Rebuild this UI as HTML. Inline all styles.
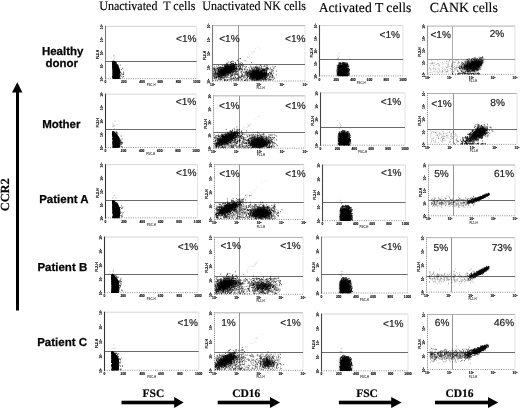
<!DOCTYPE html>
<html><head><meta charset="utf-8"><title>Figure</title>
<style>
html,body{margin:0;padding:0;background:#fff;}
svg{display:block}
text{font-family:"Liberation Sans",sans-serif;fill:#111;opacity:.99}
.p{font-size:10.1px;stroke:#1a1a1a;stroke-width:0.2px;text-rendering:geometricPrecision;fill:#1a1a1a}
.k{font-size:3.3px;font-weight:bold;fill:#000;stroke:#000;stroke-width:.12px}
.k2{font-size:2.9px;font-weight:bold;fill:#333}
.t{font-family:"Liberation Serif",serif;font-size:12.05px;fill:#000;stroke:#000;stroke-width:.15px;text-rendering:geometricPrecision}
.t2{font-family:"Liberation Serif",serif;font-size:13.5px;fill:#000;stroke:#000;stroke-width:.15px;text-rendering:geometricPrecision}
.rl{font-weight:bold;font-size:11.5px;text-anchor:middle;fill:#000;stroke:#000;stroke-width:.25px;text-rendering:geometricPrecision}
.ax{font-family:"Liberation Serif",serif;font-weight:bold;font-size:11.5px;fill:#000;stroke:#000;stroke-width:.2px;text-rendering:geometricPrecision}
</style></head><body>
<svg width="520" height="408" viewBox="0 0 520 408">
<defs>
<filter id="b1" x="-50%" y="-50%" width="200%" height="200%"><feGaussianBlur stdDeviation="0.7"/></filter>
<filter id="b12" x="-50%" y="-50%" width="200%" height="200%"><feGaussianBlur stdDeviation="1.3"/></filter>
</defs>
<rect width="520" height="408" fill="#fff"/>
<text class="t" transform="translate(99.2 10.4) scale(1 1.08)" xml:space="preserve">Unactivated  T cells</text>
<text class="t" transform="translate(202.3 10.4) scale(1 1.08)">Unactivated NK cells</text>
<text class="t2" x="318.7" y="11.6" style="font-size:13.65px">Activated T cells</text>
<text class="t2" x="429.8" y="11.8" style="font-size:13.85px">CANK cells</text>
<text class="rl" x="62.7" y="54.6">Healthy</text>
<text class="rl" x="61.8" y="66.8">donor</text>
<text class="rl" x="61.3" y="128.2">Mother</text>
<text class="rl" x="63.9" y="202.6">Patient A</text>
<text class="rl" x="62.3" y="270.6">Patient B</text>
<text class="rl" x="62.1" y="345.8">Patient C</text>
<rect x="16" y="91" width="3" height="219.5" fill="#000"/>
<path d="M17.3 82.2L22.4 92.4H12Z" fill="#000"/>
<text class="ax" style="font-size:12.4px" transform="translate(9.2 211.3) rotate(-90)">CCR2</text>
<text class="ax" x="142.5" y="396.9">FSC</text>
<rect x="121.5" y="400.7" width="54" height="3.6" fill="#000"/><path d="M174.2 397.1L183.6 402.5L174.2 407.9Z" fill="#000"/>
<text class="ax" x="232.2" y="396.9">CD16</text>
<rect x="217.7" y="400.7" width="53.5" height="3.6" fill="#000"/><path d="M270 397.1L280.1 402.5L270 407.9Z" fill="#000"/>
<text class="ax" x="356.2" y="396.9">FSC</text>
<rect x="338.9" y="400.7" width="53.5" height="3.6" fill="#000"/><path d="M391.2 397.1L401.6 402.5L391.2 407.9Z" fill="#000"/>
<text class="ax" x="445.5" y="396.9">CD16</text>
<rect x="435" y="400.7" width="54" height="3.6" fill="#000"/><path d="M488 397.1L498.2 402.5L488 407.9Z" fill="#000"/>
<path d="M105.50 26.40H196.70" stroke="#cacaca" stroke-width="0.8" fill="none"/><path d="M196.70 26.40V78.70" stroke="#dcdcdc" stroke-width="0.8" fill="none"/>
<line x1="105.50" y1="78.70" x2="196.70" y2="78.70" stroke="#777" stroke-width="0.9" stroke-dasharray="0.9 1.4"/>
<line x1="105.50" y1="25.90" x2="105.50" y2="79.50" stroke="#777" stroke-width="1.1"/>
<line x1="105.50" y1="61.50" x2="196.70" y2="61.50" stroke="#5a5a5a" stroke-width="0.9"/>
<text class="k" transform="translate(103.10 26.70) rotate(-90)" text-anchor="middle">10<tspan dy="-1" font-size="2.2">4</tspan></text>
<text class="k" transform="translate(103.10 39.77) rotate(-90)" text-anchor="middle">10<tspan dy="-1" font-size="2.2">3</tspan></text>
<text class="k" transform="translate(103.10 52.85) rotate(-90)" text-anchor="middle">10<tspan dy="-1" font-size="2.2">2</tspan></text>
<text class="k" transform="translate(103.10 65.92) rotate(-90)" text-anchor="middle">10<tspan dy="-1" font-size="2.2">1</tspan></text>
<text class="k" transform="translate(103.10 79.00) rotate(-90)" text-anchor="middle">10<tspan dy="-1" font-size="2.2">0</tspan></text>
<text class="k" transform="translate(98.90 54.64) rotate(-90)" text-anchor="middle">FL2-H</text>
<text class="k" x="105.50" y="83.30" text-anchor="middle">0</text>
<text class="k" x="123.74" y="83.30" text-anchor="middle">200</text>
<text class="k" x="141.98" y="83.30" text-anchor="middle">400</text>
<text class="k" x="160.22" y="83.30" text-anchor="middle">600</text>
<text class="k" x="178.46" y="83.30" text-anchor="middle">800</text>
<text class="k" x="196.70" y="83.30" text-anchor="middle">1000</text>
<text class="k2" x="151.10" y="86.30" text-anchor="middle">FSC-H</text>
<clipPath id="c11"><rect x="105.5" y="26.4" width="91.2" height="52.6"/></clipPath>
<g clip-path="url(#c11)"><path d="M112.8 63.0L115.1 63.0L118.5 66.0L120.0 69.8L119.7 80.7L112.8 80.7Z" fill="#000" filter="url(#b1)"/></g>
<path d="M114.4 63.9h0.8M115.0 70.1h0.8M114.0 71.8h0.8M113.3 62.3h0.8M114.6 64.3h0.8M112.5 77.3h0.8M112.6 63.0h0.8M112.3 64.0h0.8M116.2 77.6h0.8M117.8 72.2h0.8M112.5 68.0h0.8M113.7 70.3h0.8M118.0 72.9h0.8M113.9 66.4h0.8M112.6 64.1h0.8M113.1 75.0h0.8M115.4 73.0h0.8M117.8 70.4h0.8M113.6 75.4h0.8M112.7 71.0h0.8M117.6 78.2h0.8M115.7 65.2h0.8M114.2 71.0h0.8M113.9 69.9h0.8M118.0 67.7h0.8M113.5 71.7h0.8M114.9 65.7h0.8M115.0 75.2h0.8M115.0 76.3h0.8M112.4 64.0h0.8M113.1 69.6h0.8M112.8 66.4h0.8M115.7 63.2h0.8M118.6 76.8h0.8M112.9 69.0h0.8M112.6 64.3h0.8M112.8 73.0h0.8M114.6 65.2h0.8M116.7 76.9h0.8M112.9 65.4h0.8M112.2 62.4h0.8M112.3 65.2h0.8M112.3 67.6h0.8M115.6 69.6h0.8M113.5 76.9h0.8M114.8 73.4h0.8M115.6 67.5h0.8M112.3 62.1h0.8M114.0 64.5h0.8M120.1 78.4h0.8M113.0 69.5h0.8M114.7 73.3h0.8M114.9 62.7h0.8M113.2 62.4h0.8M118.6 75.9h0.8M118.0 71.6h0.8M114.4 67.0h0.8M113.8 67.1h0.8M115.6 63.3h0.8M113.4 64.7h0.8M114.1 62.2h0.8M114.5 75.8h0.8M116.0 69.6h0.8M112.9 63.9h0.8M113.9 74.1h0.8M113.5 65.1h0.8M113.1 62.8h0.8M115.3 76.8h0.8M112.2 62.2h0.8M112.8 75.2h0.8M119.8 65.0h0.8M114.9 63.4h0.8M114.6 62.1h0.8M112.2 66.7h0.8M115.0 73.9h0.8M117.9 70.0h0.8M118.0 76.0h0.8M112.9 65.4h0.8M116.1 67.1h0.8M115.7 66.1h0.8M116.8 78.1h0.8M113.8 77.5h0.8M114.7 67.5h0.8M114.0 69.1h0.8M115.6 67.0h0.8M120.6 74.3h0.8M112.4 62.5h0.8M115.4 62.9h0.8M113.1 68.5h0.8M113.0 65.9h0.8M119.8 75.9h0.8M114.9 74.2h0.8M114.5 70.9h0.8M117.1 72.8h0.8M114.8 73.4h0.8M115.6 74.8h0.8M122.4 77.3h0.8M112.5 64.3h0.8M113.1 72.3h0.8M113.8 64.2h0.8M113.3 69.2h0.8M113.5 74.9h0.8M113.3 76.7h0.8M122.3 74.5h0.8M114.7 62.4h0.8M114.1 67.8h0.8M114.1 64.5h0.8M117.4 78.5h0.8M115.4 64.2h0.8M112.7 65.9h0.8M114.7 67.8h0.8M112.8 62.8h0.8M117.4 76.3h0.8M114.8 72.4h0.8M113.3 64.5h0.8M112.6 70.1h0.8M112.5 63.1h0.8M113.5 72.0h0.8M115.2 65.7h0.8M112.6 62.4h0.8M112.9 63.7h0.8M114.9 71.1h0.8M113.9 72.4h0.8M114.6 67.2h0.8M120.1 72.5h0.8M113.4 67.7h0.8M113.6 64.0h0.8M113.3 67.1h0.8M114.9 68.4h0.8M113.1 77.0h0.8M112.5 63.7h0.8M113.7 63.2h0.8M116.4 71.2h0.8M113.0 77.9h0.8M112.8 77.0h0.8M112.6 73.5h0.8M112.6 62.9h0.8M112.7 73.2h0.8M115.3 64.2h0.8M112.6 69.6h0.8M114.3 62.6h0.8M113.2 75.2h0.8M118.3 73.8h0.8M113.8 75.2h0.8M123.1 74.5h0.8M116.0 66.3h0.8M116.3 75.0h0.8M114.3 66.0h0.8M112.4 64.1h0.8M113.8 68.3h0.8M116.5 70.1h0.8M112.8 66.6h0.8M114.3 71.9h0.8M113.1 71.9h0.8M114.7 65.8h0.8M123.0 72.2h0.8M114.0 67.8h0.8M115.9 74.1h0.8M113.3 66.6h0.8M115.1 75.1h0.8M112.9 68.7h0.8M117.4 71.0h0.8M115.8 73.0h0.8M116.1 66.1h0.8M114.7 78.2h0.8M114.6 63.4h0.8M114.8 67.2h0.8M114.8 71.0h0.8M114.1 62.3h0.8M112.3 64.4h0.8M112.4 75.1h0.8M114.6 74.9h0.8M115.2 72.4h0.8M119.4 76.9h0.8M115.2 74.4h0.8M114.0 66.8h0.8M117.6 72.6h0.8M115.4 67.5h0.8M115.2 74.3h0.8M122.3 68.2h0.8M113.8 64.4h0.8M116.2 76.4h0.8M115.7 73.3h0.8M112.6 74.2h0.8M112.8 71.1h0.8M112.8 74.9h0.8M114.5 69.3h0.8M116.1 71.2h0.8M114.9 62.8h0.8M112.3 71.1h0.8M114.1 75.4h0.8M123.0 73.6h0.8M117.0 70.1h0.8M112.9 63.6h0.8M112.7 76.4h0.8M114.2 68.0h0.8M113.6 63.3h0.8M118.8 72.1h0.8M117.2 69.4h0.8M115.5 69.0h0.8M114.7 76.0h0.8M113.5 64.1h0.8M112.6 72.1h0.8M113.1 68.7h0.8M113.5 70.6h0.8M117.0 70.1h0.8M114.4 64.0h0.8M114.8 70.4h0.8M112.6 76.2h0.8M113.7 64.7h0.8M114.3 62.0h0.8M114.1 62.9h0.8M116.6 69.5h0.8M113.9 78.1h0.8M112.5 62.5h0.8M115.6 78.3h0.8M118.7 70.8h0.8M113.2 63.8h0.8M116.0 68.8h0.8M116.5 65.3h0.8M113.3 73.7h0.8M114.1 70.8h0.8M112.4 66.6h0.8M112.8 66.1h0.8M112.3 76.3h0.8M114.3 74.6h0.8M118.0 69.1h0.8M115.8 68.6h0.8M115.1 74.1h0.8M115.9 78.0h0.8M112.3 63.1h0.8M112.6 64.5h0.8M115.3 67.9h0.8M113.5 70.3h0.8M112.7 63.0h0.8M112.9 62.7h0.8M112.8 65.5h0.8M114.6 68.2h0.8M114.9 72.0h0.8M112.7 62.3h0.8M113.5 62.6h0.8M115.6 69.3h0.8M112.3 76.4h0.8M114.3 67.9h0.8M112.7 76.6h0.8M117.0 77.3h0.8M116.6 68.6h0.8M112.6 67.9h0.8M116.0 64.4h0.8M117.7 71.4h0.8M112.4 63.2h0.8M119.9 72.9h0.8M113.8 75.3h0.8M112.8 77.1h0.8M116.1 69.3h0.8M112.4 63.8h0.8M114.6 76.9h0.8M114.5 76.3h0.8M116.1 78.0h0.8M115.1 71.7h0.8M115.6 73.0h0.8M112.2 68.0h0.8M113.3 64.9h0.8M113.8 66.7h0.8M115.1 73.8h0.8M113.5 67.2h0.8M121.2 73.3h0.8M113.9 70.2h0.8M115.5 69.3h0.8M116.7 78.0h0.8M113.9 64.6h0.8M113.0 69.9h0.8M113.1 64.5h0.8M115.3 77.5h0.8M113.3 70.0h0.8M115.9 67.3h0.8M113.8 64.6h0.8M115.1 71.7h0.8M112.6 68.5h0.8M113.2 63.9h0.8M112.7 62.3h0.8M116.3 68.3h0.8M113.5 71.5h0.8M114.0 70.5h0.8M113.9 76.8h0.8M117.4 77.0h0.8M113.0 77.4h0.8M113.4 75.2h0.8M112.8 69.8h0.8M116.4 70.5h0.8M113.0 68.4h0.8M114.8 68.5h0.8M113.8 62.5h0.8M112.7 75.1h0.8M114.4 65.9h0.8M113.2 62.3h0.8M114.0 69.6h0.8M117.6 73.8h0.8M115.5 69.1h0.8M116.1 67.9h0.8M119.2 72.8h0.8M115.0 64.5h0.8M113.6 62.0h0.8M113.6 71.7h0.8M115.6 70.7h0.8M114.3 76.3h0.8M115.1 68.7h0.8M116.0 74.9h0.8M112.7 62.1h0.8M112.6 62.3h0.8M113.3 71.8h0.8M113.8 65.6h0.8M113.2 62.9h0.8M112.5 63.9h0.8M112.5 68.1h0.8M114.6 67.4h0.8M115.1 71.2h0.8M112.8 76.6h0.8M113.7 67.9h0.8M113.4 64.9h0.8M118.9 71.5h0.8M114.5 61.8h0.8M113.4 68.2h0.8M115.1 67.1h0.8M116.9 68.3h0.8M115.3 62.6h0.8M112.7 71.1h0.8M113.8 72.2h0.8M115.5 74.3h0.8M113.9 77.8h0.8M113.8 67.7h0.8M112.4 72.8h0.8M112.6 69.2h0.8M113.0 65.4h0.8M112.9 76.7h0.8M114.1 74.3h0.8M113.4 75.5h0.8M114.1 77.1h0.8M112.3 63.9h0.8M112.3 62.1h0.8M114.2 65.1h0.8M115.6 68.7h0.8M117.0 73.3h0.8M115.4 69.1h0.8M114.0 70.4h0.8M116.2 74.5h0.8M112.5 63.0h0.8M116.9 73.1h0.8M115.9 62.6h0.8M113.1 66.0h0.8M115.9 73.9h0.8M114.7 73.2h0.8M116.5 68.6h0.8M112.6 66.7h0.8M115.2 75.6h0.8M115.0 66.4h0.8M113.4 62.3h0.8M112.5 65.9h0.8M114.3 62.2h0.8M114.5 75.3h0.8M115.6 63.8h0.8M115.4 78.1h0.8M112.9 65.4h0.8M113.0 66.9h0.8M114.3 71.6h0.8M112.2 66.9h0.8M115.1 68.1h0.8M112.9 63.5h0.8M116.2 68.3h0.8M112.5 62.2h0.8M113.3 65.5h0.8M112.5 77.0h0.8M112.9 66.5h0.8M113.8 66.3h0.8M113.8 73.1h0.8M113.0 76.5h0.8M113.0 66.7h0.8M114.3 68.1h0.8M112.6 73.7h0.8M120.0 75.0h0.8M114.2 72.1h0.8M115.6 64.8h0.8M113.7 64.8h0.8M117.1 74.5h0.8M115.5 73.6h0.8M117.9 76.8h0.8M117.8 74.8h0.8M114.0 68.8h0.8M112.6 64.0h0.8M114.3 76.7h0.8M112.9 73.4h0.8M114.8 71.4h0.8M113.2 73.2h0.8M116.4 68.2h0.8M114.0 67.5h0.8M114.0 71.4h0.8M113.6 69.9h0.8M116.7 73.6h0.8M113.9 77.4h0.8M115.2 75.9h0.8M117.9 68.3h0.8M116.3 68.0h0.8M113.2 77.3h0.8M115.2 68.4h0.8M118.1 75.2h0.8M113.1 63.3h0.8M113.4 69.3h0.8M113.4 70.4h0.8M114.6 75.3h0.8M123.3 76.5h0.8M114.3 64.3h0.8M113.6 72.1h0.8M117.7 72.3h0.8M112.5 64.3h0.8M113.8 75.7h0.8M116.0 71.0h0.8M114.0 77.9h0.8M117.0 64.9h0.8M119.3 70.6h0.8M112.4 67.2h0.8M115.4 72.5h0.8M112.9 72.0h0.8M112.9 70.4h0.8M112.7 67.2h0.8M113.5 70.2h0.8M113.9 68.0h0.8M118.8 76.7h0.8M116.2 69.5h0.8M115.4 69.7h0.8M114.2 66.1h0.8M112.7 66.0h0.8M113.7 77.7h0.8M116.3 67.0h0.8M116.2 76.3h0.8M115.7 71.7h0.8M112.6 78.2h0.8M114.2 64.5h0.8M112.3 77.5h0.8M112.8 74.7h0.8M116.2 71.3h0.8M113.9 73.6h0.8M118.1 73.9h0.8M112.4 69.3h0.8M116.2 72.4h0.8M116.9 65.6h0.8M114.8 62.2h0.8M115.1 73.1h0.8M120.8 69.7h0.8M113.1 76.9h0.8M113.3 66.2h0.8M116.3 75.5h0.8M113.1 78.3h0.8M115.6 76.8h0.8M116.5 77.9h0.8M117.4 64.5h0.8M114.0 64.6h0.8M112.8 65.6h0.8M114.8 67.8h0.8M115.4 63.7h0.8M112.6 64.3h0.8M113.6 62.1h0.8M115.5 77.4h0.8M117.6 67.8h0.8M116.1 72.3h0.8M116.7 69.4h0.8M117.9 74.2h0.8M118.2 75.3h0.8M113.0 68.2h0.8M116.4 70.7h0.8M113.4 63.4h0.8M115.2 66.6h0.8M117.7 65.5h0.8M114.5 67.0h0.8M112.6 67.2h0.8M112.8 71.4h0.8M116.9 67.4h0.8M113.4 67.3h0.8M114.9 75.7h0.8M113.2 62.0h0.8M113.1 61.9h0.8M113.1 62.8h0.8M120.8 76.3h0.8M116.8 72.4h0.8M113.7 74.0h0.8M113.2 77.8h0.8M113.0 65.4h0.8M118.3 77.2h0.8M116.2 65.9h0.8M117.0 70.5h0.8M114.9 73.2h0.8M116.9 75.1h0.8M114.3 65.9h0.8M112.8 69.8h0.8M113.4 62.6h0.8M113.4 66.6h0.8M113.9 78.2h0.8M112.8 76.9h0.8M114.4 71.5h0.8M113.0 74.9h0.8M112.9 76.9h0.8M113.5 67.3h0.8M113.0 78.2h0.8M115.8 69.3h0.8M113.0 64.5h0.8M115.0 70.7h0.8M119.9 71.7h0.8M115.6 73.4h0.8M114.1 73.0h0.8M113.6 62.5h0.8M114.6 72.5h0.8M114.6 77.2h0.8" stroke="#000" stroke-width="0.75" stroke-opacity="1.00" fill="none"/>
<path d="M114.0 57.9h0.7M111.4 57.9h0.7M113.6 62.7h0.7M111.8 60.5h0.7M113.2 60.1h0.7M114.5 55.9h0.7M113.3 60.4h0.7M113.0 55.6h0.7M114.2 60.1h0.7M113.3 56.1h0.7" stroke="#000" stroke-width="0.70" stroke-opacity="0.40" fill="none"/>
<text x="196.55" y="41.50" text-anchor="end" class="p">&lt;1%</text>
<path d="M105.50 94.10H196.00" stroke="#cacaca" stroke-width="0.8" fill="none"/><path d="M196.00 94.10V147.50" stroke="#dcdcdc" stroke-width="0.8" fill="none"/>
<line x1="105.50" y1="147.50" x2="196.00" y2="147.50" stroke="#777" stroke-width="0.9" stroke-dasharray="0.9 1.4"/>
<line x1="105.50" y1="93.60" x2="105.50" y2="148.30" stroke="#333" stroke-width="1.1"/>
<line x1="105.50" y1="129.50" x2="196.00" y2="129.50" stroke="#5a5a5a" stroke-width="0.9"/>
<text class="k" transform="translate(103.10 94.40) rotate(-90)" text-anchor="middle">10<tspan dy="-1" font-size="2.2">4</tspan></text>
<text class="k" transform="translate(103.10 107.75) rotate(-90)" text-anchor="middle">10<tspan dy="-1" font-size="2.2">3</tspan></text>
<text class="k" transform="translate(103.10 121.10) rotate(-90)" text-anchor="middle">10<tspan dy="-1" font-size="2.2">2</tspan></text>
<text class="k" transform="translate(103.10 134.45) rotate(-90)" text-anchor="middle">10<tspan dy="-1" font-size="2.2">1</tspan></text>
<text class="k" transform="translate(103.10 147.80) rotate(-90)" text-anchor="middle">10<tspan dy="-1" font-size="2.2">0</tspan></text>
<text class="k" transform="translate(98.90 122.94) rotate(-90)" text-anchor="middle">FL2-H</text>
<text class="k" x="105.50" y="152.10" text-anchor="middle">0</text>
<text class="k" x="123.60" y="152.10" text-anchor="middle">200</text>
<text class="k" x="141.70" y="152.10" text-anchor="middle">400</text>
<text class="k" x="159.80" y="152.10" text-anchor="middle">600</text>
<text class="k" x="177.90" y="152.10" text-anchor="middle">800</text>
<text class="k" x="196.00" y="152.10" text-anchor="middle">1000</text>
<text class="k2" x="150.75" y="155.10" text-anchor="middle">FSC-H</text>
<clipPath id="c21"><rect x="105.5" y="94.1" width="90.5" height="53.7"/></clipPath>
<g clip-path="url(#c21)"><path d="M112.8 133.0L115.1 133.0L118.5 136.0L120.0 139.8L119.7 149.5L112.8 149.5Z" fill="#000" filter="url(#b1)"/></g>
<path d="M118.4 140.8h0.8M114.7 137.1h0.8M112.6 135.5h0.8M113.0 132.9h0.8M114.3 135.6h0.8M114.0 136.3h0.8M115.1 137.1h0.8M115.1 147.1h0.8M117.0 141.0h0.8M116.2 134.8h0.8M113.4 137.5h0.8M115.8 138.5h0.8M114.6 133.1h0.8M115.1 139.1h0.8M113.9 139.7h0.8M117.2 145.9h0.8M113.9 138.5h0.8M113.7 142.5h0.8M112.2 142.3h0.8M113.2 134.5h0.8M115.6 140.6h0.8M113.8 134.3h0.8M113.5 132.2h0.8M114.0 147.2h0.8M115.1 133.2h0.8M113.2 145.5h0.8M115.1 137.5h0.8M117.3 133.1h0.8M114.5 146.8h0.8M114.1 142.0h0.8M115.1 138.1h0.8M114.3 144.8h0.8M115.9 142.8h0.8M116.9 138.2h0.8M116.3 142.9h0.8M114.3 143.2h0.8M112.3 134.5h0.8M120.1 146.0h0.8M115.8 142.5h0.8M119.9 144.2h0.8M112.8 147.1h0.8M116.8 144.1h0.8M114.8 139.1h0.8M115.8 140.5h0.8M115.0 143.7h0.8M115.1 141.6h0.8M112.7 132.9h0.8M112.7 132.7h0.8M113.9 136.0h0.8M112.9 144.5h0.8M113.1 135.2h0.8M113.9 136.7h0.8M115.8 144.6h0.8M112.6 133.8h0.8M117.4 136.1h0.8M112.9 135.8h0.8M112.2 132.5h0.8M116.4 143.3h0.8M114.9 136.8h0.8M116.2 138.1h0.8M113.2 137.0h0.8M112.8 132.8h0.8M115.6 144.9h0.8M115.8 133.9h0.8M113.8 136.2h0.8M115.9 143.0h0.8M114.3 137.2h0.8M115.4 139.7h0.8M113.7 136.9h0.8M114.9 140.5h0.8M115.4 136.7h0.8M121.7 138.9h0.8M112.5 131.9h0.8M112.3 132.0h0.8M115.6 139.7h0.8M114.5 144.5h0.8M113.5 147.3h0.8M117.9 139.9h0.8M114.0 141.8h0.8M114.0 142.2h0.8M113.9 143.1h0.8M116.3 147.2h0.8M115.6 137.1h0.8M114.4 138.7h0.8M113.0 143.9h0.8M116.5 135.1h0.8M114.6 133.3h0.8M115.0 145.7h0.8M112.3 132.0h0.8M118.4 145.7h0.8M112.9 146.0h0.8M113.4 134.4h0.8M113.5 136.3h0.8M120.8 136.0h0.8M113.7 147.0h0.8M118.7 145.5h0.8M113.6 143.6h0.8M113.4 138.6h0.8M112.7 147.1h0.8M116.5 140.6h0.8M112.7 147.0h0.8M121.0 143.0h0.8M112.6 132.5h0.8M115.8 144.2h0.8M112.4 144.8h0.8M114.2 145.5h0.8M112.7 141.4h0.8M112.7 132.4h0.8M118.9 145.2h0.8M115.4 138.3h0.8M115.6 134.8h0.8M115.7 135.0h0.8M113.9 134.9h0.8M115.8 144.4h0.8M112.3 132.9h0.8M112.8 146.0h0.8M112.8 132.1h0.8M118.9 143.0h0.8M113.0 135.4h0.8M117.1 139.8h0.8M112.2 134.5h0.8M115.0 145.7h0.8M117.4 134.2h0.8M115.3 139.0h0.8M112.9 141.2h0.8M113.4 138.8h0.8M114.2 135.2h0.8M116.1 136.3h0.8M115.1 146.3h0.8M115.9 133.7h0.8M113.1 132.1h0.8M115.6 145.9h0.8M113.4 145.5h0.8M114.5 142.4h0.8M112.8 139.1h0.8M113.9 146.6h0.8M119.0 138.2h0.8M112.5 132.0h0.8M116.2 138.5h0.8M113.8 140.0h0.8M116.8 140.3h0.8M113.2 145.6h0.8M113.4 132.8h0.8M117.5 145.0h0.8M116.8 139.9h0.8M115.5 143.1h0.8M115.3 138.2h0.8M114.3 136.4h0.8M114.0 137.0h0.8M114.8 136.1h0.8M112.9 138.8h0.8M120.1 141.1h0.8M113.2 144.7h0.8M113.5 134.5h0.8M114.1 138.8h0.8M117.3 140.0h0.8M118.1 144.5h0.8M113.9 142.8h0.8M116.8 141.5h0.8M112.5 142.3h0.8M116.2 138.7h0.8M120.9 144.3h0.8M115.0 144.8h0.8M113.1 140.6h0.8M112.7 133.6h0.8M112.4 138.4h0.8M113.3 135.9h0.8M112.4 134.8h0.8M115.6 136.4h0.8M113.6 144.5h0.8M114.1 137.2h0.8M117.9 138.5h0.8M115.6 137.7h0.8M112.8 134.7h0.8M114.9 140.7h0.8M115.1 138.3h0.8M119.2 146.3h0.8M116.5 141.4h0.8M113.8 147.0h0.8M116.1 145.1h0.8M117.0 139.4h0.8M116.5 132.1h0.8M113.7 135.1h0.8M112.4 133.6h0.8M112.3 143.2h0.8M112.2 133.9h0.8M115.3 141.8h0.8M117.2 136.8h0.8M114.6 139.2h0.8M114.0 143.5h0.8M117.1 136.4h0.8M113.1 134.5h0.8M115.0 136.3h0.8M115.4 146.4h0.8M119.0 140.4h0.8M112.5 136.3h0.8M114.4 134.1h0.8M114.0 132.9h0.8M115.4 137.0h0.8M115.3 141.3h0.8M112.6 138.9h0.8M113.0 144.4h0.8M115.3 147.2h0.8M115.0 140.6h0.8M113.1 137.1h0.8M113.9 144.1h0.8M113.4 133.2h0.8M114.1 143.6h0.8M114.7 145.5h0.8M113.5 133.3h0.8M113.1 140.8h0.8M113.7 144.2h0.8M116.1 138.2h0.8M114.4 144.9h0.8M113.8 134.4h0.8M115.0 140.0h0.8M113.6 140.5h0.8M114.0 144.0h0.8M113.0 138.2h0.8M114.7 135.8h0.8M115.8 142.8h0.8M113.6 133.6h0.8M116.7 137.5h0.8M115.3 139.1h0.8M113.8 144.0h0.8M113.7 138.4h0.8M113.8 140.5h0.8M119.5 142.3h0.8M115.7 142.3h0.8M113.5 146.7h0.8M115.4 139.0h0.8M113.6 140.7h0.8M112.5 132.1h0.8M113.0 134.8h0.8M112.8 135.7h0.8M112.3 135.1h0.8M113.3 139.8h0.8M115.5 134.9h0.8M113.9 140.6h0.8M116.8 144.6h0.8M113.1 132.9h0.8M113.7 135.6h0.8M114.7 139.5h0.8M114.0 132.5h0.8M113.6 134.0h0.8M116.9 140.7h0.8M115.6 138.0h0.8M115.1 145.8h0.8M113.2 140.6h0.8M114.7 143.5h0.8M113.8 137.2h0.8M114.4 137.6h0.8M113.2 145.0h0.8M116.8 141.3h0.8M113.1 146.0h0.8M114.1 135.7h0.8M112.9 133.6h0.8M119.6 142.3h0.8M113.3 133.7h0.8M115.7 133.0h0.8M114.1 137.9h0.8M121.5 142.4h0.8M114.3 137.4h0.8M117.3 143.5h0.8M114.1 138.9h0.8M114.7 136.2h0.8M115.3 140.1h0.8M114.8 141.2h0.8M114.3 134.1h0.8M114.4 141.0h0.8M114.0 134.4h0.8M115.2 146.8h0.8M115.4 140.0h0.8M112.5 135.0h0.8M113.1 132.5h0.8M113.8 135.1h0.8M113.3 136.7h0.8M114.5 140.7h0.8M120.8 142.1h0.8M114.0 142.8h0.8M118.5 138.6h0.8M117.9 140.4h0.8M114.2 136.4h0.8M114.6 135.2h0.8M114.2 138.0h0.8M114.3 142.5h0.8M112.8 133.9h0.8M113.4 141.7h0.8M112.9 132.1h0.8M114.7 134.6h0.8M117.0 142.2h0.8M113.0 144.3h0.8M116.8 142.4h0.8M114.9 135.7h0.8M117.2 147.1h0.8M113.0 141.1h0.8M114.5 145.9h0.8M115.1 146.3h0.8M114.7 135.5h0.8M114.1 146.8h0.8M112.4 133.1h0.8M112.3 141.7h0.8M114.4 135.8h0.8M112.7 133.3h0.8M114.6 140.6h0.8M115.9 135.1h0.8M114.4 144.0h0.8M118.4 139.0h0.8M114.4 136.0h0.8M113.6 132.0h0.8M113.2 142.5h0.8M114.8 141.7h0.8M120.4 144.3h0.8M115.1 137.7h0.8M112.9 146.0h0.8M112.7 132.2h0.8M115.5 146.0h0.8M121.7 143.7h0.8M113.2 133.4h0.8M117.3 147.1h0.8M113.8 133.2h0.8M114.9 143.4h0.8M112.9 135.6h0.8M112.5 142.5h0.8M113.0 144.8h0.8M113.0 133.6h0.8M113.0 136.8h0.8M114.3 145.7h0.8M117.5 139.2h0.8M114.5 134.2h0.8M112.6 133.1h0.8M112.3 133.7h0.8M112.3 133.4h0.8M113.6 137.3h0.8M112.8 143.8h0.8M114.2 138.8h0.8M112.9 133.3h0.8M113.1 137.3h0.8M112.2 139.3h0.8M115.8 138.7h0.8M118.6 141.7h0.8M114.3 142.3h0.8M112.5 143.4h0.8M112.9 140.1h0.8M112.9 132.3h0.8M113.7 143.7h0.8M114.3 143.9h0.8M115.5 143.1h0.8M113.0 138.6h0.8M112.7 145.5h0.8M112.6 133.3h0.8M116.1 143.3h0.8M119.6 141.0h0.8M112.6 132.8h0.8M113.0 132.3h0.8M116.1 134.5h0.8M113.9 139.8h0.8M117.3 140.7h0.8M112.5 134.6h0.8M112.4 136.3h0.8M118.9 146.0h0.8M114.7 136.8h0.8M117.9 138.7h0.8M112.2 133.5h0.8M116.8 140.6h0.8M120.5 142.7h0.8M113.8 143.3h0.8M114.0 135.4h0.8M113.2 137.5h0.8M113.5 141.9h0.8M115.4 146.9h0.8M117.0 143.7h0.8M113.7 135.2h0.8M112.5 132.8h0.8M113.7 136.9h0.8M114.8 140.0h0.8M115.2 136.0h0.8M118.0 144.0h0.8M113.7 135.8h0.8M113.2 133.7h0.8M120.2 141.1h0.8M118.7 143.6h0.8M115.3 135.0h0.8M115.3 137.0h0.8M115.1 135.8h0.8M113.4 132.2h0.8M121.3 142.4h0.8M113.6 132.6h0.8M115.0 141.3h0.8M114.9 141.5h0.8M113.7 140.0h0.8M112.4 132.5h0.8M116.0 132.4h0.8M120.4 139.8h0.8M115.4 139.4h0.8M113.4 132.0h0.8M112.3 132.0h0.8M112.6 143.8h0.8M113.6 136.8h0.8M115.4 142.9h0.8M114.5 134.9h0.8M112.4 135.9h0.8M113.4 145.7h0.8M112.8 134.9h0.8M114.6 138.1h0.8M113.0 139.5h0.8M113.4 142.8h0.8M112.6 136.8h0.8M116.7 141.9h0.8M113.9 135.2h0.8M113.3 142.4h0.8M113.9 132.1h0.8M113.1 134.7h0.8M113.5 132.7h0.8M114.3 133.4h0.8M120.1 143.4h0.8M112.6 139.0h0.8M117.0 143.9h0.8M114.5 146.9h0.8M112.4 134.7h0.8M114.1 143.7h0.8M112.5 146.9h0.8M115.5 136.6h0.8M113.3 133.0h0.8M115.1 139.0h0.8M113.9 140.2h0.8M114.0 142.5h0.8M114.8 140.6h0.8M113.0 136.5h0.8M113.9 134.3h0.8M117.0 137.1h0.8M117.2 139.1h0.8M114.9 134.7h0.8M112.5 136.4h0.8M113.9 145.5h0.8M114.1 138.4h0.8M115.1 133.7h0.8M115.3 142.1h0.8M112.6 137.3h0.8M114.3 139.8h0.8M114.8 133.6h0.8M112.8 143.2h0.8M114.0 140.6h0.8M113.9 147.1h0.8M115.7 131.9h0.8M114.0 140.7h0.8M115.1 138.4h0.8M112.4 138.5h0.8M114.2 143.0h0.8M112.7 135.6h0.8M113.7 138.0h0.8M112.3 133.9h0.8M115.4 140.6h0.8M112.6 138.6h0.8M113.0 132.5h0.8M112.3 135.4h0.8M113.5 137.9h0.8M116.3 140.0h0.8M112.6 133.2h0.8M116.5 141.4h0.8M112.6 144.5h0.8M114.8 137.0h0.8M112.7 132.8h0.8M113.2 134.1h0.8M113.0 143.6h0.8M115.0 140.0h0.8M113.3 133.9h0.8M112.9 134.4h0.8M117.5 144.7h0.8M115.3 142.3h0.8M113.9 142.6h0.8M112.4 134.0h0.8M113.7 147.2h0.8M114.6 135.7h0.8M112.7 137.3h0.8M113.6 135.4h0.8M121.0 146.4h0.8M114.1 141.6h0.8M120.4 140.4h0.8M114.2 138.2h0.8M113.7 142.9h0.8M116.8 139.1h0.8M114.1 139.0h0.8M113.0 134.2h0.8M113.8 144.6h0.8M114.2 132.8h0.8M118.5 145.9h0.8M115.2 146.0h0.8M112.3 139.9h0.8M114.5 134.3h0.8M112.3 135.2h0.8M112.5 134.0h0.8M119.7 142.7h0.8M113.3 137.4h0.8M122.2 147.0h0.8M113.1 137.1h0.8M116.3 136.9h0.8M121.7 142.3h0.8M118.4 145.4h0.8M113.2 140.0h0.8M113.6 133.7h0.8M113.0 134.4h0.8M122.3 142.9h0.8M117.0 143.7h0.8M117.4 147.1h0.8M113.7 140.7h0.8M114.9 143.9h0.8M115.3 142.3h0.8M115.2 140.3h0.8M115.9 144.3h0.8" stroke="#000" stroke-width="0.75" stroke-opacity="1.00" fill="none"/>
<path d="M112.9 125.1h0.7M114.1 128.7h0.7M114.6 125.9h0.7M114.6 121.2h0.7M112.6 126.7h0.7M112.5 124.6h0.7M113.7 125.7h0.7M112.5 123.0h0.7M116.7 124.7h0.7M112.7 126.6h0.7" stroke="#000" stroke-width="0.70" stroke-opacity="0.40" fill="none"/>
<text x="196.35" y="104.80" text-anchor="end" class="p">&lt;1%</text>
<path d="M105.50 164.65H197.50" stroke="#cacaca" stroke-width="0.8" fill="none"/><path d="M197.50 164.65V217.90" stroke="#dcdcdc" stroke-width="0.8" fill="none"/>
<line x1="105.50" y1="217.90" x2="197.50" y2="217.90" stroke="#777" stroke-width="0.9" stroke-dasharray="0.9 1.4"/>
<line x1="105.50" y1="164.15" x2="105.50" y2="218.70" stroke="#333" stroke-width="1.1"/>
<line x1="105.50" y1="200.50" x2="197.50" y2="200.50" stroke="#5a5a5a" stroke-width="0.9"/>
<text class="k" transform="translate(103.10 164.95) rotate(-90)" text-anchor="middle">10<tspan dy="-1" font-size="2.2">4</tspan></text>
<text class="k" transform="translate(103.10 178.26) rotate(-90)" text-anchor="middle">10<tspan dy="-1" font-size="2.2">3</tspan></text>
<text class="k" transform="translate(103.10 191.58) rotate(-90)" text-anchor="middle">10<tspan dy="-1" font-size="2.2">2</tspan></text>
<text class="k" transform="translate(103.10 204.89) rotate(-90)" text-anchor="middle">10<tspan dy="-1" font-size="2.2">1</tspan></text>
<text class="k" transform="translate(103.10 218.20) rotate(-90)" text-anchor="middle">10<tspan dy="-1" font-size="2.2">0</tspan></text>
<text class="k" transform="translate(98.90 193.41) rotate(-90)" text-anchor="middle">FL2-H</text>
<text class="k" x="105.50" y="222.50" text-anchor="middle">0</text>
<text class="k" x="123.90" y="222.50" text-anchor="middle">200</text>
<text class="k" x="142.30" y="222.50" text-anchor="middle">400</text>
<text class="k" x="160.70" y="222.50" text-anchor="middle">600</text>
<text class="k" x="179.10" y="222.50" text-anchor="middle">800</text>
<text class="k" x="197.50" y="222.50" text-anchor="middle">1000</text>
<text class="k2" x="151.50" y="225.50" text-anchor="middle">FSC-H</text>
<clipPath id="c31"><rect x="105.5" y="164.7" width="92.0" height="53.5"/></clipPath>
<g clip-path="url(#c31)"><path d="M112.8 202.0L115.1 202.0L118.5 205.0L120.0 208.8L119.7 219.9L112.8 219.9Z" fill="#000" filter="url(#b1)"/></g>
<path d="M112.9 201.0h0.8M118.0 214.9h0.8M119.0 215.4h0.8M112.6 202.4h0.8M112.3 201.1h0.8M114.3 211.7h0.8M114.1 210.7h0.8M112.5 203.7h0.8M116.1 208.1h0.8M113.5 202.4h0.8M117.6 207.8h0.8M119.5 209.7h0.8M119.4 215.9h0.8M113.0 207.1h0.8M113.9 203.5h0.8M112.7 216.9h0.8M116.3 211.6h0.8M112.6 203.1h0.8M113.5 201.8h0.8M115.0 207.2h0.8M113.9 204.9h0.8M117.8 207.0h0.8M117.5 205.4h0.8M112.5 216.2h0.8M115.5 214.5h0.8M114.3 212.1h0.8M113.0 202.3h0.8M115.3 214.2h0.8M112.7 207.5h0.8M114.7 215.5h0.8M114.1 201.7h0.8M113.5 203.3h0.8M113.5 203.0h0.8M116.5 214.6h0.8M113.2 216.9h0.8M117.3 213.4h0.8M115.0 206.0h0.8M112.2 201.7h0.8M117.4 217.1h0.8M112.9 203.7h0.8M112.9 214.5h0.8M114.0 208.8h0.8M115.8 206.5h0.8M114.0 207.7h0.8M112.9 202.1h0.8M112.5 202.8h0.8M114.2 215.5h0.8M116.3 208.5h0.8M114.6 212.2h0.8M115.1 206.4h0.8M115.8 209.0h0.8M116.4 214.2h0.8M113.8 211.7h0.8M116.4 207.5h0.8M116.9 208.6h0.8M114.5 217.5h0.8M113.6 201.3h0.8M120.3 207.6h0.8M112.3 203.0h0.8M112.7 202.6h0.8M113.4 201.7h0.8M113.9 213.7h0.8M113.0 208.5h0.8M112.6 210.1h0.8M114.3 205.9h0.8M115.2 207.5h0.8M112.8 208.4h0.8M114.9 214.8h0.8M113.4 202.3h0.8M113.8 203.8h0.8M112.6 203.7h0.8M114.5 208.7h0.8M114.1 208.9h0.8M113.5 212.3h0.8M112.4 217.5h0.8M113.9 216.3h0.8M115.1 204.9h0.8M118.8 207.7h0.8M114.4 209.8h0.8M118.2 214.2h0.8M116.1 209.4h0.8M114.1 203.5h0.8M113.3 201.6h0.8M113.1 206.5h0.8M114.6 211.1h0.8M113.9 203.8h0.8M116.9 208.5h0.8M112.3 207.3h0.8M113.7 217.0h0.8M122.7 212.6h0.8M114.6 217.3h0.8M113.3 209.6h0.8M113.2 209.1h0.8M116.1 217.3h0.8M113.1 207.7h0.8M114.0 210.2h0.8M114.4 201.2h0.8M115.6 203.7h0.8M114.7 205.6h0.8M112.8 204.9h0.8M112.7 208.1h0.8M113.2 215.8h0.8M117.4 204.3h0.8M113.5 201.6h0.8M117.2 210.3h0.8M114.8 206.9h0.8M112.8 201.6h0.8M118.8 213.6h0.8M114.9 216.6h0.8M117.1 213.4h0.8M115.7 214.3h0.8M119.1 213.6h0.8M115.5 217.3h0.8M112.4 203.2h0.8M113.9 215.6h0.8M117.1 212.7h0.8M112.7 216.8h0.8M114.5 215.1h0.8M116.0 210.1h0.8M114.4 211.9h0.8M113.8 205.0h0.8M115.2 206.5h0.8M117.2 203.3h0.8M113.4 207.6h0.8M114.2 214.8h0.8M112.4 206.6h0.8M113.5 215.7h0.8M113.6 204.1h0.8M112.4 211.7h0.8M117.2 204.8h0.8M113.9 211.6h0.8M113.2 214.1h0.8M118.5 215.6h0.8M114.0 213.7h0.8M114.9 203.2h0.8M114.0 212.4h0.8M114.2 205.8h0.8M113.4 209.4h0.8M113.0 203.2h0.8M121.2 208.3h0.8M116.1 211.9h0.8M113.6 202.7h0.8M114.7 210.8h0.8M114.3 215.8h0.8M113.4 209.7h0.8M112.5 206.3h0.8M113.0 204.3h0.8M113.9 208.6h0.8M113.5 207.5h0.8M113.4 212.5h0.8M116.7 213.3h0.8M119.3 212.6h0.8M116.0 213.6h0.8M116.8 214.2h0.8M112.8 213.1h0.8M114.0 205.0h0.8M114.7 210.6h0.8M113.3 207.4h0.8M112.8 202.1h0.8M117.6 211.4h0.8M115.1 203.2h0.8M116.7 212.4h0.8M115.2 209.9h0.8M112.5 202.0h0.8M119.1 207.9h0.8M116.2 210.0h0.8M114.4 205.0h0.8M116.2 216.5h0.8M114.7 216.9h0.8M112.8 202.6h0.8M113.0 212.9h0.8M113.4 208.0h0.8M116.8 214.9h0.8M113.6 216.6h0.8M117.4 209.3h0.8M118.8 211.5h0.8M112.9 207.0h0.8M115.5 212.1h0.8M112.2 217.5h0.8M113.9 206.4h0.8M112.7 201.3h0.8M113.4 217.2h0.8M112.6 201.3h0.8M115.3 212.4h0.8M113.2 210.6h0.8M114.1 207.6h0.8M112.6 216.5h0.8M112.3 202.8h0.8M114.4 204.8h0.8M113.4 214.8h0.8M113.0 200.9h0.8M113.9 205.2h0.8M114.3 203.7h0.8M116.9 207.9h0.8M112.9 213.2h0.8M114.0 216.9h0.8M117.0 204.9h0.8M112.4 201.0h0.8M120.3 213.3h0.8M113.0 216.2h0.8M112.2 201.0h0.8M115.3 211.2h0.8M116.5 210.8h0.8M113.4 210.2h0.8M113.7 211.4h0.8M112.8 205.5h0.8M118.8 215.9h0.8M112.7 204.5h0.8M117.8 216.8h0.8M121.0 216.9h0.8M116.4 214.9h0.8M112.4 207.3h0.8M115.6 216.8h0.8M114.0 204.4h0.8M114.1 209.1h0.8M116.1 209.3h0.8M113.2 203.2h0.8M114.0 217.5h0.8M113.2 203.9h0.8M118.6 208.9h0.8M112.8 202.3h0.8M115.7 205.5h0.8M114.6 214.8h0.8M114.6 212.3h0.8M117.3 211.8h0.8M112.5 203.7h0.8M116.9 212.0h0.8M114.2 215.8h0.8M112.7 201.0h0.8M113.2 205.9h0.8M113.1 205.1h0.8M113.9 202.3h0.8M121.9 216.3h0.8M115.3 212.4h0.8M114.4 211.2h0.8M114.9 211.1h0.8M115.9 212.2h0.8M115.3 205.6h0.8M113.5 204.2h0.8M114.6 202.1h0.8M113.0 203.4h0.8M114.0 204.2h0.8M115.8 214.3h0.8M113.9 206.2h0.8M114.2 207.3h0.8M115.3 213.3h0.8M113.4 202.6h0.8M114.7 210.7h0.8M112.6 207.9h0.8M115.1 203.9h0.8M114.0 206.5h0.8M114.5 214.0h0.8M114.0 205.3h0.8M112.7 210.3h0.8M112.1 208.5h0.8M113.6 201.1h0.8M113.9 215.4h0.8M113.7 214.9h0.8M112.6 208.2h0.8M122.2 208.1h0.8M117.2 212.2h0.8M114.4 217.5h0.8M114.2 209.2h0.8M113.8 205.8h0.8M116.9 208.8h0.8M112.7 210.5h0.8M114.2 211.4h0.8M116.5 216.7h0.8M113.4 210.6h0.8M115.2 214.7h0.8M117.3 208.8h0.8M115.3 208.5h0.8M114.0 216.1h0.8M113.8 205.6h0.8M117.3 205.9h0.8M118.5 210.0h0.8M116.1 202.7h0.8M114.9 203.6h0.8M112.6 209.5h0.8M115.0 211.6h0.8M114.6 217.4h0.8M113.6 202.7h0.8M112.8 201.5h0.8M112.5 212.4h0.8M113.3 215.9h0.8M114.4 202.4h0.8M114.9 205.8h0.8M116.5 212.3h0.8M116.3 211.6h0.8M116.8 215.5h0.8M114.6 212.0h0.8M118.4 216.8h0.8M121.2 205.8h0.8M114.5 213.4h0.8M113.6 210.8h0.8M117.9 207.4h0.8M112.9 213.0h0.8M116.6 215.1h0.8M115.3 210.6h0.8M116.9 212.9h0.8M114.4 207.8h0.8M115.3 215.3h0.8M112.7 207.3h0.8M113.3 211.3h0.8M116.8 210.9h0.8M118.0 209.5h0.8M116.7 216.3h0.8M112.6 212.7h0.8M114.9 210.8h0.8M112.6 212.9h0.8M113.0 212.8h0.8M114.8 206.4h0.8M114.9 206.1h0.8M114.4 211.1h0.8M112.9 203.2h0.8M115.1 214.5h0.8M115.5 213.8h0.8M113.7 211.6h0.8M115.4 206.4h0.8M114.0 217.3h0.8M115.8 213.3h0.8M112.8 215.4h0.8M116.4 213.0h0.8M112.6 210.2h0.8M112.2 205.6h0.8M114.9 203.9h0.8M114.9 214.6h0.8M115.6 211.3h0.8M116.7 204.8h0.8M115.7 204.3h0.8M113.7 209.0h0.8M113.5 211.5h0.8M113.2 208.9h0.8M113.2 205.0h0.8M112.5 212.2h0.8M112.3 203.0h0.8M114.1 203.7h0.8M122.5 207.1h0.8M112.8 210.3h0.8M112.6 201.1h0.8M113.1 203.1h0.8M112.9 212.8h0.8M113.7 207.7h0.8M112.6 208.4h0.8M116.0 208.8h0.8M112.5 203.8h0.8M116.8 217.1h0.8M112.8 216.4h0.8M114.7 211.5h0.8M112.4 202.4h0.8M117.2 212.4h0.8M118.7 214.5h0.8M112.7 206.5h0.8M113.6 203.3h0.8M119.9 213.1h0.8M119.9 211.5h0.8M113.8 207.4h0.8M113.9 205.8h0.8M114.5 216.5h0.8M112.8 202.3h0.8M112.2 206.0h0.8M113.0 208.9h0.8M113.3 210.8h0.8M112.5 205.1h0.8M114.1 210.8h0.8M116.1 202.7h0.8M112.6 209.8h0.8M113.0 202.2h0.8M116.0 207.4h0.8M113.7 212.8h0.8M116.5 204.2h0.8M116.9 203.4h0.8M115.3 217.1h0.8M115.2 208.0h0.8M113.7 201.8h0.8M115.2 208.0h0.8M113.3 205.4h0.8M113.2 214.6h0.8M118.0 215.7h0.8M114.8 213.7h0.8M112.7 212.2h0.8M113.2 210.4h0.8M112.9 201.8h0.8M114.3 211.8h0.8M117.0 207.3h0.8M114.0 205.6h0.8M113.5 210.3h0.8M113.3 204.9h0.8M112.4 217.5h0.8M112.4 210.9h0.8M112.5 213.5h0.8M113.2 202.6h0.8M113.0 201.4h0.8M112.8 203.7h0.8M112.5 203.9h0.8M115.2 210.1h0.8M116.4 211.9h0.8M113.4 215.9h0.8M112.4 202.4h0.8M119.0 209.2h0.8M113.3 211.9h0.8M119.2 207.8h0.8M113.6 202.0h0.8M112.9 202.4h0.8M113.5 201.0h0.8M116.0 206.2h0.8M113.2 203.5h0.8M115.0 216.8h0.8M114.8 211.5h0.8M112.6 202.5h0.8M116.8 212.0h0.8M113.8 209.3h0.8M116.5 214.8h0.8M113.8 204.0h0.8M115.8 206.7h0.8M113.9 209.1h0.8M113.4 209.4h0.8M114.8 203.2h0.8M113.5 214.8h0.8M115.4 203.5h0.8M114.5 208.6h0.8M117.7 210.4h0.8M114.9 208.2h0.8M113.8 206.6h0.8M113.4 213.0h0.8M114.0 209.7h0.8M114.7 212.4h0.8M118.9 213.7h0.8M113.2 216.4h0.8M114.8 209.1h0.8M114.3 207.9h0.8M113.0 216.3h0.8M112.9 217.1h0.8M119.7 215.6h0.8M113.7 204.2h0.8M113.5 216.2h0.8M114.1 211.7h0.8M113.8 209.6h0.8M113.9 203.0h0.8M113.2 203.5h0.8M115.0 215.4h0.8M113.4 205.7h0.8M116.6 208.8h0.8M113.7 208.0h0.8M115.2 207.3h0.8M116.6 208.0h0.8M115.9 205.5h0.8M113.8 216.0h0.8M117.8 209.5h0.8M114.0 205.8h0.8M113.7 204.4h0.8M117.5 214.3h0.8M121.8 214.1h0.8M118.9 214.7h0.8M115.7 210.9h0.8M113.4 206.4h0.8M113.5 204.4h0.8M113.4 207.1h0.8M113.6 202.3h0.8M114.1 205.5h0.8M112.8 206.7h0.8M112.7 202.8h0.8M112.8 203.4h0.8M113.7 202.8h0.8M114.9 207.4h0.8M114.3 216.5h0.8M114.2 217.0h0.8M112.9 202.5h0.8M115.5 210.9h0.8M112.2 200.9h0.8M114.4 212.1h0.8M115.1 211.4h0.8M113.7 209.5h0.8M115.3 205.5h0.8M114.6 208.7h0.8M113.2 201.5h0.8M113.4 211.9h0.8M114.8 213.9h0.8M114.2 202.2h0.8M113.9 217.7h0.8M113.3 203.8h0.8M115.7 216.3h0.8M113.2 217.3h0.8M113.1 208.0h0.8M115.0 215.0h0.8M113.1 210.3h0.8M114.3 205.4h0.8M118.9 212.4h0.8M113.9 206.9h0.8M112.4 203.4h0.8M113.0 213.8h0.8M112.4 204.0h0.8M116.9 216.6h0.8M113.8 204.2h0.8M114.3 206.3h0.8M112.9 214.3h0.8M116.8 214.9h0.8M113.2 207.6h0.8M112.7 211.1h0.8M116.5 216.8h0.8M114.1 205.7h0.8M113.5 205.3h0.8M112.8 202.6h0.8M115.3 212.4h0.8M112.6 212.5h0.8M113.3 202.9h0.8M116.3 213.0h0.8M115.2 205.7h0.8M112.2 209.4h0.8M119.5 210.3h0.8M116.0 210.7h0.8M113.5 210.1h0.8M113.6 207.5h0.8M120.6 212.6h0.8M112.5 204.4h0.8M121.4 215.5h0.8" stroke="#000" stroke-width="0.75" stroke-opacity="1.00" fill="none"/>
<path d="M114.8 197.8h0.7M113.7 200.2h0.7M116.7 198.0h0.7M113.7 195.3h0.7M112.7 192.7h0.7M115.6 202.5h0.7M111.9 198.6h0.7M114.2 195.2h0.7M112.8 197.3h0.7M115.3 200.5h0.7" stroke="#000" stroke-width="0.70" stroke-opacity="0.40" fill="none"/>
<text x="196.55" y="176.00" text-anchor="end" class="p">&lt;1%</text>
<path d="M104.50 237.00H198.00" stroke="#cacaca" stroke-width="0.8" fill="none"/><path d="M198.00 237.00V292.60" stroke="#dcdcdc" stroke-width="0.8" fill="none"/>
<line x1="104.50" y1="292.60" x2="198.00" y2="292.60" stroke="#777" stroke-width="0.9" stroke-dasharray="0.9 1.4"/>
<line x1="104.50" y1="236.50" x2="104.50" y2="293.40" stroke="#333" stroke-width="1.1"/>
<line x1="104.50" y1="274.50" x2="198.00" y2="274.50" stroke="#5a5a5a" stroke-width="0.9"/>
<text class="k" transform="translate(102.10 237.30) rotate(-90)" text-anchor="middle">10<tspan dy="-1" font-size="2.2">4</tspan></text>
<text class="k" transform="translate(102.10 251.20) rotate(-90)" text-anchor="middle">10<tspan dy="-1" font-size="2.2">3</tspan></text>
<text class="k" transform="translate(102.10 265.10) rotate(-90)" text-anchor="middle">10<tspan dy="-1" font-size="2.2">2</tspan></text>
<text class="k" transform="translate(102.10 279.00) rotate(-90)" text-anchor="middle">10<tspan dy="-1" font-size="2.2">1</tspan></text>
<text class="k" transform="translate(102.10 292.90) rotate(-90)" text-anchor="middle">10<tspan dy="-1" font-size="2.2">0</tspan></text>
<text class="k" transform="translate(97.90 267.02) rotate(-90)" text-anchor="middle">FL2-H</text>
<text class="k" x="104.50" y="297.20" text-anchor="middle">0</text>
<text class="k" x="123.20" y="297.20" text-anchor="middle">200</text>
<text class="k" x="141.90" y="297.20" text-anchor="middle">400</text>
<text class="k" x="160.60" y="297.20" text-anchor="middle">600</text>
<text class="k" x="179.30" y="297.20" text-anchor="middle">800</text>
<text class="k" x="198.00" y="297.20" text-anchor="middle">1000</text>
<text class="k2" x="151.25" y="300.20" text-anchor="middle">FSC-H</text>
<clipPath id="c41"><rect x="104.5" y="237.0" width="93.5" height="55.9"/></clipPath>
<g clip-path="url(#c41)"><path d="M111.8 276.0L114.1 276.0L117.5 279.0L119.0 282.8L118.7 294.6L111.8 294.6Z" fill="#000" filter="url(#b1)"/></g>
<path d="M113.3 291.6h0.8M113.3 289.8h0.8M114.4 286.1h0.8M113.9 284.0h0.8M115.3 276.8h0.8M119.8 286.1h0.8M115.0 291.2h0.8M114.7 291.8h0.8M112.1 291.2h0.8M118.6 287.8h0.8M112.8 280.9h0.8M111.9 278.0h0.8M111.5 278.7h0.8M117.2 281.7h0.8M111.4 276.8h0.8M119.9 280.2h0.8M112.8 291.9h0.8M116.1 287.9h0.8M114.4 287.2h0.8M112.2 277.6h0.8M115.2 283.7h0.8M112.6 283.4h0.8M114.7 291.1h0.8M114.9 286.6h0.8M113.6 280.1h0.8M116.2 279.4h0.8M112.8 276.7h0.8M115.6 283.6h0.8M112.7 285.8h0.8M118.3 281.8h0.8M115.9 291.3h0.8M111.2 288.0h0.8M113.3 284.5h0.8M120.2 281.8h0.8M111.4 286.4h0.8M113.3 287.0h0.8M113.6 287.7h0.8M112.0 280.3h0.8M111.3 281.9h0.8M112.6 278.9h0.8M112.4 277.2h0.8M113.1 280.2h0.8M115.3 279.4h0.8M111.2 279.8h0.8M115.9 283.2h0.8M112.3 287.7h0.8M114.0 279.3h0.8M115.9 287.4h0.8M118.0 290.5h0.8M111.5 283.6h0.8M111.9 289.0h0.8M112.2 276.2h0.8M112.7 279.4h0.8M112.4 276.3h0.8M120.5 283.5h0.8M118.9 281.5h0.8M112.0 283.3h0.8M111.5 278.9h0.8M111.5 275.4h0.8M111.5 288.2h0.8M118.5 291.3h0.8M112.5 278.2h0.8M114.8 287.8h0.8M112.6 281.0h0.8M117.7 287.9h0.8M119.7 285.4h0.8M114.0 288.1h0.8M111.3 292.2h0.8M114.6 279.8h0.8M111.4 290.3h0.8M113.2 278.4h0.8M114.4 288.8h0.8M115.4 277.6h0.8M120.6 278.3h0.8M114.4 282.4h0.8M112.7 278.4h0.8M117.8 289.0h0.8M111.2 275.5h0.8M115.4 280.9h0.8M114.5 284.9h0.8M112.1 288.9h0.8M112.0 292.0h0.8M115.5 284.2h0.8M113.4 278.2h0.8M111.7 278.8h0.8M115.6 285.6h0.8M113.5 277.4h0.8M117.6 289.7h0.8M116.2 289.6h0.8M118.4 287.5h0.8M116.7 291.9h0.8M115.6 282.7h0.8M116.1 291.7h0.8M111.3 278.3h0.8M111.9 279.3h0.8M113.5 284.2h0.8M112.6 290.4h0.8M112.3 275.0h0.8M111.8 289.9h0.8M113.2 290.0h0.8M112.0 289.9h0.8M114.5 290.4h0.8M112.3 284.7h0.8M114.2 276.9h0.8M113.1 280.1h0.8M112.1 281.0h0.8M115.6 286.2h0.8M118.5 280.8h0.8M116.0 283.4h0.8M114.0 281.2h0.8M119.7 285.7h0.8M111.3 277.5h0.8M111.9 281.6h0.8M117.0 290.3h0.8M120.5 279.8h0.8M111.3 283.4h0.8M114.8 288.5h0.8M112.5 287.0h0.8M112.2 283.0h0.8M111.5 276.1h0.8M121.4 290.1h0.8M112.2 291.0h0.8M115.7 288.7h0.8M115.6 288.3h0.8M117.9 290.4h0.8M114.3 290.2h0.8M113.7 283.2h0.8M116.5 281.7h0.8M118.8 282.8h0.8M118.3 277.2h0.8M113.3 278.2h0.8M116.6 286.9h0.8M111.5 287.8h0.8M112.6 287.0h0.8M117.7 285.0h0.8M111.6 277.5h0.8M114.3 281.4h0.8M113.8 291.5h0.8M111.6 291.6h0.8M112.1 280.0h0.8M113.2 281.4h0.8M111.6 278.0h0.8M112.4 281.1h0.8M114.2 282.7h0.8M115.4 279.8h0.8M116.6 290.8h0.8M113.1 276.2h0.8M112.1 282.5h0.8M112.2 276.0h0.8M111.6 281.1h0.8M113.7 288.2h0.8M116.0 276.6h0.8M118.8 285.0h0.8M113.7 284.8h0.8M111.8 283.6h0.8M114.8 285.7h0.8M112.2 279.4h0.8M113.8 279.5h0.8M114.0 288.5h0.8M112.0 277.9h0.8M118.7 289.3h0.8M112.2 290.6h0.8M111.5 284.8h0.8M112.9 279.7h0.8M113.4 282.5h0.8M111.8 283.8h0.8M113.6 287.1h0.8M112.6 291.3h0.8M111.5 282.3h0.8M111.9 278.4h0.8M111.7 280.2h0.8M111.4 291.5h0.8M113.8 278.5h0.8M116.5 279.2h0.8M112.3 275.4h0.8M116.6 285.6h0.8M112.6 283.1h0.8M113.5 289.3h0.8M114.2 286.1h0.8M112.5 286.3h0.8M113.9 282.9h0.8M114.0 280.0h0.8M112.4 275.1h0.8M114.0 281.8h0.8M111.8 275.0h0.8M113.9 278.6h0.8M113.7 281.4h0.8M113.4 284.0h0.8M113.4 281.5h0.8M113.3 278.6h0.8M112.0 288.1h0.8M114.2 280.4h0.8M114.5 281.0h0.8M111.8 278.7h0.8M112.9 276.0h0.8M119.2 288.1h0.8M116.2 282.8h0.8M115.3 284.5h0.8M112.5 290.1h0.8M116.0 290.3h0.8M113.9 285.0h0.8M116.8 291.5h0.8M114.3 284.3h0.8M115.5 290.3h0.8M114.2 279.5h0.8M112.8 283.6h0.8M112.1 277.6h0.8M112.6 281.5h0.8M112.4 278.8h0.8M114.1 282.8h0.8M112.3 276.4h0.8M112.4 282.4h0.8M113.8 284.8h0.8M112.8 292.2h0.8M113.2 292.3h0.8M113.7 286.4h0.8M114.7 282.8h0.8M112.1 288.0h0.8M111.8 291.0h0.8M111.7 287.0h0.8M111.8 278.2h0.8M114.0 285.5h0.8M112.8 283.6h0.8M114.6 290.9h0.8M114.0 286.5h0.8M116.5 291.9h0.8M115.5 275.6h0.8M113.2 287.1h0.8M113.2 278.6h0.8M115.7 283.0h0.8M111.2 289.7h0.8M112.2 292.3h0.8M113.3 278.7h0.8M118.5 289.9h0.8M116.9 277.1h0.8M112.3 280.2h0.8M113.8 278.6h0.8M116.0 292.0h0.8M113.4 276.7h0.8M117.1 288.9h0.8M112.3 284.0h0.8M115.8 287.5h0.8M111.5 276.3h0.8M113.2 282.9h0.8M113.1 284.6h0.8M114.3 279.9h0.8M112.9 286.2h0.8M112.5 276.3h0.8M112.3 276.2h0.8M113.7 286.3h0.8M113.7 279.4h0.8M111.3 289.9h0.8M111.2 284.8h0.8M111.7 290.3h0.8M112.9 289.8h0.8M117.3 287.2h0.8M112.5 292.1h0.8M111.8 279.1h0.8M112.3 284.7h0.8M111.2 277.1h0.8M114.1 287.3h0.8M111.6 289.2h0.8M114.5 290.6h0.8M111.7 284.1h0.8M115.8 291.1h0.8M117.5 281.5h0.8M113.9 281.0h0.8M115.3 287.7h0.8M112.0 291.0h0.8M112.2 276.2h0.8M112.8 283.8h0.8M112.6 282.7h0.8M113.0 275.4h0.8M111.6 276.7h0.8M117.1 289.2h0.8M116.2 291.5h0.8M113.1 284.8h0.8M116.6 279.0h0.8M111.4 292.0h0.8M112.1 282.2h0.8M113.4 277.1h0.8M115.4 288.7h0.8M112.8 287.1h0.8M115.8 287.0h0.8M113.6 281.6h0.8M116.1 279.8h0.8M113.5 278.8h0.8M116.5 285.4h0.8M112.6 280.3h0.8M112.4 287.6h0.8M112.4 290.9h0.8M111.9 289.7h0.8M112.8 275.4h0.8M111.4 286.2h0.8M111.9 275.7h0.8M112.6 280.0h0.8M115.5 280.1h0.8M120.7 284.6h0.8M111.9 275.6h0.8M113.8 278.8h0.8M113.6 291.2h0.8M111.8 275.3h0.8M113.7 280.9h0.8M115.5 283.4h0.8M113.9 276.7h0.8M112.6 279.9h0.8M112.6 285.8h0.8M116.5 280.6h0.8M116.6 284.6h0.8M112.4 291.4h0.8M113.9 276.5h0.8M117.7 286.6h0.8M113.3 275.2h0.8M112.2 281.7h0.8M118.6 287.4h0.8M113.1 291.6h0.8M111.7 282.9h0.8M115.7 285.9h0.8M112.8 283.4h0.8M112.1 276.9h0.8M111.9 276.4h0.8M116.3 284.6h0.8M114.3 290.2h0.8M114.1 279.3h0.8M114.7 288.0h0.8M113.1 285.9h0.8M114.8 280.7h0.8M112.2 286.4h0.8M112.4 275.9h0.8M113.0 279.3h0.8M116.4 281.5h0.8M111.6 286.1h0.8M111.5 275.4h0.8M111.6 275.5h0.8M118.6 291.1h0.8M111.6 284.1h0.8M113.2 290.6h0.8M113.9 292.3h0.8M112.2 277.7h0.8M114.9 281.4h0.8M112.2 292.2h0.8M113.2 274.9h0.8M112.6 292.1h0.8M114.6 292.4h0.8M112.1 288.1h0.8M121.1 281.7h0.8M113.1 286.7h0.8M111.2 275.2h0.8M115.0 281.0h0.8M114.2 275.4h0.8M115.1 282.3h0.8M112.4 286.8h0.8M111.6 275.1h0.8M112.5 290.6h0.8M113.0 276.4h0.8M113.1 279.0h0.8M120.4 281.7h0.8M112.6 276.8h0.8M113.2 288.0h0.8M117.9 286.8h0.8M113.0 285.2h0.8M113.4 282.4h0.8M112.6 285.3h0.8M111.5 281.4h0.8M116.5 286.5h0.8M111.5 290.6h0.8M113.3 288.4h0.8M112.3 281.3h0.8M113.2 290.4h0.8M111.4 280.3h0.8M113.1 286.8h0.8M112.9 287.8h0.8M111.4 282.0h0.8M112.7 290.0h0.8M118.1 291.9h0.8M113.6 276.9h0.8M111.6 275.6h0.8M116.3 280.0h0.8M112.1 275.3h0.8M114.3 292.2h0.8M115.3 279.5h0.8M112.0 277.6h0.8M112.0 285.1h0.8M115.2 291.6h0.8M112.4 290.2h0.8M115.1 290.2h0.8M111.3 278.3h0.8M115.4 279.5h0.8M111.9 276.4h0.8M112.1 287.1h0.8M117.5 281.1h0.8M114.1 286.5h0.8M112.4 275.4h0.8M112.2 287.9h0.8M111.8 277.1h0.8M114.4 292.2h0.8M111.7 279.5h0.8M115.4 283.4h0.8M117.9 289.3h0.8M119.1 285.9h0.8M112.8 276.2h0.8M116.4 291.1h0.8M112.5 287.7h0.8M114.0 288.1h0.8M114.9 283.8h0.8M111.8 277.7h0.8M112.9 286.3h0.8M112.6 280.3h0.8M113.4 289.5h0.8M112.3 280.6h0.8M115.2 286.6h0.8M112.3 284.3h0.8M111.9 277.5h0.8M113.4 286.8h0.8M112.1 291.9h0.8M113.2 275.9h0.8M112.4 285.1h0.8M114.3 286.2h0.8M112.9 289.6h0.8M113.9 280.4h0.8M112.8 289.4h0.8M116.1 287.8h0.8M112.9 278.2h0.8M112.5 287.9h0.8M112.7 282.7h0.8M113.1 278.4h0.8M111.3 279.1h0.8M113.9 280.7h0.8M112.6 287.8h0.8M112.1 277.5h0.8M113.4 286.1h0.8M112.1 289.2h0.8M116.4 283.9h0.8M121.8 290.8h0.8M117.3 287.5h0.8M112.5 283.9h0.8M111.5 291.8h0.8M116.3 284.5h0.8M116.4 277.4h0.8M111.4 278.6h0.8M112.2 289.3h0.8M115.4 289.9h0.8M112.4 281.7h0.8M111.7 281.1h0.8M111.7 278.4h0.8M115.6 289.7h0.8M113.8 292.2h0.8M115.7 291.3h0.8M111.8 282.6h0.8M114.8 290.5h0.8M115.6 278.4h0.8M114.6 276.0h0.8M112.4 284.7h0.8M112.0 280.9h0.8M114.5 283.3h0.8M113.2 276.1h0.8M116.5 277.9h0.8M115.4 283.4h0.8M118.1 283.7h0.8M115.6 287.4h0.8M112.3 287.8h0.8M113.9 281.6h0.8M118.6 282.7h0.8M115.0 279.8h0.8M111.5 277.5h0.8M112.7 281.9h0.8M112.3 285.0h0.8M111.5 292.4h0.8M114.1 287.8h0.8M111.5 289.1h0.8M112.6 289.3h0.8M114.7 291.2h0.8M112.0 291.0h0.8M112.1 277.9h0.8M118.5 280.4h0.8M111.7 279.5h0.8M115.3 288.9h0.8M113.9 283.4h0.8M113.8 291.4h0.8M111.5 284.9h0.8M111.9 275.3h0.8M113.2 279.1h0.8M111.4 281.9h0.8M111.8 277.2h0.8M113.2 284.7h0.8M111.8 275.6h0.8M111.4 279.1h0.8M111.9 275.0h0.8M111.8 276.9h0.8M112.9 287.2h0.8M112.2 283.7h0.8M112.6 291.7h0.8M112.8 277.1h0.8M113.6 278.1h0.8M112.2 275.9h0.8M113.5 278.3h0.8M111.4 280.0h0.8M112.4 282.4h0.8M116.0 279.2h0.8M114.5 277.8h0.8M118.3 281.5h0.8M113.6 275.7h0.8M114.0 289.3h0.8M114.9 284.8h0.8M115.5 283.8h0.8M112.4 283.0h0.8M113.9 284.6h0.8M111.5 292.3h0.8M111.8 281.5h0.8M112.3 284.8h0.8M113.7 278.5h0.8M111.6 281.7h0.8M111.5 276.5h0.8M116.2 290.0h0.8M120.2 286.8h0.8" stroke="#000" stroke-width="0.75" stroke-opacity="1.00" fill="none"/>
<path d="M113.1 272.0h0.7M112.3 273.5h0.7M113.6 274.8h0.7M109.1 273.9h0.7M113.4 270.1h0.7M112.2 273.8h0.7M113.2 270.1h0.7M113.7 273.9h0.7M109.8 271.6h0.7M112.6 271.5h0.7" stroke="#000" stroke-width="0.70" stroke-opacity="0.40" fill="none"/>
<text x="198.35" y="249.80" text-anchor="end" class="p">&lt;1%</text>
<path d="M104.50 312.20H198.75" stroke="#cacaca" stroke-width="0.8" fill="none"/><path d="M198.75 312.20V370.30" stroke="#dcdcdc" stroke-width="0.8" fill="none"/>
<line x1="104.50" y1="370.30" x2="198.75" y2="370.30" stroke="#777" stroke-width="0.9" stroke-dasharray="0.9 1.4"/>
<line x1="104.50" y1="311.70" x2="104.50" y2="371.10" stroke="#333" stroke-width="1.1"/>
<line x1="104.50" y1="351.50" x2="198.75" y2="351.50" stroke="#5a5a5a" stroke-width="0.9"/>
<text class="k" transform="translate(102.10 312.50) rotate(-90)" text-anchor="middle">10<tspan dy="-1" font-size="2.2">4</tspan></text>
<text class="k" transform="translate(102.10 327.03) rotate(-90)" text-anchor="middle">10<tspan dy="-1" font-size="2.2">3</tspan></text>
<text class="k" transform="translate(102.10 341.55) rotate(-90)" text-anchor="middle">10<tspan dy="-1" font-size="2.2">2</tspan></text>
<text class="k" transform="translate(102.10 356.07) rotate(-90)" text-anchor="middle">10<tspan dy="-1" font-size="2.2">1</tspan></text>
<text class="k" transform="translate(102.10 370.60) rotate(-90)" text-anchor="middle">10<tspan dy="-1" font-size="2.2">0</tspan></text>
<text class="k" transform="translate(97.90 343.57) rotate(-90)" text-anchor="middle">FL2-H</text>
<text class="k" x="104.50" y="374.90" text-anchor="middle">0</text>
<text class="k" x="123.35" y="374.90" text-anchor="middle">200</text>
<text class="k" x="142.20" y="374.90" text-anchor="middle">400</text>
<text class="k" x="161.05" y="374.90" text-anchor="middle">600</text>
<text class="k" x="179.90" y="374.90" text-anchor="middle">800</text>
<text class="k" x="198.75" y="374.90" text-anchor="middle">1000</text>
<text class="k2" x="151.62" y="377.90" text-anchor="middle">FSC-H</text>
<clipPath id="c51"><rect x="104.5" y="312.2" width="94.2" height="58.4"/></clipPath>
<g clip-path="url(#c51)"><path d="M111.8 353.0L114.1 353.0L117.5 356.0L119.0 359.8L118.7 372.3L111.8 372.3Z" fill="#000" filter="url(#b1)"/></g>
<path d="M113.0 354.5h0.8M116.0 358.2h0.8M121.9 366.0h0.8M111.4 361.8h0.8M116.2 360.6h0.8M115.0 362.3h0.8M118.3 365.0h0.8M111.5 369.7h0.8M117.0 354.4h0.8M116.5 368.9h0.8M113.2 360.3h0.8M112.1 363.1h0.8M111.9 359.6h0.8M117.0 360.2h0.8M112.4 359.0h0.8M117.8 365.8h0.8M111.4 360.7h0.8M117.9 365.9h0.8M114.6 353.7h0.8M111.8 352.3h0.8M113.3 356.2h0.8M116.4 356.1h0.8M113.9 356.5h0.8M114.2 359.9h0.8M113.6 364.0h0.8M116.0 368.3h0.8M112.8 369.9h0.8M112.4 363.6h0.8M111.8 368.2h0.8M116.3 361.3h0.8M112.7 365.5h0.8M112.3 368.1h0.8M114.6 359.2h0.8M114.1 366.7h0.8M111.6 365.9h0.8M112.8 369.7h0.8M113.5 366.8h0.8M112.4 356.0h0.8M111.8 352.0h0.8M112.9 356.0h0.8M111.7 364.7h0.8M111.8 354.5h0.8M112.4 364.7h0.8M113.0 356.6h0.8M114.8 354.8h0.8M114.0 367.6h0.8M117.5 354.1h0.8M116.0 367.4h0.8M113.3 362.9h0.8M111.5 356.7h0.8M111.8 356.1h0.8M111.3 356.6h0.8M113.3 362.8h0.8M114.9 363.1h0.8M111.5 352.3h0.8M113.6 356.6h0.8M114.3 365.2h0.8M112.8 354.3h0.8M111.3 365.5h0.8M113.8 366.0h0.8M114.8 368.0h0.8M114.5 358.4h0.8M113.2 369.1h0.8M112.9 352.6h0.8M111.6 352.9h0.8M117.2 362.6h0.8M111.7 353.0h0.8M113.8 361.3h0.8M113.1 357.5h0.8M114.6 364.3h0.8M112.4 359.7h0.8M111.9 357.8h0.8M113.5 363.9h0.8M111.2 369.5h0.8M113.0 356.1h0.8M113.8 353.1h0.8M112.5 354.7h0.8M112.8 368.5h0.8M112.6 365.2h0.8M111.6 351.9h0.8M112.1 355.7h0.8M115.2 365.9h0.8M112.1 354.4h0.8M112.5 360.7h0.8M111.6 355.3h0.8M112.5 357.0h0.8M113.5 360.0h0.8M112.2 360.6h0.8M114.2 367.6h0.8M112.3 360.6h0.8M116.2 369.2h0.8M112.4 361.3h0.8M111.7 360.3h0.8M112.0 357.1h0.8M111.7 358.9h0.8M113.7 369.6h0.8M113.6 361.7h0.8M113.1 355.2h0.8M112.8 354.2h0.8M116.4 363.5h0.8M112.9 361.8h0.8M117.0 361.1h0.8M115.3 363.1h0.8M112.6 353.2h0.8M111.2 353.0h0.8M114.3 356.9h0.8M113.9 356.9h0.8M113.5 364.9h0.8M116.2 367.7h0.8M112.9 362.3h0.8M113.2 366.2h0.8M112.1 366.3h0.8M117.2 359.1h0.8M112.6 362.2h0.8M118.1 366.5h0.8M112.3 369.2h0.8M112.2 366.6h0.8M116.5 359.4h0.8M111.9 353.5h0.8M111.5 356.3h0.8M111.4 355.6h0.8M113.3 365.3h0.8M112.2 356.7h0.8M113.7 359.8h0.8M114.6 359.1h0.8M112.9 369.8h0.8M114.3 359.4h0.8M112.5 364.1h0.8M114.8 369.3h0.8M117.0 365.4h0.8M114.6 364.9h0.8M113.6 367.0h0.8M116.4 359.2h0.8M114.2 356.2h0.8M114.0 356.0h0.8M112.4 353.7h0.8M111.4 353.2h0.8M113.3 367.6h0.8M112.2 368.7h0.8M115.4 366.9h0.8M111.5 355.9h0.8M112.8 352.5h0.8M114.4 365.3h0.8M112.0 361.8h0.8M111.2 362.5h0.8M111.9 359.1h0.8M114.0 362.7h0.8M115.2 365.4h0.8M111.6 360.7h0.8M116.5 359.7h0.8M112.9 359.8h0.8M111.9 352.5h0.8M112.5 358.6h0.8M112.4 358.9h0.8M111.3 356.4h0.8M113.6 364.5h0.8M113.6 366.5h0.8M111.5 359.0h0.8M112.6 365.2h0.8M113.0 361.2h0.8M113.3 357.4h0.8M112.6 352.3h0.8M111.5 357.5h0.8M117.4 368.0h0.8M113.0 367.1h0.8M112.7 369.1h0.8M113.7 366.2h0.8M115.0 363.5h0.8M112.2 352.8h0.8M112.4 353.1h0.8M112.2 367.2h0.8M113.0 354.3h0.8M111.5 354.1h0.8M118.2 368.5h0.8M117.8 359.4h0.8M113.2 353.4h0.8M112.0 355.9h0.8M115.4 356.2h0.8M111.9 360.8h0.8M112.3 353.2h0.8M114.2 361.2h0.8M114.3 357.6h0.8M112.1 353.3h0.8M115.3 359.8h0.8M119.3 362.6h0.8M112.6 357.4h0.8M116.1 357.9h0.8M112.2 357.9h0.8M112.7 369.3h0.8M112.2 367.7h0.8M114.5 357.7h0.8M113.5 365.3h0.8M117.9 367.3h0.8M112.2 364.1h0.8M113.7 364.6h0.8M111.7 353.3h0.8M112.5 366.6h0.8M112.8 352.8h0.8M120.1 369.8h0.8M112.4 355.5h0.8M116.3 355.9h0.8M112.5 360.3h0.8M112.0 358.9h0.8M112.1 354.0h0.8M112.7 354.8h0.8M118.5 369.5h0.8M111.8 355.6h0.8M111.6 352.4h0.8M113.6 357.6h0.8M112.8 360.5h0.8M112.6 353.1h0.8M114.5 364.3h0.8M113.0 360.4h0.8M113.7 367.0h0.8M114.9 356.3h0.8M111.4 352.7h0.8M116.0 361.9h0.8M116.5 370.1h0.8M111.2 352.5h0.8M111.5 365.4h0.8M111.9 359.9h0.8M111.5 364.8h0.8M111.5 358.3h0.8M112.6 367.1h0.8M111.8 362.0h0.8M116.9 357.7h0.8M111.8 357.9h0.8M113.2 363.7h0.8M112.9 357.0h0.8M115.9 357.6h0.8M115.3 369.0h0.8M111.7 355.9h0.8M114.6 364.4h0.8M112.0 354.7h0.8M112.3 355.4h0.8M115.3 364.5h0.8M111.3 358.8h0.8M113.2 360.1h0.8M114.5 356.0h0.8M111.6 368.6h0.8M114.6 364.9h0.8M116.0 356.3h0.8M117.6 358.4h0.8M114.1 356.7h0.8M115.3 366.3h0.8M113.6 363.1h0.8M116.1 357.7h0.8M118.2 361.6h0.8M122.1 366.0h0.8M117.6 356.3h0.8M119.7 359.0h0.8M114.6 359.2h0.8M111.5 362.0h0.8M111.9 352.6h0.8M114.1 357.9h0.8M112.0 355.6h0.8M112.0 354.3h0.8M111.4 358.1h0.8M111.8 356.0h0.8M112.0 363.9h0.8M118.4 353.7h0.8M111.7 367.0h0.8M113.6 367.7h0.8M116.7 369.2h0.8M113.0 353.8h0.8M111.6 353.1h0.8M112.4 369.3h0.8M111.8 353.5h0.8M114.0 354.1h0.8M112.4 355.4h0.8M116.7 363.0h0.8M111.9 366.4h0.8M112.0 353.0h0.8M114.7 358.3h0.8M111.7 358.7h0.8M113.0 369.1h0.8M112.4 363.1h0.8M112.3 360.2h0.8M112.4 358.7h0.8M112.0 358.3h0.8M118.3 356.5h0.8M111.7 364.8h0.8M112.3 354.7h0.8M111.6 361.8h0.8M112.7 366.0h0.8M111.7 361.1h0.8M113.4 359.9h0.8M116.8 363.4h0.8M111.3 353.0h0.8M112.2 353.3h0.8M115.9 353.5h0.8M111.8 357.1h0.8M115.6 359.2h0.8M114.5 357.6h0.8M112.7 358.1h0.8M113.0 364.5h0.8M114.5 366.4h0.8M115.7 365.1h0.8M117.6 364.7h0.8M111.7 352.6h0.8M113.8 357.9h0.8M112.4 359.1h0.8M114.3 363.2h0.8M117.1 359.7h0.8M113.2 362.7h0.8M120.1 366.2h0.8M111.2 362.3h0.8M116.3 356.1h0.8M116.7 368.4h0.8M112.4 367.4h0.8M112.0 360.5h0.8M113.2 365.4h0.8M111.4 353.0h0.8M112.8 362.8h0.8M112.0 362.7h0.8M113.3 368.9h0.8M114.9 365.0h0.8M112.1 352.1h0.8M115.5 360.8h0.8M114.1 369.2h0.8M112.8 354.3h0.8M112.4 363.9h0.8M112.6 358.4h0.8M119.6 359.3h0.8M112.9 368.5h0.8M112.8 367.0h0.8M116.5 358.2h0.8M116.3 364.1h0.8M115.3 356.8h0.8M120.4 361.9h0.8M112.7 355.2h0.8M113.6 366.1h0.8M112.9 354.3h0.8M115.8 353.1h0.8M112.5 352.1h0.8M113.2 366.9h0.8M112.6 364.4h0.8M112.2 363.9h0.8M116.8 368.5h0.8M116.7 364.7h0.8M112.2 352.5h0.8M111.2 353.1h0.8M111.8 352.8h0.8M113.2 353.8h0.8M112.8 353.8h0.8M112.1 356.5h0.8M112.9 357.6h0.8M112.7 362.0h0.8M115.8 360.3h0.8M114.2 365.3h0.8M116.3 359.4h0.8M112.6 370.0h0.8M112.0 365.0h0.8M111.6 351.8h0.8M117.9 359.4h0.8M115.0 357.3h0.8M111.4 366.0h0.8M111.6 352.9h0.8M114.9 367.8h0.8M118.5 363.1h0.8M112.2 367.8h0.8M121.4 357.9h0.8M113.7 368.6h0.8M113.1 352.9h0.8M111.5 365.0h0.8M113.2 353.8h0.8M114.0 357.4h0.8M112.4 363.0h0.8M112.8 357.4h0.8M112.5 363.6h0.8M113.7 360.2h0.8M111.9 356.5h0.8M115.4 353.1h0.8M117.7 368.6h0.8M114.3 360.4h0.8M111.3 358.3h0.8M115.8 365.9h0.8M116.5 364.7h0.8M112.8 366.9h0.8M114.0 365.8h0.8M113.9 368.0h0.8M114.3 366.2h0.8M114.5 363.5h0.8M113.8 366.1h0.8M112.0 368.5h0.8M112.8 354.9h0.8M111.9 359.0h0.8M117.0 360.3h0.8M113.2 364.3h0.8M113.3 355.8h0.8M118.4 362.0h0.8M113.1 358.8h0.8M112.2 354.8h0.8M114.0 355.9h0.8M115.3 369.3h0.8M111.9 355.9h0.8M116.7 355.8h0.8M111.9 358.5h0.8M111.9 353.3h0.8M112.4 357.2h0.8M113.5 368.4h0.8M118.8 359.0h0.8M117.9 362.0h0.8M111.4 361.1h0.8M112.9 367.1h0.8M114.8 364.9h0.8M113.8 364.3h0.8M112.3 358.3h0.8M111.7 361.0h0.8M111.7 352.7h0.8M111.6 354.2h0.8M112.8 361.6h0.8M115.8 366.9h0.8M113.0 359.1h0.8M111.7 353.1h0.8M112.1 365.0h0.8M111.4 358.2h0.8M112.0 357.9h0.8M117.8 368.4h0.8M111.4 361.4h0.8M120.7 369.1h0.8M111.2 369.9h0.8M112.8 352.3h0.8M113.2 365.4h0.8M116.9 361.5h0.8M111.6 352.7h0.8M112.3 364.2h0.8M111.9 359.1h0.8M116.7 363.4h0.8M114.4 353.8h0.8M111.3 354.2h0.8M114.0 364.4h0.8M112.7 362.0h0.8M111.5 354.4h0.8M119.8 363.1h0.8M113.6 364.0h0.8M114.9 361.7h0.8M114.0 364.6h0.8M115.1 354.0h0.8M116.9 369.2h0.8M113.1 354.5h0.8M111.3 353.4h0.8M111.9 362.4h0.8M112.4 366.9h0.8M111.9 367.3h0.8M113.4 359.9h0.8M112.3 358.8h0.8M113.3 364.5h0.8M113.2 353.8h0.8M112.5 363.9h0.8M111.6 352.4h0.8M112.0 352.2h0.8M114.2 362.5h0.8M112.6 362.2h0.8M112.2 358.8h0.8M113.0 356.4h0.8M112.8 367.0h0.8M112.6 363.4h0.8M113.0 356.7h0.8M112.2 354.4h0.8M116.2 364.5h0.8M120.3 369.2h0.8M111.7 366.1h0.8M115.0 355.8h0.8M115.5 353.9h0.8M112.2 363.0h0.8M111.2 353.4h0.8M112.8 366.2h0.8M113.7 353.4h0.8M116.4 357.4h0.8M111.6 353.6h0.8M112.3 352.4h0.8M114.3 356.1h0.8M117.3 356.9h0.8M112.5 364.9h0.8M113.1 360.9h0.8M115.9 368.0h0.8M113.6 358.9h0.8M112.6 361.0h0.8M112.5 363.8h0.8M113.1 360.7h0.8M114.3 358.7h0.8M119.4 365.4h0.8M111.5 366.5h0.8M117.7 367.7h0.8M112.6 355.6h0.8M113.2 360.0h0.8M120.0 359.9h0.8M114.4 366.8h0.8M114.8 356.1h0.8M112.6 356.5h0.8M113.3 364.8h0.8M115.2 367.3h0.8M112.3 366.7h0.8M112.2 352.8h0.8M111.6 360.1h0.8M112.5 358.4h0.8M113.1 366.0h0.8M112.3 359.8h0.8M112.9 355.7h0.8M112.5 352.0h0.8M111.8 369.0h0.8M117.8 367.8h0.8M112.8 362.0h0.8M114.5 363.7h0.8M112.1 362.0h0.8M118.1 358.4h0.8M112.1 357.3h0.8M113.8 361.1h0.8M115.2 357.3h0.8M112.9 362.0h0.8M112.3 360.6h0.8M113.3 359.9h0.8M111.8 352.8h0.8" stroke="#000" stroke-width="0.75" stroke-opacity="1.00" fill="none"/>
<path d="M113.8 349.2h0.7M113.7 347.9h0.7M115.5 348.7h0.7M113.6 344.9h0.7M111.6 351.4h0.7M114.0 352.3h0.7M111.7 348.6h0.7M111.4 352.3h0.7M113.6 351.4h0.7M112.0 352.2h0.7" stroke="#000" stroke-width="0.70" stroke-opacity="0.40" fill="none"/>
<text x="197.95" y="326.20" text-anchor="end" class="p">&lt;1%</text>
<path d="M212.50 25.60H305.00" stroke="#9a9a9a" stroke-width="0.8" fill="none"/><path d="M305.00 25.60V81.00" stroke="#dcdcdc" stroke-width="0.8" fill="none"/>
<line x1="212.50" y1="81.00" x2="305.00" y2="81.00" stroke="#777" stroke-width="0.9" stroke-dasharray="0.9 1.4"/>
<line x1="212.50" y1="25.10" x2="212.50" y2="81.80" stroke="#777" stroke-width="1.1"/>
<line x1="212.50" y1="64.50" x2="305.00" y2="64.50" stroke="#5a5a5a" stroke-width="0.9"/>
<line x1="238.50" y1="25.60" x2="238.50" y2="81.00" stroke="#8a8a8a" stroke-width="0.9"/>
<text class="k" transform="translate(210.10 25.90) rotate(-90)" text-anchor="middle">10<tspan dy="-1" font-size="2.2">4</tspan></text>
<text class="k" transform="translate(210.10 39.75) rotate(-90)" text-anchor="middle">10<tspan dy="-1" font-size="2.2">3</tspan></text>
<text class="k" transform="translate(210.10 53.60) rotate(-90)" text-anchor="middle">10<tspan dy="-1" font-size="2.2">2</tspan></text>
<text class="k" transform="translate(210.10 67.45) rotate(-90)" text-anchor="middle">10<tspan dy="-1" font-size="2.2">1</tspan></text>
<text class="k" transform="translate(210.10 81.30) rotate(-90)" text-anchor="middle">10<tspan dy="-1" font-size="2.2">0</tspan></text>
<text class="k" transform="translate(205.90 55.52) rotate(-90)" text-anchor="middle">FL2-H</text>
<text class="k" x="212.50" y="85.60" text-anchor="middle">10<tspan dy="-1" font-size="2.2">0</tspan></text>
<text class="k" x="235.62" y="85.60" text-anchor="middle">10<tspan dy="-1" font-size="2.2">1</tspan></text>
<text class="k" x="258.75" y="85.60" text-anchor="middle">10<tspan dy="-1" font-size="2.2">2</tspan></text>
<text class="k" x="281.88" y="85.60" text-anchor="middle">10<tspan dy="-1" font-size="2.2">3</tspan></text>
<text class="k" x="305.00" y="85.60" text-anchor="middle">10<tspan dy="-1" font-size="2.2">4</tspan></text>
<text class="k2" x="260.60" y="89.00" text-anchor="middle">FL1-H</text>
<ellipse cx="226.2" cy="70.4" rx="10.5" ry="3.1" transform="rotate(-26.0 226.2 70.4)" fill="#000" fill-opacity="0.97" filter="url(#b12)"/>
<clipPath id="c12"><rect x="212.5" y="25.6" width="92.5" height="55.7"/></clipPath>
<g clip-path="url(#c12)"><ellipse cx="258.0" cy="75.1" rx="9.0" ry="4.7" transform="rotate(0.0 258.0 75.1)" fill="#000" fill-opacity="0.93" filter="url(#b12)"/></g>
<path d="M235.2 63.6h0.8M218.7 74.7h0.8M232.5 69.1h0.8M226.6 72.9h0.8M233.1 71.0h0.8M223.5 68.4h0.8M240.1 63.8h0.8M238.3 66.6h0.8M226.7 70.8h0.8M230.7 71.3h0.8M228.1 69.5h0.8M227.9 68.7h0.8M230.1 62.1h0.8M218.1 69.0h0.8M218.1 76.5h0.8M232.6 63.9h0.8M229.2 69.8h0.8M224.3 73.1h0.8M222.0 72.1h0.8M218.0 77.2h0.8M224.0 69.6h0.8M215.9 77.0h0.8M227.3 69.4h0.8M226.7 65.9h0.8M219.8 67.7h0.8M232.9 66.5h0.8M233.2 71.5h0.8M229.0 72.3h0.8M222.0 73.7h0.8M223.0 74.2h0.8M221.2 75.3h0.8M213.2 76.0h0.8M227.8 73.3h0.8M231.3 68.6h0.8M215.7 74.0h0.8M232.9 78.1h0.8M225.3 72.7h0.8M226.8 69.7h0.8M231.7 69.8h0.8M230.8 64.6h0.8M220.3 69.7h0.8M233.1 72.4h0.8M224.0 73.2h0.8M237.6 60.1h0.8M226.1 70.0h0.8M222.7 69.0h0.8M236.3 69.1h0.8M226.8 64.5h0.8M223.6 75.0h0.8M226.2 67.3h0.8M226.7 66.4h0.8M224.7 71.1h0.8M226.3 68.5h0.8M219.1 72.1h0.8M216.3 68.1h0.8M224.9 67.5h0.8M240.5 64.2h0.8M215.6 69.4h0.8M226.4 66.2h0.8M215.1 73.0h0.8M216.3 77.7h0.8M224.5 73.7h0.8M233.6 70.9h0.8M226.6 67.2h0.8M228.6 71.3h0.8M234.2 67.0h0.8M227.6 65.8h0.8M222.6 73.4h0.8M219.5 73.4h0.8M223.1 69.8h0.8M226.9 66.7h0.8M221.8 67.6h0.8M224.8 72.3h0.8M222.6 73.2h0.8M220.2 72.3h0.8M217.5 73.3h0.8M219.9 71.5h0.8M238.4 66.4h0.8M233.2 67.3h0.8M232.9 61.7h0.8M226.7 70.2h0.8M225.6 71.8h0.8M230.5 66.3h0.8M222.8 70.4h0.8M232.7 65.3h0.8M227.4 71.4h0.8M230.6 66.8h0.8M220.7 72.8h0.8M238.0 64.7h0.8M229.0 73.3h0.8M228.6 64.7h0.8M223.6 78.2h0.8M219.9 69.7h0.8M230.2 67.6h0.8M214.1 73.7h0.8M234.2 66.6h0.8M222.6 73.5h0.8M234.9 72.7h0.8M222.9 75.2h0.8M224.8 68.9h0.8M226.7 70.6h0.8M232.1 67.7h0.8M219.5 71.5h0.8M230.2 70.0h0.8M228.1 70.0h0.8M230.5 66.8h0.8M219.6 71.4h0.8M226.7 72.0h0.8M220.9 72.4h0.8M224.7 74.4h0.8M233.9 68.9h0.8M232.3 63.7h0.8M217.3 68.4h0.8M224.9 71.0h0.8M224.6 69.0h0.8M218.4 71.0h0.8M222.5 69.9h0.8M220.5 77.2h0.8M229.3 68.1h0.8M221.7 77.9h0.8M236.1 67.6h0.8M230.1 69.6h0.8M231.5 71.9h0.8M219.5 68.3h0.8M213.2 72.9h0.8M226.9 69.6h0.8M217.1 73.0h0.8M234.9 70.9h0.8M225.5 68.0h0.8M227.6 74.4h0.8M224.9 66.8h0.8M229.8 66.0h0.8M226.0 71.3h0.8M230.0 69.9h0.8M228.4 69.6h0.8M224.2 75.9h0.8M235.1 71.2h0.8M238.5 69.9h0.8M232.9 66.7h0.8M227.6 72.1h0.8M229.9 67.6h0.8M220.4 77.2h0.8M217.7 67.7h0.8M219.2 71.8h0.8M221.7 71.8h0.8M230.7 66.7h0.8M222.2 76.8h0.8M220.0 69.3h0.8M214.9 73.4h0.8M219.8 69.9h0.8M214.8 75.7h0.8M230.5 65.5h0.8M225.7 73.2h0.8M232.8 69.6h0.8M232.2 61.2h0.8M226.3 64.0h0.8M228.8 71.4h0.8M227.0 71.0h0.8M221.1 68.1h0.8M225.5 67.0h0.8M222.0 74.6h0.8M217.7 70.6h0.8M221.2 70.9h0.8M226.1 71.7h0.8M230.3 68.4h0.8M220.4 76.1h0.8M217.9 75.5h0.8M231.0 63.6h0.8M229.6 69.3h0.8M229.6 65.3h0.8M225.6 74.8h0.8M218.4 78.6h0.8M235.6 68.9h0.8M236.3 71.7h0.8M222.7 74.3h0.8M230.1 72.6h0.8M233.9 69.2h0.8M242.9 64.7h0.8M234.6 68.7h0.8M229.7 69.4h0.8M226.4 75.4h0.8M221.6 69.3h0.8M223.6 67.0h0.8M220.6 70.7h0.8M231.8 72.1h0.8M226.4 69.3h0.8M223.4 69.3h0.8M218.3 71.6h0.8M227.1 71.1h0.8M223.6 71.3h0.8M229.8 72.0h0.8M219.4 72.6h0.8M231.4 70.4h0.8M224.2 68.7h0.8M239.0 65.6h0.8M224.4 79.9h0.8M238.6 63.6h0.8M244.8 60.8h0.8M226.9 72.7h0.8M238.3 61.5h0.8M233.0 65.6h0.8M217.6 72.9h0.8M222.8 72.6h0.8M231.3 63.8h0.8M229.9 72.6h0.8M232.2 67.7h0.8M229.3 69.3h0.8M235.7 65.2h0.8M224.8 70.9h0.8M216.8 68.1h0.8M223.5 75.3h0.8M225.2 68.2h0.8M221.4 75.0h0.8M226.0 69.9h0.8M224.7 70.4h0.8M224.9 72.4h0.8M228.0 74.3h0.8M223.7 71.2h0.8M232.1 65.7h0.8M227.5 71.0h0.8M228.5 62.0h0.8M215.9 72.8h0.8M225.4 67.8h0.8M222.8 70.9h0.8M240.6 65.7h0.8M217.4 73.7h0.8M231.8 67.9h0.8M231.2 67.8h0.8M233.5 65.8h0.8M222.7 70.1h0.8M231.4 70.1h0.8M227.4 74.0h0.8M230.4 67.7h0.8M225.6 71.3h0.8M235.2 66.9h0.8M229.4 67.8h0.8M224.0 71.2h0.8M240.2 58.7h0.8M221.1 69.3h0.8M225.9 67.1h0.8M230.0 69.6h0.8M230.5 69.2h0.8M223.4 72.8h0.8M226.0 69.6h0.8M222.1 75.2h0.8M224.8 73.6h0.8M231.4 69.4h0.8M222.6 71.0h0.8M232.9 71.5h0.8M223.5 68.1h0.8M225.1 66.0h0.8M222.8 68.1h0.8M235.3 69.3h0.8M227.3 70.0h0.8M220.6 71.3h0.8M224.6 64.3h0.8M233.9 65.9h0.8M227.0 67.0h0.8M217.1 68.6h0.8M222.7 75.1h0.8M219.6 73.5h0.8M236.8 69.1h0.8M227.5 69.6h0.8M232.7 68.7h0.8M230.9 66.0h0.8M224.9 72.7h0.8M233.0 65.8h0.8M226.2 72.0h0.8M228.6 69.7h0.8M225.6 70.6h0.8M223.6 72.0h0.8M220.3 71.1h0.8M227.3 69.4h0.8M218.8 76.6h0.8M225.7 74.1h0.8M221.9 65.8h0.8M222.2 74.4h0.8M239.3 69.2h0.8M226.9 69.3h0.8M228.8 66.5h0.8M223.3 72.3h0.8M219.2 76.2h0.8M233.7 64.8h0.8M234.1 71.5h0.8M227.7 72.2h0.8M225.7 67.6h0.8M227.7 72.6h0.8M225.3 70.4h0.8M230.8 70.0h0.8M230.1 69.5h0.8M224.9 71.1h0.8M221.4 73.5h0.8M235.9 64.4h0.8M222.1 70.1h0.8M220.8 72.2h0.8M240.7 62.4h0.8M227.0 71.0h0.8M225.1 71.4h0.8M215.2 71.0h0.8M220.1 75.7h0.8M234.8 65.9h0.8M224.8 73.4h0.8M234.3 68.3h0.8M219.3 74.5h0.8M232.1 69.1h0.8M225.4 66.5h0.8M225.2 75.3h0.8M216.8 80.5h0.8M235.7 67.5h0.8M226.6 68.6h0.8M227.0 71.9h0.8M231.8 66.6h0.8M221.7 77.2h0.8M235.2 64.6h0.8M230.4 64.9h0.8M229.2 66.5h0.8M229.6 66.5h0.8M223.0 74.0h0.8M225.4 70.6h0.8M229.8 69.4h0.8M222.8 71.0h0.8M237.0 68.9h0.8M232.0 67.5h0.8M236.0 66.2h0.8M218.6 78.6h0.8M237.0 65.9h0.8M222.8 70.5h0.8M221.3 72.0h0.8M226.0 73.7h0.8M236.3 66.5h0.8M228.7 66.9h0.8M230.6 71.6h0.8M231.7 63.4h0.8M231.2 61.7h0.8M233.0 64.2h0.8M230.6 62.7h0.8M228.4 68.7h0.8M230.0 68.6h0.8M217.4 73.8h0.8M224.9 69.3h0.8M227.0 72.6h0.8M225.0 65.2h0.8M222.4 74.3h0.8M223.4 72.4h0.8M233.3 66.7h0.8M224.7 72.3h0.8M224.8 66.5h0.8M240.0 66.4h0.8M229.1 70.3h0.8M233.7 69.9h0.8M227.0 64.0h0.8M230.4 69.0h0.8M233.6 66.3h0.8M222.3 65.5h0.8M230.9 67.1h0.8M223.2 71.9h0.8M222.7 69.7h0.8M230.8 69.2h0.8M222.9 73.5h0.8M224.3 70.2h0.8M235.5 68.0h0.8M218.5 71.2h0.8M230.5 69.6h0.8M225.2 74.6h0.8M216.2 75.1h0.8M224.4 72.2h0.8M234.7 68.5h0.8M221.7 68.1h0.8M226.5 65.2h0.8M224.9 68.4h0.8M215.6 73.7h0.8M224.4 74.0h0.8M235.1 69.9h0.8M231.8 69.2h0.8M224.8 74.6h0.8M220.7 71.8h0.8M224.7 69.5h0.8M215.6 71.0h0.8M228.8 72.4h0.8M215.8 76.9h0.8M220.9 72.8h0.8M229.7 64.7h0.8M224.6 68.1h0.8M222.1 73.7h0.8M226.7 70.0h0.8M225.3 73.9h0.8M227.6 70.1h0.8M232.0 65.4h0.8M223.8 68.0h0.8M214.7 75.8h0.8M230.4 72.9h0.8M222.8 77.6h0.8M232.4 65.1h0.8M232.7 68.6h0.8M224.8 68.8h0.8M229.0 69.6h0.8M213.1 68.5h0.8M213.8 74.5h0.8M221.5 67.3h0.8M229.7 72.8h0.8M234.1 65.2h0.8M222.0 73.6h0.8M219.8 73.4h0.8M218.7 70.0h0.8M221.7 74.2h0.8M228.2 72.4h0.8M216.8 75.5h0.8M231.3 69.3h0.8M218.6 77.2h0.8M241.1 64.6h0.8M224.8 70.6h0.8M224.6 66.3h0.8M214.1 73.7h0.8M226.8 67.7h0.8M214.3 78.2h0.8M232.8 70.9h0.8M221.7 72.5h0.8M228.6 72.0h0.8M226.4 63.3h0.8M232.2 68.2h0.8M233.2 63.5h0.8M234.2 69.1h0.8M232.1 71.1h0.8M223.2 75.0h0.8M219.4 75.9h0.8M232.0 70.8h0.8M230.0 73.7h0.8M221.9 70.9h0.8M227.3 74.4h0.8M231.6 66.8h0.8M230.2 64.5h0.8M222.7 73.8h0.8M218.3 76.5h0.8M213.9 77.4h0.8M222.2 70.5h0.8M224.5 73.0h0.8M217.1 74.2h0.8M235.6 73.0h0.8M238.6 65.4h0.8M221.4 74.0h0.8M230.1 67.1h0.8M225.9 72.4h0.8M231.5 72.7h0.8M226.2 68.4h0.8M225.0 70.0h0.8M229.9 63.2h0.8M230.4 68.2h0.8M225.1 75.6h0.8M227.7 66.2h0.8M221.6 71.5h0.8M224.8 68.9h0.8M229.5 68.0h0.8M228.1 67.2h0.8M215.5 74.6h0.8M228.4 66.0h0.8M218.4 74.7h0.8M228.4 72.0h0.8M231.3 70.0h0.8M214.1 70.8h0.8M220.5 76.9h0.8M232.0 69.6h0.8M229.3 72.1h0.8M231.4 66.1h0.8M222.7 74.0h0.8M220.3 78.3h0.8M226.5 67.5h0.8M222.2 73.1h0.8M226.7 71.4h0.8M227.2 68.8h0.8M242.0 63.6h0.8M231.3 66.4h0.8M229.0 72.7h0.8M224.7 66.4h0.8M228.5 70.1h0.8M228.5 67.7h0.8M221.8 72.3h0.8M228.2 66.8h0.8M218.1 65.7h0.8M224.0 75.8h0.8M226.2 72.5h0.8M233.0 68.3h0.8M231.2 67.8h0.8M233.4 66.0h0.8M226.4 70.6h0.8M228.0 73.5h0.8M234.6 64.5h0.8M220.3 70.8h0.8M221.3 78.2h0.8M218.5 74.8h0.8M231.0 67.6h0.8M221.3 74.5h0.8M219.9 75.3h0.8M228.5 69.6h0.8M218.2 71.5h0.8M219.9 70.8h0.8M220.7 73.3h0.8M230.5 73.6h0.8M219.3 68.6h0.8M222.4 71.9h0.8M225.1 72.3h0.8M213.3 75.1h0.8M224.4 71.9h0.8M213.9 76.1h0.8M218.9 76.2h0.8M224.5 76.0h0.8M226.1 69.5h0.8M224.4 72.1h0.8M233.0 68.3h0.8M226.6 70.6h0.8M229.3 68.9h0.8M220.1 67.2h0.8M221.6 72.9h0.8M235.2 62.9h0.8M214.5 74.8h0.8M233.6 68.0h0.8M221.4 74.3h0.8M229.4 67.5h0.8M216.7 73.6h0.8M228.5 68.4h0.8M226.4 67.2h0.8M223.4 76.7h0.8M229.5 68.1h0.8M234.0 71.1h0.8M228.4 71.5h0.8M220.7 69.9h0.8M226.3 72.9h0.8M218.0 76.2h0.8M219.3 74.1h0.8M225.4 66.5h0.8M224.9 69.2h0.8M227.5 63.0h0.8M226.7 69.9h0.8M229.0 68.1h0.8M223.7 68.3h0.8M228.1 65.7h0.8M242.9 65.9h0.8M217.6 70.1h0.8M227.3 71.8h0.8M222.8 72.2h0.8M230.3 71.8h0.8M226.8 65.3h0.8M220.6 73.3h0.8M228.1 72.9h0.8M226.9 69.5h0.8M223.4 67.6h0.8M225.6 65.0h0.8M233.9 64.5h0.8M230.9 70.9h0.8M225.9 74.8h0.8M227.4 69.8h0.8M239.7 66.2h0.8M223.0 74.7h0.8M233.8 68.3h0.8M220.6 70.6h0.8M216.4 77.2h0.8M220.3 70.3h0.8M228.2 69.6h0.8M225.2 73.0h0.8M222.5 75.2h0.8M220.7 72.7h0.8M220.9 76.1h0.8M220.7 77.4h0.8M223.0 74.6h0.8M228.9 69.9h0.8M227.7 69.7h0.8M226.5 70.3h0.8M232.5 69.4h0.8M223.2 74.9h0.8M225.8 70.6h0.8M227.3 70.5h0.8M223.4 72.2h0.8M228.6 66.4h0.8M231.7 68.8h0.8M224.5 70.9h0.8M218.0 75.2h0.8M229.1 71.8h0.8M232.1 69.7h0.8M232.5 69.4h0.8M221.8 71.0h0.8M218.0 69.7h0.8M223.6 70.5h0.8M219.0 73.8h0.8M229.6 72.6h0.8M228.9 69.9h0.8M231.5 71.8h0.8M219.7 72.3h0.8M224.2 68.2h0.8M218.8 76.4h0.8M214.9 72.6h0.8M226.9 65.5h0.8M213.3 75.0h0.8M223.8 72.5h0.8M242.0 65.7h0.8M233.5 66.8h0.8M231.0 70.6h0.8M229.5 68.6h0.8M222.5 67.5h0.8M220.6 69.9h0.8M236.8 60.4h0.8M224.2 70.7h0.8M219.5 67.6h0.8M228.4 65.2h0.8M224.4 68.8h0.8M235.1 68.5h0.8M222.2 73.8h0.8M219.9 72.2h0.8M223.3 72.2h0.8M235.8 64.9h0.8M234.8 73.9h0.8M225.6 65.8h0.8M224.1 65.5h0.8M225.8 64.9h0.8M217.9 70.2h0.8M228.7 68.0h0.8M223.7 74.1h0.8M227.0 69.1h0.8M225.6 69.7h0.8M227.6 69.1h0.8M223.0 72.3h0.8M230.9 65.3h0.8M228.8 70.7h0.8M220.8 72.6h0.8M228.9 69.5h0.8M224.2 72.7h0.8M228.9 70.4h0.8M232.2 69.5h0.8M221.7 69.8h0.8M226.1 71.5h0.8M224.5 66.5h0.8M223.7 65.4h0.8M238.5 63.0h0.8M228.5 70.1h0.8M219.0 75.0h0.8M226.9 70.7h0.8M223.3 73.9h0.8M239.6 58.5h0.8M221.2 71.0h0.8M218.5 73.2h0.8M229.7 66.1h0.8M222.8 72.6h0.8M224.0 72.8h0.8M224.7 71.7h0.8M221.6 72.6h0.8M225.8 76.8h0.8M225.2 70.6h0.8M231.4 71.0h0.8M240.0 68.5h0.8M225.3 68.0h0.8M230.1 65.4h0.8M222.8 75.6h0.8M236.6 68.2h0.8M241.3 65.1h0.8M227.8 68.6h0.8M224.5 72.8h0.8M224.8 66.8h0.8M234.7 62.7h0.8M219.7 77.7h0.8M232.9 63.3h0.8M219.4 73.0h0.8M261.5 74.9h0.8M259.4 78.9h0.8M250.4 75.2h0.8M253.6 74.8h0.8M261.1 71.6h0.8M254.6 69.8h0.8M268.0 75.0h0.8M256.5 70.5h0.8M269.1 79.2h0.8M257.3 79.4h0.8M265.3 76.3h0.8M260.2 78.7h0.8M257.8 74.2h0.8M248.6 72.7h0.8M257.8 73.7h0.8M259.6 78.9h0.8M253.8 71.7h0.8M251.2 75.9h0.8M251.1 77.4h0.8M256.6 68.8h0.8M263.1 69.3h0.8M255.0 72.1h0.8M250.1 73.3h0.8M251.8 74.7h0.8M249.8 71.9h0.8M246.6 71.9h0.8M254.6 70.9h0.8M252.9 70.9h0.8M254.8 75.7h0.8M269.2 72.7h0.8M263.2 70.7h0.8M266.5 70.4h0.8M257.3 71.7h0.8M258.9 68.9h0.8M252.0 75.1h0.8M245.8 75.8h0.8M247.0 69.9h0.8M254.8 72.6h0.8M260.2 73.2h0.8M271.6 77.2h0.8M256.7 71.9h0.8M247.3 73.3h0.8M254.8 70.9h0.8M260.5 71.1h0.8M249.7 72.2h0.8M260.4 78.3h0.8M258.0 75.7h0.8M260.0 75.4h0.8M257.7 69.2h0.8M257.1 71.1h0.8M266.1 77.1h0.8M263.1 74.5h0.8M259.0 78.3h0.8M260.8 74.5h0.8M257.0 76.4h0.8M257.0 74.9h0.8M260.0 76.3h0.8M258.8 75.8h0.8M273.9 78.3h0.8M259.1 72.7h0.8M260.2 73.7h0.8M271.3 72.1h0.8M251.6 74.5h0.8M258.3 76.1h0.8M265.8 74.8h0.8M259.0 67.8h0.8M257.4 72.1h0.8M252.3 72.6h0.8M257.8 73.4h0.8M253.1 72.3h0.8M264.4 73.2h0.8M261.3 77.6h0.8M255.8 76.5h0.8M265.1 79.4h0.8M251.2 68.9h0.8M252.2 70.9h0.8M262.5 70.1h0.8M259.5 78.0h0.8M250.4 76.9h0.8M252.9 72.5h0.8M256.2 72.6h0.8M253.6 75.4h0.8M259.0 79.0h0.8M257.0 79.8h0.8M260.8 72.3h0.8M257.3 77.6h0.8M260.0 73.8h0.8M254.9 80.0h0.8M259.9 76.4h0.8M262.2 76.6h0.8M259.9 65.6h0.8M255.2 76.5h0.8M257.2 68.6h0.8M266.0 72.4h0.8M256.0 77.5h0.8M258.1 69.0h0.8M261.8 72.6h0.8M262.1 77.2h0.8M252.0 72.6h0.8M251.9 76.9h0.8M259.5 72.5h0.8M271.2 74.3h0.8M246.1 66.4h0.8M246.9 77.8h0.8M261.2 76.9h0.8M259.3 73.3h0.8M251.4 73.4h0.8M263.4 70.7h0.8M258.8 71.9h0.8M254.5 75.3h0.8M257.0 75.5h0.8M254.1 77.1h0.8M259.5 78.5h0.8M253.1 78.0h0.8M250.3 75.9h0.8M253.0 75.7h0.8M259.9 73.8h0.8M264.7 78.8h0.8M253.5 72.0h0.8M251.0 71.8h0.8M259.4 75.7h0.8M264.6 69.5h0.8M255.1 73.4h0.8M267.2 69.2h0.8M252.6 71.5h0.8M262.0 68.8h0.8M246.8 77.9h0.8M260.9 72.4h0.8M256.1 70.5h0.8M256.4 69.3h0.8M252.9 76.6h0.8M257.7 73.2h0.8M253.4 74.5h0.8M258.4 80.2h0.8M264.3 69.7h0.8M266.3 67.1h0.8M264.6 74.9h0.8M263.1 79.3h0.8M260.3 75.1h0.8M256.3 79.4h0.8M250.5 78.5h0.8M264.0 75.7h0.8M254.8 71.9h0.8M258.8 75.0h0.8M248.9 78.5h0.8M260.4 76.3h0.8M266.4 74.5h0.8M257.0 75.9h0.8M263.3 74.5h0.8M256.6 77.4h0.8M258.6 73.8h0.8M254.5 80.3h0.8M240.6 76.0h0.8M259.9 75.3h0.8M260.7 68.4h0.8M261.3 67.1h0.8M268.4 74.0h0.8M263.4 73.0h0.8M253.4 72.0h0.8M276.1 71.2h0.8M249.0 77.3h0.8M255.2 67.5h0.8M254.5 74.8h0.8M264.4 70.0h0.8M259.8 64.8h0.8M261.1 68.2h0.8M246.5 74.0h0.8M254.3 74.4h0.8M264.2 73.5h0.8M254.4 71.2h0.8M249.7 74.6h0.8M258.9 75.4h0.8M253.9 74.6h0.8M257.6 80.1h0.8M259.9 77.8h0.8M251.4 71.2h0.8M257.4 72.1h0.8M266.3 71.1h0.8M256.0 74.9h0.8M256.3 78.0h0.8M254.1 79.9h0.8M259.8 75.0h0.8M261.0 72.3h0.8M252.1 70.7h0.8M258.5 68.7h0.8M268.4 80.4h0.8M247.2 73.2h0.8M264.1 72.6h0.8M263.5 80.8h0.8M248.0 72.2h0.8M247.2 74.1h0.8M254.1 75.9h0.8M266.6 68.0h0.8M253.6 69.7h0.8M258.4 75.7h0.8M257.1 67.6h0.8M270.4 72.5h0.8M259.5 74.1h0.8M250.2 76.6h0.8M259.6 74.1h0.8M261.8 70.4h0.8M250.8 74.5h0.8M258.9 78.4h0.8M253.8 72.4h0.8M249.2 70.5h0.8M251.8 70.7h0.8M262.8 66.5h0.8M256.6 78.8h0.8M247.0 75.6h0.8M262.3 74.2h0.8M255.6 75.1h0.8M238.7 78.9h0.8M250.6 73.2h0.8M242.4 69.9h0.8M253.6 78.3h0.8M275.3 66.5h0.8M270.7 73.3h0.8M259.3 78.6h0.8M252.1 79.8h0.8M250.0 74.3h0.8M252.8 74.2h0.8M259.2 74.1h0.8M265.7 73.6h0.8M258.0 74.1h0.8M265.7 79.4h0.8M256.8 76.2h0.8M244.1 80.5h0.8M259.7 76.5h0.8M264.2 73.2h0.8M261.4 73.6h0.8M251.7 72.4h0.8M256.0 78.1h0.8M257.9 71.2h0.8M260.0 76.4h0.8M261.4 73.3h0.8M264.1 73.0h0.8M255.1 71.5h0.8M250.9 71.9h0.8M254.8 75.1h0.8M256.4 79.3h0.8M254.8 75.9h0.8M251.7 71.4h0.8M263.4 76.1h0.8M264.0 65.8h0.8M264.1 74.2h0.8M261.2 66.1h0.8M254.8 73.4h0.8M255.1 78.0h0.8M245.8 78.9h0.8M259.3 73.0h0.8M245.0 80.3h0.8M269.6 80.1h0.8M261.8 73.4h0.8M253.6 74.8h0.8M257.6 71.4h0.8M254.4 73.5h0.8M267.7 79.4h0.8M264.9 70.5h0.8M258.4 78.7h0.8M254.5 75.8h0.8M261.6 75.9h0.8M259.5 72.5h0.8M257.5 77.2h0.8M254.5 74.1h0.8M247.8 73.9h0.8M249.0 69.0h0.8M253.1 74.7h0.8M247.2 73.2h0.8M251.7 77.6h0.8M269.3 75.0h0.8M258.0 74.3h0.8M262.3 72.7h0.8M254.0 72.4h0.8M266.4 72.0h0.8M258.6 77.0h0.8M263.0 69.4h0.8M264.9 69.3h0.8M260.7 75.4h0.8M270.3 79.5h0.8M251.8 75.6h0.8M255.7 73.8h0.8M257.2 75.6h0.8M260.8 72.5h0.8M271.9 75.1h0.8M255.9 78.0h0.8M259.6 73.1h0.8M254.4 77.3h0.8M252.5 73.2h0.8M245.4 74.9h0.8M260.9 75.5h0.8M266.9 65.8h0.8M258.0 78.7h0.8M265.6 76.4h0.8M249.2 75.9h0.8M256.6 75.0h0.8M256.8 73.5h0.8M262.6 79.0h0.8M258.1 74.3h0.8M261.3 77.3h0.8M267.3 68.3h0.8M257.0 75.0h0.8M260.3 75.3h0.8M253.4 70.7h0.8M260.1 71.1h0.8M246.4 75.7h0.8M251.2 62.7h0.8M256.0 78.6h0.8M246.0 71.5h0.8M271.7 71.3h0.8M269.8 74.2h0.8M265.8 80.8h0.8M263.1 74.9h0.8M263.6 78.0h0.8M256.0 69.7h0.8M256.2 72.0h0.8M244.5 77.2h0.8M263.7 70.0h0.8M256.5 64.8h0.8M244.9 71.6h0.8M252.3 72.7h0.8M260.9 73.3h0.8M247.1 76.6h0.8M254.3 76.3h0.8M243.5 72.5h0.8M254.5 76.0h0.8M257.1 73.6h0.8M242.0 74.5h0.8M252.5 70.7h0.8M260.4 76.4h0.8M255.1 72.9h0.8M267.1 78.4h0.8M263.2 69.2h0.8M265.0 78.1h0.8M249.5 70.0h0.8M251.4 75.6h0.8M259.7 70.2h0.8M260.9 70.9h0.8M254.1 76.6h0.8M256.1 68.4h0.8M251.2 77.4h0.8M260.1 76.7h0.8M266.9 68.7h0.8M261.2 76.4h0.8M263.3 73.8h0.8M258.0 74.8h0.8M260.9 74.1h0.8M263.9 78.0h0.8M251.7 80.2h0.8M263.9 75.4h0.8M261.5 79.3h0.8M264.2 72.6h0.8M253.2 71.0h0.8M254.8 70.5h0.8M257.8 73.0h0.8M241.2 77.2h0.8M252.2 77.8h0.8M253.6 68.9h0.8M254.0 75.2h0.8M251.1 75.8h0.8M255.7 73.3h0.8M253.4 69.5h0.8M265.9 68.5h0.8M257.4 73.7h0.8M256.9 76.2h0.8M262.8 75.2h0.8M256.9 74.1h0.8M257.3 71.6h0.8M265.0 74.3h0.8M263.7 74.5h0.8M249.0 74.1h0.8M253.5 70.6h0.8M261.0 72.8h0.8M246.9 73.6h0.8M255.4 66.9h0.8M257.1 74.2h0.8M247.8 75.0h0.8M265.2 74.8h0.8M255.9 70.8h0.8M247.6 73.4h0.8M251.1 75.3h0.8M260.2 77.3h0.8M266.3 75.4h0.8M259.4 69.7h0.8M258.7 76.8h0.8M256.3 79.8h0.8M267.9 73.5h0.8M265.8 65.2h0.8M247.3 77.4h0.8M257.7 78.1h0.8M261.3 74.5h0.8M256.3 73.0h0.8M260.4 78.5h0.8M261.8 77.4h0.8M251.8 74.5h0.8M265.8 74.0h0.8M258.6 75.3h0.8M264.5 78.2h0.8M259.4 75.1h0.8M257.0 70.4h0.8M266.2 72.4h0.8M260.0 75.1h0.8M267.7 75.9h0.8M261.5 72.5h0.8M271.6 77.2h0.8M252.6 72.3h0.8M258.2 78.0h0.8M252.7 80.5h0.8M250.6 77.4h0.8M258.8 74.9h0.8M248.2 76.5h0.8M257.0 67.0h0.8M265.9 79.6h0.8M261.1 71.4h0.8M254.2 70.9h0.8M256.0 72.8h0.8M262.2 70.8h0.8M267.6 74.1h0.8M256.0 73.1h0.8M258.4 73.8h0.8M260.7 78.1h0.8M256.4 75.5h0.8M259.9 71.9h0.8M259.3 73.3h0.8M266.0 71.1h0.8M253.8 77.5h0.8M258.1 70.1h0.8M259.8 72.5h0.8M252.9 79.7h0.8M255.5 72.9h0.8M257.4 74.5h0.8M248.3 75.7h0.8M254.5 68.2h0.8M250.3 74.7h0.8M254.3 77.4h0.8M253.2 74.6h0.8M254.4 76.1h0.8M262.0 70.8h0.8M265.4 74.2h0.8M262.8 72.9h0.8M252.4 74.0h0.8M259.6 69.3h0.8M249.5 71.8h0.8M261.1 75.7h0.8M262.2 71.8h0.8M255.3 75.9h0.8M257.8 79.3h0.8M262.7 74.9h0.8M262.2 74.3h0.8M254.0 76.2h0.8M252.9 70.9h0.8M246.8 72.3h0.8M255.3 70.3h0.8M253.7 71.1h0.8M257.4 80.0h0.8M261.0 71.4h0.8M248.6 74.0h0.8M252.6 72.9h0.8M255.3 72.6h0.8M247.3 73.1h0.8M256.2 73.3h0.8M254.3 75.3h0.8M259.7 73.0h0.8M261.7 75.5h0.8M261.8 73.5h0.8M255.8 73.1h0.8M259.0 73.4h0.8M258.7 80.0h0.8M264.1 70.0h0.8M245.7 73.6h0.8M255.8 76.5h0.8M252.6 76.0h0.8M258.1 70.7h0.8M264.0 70.4h0.8M258.8 73.9h0.8M258.3 78.1h0.8M253.0 76.7h0.8M259.4 73.9h0.8M258.9 72.9h0.8M251.1 73.4h0.8M261.4 73.6h0.8M254.5 69.4h0.8M244.0 69.4h0.8M256.2 73.9h0.8M260.6 80.6h0.8M260.2 74.9h0.8M258.2 68.2h0.8M257.0 70.4h0.8M261.5 73.9h0.8M261.0 70.7h0.8M245.8 74.9h0.8M252.8 71.6h0.8M257.9 71.4h0.8M256.9 69.6h0.8M262.6 75.6h0.8M263.7 75.3h0.8M258.3 75.5h0.8M254.9 76.4h0.8M268.2 73.7h0.8M252.0 78.3h0.8M256.7 70.7h0.8M270.2 76.7h0.8M261.4 72.8h0.8M261.2 72.5h0.8M257.4 71.9h0.8M265.0 76.1h0.8M275.9 74.9h0.8M259.5 78.0h0.8M256.0 71.2h0.8M264.9 75.0h0.8M269.6 71.0h0.8M259.8 76.1h0.8M252.2 79.1h0.8M259.7 71.1h0.8M252.5 78.0h0.8M263.6 70.9h0.8M256.2 79.4h0.8M260.8 74.9h0.8M258.0 76.3h0.8M262.8 70.7h0.8M244.7 79.9h0.8M259.6 74.0h0.8M258.7 72.8h0.8M259.4 77.7h0.8M248.3 71.8h0.8M266.2 73.5h0.8M253.4 73.1h0.8M260.5 71.8h0.8M254.2 78.1h0.8M256.2 80.1h0.8M254.7 71.2h0.8M247.2 79.8h0.8M253.4 78.2h0.8M265.9 73.2h0.8M250.3 76.6h0.8M246.3 72.3h0.8M264.5 72.6h0.8M248.8 71.1h0.8M256.6 77.9h0.8M261.0 71.8h0.8M249.2 74.0h0.8M256.9 76.8h0.8M261.0 73.6h0.8M257.6 78.5h0.8M252.7 74.8h0.8M260.4 78.8h0.8M264.7 75.7h0.8M272.3 75.3h0.8M265.8 72.6h0.8M246.8 75.8h0.8M265.9 77.4h0.8M264.2 69.3h0.8M259.5 76.6h0.8M262.0 79.0h0.8M264.8 77.8h0.8M256.0 76.1h0.8M249.8 74.0h0.8M256.0 71.1h0.8M261.9 71.7h0.8M254.1 73.5h0.8M253.5 71.2h0.8M249.6 75.1h0.8M261.1 73.1h0.8M250.8 73.8h0.8M256.3 78.9h0.8M253.0 75.5h0.8M266.0 77.2h0.8M264.1 69.1h0.8M272.4 76.7h0.8M253.2 72.1h0.8M251.4 80.2h0.8M259.4 69.8h0.8M248.9 72.2h0.8M254.5 77.6h0.8M258.1 69.9h0.8M263.2 74.1h0.8M252.9 72.3h0.8M254.7 80.2h0.8M263.1 75.9h0.8M264.8 78.0h0.8M265.5 72.9h0.8M258.4 71.2h0.8M253.1 76.8h0.8M255.1 73.5h0.8M257.8 77.6h0.8M247.8 74.1h0.8M251.7 79.4h0.8M246.6 74.5h0.8M259.6 75.0h0.8M259.1 78.2h0.8M251.8 75.6h0.8M263.8 79.6h0.8M258.3 73.0h0.8M256.9 71.9h0.8M262.0 78.0h0.8M259.9 76.6h0.8M251.0 73.0h0.8M253.4 71.2h0.8M248.6 72.6h0.8M261.6 74.7h0.8M257.0 74.0h0.8M263.5 71.2h0.8M253.2 71.9h0.8M250.1 76.6h0.8M264.8 78.5h0.8M263.0 79.8h0.8M248.4 72.2h0.8M264.5 71.1h0.8M253.1 76.6h0.8M267.4 73.7h0.8M260.9 77.2h0.8M253.8 77.7h0.8M256.2 73.4h0.8M256.6 74.2h0.8M238.9 69.3h0.8M262.0 69.4h0.8M255.7 76.9h0.8M239.6 68.9h0.8M262.2 69.8h0.8M257.9 72.9h0.8M250.5 76.9h0.8M270.3 68.3h0.8M263.0 74.5h0.8M251.7 78.9h0.8M252.6 66.9h0.8M261.4 70.6h0.8M269.1 76.8h0.8M261.0 78.1h0.8M255.0 71.7h0.8M269.3 77.3h0.8M253.9 77.5h0.8M266.2 69.8h0.8M262.1 74.1h0.8M257.0 72.5h0.8M253.9 73.4h0.8M254.1 75.1h0.8M257.6 70.7h0.8M266.6 68.1h0.8M257.4 69.8h0.8M252.1 70.0h0.8M266.3 73.7h0.8M264.4 77.5h0.8M258.3 72.6h0.8M265.8 72.0h0.8M259.0 72.7h0.8M269.5 76.9h0.8M257.1 73.9h0.8M253.1 74.5h0.8M255.0 72.1h0.8M258.6 74.2h0.8M258.8 73.1h0.8M254.2 78.2h0.8M254.4 74.5h0.8M249.4 78.4h0.8M254.3 75.9h0.8M268.2 75.2h0.8M256.5 68.6h0.8M251.5 73.7h0.8M253.4 71.2h0.8M252.8 77.7h0.8M257.0 75.5h0.8M252.3 75.7h0.8M265.1 73.8h0.8M252.3 78.9h0.8M256.0 67.6h0.8M267.0 76.7h0.8M257.4 73.0h0.8M265.7 70.9h0.8M256.4 71.9h0.8M262.7 74.1h0.8M271.6 75.3h0.8M251.8 78.0h0.8M261.0 72.0h0.8M250.6 71.8h0.8M257.4 77.7h0.8M253.3 78.1h0.8M258.4 70.9h0.8M250.0 71.9h0.8M244.0 75.3h0.8M261.3 73.3h0.8" stroke="#000" stroke-width="0.75" stroke-opacity="1.00" fill="none"/>
<path d="M269.0 72.5h0.8M215.2 80.4h0.8M219.7 79.4h0.8M266.2 69.8h0.8M262.5 77.7h0.8M234.0 75.0h0.8M214.2 70.9h0.8M233.2 69.6h0.8M250.0 66.0h0.8M225.3 66.1h0.8M229.5 75.6h0.8M245.0 72.4h0.8M216.8 71.4h0.8M252.4 69.1h0.8M265.9 78.2h0.8M261.5 69.4h0.8M262.2 74.0h0.8M235.7 69.0h0.8M271.0 70.9h0.8M273.6 77.1h0.8M233.5 78.6h0.8M239.6 69.1h0.8M244.0 68.7h0.8M252.0 75.6h0.8M235.8 78.1h0.8M266.6 67.8h0.8M272.4 76.1h0.8M231.7 66.7h0.8M272.8 68.1h0.8M272.3 80.1h0.8M242.2 67.0h0.8M245.7 72.0h0.8M266.3 70.6h0.8M246.6 74.6h0.8M265.0 73.8h0.8M267.4 75.2h0.8M215.3 74.4h0.8M271.0 69.3h0.8M228.1 72.2h0.8M219.2 68.1h0.8M251.5 67.7h0.8M219.6 67.2h0.8M235.4 80.2h0.8M255.9 76.9h0.8M239.4 68.6h0.8M232.2 73.0h0.8M226.2 66.0h0.8M261.0 75.7h0.8M239.2 70.2h0.8M246.0 78.6h0.8M219.9 75.5h0.8M224.7 79.3h0.8M219.9 78.9h0.8M266.0 73.9h0.8M259.5 67.7h0.8M263.8 72.5h0.8M273.6 67.8h0.8M258.3 67.2h0.8M262.9 76.5h0.8M264.8 80.2h0.8M260.8 80.3h0.8M270.6 78.3h0.8M266.6 75.6h0.8M238.1 78.7h0.8M273.5 77.9h0.8M268.9 77.9h0.8M243.5 76.4h0.8M258.2 74.3h0.8M265.7 71.8h0.8M267.6 68.7h0.8M237.3 75.1h0.8M221.7 72.7h0.8M254.2 80.2h0.8M249.8 79.0h0.8M247.2 80.2h0.8M254.6 68.3h0.8M249.3 77.5h0.8M249.9 67.0h0.8M253.2 67.5h0.8M266.1 68.3h0.8M214.6 76.0h0.8M216.9 76.2h0.8M229.8 72.4h0.8M233.2 70.1h0.8M222.5 68.0h0.8M232.5 67.3h0.8M236.6 71.6h0.8M251.8 68.4h0.8M240.9 69.2h0.8M255.7 69.0h0.8M230.0 77.1h0.8M229.4 66.7h0.8M220.9 67.6h0.8M233.4 68.8h0.8M273.0 73.1h0.8M232.4 69.0h0.8M257.4 78.1h0.8M241.6 71.5h0.8M260.3 76.6h0.8M229.9 70.4h0.8M238.8 67.9h0.8M213.5 69.7h0.8M251.2 68.1h0.8M221.0 76.6h0.8M241.4 80.3h0.8M219.9 67.2h0.8M257.5 70.7h0.8M260.6 70.0h0.8M267.4 67.7h0.8M262.2 69.5h0.8M213.7 78.5h0.8M259.8 78.8h0.8M230.6 72.8h0.8M229.1 73.5h0.8M225.0 80.1h0.8M233.9 75.2h0.8M229.0 71.7h0.8M218.3 76.2h0.8M253.6 72.2h0.8M253.6 74.0h0.8M259.8 80.1h0.8M236.6 70.1h0.8M236.2 74.5h0.8M264.3 79.3h0.8M269.9 75.8h0.8M220.4 80.1h0.8M259.2 72.0h0.8M264.8 68.2h0.8M245.4 69.3h0.8M258.8 75.6h0.8M260.1 72.9h0.8M271.1 79.7h0.8M266.4 70.4h0.8M265.3 73.6h0.8M255.9 72.2h0.8M234.3 67.3h0.8M219.6 76.0h0.8M240.4 77.0h0.8M227.1 76.2h0.8M230.8 75.0h0.8M230.9 77.1h0.8M213.1 73.5h0.8M234.0 74.0h0.8M260.4 68.1h0.8M239.9 66.2h0.8M256.9 75.7h0.8M255.9 70.5h0.8M257.9 67.2h0.8M215.7 71.0h0.8M243.4 75.4h0.8M262.1 79.0h0.8M255.7 76.9h0.8M257.3 77.7h0.8M273.1 70.3h0.8M218.1 69.1h0.8M242.6 66.2h0.8M237.8 79.9h0.8M225.1 80.2h0.8M226.1 71.2h0.8M223.0 71.0h0.8M231.7 75.8h0.8M215.2 78.4h0.8M256.0 66.3h0.8M270.4 74.0h0.8M241.6 78.4h0.8M225.8 72.5h0.8M236.9 78.7h0.8M233.8 73.8h0.8M230.3 72.0h0.8M267.4 74.9h0.8M268.2 78.4h0.8M271.2 73.5h0.8M228.3 71.9h0.8M263.1 68.8h0.8M254.4 76.0h0.8M272.6 71.9h0.8M226.1 70.6h0.8M226.9 69.3h0.8M234.1 69.2h0.8M215.2 71.1h0.8M264.6 76.7h0.8M252.2 77.6h0.8M228.8 68.4h0.8M244.7 77.4h0.8M233.7 75.8h0.8M250.1 70.5h0.8M252.0 70.4h0.8M229.3 79.8h0.8M246.7 73.8h0.8M239.9 78.7h0.8M245.2 73.0h0.8M225.7 66.7h0.8M227.8 72.0h0.8M260.2 72.3h0.8M260.5 72.7h0.8M232.4 78.5h0.8M228.8 72.9h0.8M220.4 68.7h0.8M257.0 78.7h0.8M261.3 68.3h0.8M242.5 67.9h0.8M235.5 70.5h0.8M220.0 67.3h0.8M233.1 72.3h0.8M246.6 70.4h0.8M267.8 79.0h0.8M272.0 75.4h0.8M246.3 72.6h0.8M243.6 78.5h0.8M241.4 73.2h0.8M216.0 78.8h0.8M235.1 74.7h0.8M241.8 73.4h0.8M225.2 76.7h0.8M236.8 73.3h0.8M232.8 67.7h0.8M214.5 70.6h0.8M273.4 68.6h0.8M245.6 70.3h0.8M248.4 79.9h0.8M244.1 70.0h0.8M268.5 68.7h0.8M250.5 73.7h0.8M237.0 70.9h0.8M230.1 80.1h0.8M225.5 77.4h0.8M251.1 79.1h0.8M268.2 69.8h0.8M263.8 69.3h0.8M217.7 71.5h0.8M271.9 76.0h0.8M253.6 68.6h0.8M230.4 76.5h0.8M236.4 73.4h0.8M252.6 73.6h0.8M256.3 77.1h0.8M224.8 69.9h0.8M226.5 77.0h0.8M255.7 67.4h0.8M227.1 79.5h0.8M235.9 78.8h0.8M237.3 77.8h0.8M262.9 69.8h0.8M244.5 73.7h0.8M245.3 79.8h0.8M232.3 75.7h0.8M249.3 80.2h0.8M254.9 67.7h0.8M240.2 67.8h0.8M244.4 66.2h0.8M239.3 75.1h0.8M226.4 78.0h0.8M272.1 69.6h0.8M258.4 78.1h0.8M264.2 72.0h0.8M249.4 74.0h0.8M230.7 68.8h0.8M214.2 66.4h0.8M271.5 73.7h0.8M272.4 70.5h0.8M227.0 80.3h0.8M249.8 77.7h0.8M224.2 80.2h0.8M239.6 69.6h0.8M243.2 77.3h0.8M246.4 80.2h0.8M232.8 69.1h0.8M219.5 71.0h0.8M264.0 74.7h0.8M272.2 78.0h0.8M255.2 66.8h0.8M243.3 72.1h0.8M227.6 68.4h0.8M259.4 72.0h0.8M244.8 67.2h0.8M250.4 79.2h0.8M218.5 68.9h0.8M242.3 79.9h0.8M256.1 76.8h0.8M256.5 79.9h0.8M221.2 69.0h0.8M226.9 69.2h0.8M245.2 73.1h0.8M257.9 69.6h0.8M249.1 76.3h0.8M273.8 66.9h0.8M244.8 68.1h0.8M273.1 79.5h0.8M226.7 69.6h0.8M255.7 78.6h0.8M223.6 77.9h0.8M225.5 77.0h0.8M269.4 79.6h0.8M266.4 74.1h0.8M216.3 66.3h0.8M225.8 70.4h0.8M224.3 71.7h0.8M218.6 70.4h0.8M270.1 73.1h0.8M250.5 78.5h0.8M232.5 73.1h0.8M249.7 78.9h0.8M272.3 66.3h0.8M259.4 66.4h0.8M260.3 72.5h0.8M216.0 73.4h0.8M251.8 69.4h0.8M235.5 70.6h0.8M219.7 79.3h0.8M257.2 79.0h0.8M229.6 68.2h0.8M230.8 80.0h0.8M237.5 74.3h0.8M221.2 74.2h0.8M269.9 67.3h0.8M214.7 67.7h0.8M255.8 67.3h0.8M256.2 70.3h0.8M255.4 72.2h0.8M253.9 72.5h0.8M244.0 80.4h0.8M233.3 78.2h0.8M266.8 67.2h0.8M244.4 72.2h0.8M226.5 77.1h0.8M241.2 75.7h0.8M241.2 69.1h0.8M220.5 73.0h0.8M249.8 70.1h0.8M270.2 73.6h0.8M256.5 79.3h0.8M254.6 70.3h0.8M220.2 67.2h0.8M257.4 70.1h0.8M265.0 72.4h0.8M253.1 79.2h0.8M244.4 76.3h0.8M253.9 67.2h0.8M226.6 80.1h0.8M221.3 75.8h0.8M219.5 73.9h0.8M217.5 73.9h0.8M265.3 68.6h0.8M265.8 74.8h0.8M240.0 67.4h0.8M234.2 79.9h0.8M232.0 67.4h0.8M224.2 72.8h0.8M252.5 69.2h0.8M235.0 77.2h0.8M217.5 77.7h0.8M232.0 74.1h0.8M258.3 69.6h0.8M229.9 79.1h0.8M259.6 78.3h0.8M230.6 66.3h0.8M245.8 67.2h0.8M242.4 74.9h0.8M232.9 78.0h0.8M265.4 75.5h0.8M266.7 69.7h0.8M247.8 72.5h0.8M221.4 76.9h0.8M239.2 67.2h0.8M213.5 69.6h0.8M246.5 71.5h0.8M234.2 79.0h0.8M269.6 69.5h0.8M233.4 74.1h0.8M215.0 68.9h0.8M260.7 69.1h0.8M268.2 68.4h0.8M244.7 74.4h0.8M255.1 79.2h0.8M269.9 79.8h0.8M249.6 70.9h0.8M227.5 79.5h0.8M250.7 70.7h0.8M266.7 75.9h0.8M217.6 69.7h0.8M246.9 69.3h0.8M255.8 67.5h0.8M218.0 71.2h0.8M248.4 70.2h0.8M220.3 80.0h0.8M217.7 79.6h0.8M264.6 71.2h0.8M264.0 72.0h0.8M216.1 77.8h0.8M241.9 69.1h0.8M214.4 69.9h0.8M240.8 68.5h0.8M226.4 80.1h0.8M233.9 68.4h0.8M240.5 67.8h0.8M265.1 66.9h0.8M236.6 79.2h0.8M265.4 79.7h0.8M235.6 80.2h0.8M231.7 73.5h0.8M250.9 79.2h0.8M213.8 68.2h0.8M221.2 73.1h0.8M218.9 67.0h0.8M251.4 68.8h0.8M250.8 66.8h0.8M225.2 69.7h0.8M236.3 68.4h0.8M238.6 80.0h0.8M227.4 77.4h0.8M239.1 68.6h0.8M260.3 72.2h0.8M227.3 70.0h0.8M248.4 67.6h0.8M271.3 69.9h0.8M263.7 71.9h0.8M233.1 77.7h0.8M243.1 76.6h0.8M220.5 72.2h0.8M264.0 66.5h0.8M241.6 79.6h0.8M233.8 68.8h0.8M236.6 71.5h0.8M234.7 71.3h0.8M228.2 70.9h0.8M234.2 69.4h0.8M235.7 80.0h0.8M233.6 80.0h0.8M237.5 75.4h0.8M236.0 79.1h0.8M213.3 71.3h0.8M230.8 78.9h0.8M214.8 77.2h0.8M222.5 77.8h0.8M238.4 76.6h0.8M232.6 67.6h0.8M219.1 77.1h0.8M231.9 72.6h0.8M227.6 75.5h0.8M230.1 70.6h0.8M222.4 79.1h0.8M218.0 79.7h0.8M216.6 76.9h0.8M215.5 79.4h0.8M241.8 75.7h0.8M223.9 72.8h0.8M224.2 79.3h0.8M231.9 78.9h0.8M218.6 69.9h0.8M230.7 74.8h0.8M221.5 68.2h0.8M223.5 67.6h0.8M235.7 69.1h0.8M231.1 78.6h0.8M218.1 69.9h0.8M214.3 68.4h0.8M241.3 79.4h0.8M221.5 68.7h0.8M237.4 73.8h0.8M214.3 73.0h0.8M232.6 74.3h0.8M231.6 68.9h0.8M225.0 73.7h0.8M239.1 69.0h0.8M227.9 72.4h0.8M239.0 76.8h0.8M221.1 69.4h0.8M217.8 67.5h0.8M242.0 75.9h0.8M234.5 78.7h0.8M214.2 69.5h0.8M224.2 68.4h0.8M241.6 69.8h0.8M216.8 68.9h0.8M223.5 74.3h0.8M233.1 80.4h0.8M237.2 74.7h0.8M236.3 69.0h0.8M234.2 70.4h0.8M239.5 77.7h0.8M218.3 74.3h0.8M219.9 74.0h0.8M215.3 77.7h0.8M222.3 72.5h0.8M219.0 69.6h0.8M235.3 69.3h0.8M223.7 74.1h0.8M213.1 80.4h0.8M241.1 75.9h0.8M235.1 77.7h0.8M218.5 76.6h0.8M213.4 76.6h0.8M236.4 68.2h0.8M215.2 72.9h0.8M214.0 76.8h0.8M239.8 67.9h0.8M234.1 67.6h0.8M227.6 75.1h0.8M215.3 69.8h0.8M227.1 74.8h0.8M221.5 67.6h0.8M228.1 68.0h0.8M213.3 67.7h0.8M230.8 75.2h0.8M232.1 75.5h0.8M230.5 74.6h0.8M231.1 79.1h0.8M230.5 71.0h0.8M237.2 71.3h0.8M237.9 78.2h0.8M221.7 74.9h0.8M241.1 71.8h0.8M232.3 72.1h0.8M213.2 71.4h0.8M225.9 74.1h0.8M230.7 71.6h0.8M236.0 72.4h0.8M221.5 75.8h0.8M224.4 74.8h0.8M217.2 74.1h0.8M219.7 67.8h0.8M236.6 74.7h0.8M222.8 72.7h0.8M235.4 70.9h0.8M240.3 77.8h0.8M242.1 76.6h0.8M240.9 79.4h0.8M214.0 68.6h0.8M234.5 72.5h0.8M240.1 77.3h0.8M236.0 69.8h0.8M233.4 70.1h0.8M225.0 71.6h0.8M224.9 68.0h0.8M221.2 76.4h0.8M234.6 77.8h0.8M213.8 69.5h0.8M214.4 69.0h0.8M227.6 75.9h0.8M220.9 79.4h0.8M224.1 80.1h0.8M231.7 74.9h0.8M221.0 74.6h0.8M227.2 80.5h0.8M227.8 68.3h0.8M215.4 72.5h0.8M241.4 76.5h0.8M236.8 78.8h0.8M216.2 76.6h0.8M223.7 73.9h0.8M234.8 73.7h0.8M231.8 79.3h0.8M214.9 77.2h0.8M216.0 70.2h0.8M228.6 79.6h0.8M213.6 78.1h0.8M231.4 75.6h0.8M237.1 78.0h0.8M238.9 77.0h0.8M235.5 72.0h0.8M214.5 76.7h0.8M219.4 72.5h0.8M224.3 67.9h0.8M240.5 72.5h0.8M235.7 74.6h0.8M228.1 77.5h0.8M218.2 74.4h0.8M230.0 69.0h0.8M222.5 72.4h0.8M223.7 77.7h0.8M241.1 72.0h0.8M222.6 76.4h0.8M226.5 71.6h0.8M223.9 69.9h0.8M219.0 79.3h0.8M214.0 68.8h0.8M220.8 77.5h0.8M219.3 75.9h0.8M219.4 68.2h0.8M218.4 67.7h0.8M232.8 70.7h0.8M224.7 76.4h0.8M224.0 77.6h0.8M213.9 72.3h0.8M213.9 78.9h0.8M241.5 69.0h0.8M238.9 77.6h0.8M238.5 76.7h0.8M226.9 71.9h0.8M237.3 80.3h0.8M232.0 72.1h0.8M217.4 70.8h0.8M229.7 75.8h0.8M229.6 74.6h0.8M221.0 69.7h0.8M230.8 72.1h0.8M230.4 78.1h0.8M217.8 71.9h0.8M216.5 77.5h0.8M231.7 75.1h0.8M235.2 77.5h0.8M232.3 70.5h0.8M229.8 78.9h0.8M231.8 69.0h0.8M228.2 75.1h0.8M224.4 80.0h0.8M216.6 69.3h0.8M228.3 69.0h0.8M242.0 70.1h0.8M233.9 67.9h0.8M217.0 76.4h0.8M231.7 74.3h0.8M218.7 70.9h0.8M231.1 76.7h0.8M241.0 74.1h0.8M240.3 71.2h0.8M226.7 70.2h0.8M215.0 71.5h0.8M222.6 78.6h0.8M223.8 80.5h0.8M226.4 72.3h0.8M222.7 75.4h0.8M238.2 77.3h0.8M231.3 70.9h0.8M241.5 76.3h0.8M227.0 73.3h0.8M221.0 79.4h0.8M233.8 69.5h0.8M228.5 68.7h0.8M236.2 68.1h0.8M217.7 73.1h0.8M227.2 73.1h0.8M241.4 70.0h0.8M216.1 78.0h0.8M218.8 77.3h0.8M220.1 76.4h0.8M230.5 76.1h0.8M234.5 76.5h0.8M229.0 77.6h0.8M222.2 73.6h0.8" stroke="#000" stroke-width="0.75" stroke-opacity="0.70" fill="none"/>
<path d="M243.0 60.4h0.7M248.2 57.5h0.7M242.4 62.5h0.7M251.7 53.1h0.7M251.7 51.7h0.7M258.4 47.6h0.7M247.0 57.6h0.7M254.0 52.6h0.7M248.4 53.7h0.7M259.9 48.7h0.7M249.1 56.6h0.7M247.1 57.1h0.7M253.0 51.0h0.7M247.5 56.3h0.7M244.4 60.3h0.7M237.6 66.0h0.7M251.7 54.1h0.7M255.2 48.5h0.7M249.0 55.2h0.7M254.8 50.9h0.7" stroke="#000" stroke-width="0.70" stroke-opacity="0.25" fill="none"/>
<text x="239.65" y="41.60" text-anchor="end" class="p">&lt;1%</text>
<text x="305.55" y="41.60" text-anchor="end" class="p">&lt;1%</text>
<path d="M213.50 95.85H305.00" stroke="#9a9a9a" stroke-width="0.8" fill="none"/><path d="M305.00 95.85V148.20" stroke="#dcdcdc" stroke-width="0.8" fill="none"/>
<line x1="213.50" y1="148.20" x2="305.00" y2="148.20" stroke="#777" stroke-width="0.9" stroke-dasharray="0.9 1.4"/>
<line x1="213.50" y1="95.35" x2="213.50" y2="149.00" stroke="#8a8a8a" stroke-width="1" stroke-dasharray="1.1 0.8"/>
<line x1="213.50" y1="132.50" x2="305.00" y2="132.50" stroke="#5a5a5a" stroke-width="0.9"/>
<line x1="239.50" y1="95.85" x2="239.50" y2="148.20" stroke="#8a8a8a" stroke-width="0.9"/>
<text class="k" transform="translate(211.10 96.15) rotate(-90)" text-anchor="middle">10<tspan dy="-1" font-size="2.2">4</tspan></text>
<text class="k" transform="translate(211.10 109.24) rotate(-90)" text-anchor="middle">10<tspan dy="-1" font-size="2.2">3</tspan></text>
<text class="k" transform="translate(211.10 122.32) rotate(-90)" text-anchor="middle">10<tspan dy="-1" font-size="2.2">2</tspan></text>
<text class="k" transform="translate(211.10 135.41) rotate(-90)" text-anchor="middle">10<tspan dy="-1" font-size="2.2">1</tspan></text>
<text class="k" transform="translate(211.10 148.50) rotate(-90)" text-anchor="middle">10<tspan dy="-1" font-size="2.2">0</tspan></text>
<text class="k" transform="translate(206.90 124.12) rotate(-90)" text-anchor="middle">FL2-H</text>
<text class="k" x="213.50" y="152.80" text-anchor="middle">10<tspan dy="-1" font-size="2.2">0</tspan></text>
<text class="k" x="236.38" y="152.80" text-anchor="middle">10<tspan dy="-1" font-size="2.2">1</tspan></text>
<text class="k" x="259.25" y="152.80" text-anchor="middle">10<tspan dy="-1" font-size="2.2">2</tspan></text>
<text class="k" x="282.12" y="152.80" text-anchor="middle">10<tspan dy="-1" font-size="2.2">3</tspan></text>
<text class="k" x="305.00" y="152.80" text-anchor="middle">10<tspan dy="-1" font-size="2.2">4</tspan></text>
<text class="k2" x="261.08" y="156.20" text-anchor="middle">FL1-H</text>
<ellipse cx="227.2" cy="138.4" rx="10.5" ry="3.1" transform="rotate(-26.0 227.2 138.4)" fill="#000" fill-opacity="0.97" filter="url(#b12)"/>
<clipPath id="c22"><rect x="213.5" y="95.8" width="91.5" height="52.6"/></clipPath>
<g clip-path="url(#c22)"><ellipse cx="259.0" cy="143.1" rx="9.0" ry="4.7" transform="rotate(0.0 259.0 143.1)" fill="#000" fill-opacity="0.93" filter="url(#b12)"/></g>
<path d="M224.8 137.6h0.8M222.4 139.7h0.8M230.0 142.1h0.8M234.3 132.8h0.8M217.5 140.7h0.8M235.0 134.1h0.8M221.4 143.3h0.8M219.1 138.3h0.8M219.9 140.9h0.8M233.6 138.7h0.8M232.0 140.6h0.8M233.2 132.9h0.8M219.7 136.7h0.8M218.9 141.7h0.8M240.8 130.8h0.8M231.8 139.0h0.8M220.0 141.8h0.8M226.3 136.0h0.8M237.0 134.3h0.8M238.5 130.1h0.8M218.7 139.5h0.8M231.4 135.9h0.8M227.9 143.6h0.8M227.0 143.5h0.8M225.8 143.1h0.8M216.9 138.4h0.8M221.6 142.7h0.8M223.6 137.6h0.8M230.5 137.9h0.8M218.6 144.9h0.8M237.3 135.2h0.8M223.6 137.9h0.8M231.1 133.3h0.8M221.2 143.1h0.8M220.4 145.2h0.8M233.5 132.8h0.8M229.7 134.4h0.8M229.5 135.4h0.8M217.2 145.9h0.8M231.1 139.3h0.8M233.0 137.7h0.8M226.2 136.8h0.8M223.6 137.3h0.8M225.3 138.1h0.8M226.6 138.8h0.8M222.3 143.1h0.8M230.2 138.0h0.8M222.4 139.5h0.8M215.9 145.4h0.8M229.8 139.3h0.8M238.6 132.3h0.8M232.8 132.6h0.8M226.3 140.1h0.8M223.0 143.1h0.8M224.2 141.7h0.8M234.7 131.6h0.8M232.5 136.9h0.8M221.3 141.4h0.8M228.2 137.1h0.8M236.8 133.1h0.8M226.9 136.8h0.8M227.0 136.4h0.8M223.6 140.9h0.8M215.8 143.8h0.8M233.0 135.8h0.8M230.0 133.5h0.8M232.1 136.5h0.8M237.3 138.0h0.8M225.3 136.1h0.8M224.4 139.9h0.8M230.0 136.9h0.8M219.2 143.0h0.8M214.8 146.4h0.8M223.9 138.1h0.8M223.8 142.5h0.8M221.9 142.8h0.8M227.3 137.4h0.8M232.6 137.5h0.8M224.1 143.4h0.8M215.4 143.5h0.8M221.9 143.4h0.8M225.6 139.2h0.8M226.0 136.7h0.8M233.1 142.6h0.8M241.9 134.4h0.8M221.3 143.6h0.8M233.6 134.6h0.8M226.2 139.7h0.8M227.8 137.0h0.8M227.1 144.1h0.8M233.8 133.7h0.8M232.9 135.9h0.8M238.2 135.8h0.8M241.1 131.4h0.8M219.5 145.0h0.8M227.0 139.4h0.8M233.4 135.3h0.8M234.2 135.1h0.8M228.9 131.9h0.8M224.0 142.8h0.8M241.9 133.1h0.8M222.0 142.1h0.8M234.2 135.6h0.8M223.7 137.2h0.8M225.9 139.3h0.8M232.5 133.2h0.8M221.4 139.6h0.8M231.5 132.8h0.8M227.8 137.0h0.8M221.9 144.0h0.8M227.6 139.4h0.8M228.1 135.2h0.8M231.0 133.9h0.8M236.1 137.1h0.8M218.0 142.1h0.8M223.2 142.8h0.8M224.4 144.5h0.8M219.1 145.2h0.8M239.2 129.4h0.8M221.7 134.4h0.8M227.2 143.0h0.8M223.0 136.4h0.8M219.8 137.8h0.8M232.7 134.0h0.8M227.8 137.0h0.8M223.5 141.8h0.8M224.4 137.7h0.8M228.9 134.9h0.8M230.2 139.3h0.8M231.8 133.2h0.8M238.8 140.6h0.8M222.3 136.6h0.8M220.8 141.6h0.8M225.4 142.6h0.8M228.1 138.0h0.8M221.3 136.5h0.8M229.2 137.2h0.8M220.3 144.8h0.8M226.1 136.8h0.8M227.5 133.5h0.8M221.5 141.0h0.8M229.7 130.9h0.8M238.6 134.2h0.8M222.0 141.3h0.8M224.5 136.3h0.8M233.4 138.5h0.8M222.0 144.9h0.8M229.5 140.6h0.8M236.0 132.9h0.8M229.6 138.7h0.8M222.6 138.6h0.8M224.6 143.2h0.8M228.1 136.6h0.8M228.6 134.1h0.8M229.3 136.7h0.8M227.8 139.7h0.8M221.3 140.7h0.8M223.8 137.2h0.8M228.2 138.1h0.8M230.4 136.5h0.8M222.9 140.6h0.8M231.4 135.8h0.8M237.2 133.2h0.8M229.3 134.8h0.8M234.2 140.2h0.8M222.3 135.9h0.8M220.6 142.2h0.8M231.5 139.6h0.8M227.4 133.1h0.8M231.9 131.0h0.8M225.5 141.2h0.8M223.0 147.8h0.8M221.4 144.3h0.8M227.9 136.8h0.8M234.6 132.9h0.8M222.4 136.8h0.8M225.8 137.0h0.8M225.8 141.5h0.8M236.5 132.7h0.8M218.2 143.7h0.8M232.2 138.2h0.8M228.6 135.6h0.8M233.9 133.8h0.8M232.5 136.2h0.8M218.7 140.0h0.8M215.9 144.0h0.8M224.4 139.7h0.8M227.7 133.1h0.8M227.8 138.8h0.8M223.5 139.5h0.8M229.7 136.9h0.8M215.6 140.5h0.8M234.8 134.7h0.8M236.0 133.6h0.8M233.8 133.3h0.8M230.3 134.5h0.8M237.8 132.6h0.8M214.7 138.7h0.8M219.7 142.6h0.8M226.0 137.3h0.8M227.6 141.0h0.8M222.1 135.3h0.8M229.3 135.8h0.8M224.6 140.3h0.8M237.6 133.9h0.8M226.4 137.3h0.8M223.0 138.8h0.8M222.2 142.1h0.8M216.6 143.2h0.8M232.5 134.9h0.8M218.9 140.0h0.8M222.9 138.6h0.8M238.9 133.4h0.8M226.0 137.0h0.8M237.8 130.0h0.8M231.5 137.8h0.8M238.9 132.8h0.8M231.6 137.6h0.8M230.6 136.7h0.8M217.9 144.8h0.8M217.3 143.9h0.8M224.8 140.7h0.8M233.8 137.8h0.8M231.3 136.6h0.8M231.1 138.4h0.8M221.1 145.6h0.8M224.6 139.0h0.8M225.8 129.5h0.8M227.8 139.8h0.8M219.6 140.9h0.8M216.0 143.2h0.8M233.4 137.1h0.8M216.2 135.6h0.8M222.9 135.1h0.8M225.9 138.4h0.8M227.6 134.1h0.8M221.7 142.6h0.8M218.6 143.9h0.8M224.2 138.4h0.8M221.1 143.6h0.8M224.9 133.7h0.8M215.8 143.5h0.8M224.4 142.1h0.8M219.1 146.1h0.8M241.2 133.0h0.8M223.0 141.4h0.8M223.8 139.5h0.8M222.7 141.4h0.8M222.1 147.0h0.8M225.3 140.3h0.8M236.7 135.1h0.8M235.6 135.6h0.8M236.9 129.3h0.8M222.5 139.1h0.8M228.1 138.3h0.8M234.7 132.3h0.8M230.4 136.1h0.8M227.1 134.8h0.8M227.6 137.7h0.8M233.9 137.8h0.8M223.5 140.2h0.8M230.1 139.1h0.8M221.4 140.5h0.8M231.2 133.9h0.8M231.0 136.7h0.8M224.9 134.2h0.8M217.2 140.9h0.8M225.8 137.9h0.8M237.1 131.7h0.8M223.6 141.0h0.8M228.2 135.5h0.8M216.1 146.2h0.8M220.5 143.8h0.8M226.6 138.8h0.8M232.0 133.9h0.8M230.9 133.1h0.8M223.3 141.8h0.8M239.1 131.6h0.8M217.5 145.3h0.8M235.4 138.2h0.8M234.2 132.1h0.8M238.2 132.6h0.8M220.2 140.2h0.8M214.4 137.5h0.8M216.9 143.8h0.8M219.5 140.7h0.8M229.1 136.3h0.8M224.2 140.6h0.8M225.0 142.1h0.8M231.3 137.8h0.8M227.0 143.2h0.8M226.9 136.4h0.8M237.4 135.5h0.8M220.9 139.1h0.8M226.8 137.6h0.8M222.5 143.6h0.8M232.0 137.3h0.8M218.8 142.9h0.8M220.4 142.1h0.8M231.7 137.9h0.8M239.5 133.9h0.8M230.2 135.5h0.8M226.2 141.0h0.8M224.1 139.6h0.8M230.3 137.5h0.8M229.4 137.6h0.8M220.9 144.0h0.8M227.7 138.6h0.8M220.3 140.5h0.8M221.5 137.0h0.8M224.9 135.6h0.8M227.5 139.1h0.8M223.8 138.0h0.8M226.9 140.8h0.8M223.8 140.0h0.8M224.8 140.2h0.8M237.0 133.3h0.8M239.1 139.7h0.8M221.7 143.7h0.8M232.9 137.4h0.8M236.5 126.9h0.8M224.2 137.2h0.8M230.6 140.0h0.8M228.3 141.3h0.8M228.1 135.5h0.8M221.0 135.3h0.8M225.2 135.4h0.8M225.8 140.4h0.8M224.7 138.8h0.8M229.2 140.3h0.8M217.2 142.3h0.8M234.6 135.3h0.8M228.1 139.2h0.8M228.0 137.4h0.8M221.6 139.6h0.8M225.8 138.2h0.8M223.6 140.0h0.8M234.6 134.7h0.8M236.3 132.1h0.8M223.5 136.8h0.8M229.0 135.0h0.8M237.2 134.4h0.8M231.1 136.6h0.8M234.9 134.0h0.8M213.8 143.5h0.8M225.1 143.2h0.8M238.3 135.5h0.8M222.5 143.9h0.8M215.1 140.5h0.8M225.7 138.7h0.8M224.8 140.0h0.8M233.7 128.3h0.8M226.2 138.7h0.8M225.3 139.0h0.8M228.0 140.9h0.8M226.8 137.7h0.8M235.4 134.3h0.8M224.8 138.8h0.8M220.9 138.1h0.8M230.2 138.5h0.8M230.4 142.0h0.8M229.8 134.1h0.8M222.3 144.9h0.8M231.4 141.0h0.8M228.7 133.5h0.8M218.1 138.9h0.8M229.0 135.0h0.8M225.1 136.4h0.8M235.1 132.2h0.8M236.4 130.7h0.8M228.2 136.7h0.8M219.3 143.3h0.8M227.0 140.5h0.8M220.2 141.0h0.8M219.8 138.9h0.8M235.4 135.7h0.8M230.8 138.2h0.8M223.4 137.7h0.8M219.7 142.9h0.8M226.4 135.3h0.8M234.5 132.5h0.8M230.4 136.9h0.8M227.6 137.2h0.8M229.3 140.3h0.8M235.2 133.7h0.8M232.4 136.2h0.8M228.9 140.5h0.8M231.9 137.7h0.8M229.1 140.5h0.8M226.1 138.1h0.8M235.4 137.3h0.8M220.1 138.4h0.8M227.6 135.4h0.8M225.9 134.8h0.8M218.8 146.8h0.8M224.2 137.1h0.8M228.0 139.2h0.8M231.9 130.9h0.8M231.2 138.8h0.8M224.9 135.2h0.8M230.8 134.2h0.8M222.3 136.7h0.8M222.5 143.1h0.8M228.4 133.4h0.8M240.0 136.4h0.8M233.9 141.2h0.8M232.9 134.7h0.8M230.5 132.4h0.8M236.9 132.2h0.8M219.5 142.5h0.8M227.5 132.0h0.8M220.2 139.5h0.8M223.6 140.3h0.8M231.9 137.0h0.8M230.1 131.1h0.8M225.9 138.5h0.8M234.1 135.0h0.8M227.9 141.0h0.8M226.2 139.4h0.8M228.1 140.7h0.8M227.8 139.4h0.8M233.3 132.6h0.8M236.9 141.5h0.8M224.9 141.2h0.8M225.8 139.5h0.8M223.1 139.0h0.8M232.1 140.3h0.8M229.1 137.4h0.8M230.6 138.2h0.8M219.7 142.4h0.8M228.4 137.1h0.8M220.9 136.5h0.8M219.2 140.3h0.8M229.0 142.4h0.8M224.8 140.0h0.8M229.2 135.1h0.8M228.8 134.7h0.8M225.6 136.4h0.8M229.7 135.6h0.8M228.5 137.0h0.8M228.0 142.0h0.8M221.9 141.8h0.8M235.2 139.2h0.8M230.8 131.4h0.8M233.4 134.6h0.8M218.1 136.8h0.8M217.8 136.2h0.8M228.4 138.1h0.8M230.3 131.2h0.8M227.0 138.3h0.8M233.0 132.6h0.8M221.5 144.2h0.8M231.9 139.3h0.8M222.4 142.7h0.8M219.8 141.6h0.8M231.3 137.6h0.8M222.2 138.9h0.8M228.2 141.2h0.8M233.6 137.8h0.8M222.7 140.1h0.8M230.9 131.5h0.8M217.8 135.5h0.8M236.5 136.4h0.8M220.6 141.8h0.8M217.3 138.6h0.8M228.4 134.6h0.8M238.8 140.1h0.8M213.8 141.3h0.8M233.6 135.9h0.8M236.0 137.6h0.8M231.8 142.7h0.8M218.1 143.5h0.8M220.7 142.7h0.8M228.5 133.9h0.8M233.9 134.7h0.8M237.0 130.0h0.8M216.8 139.7h0.8M220.6 145.0h0.8M232.6 138.6h0.8M225.3 147.0h0.8M230.8 135.3h0.8M221.4 134.8h0.8M225.8 144.9h0.8M226.6 140.2h0.8M233.1 140.3h0.8M230.0 134.7h0.8M225.9 137.5h0.8M237.7 137.5h0.8M236.0 131.5h0.8M232.0 135.6h0.8M217.6 142.8h0.8M223.6 142.6h0.8M226.7 141.5h0.8M229.3 134.8h0.8M236.6 136.4h0.8M222.6 139.8h0.8M234.9 134.1h0.8M219.1 142.6h0.8M230.0 139.6h0.8M223.8 139.6h0.8M225.7 140.4h0.8M234.1 132.6h0.8M222.7 136.2h0.8M226.2 135.4h0.8M238.6 133.5h0.8M228.7 137.8h0.8M218.0 143.2h0.8M218.2 138.7h0.8M222.7 138.1h0.8M228.5 137.7h0.8M229.5 139.2h0.8M216.2 145.2h0.8M219.0 141.3h0.8M217.5 140.9h0.8M224.9 134.9h0.8M228.7 136.0h0.8M226.8 141.9h0.8M229.9 136.3h0.8M224.9 137.7h0.8M227.7 138.8h0.8M239.7 140.3h0.8M231.4 134.8h0.8M222.2 137.8h0.8M222.6 135.4h0.8M232.0 129.8h0.8M227.1 139.5h0.8M222.7 141.4h0.8M229.1 135.4h0.8M219.0 143.4h0.8M229.0 139.1h0.8M222.7 138.1h0.8M229.4 137.9h0.8M242.4 133.3h0.8M226.8 134.0h0.8M219.8 141.4h0.8M215.8 144.0h0.8M225.6 133.6h0.8M227.9 145.1h0.8M219.2 145.3h0.8M225.5 144.8h0.8M225.1 134.9h0.8M219.3 141.9h0.8M227.1 141.8h0.8M229.4 135.7h0.8M224.6 145.8h0.8M234.3 131.5h0.8M220.9 141.2h0.8M219.0 141.1h0.8M232.0 130.9h0.8M223.7 139.2h0.8M222.0 140.7h0.8M219.4 138.8h0.8M229.1 135.8h0.8M223.6 142.8h0.8M224.6 142.1h0.8M215.4 145.4h0.8M218.4 144.7h0.8M225.6 142.9h0.8M217.2 142.6h0.8M222.7 138.3h0.8M234.0 135.3h0.8M227.6 138.5h0.8M233.0 133.4h0.8M220.5 142.2h0.8M231.0 137.3h0.8M225.0 142.5h0.8M230.6 133.8h0.8M220.8 145.1h0.8M227.2 137.7h0.8M231.4 132.0h0.8M229.2 140.5h0.8M229.1 138.9h0.8M224.9 139.7h0.8M222.0 143.3h0.8M220.5 138.4h0.8M231.5 133.0h0.8M227.4 137.9h0.8M221.1 144.0h0.8M232.9 135.6h0.8M229.5 137.5h0.8M214.9 141.5h0.8M236.5 136.5h0.8M229.0 136.3h0.8M246.0 130.9h0.8M237.1 141.8h0.8M216.6 144.1h0.8M233.1 132.3h0.8M226.5 134.3h0.8M223.0 137.4h0.8M227.7 135.0h0.8M231.3 137.0h0.8M225.9 142.8h0.8M220.6 141.5h0.8M230.5 135.7h0.8M229.9 138.8h0.8M217.9 140.2h0.8M235.1 133.7h0.8M226.0 141.5h0.8M240.7 135.3h0.8M236.1 132.8h0.8M225.3 138.0h0.8M231.5 134.7h0.8M220.2 142.5h0.8M229.8 141.6h0.8M214.3 144.7h0.8M217.9 139.3h0.8M227.5 141.3h0.8M232.1 139.1h0.8M233.8 138.5h0.8M235.3 136.8h0.8M233.1 134.3h0.8M222.4 137.5h0.8M226.7 140.1h0.8M222.1 139.9h0.8M227.1 138.7h0.8M216.3 147.4h0.8M219.1 136.8h0.8M234.1 129.8h0.8M226.1 134.4h0.8M221.3 139.0h0.8M231.1 136.0h0.8M228.9 138.3h0.8M225.4 136.7h0.8M225.5 142.4h0.8M219.5 141.1h0.8M227.3 140.4h0.8M229.3 142.0h0.8M228.2 141.1h0.8M236.2 132.9h0.8M226.7 138.2h0.8M229.4 138.6h0.8M236.2 136.3h0.8M231.0 132.9h0.8M225.5 137.3h0.8M221.1 144.4h0.8M221.8 141.5h0.8M233.0 135.1h0.8M235.8 129.8h0.8M228.0 133.7h0.8M222.2 137.4h0.8M225.7 141.8h0.8M222.4 138.0h0.8M237.6 133.6h0.8M230.7 138.7h0.8M231.9 137.6h0.8M227.1 138.2h0.8M235.2 140.7h0.8M225.5 138.8h0.8M218.4 143.8h0.8M226.2 137.7h0.8M223.2 143.2h0.8M217.9 146.4h0.8M215.0 147.8h0.8M260.7 139.3h0.8M265.2 143.9h0.8M251.8 137.9h0.8M256.1 147.5h0.8M263.2 142.4h0.8M243.7 139.6h0.8M247.8 147.5h0.8M263.4 145.6h0.8M259.9 147.8h0.8M256.8 137.7h0.8M257.2 140.4h0.8M268.8 142.2h0.8M261.8 136.8h0.8M256.2 142.9h0.8M248.6 142.8h0.8M259.5 141.8h0.8M250.9 142.2h0.8M257.3 137.2h0.8M253.5 144.6h0.8M267.3 147.4h0.8M253.8 137.9h0.8M258.4 138.4h0.8M268.3 142.6h0.8M243.5 138.4h0.8M255.1 139.4h0.8M247.8 141.1h0.8M269.5 137.7h0.8M261.6 136.6h0.8M258.1 145.8h0.8M259.8 138.8h0.8M264.0 145.5h0.8M262.7 139.6h0.8M259.6 144.8h0.8M265.3 140.8h0.8M261.5 137.1h0.8M272.2 144.1h0.8M251.4 141.9h0.8M256.6 139.9h0.8M255.4 138.4h0.8M267.9 142.0h0.8M265.3 141.0h0.8M270.6 139.4h0.8M257.1 144.2h0.8M267.2 145.2h0.8M258.4 146.2h0.8M261.5 138.3h0.8M264.2 144.4h0.8M256.1 146.8h0.8M256.8 135.2h0.8M271.0 141.2h0.8M252.4 139.6h0.8M262.7 144.9h0.8M268.2 137.3h0.8M269.3 142.2h0.8M257.8 141.7h0.8M252.0 139.7h0.8M266.5 142.3h0.8M255.2 136.8h0.8M258.9 138.3h0.8M253.9 139.0h0.8M249.3 145.1h0.8M254.6 147.3h0.8M257.0 141.6h0.8M246.7 140.9h0.8M268.4 136.7h0.8M257.0 137.4h0.8M269.8 142.9h0.8M266.6 146.2h0.8M254.9 140.9h0.8M258.5 139.9h0.8M255.6 140.3h0.8M258.6 144.5h0.8M259.3 146.8h0.8M261.3 142.3h0.8M261.6 141.1h0.8M259.8 143.3h0.8M254.5 140.4h0.8M248.1 142.2h0.8M260.2 146.4h0.8M257.3 144.1h0.8M263.2 137.0h0.8M252.2 137.3h0.8M261.3 140.9h0.8M256.9 144.6h0.8M261.5 146.9h0.8M276.3 136.0h0.8M258.0 146.8h0.8M260.7 144.9h0.8M259.0 142.2h0.8M258.5 135.8h0.8M259.2 143.1h0.8M258.9 139.7h0.8M258.7 143.8h0.8M265.6 141.0h0.8M265.4 138.2h0.8M261.8 137.2h0.8M274.9 143.4h0.8M249.2 138.7h0.8M260.2 145.2h0.8M262.0 139.3h0.8M263.1 144.2h0.8M254.5 140.6h0.8M256.2 144.8h0.8M249.1 136.1h0.8M255.2 144.1h0.8M246.0 143.3h0.8M264.0 144.0h0.8M257.5 143.1h0.8M251.9 147.4h0.8M268.1 147.0h0.8M258.7 140.3h0.8M252.1 142.6h0.8M261.8 139.6h0.8M255.4 140.7h0.8M259.2 139.0h0.8M268.8 145.6h0.8M255.7 145.1h0.8M263.3 146.5h0.8M260.6 138.8h0.8M264.7 141.1h0.8M257.0 139.6h0.8M267.4 147.6h0.8M258.8 142.2h0.8M258.1 139.8h0.8M261.4 142.3h0.8M256.8 146.5h0.8M256.5 138.0h0.8M255.6 145.3h0.8M253.1 143.0h0.8M253.8 141.9h0.8M249.7 143.8h0.8M262.3 140.1h0.8M260.7 138.9h0.8M245.5 137.4h0.8M255.7 143.7h0.8M258.9 137.3h0.8M251.9 140.4h0.8M261.4 139.6h0.8M254.7 145.7h0.8M258.7 133.2h0.8M252.3 141.1h0.8M259.9 142.5h0.8M259.6 143.2h0.8M273.9 142.3h0.8M269.0 145.6h0.8M259.7 142.0h0.8M259.0 140.9h0.8M259.1 143.3h0.8M260.3 143.6h0.8M244.2 143.4h0.8M258.3 143.9h0.8M262.7 146.4h0.8M258.8 147.4h0.8M250.6 138.7h0.8M248.4 139.7h0.8M269.4 141.1h0.8M263.4 135.1h0.8M267.5 142.0h0.8M256.5 143.9h0.8M253.6 146.6h0.8M248.1 143.9h0.8M261.0 144.6h0.8M249.0 143.3h0.8M253.2 146.4h0.8M266.3 137.0h0.8M268.4 142.7h0.8M256.9 143.6h0.8M264.3 143.2h0.8M259.5 146.6h0.8M261.8 138.2h0.8M249.9 147.0h0.8M260.5 145.4h0.8M260.2 138.5h0.8M261.2 141.9h0.8M261.1 142.3h0.8M259.4 134.9h0.8M262.2 142.6h0.8M253.5 140.4h0.8M261.0 140.4h0.8M252.7 135.7h0.8M259.4 143.5h0.8M255.7 147.3h0.8M253.9 147.1h0.8M254.8 146.8h0.8M254.9 144.0h0.8M263.9 145.7h0.8M253.9 137.7h0.8M261.1 140.7h0.8M262.1 141.9h0.8M273.2 142.6h0.8M265.1 140.6h0.8M252.5 142.1h0.8M250.8 145.5h0.8M259.2 137.9h0.8M261.9 144.5h0.8M254.4 142.3h0.8M265.1 143.9h0.8M246.1 143.2h0.8M245.1 143.6h0.8M253.8 141.4h0.8M262.8 145.9h0.8M264.8 146.2h0.8M259.3 144.9h0.8M268.4 139.7h0.8M262.0 141.7h0.8M257.8 143.3h0.8M261.0 145.1h0.8M253.5 144.3h0.8M260.9 146.6h0.8M251.7 138.0h0.8M266.1 144.6h0.8M257.2 132.3h0.8M247.0 140.7h0.8M267.3 143.0h0.8M261.5 137.3h0.8M255.4 134.3h0.8M259.9 137.5h0.8M263.3 143.9h0.8M258.6 143.7h0.8M260.4 143.6h0.8M265.9 141.8h0.8M256.1 146.0h0.8M258.8 144.3h0.8M270.8 140.4h0.8M256.9 142.3h0.8M259.4 140.6h0.8M265.3 138.3h0.8M253.6 137.7h0.8M257.3 135.5h0.8M254.8 137.8h0.8M270.5 146.9h0.8M267.1 144.6h0.8M261.1 144.2h0.8M266.5 145.2h0.8M249.7 140.1h0.8M253.8 141.0h0.8M260.7 142.7h0.8M267.6 147.4h0.8M249.0 140.8h0.8M261.0 137.7h0.8M256.9 139.3h0.8M256.9 147.5h0.8M259.6 142.1h0.8M251.5 138.0h0.8M268.4 143.4h0.8M255.1 145.0h0.8M261.1 139.6h0.8M251.4 140.1h0.8M254.1 138.9h0.8M247.1 136.6h0.8M268.5 141.0h0.8M276.4 144.8h0.8M259.3 144.5h0.8M261.3 142.1h0.8M272.3 137.4h0.8M254.6 142.8h0.8M260.7 145.9h0.8M254.2 146.1h0.8M264.5 140.4h0.8M261.8 139.2h0.8M266.2 145.7h0.8M265.8 142.8h0.8M251.9 147.4h0.8M254.9 145.6h0.8M260.4 146.3h0.8M262.9 142.6h0.8M258.3 138.3h0.8M263.1 144.0h0.8M264.3 141.6h0.8M256.2 144.7h0.8M259.2 141.9h0.8M256.2 144.6h0.8M251.2 140.4h0.8M265.9 142.8h0.8M271.3 146.0h0.8M257.9 147.5h0.8M270.6 138.2h0.8M269.8 143.6h0.8M255.2 143.4h0.8M256.9 143.2h0.8M255.5 142.5h0.8M265.5 143.1h0.8M268.0 141.0h0.8M255.8 144.3h0.8M249.0 147.5h0.8M259.6 136.9h0.8M267.6 147.5h0.8M261.8 138.0h0.8M259.2 141.2h0.8M248.2 139.4h0.8M263.2 144.8h0.8M257.0 141.7h0.8M259.4 144.5h0.8M260.0 135.7h0.8M256.1 142.4h0.8M252.8 145.4h0.8M259.9 142.5h0.8M262.8 139.0h0.8M270.5 142.8h0.8M252.2 145.8h0.8M271.5 146.8h0.8M266.2 139.4h0.8M254.1 142.4h0.8M257.4 140.5h0.8M259.6 141.9h0.8M268.7 139.2h0.8M259.1 140.1h0.8M268.7 147.1h0.8M260.7 138.3h0.8M254.3 144.9h0.8M260.5 142.0h0.8M248.0 140.5h0.8M254.9 145.0h0.8M263.1 143.1h0.8M253.7 147.2h0.8M250.7 144.8h0.8M259.2 141.3h0.8M247.8 140.4h0.8M256.7 136.8h0.8M264.1 142.8h0.8M255.5 140.4h0.8M261.8 140.6h0.8M263.3 140.3h0.8M254.3 139.2h0.8M258.6 142.1h0.8M252.3 140.5h0.8M254.2 136.4h0.8M255.8 146.4h0.8M262.6 144.2h0.8M250.2 144.9h0.8M269.0 142.6h0.8M243.8 145.9h0.8M245.4 142.4h0.8M270.5 146.5h0.8M267.2 142.6h0.8M260.4 143.5h0.8M260.6 136.3h0.8M259.3 141.1h0.8M244.6 143.7h0.8M263.7 143.0h0.8M255.9 142.3h0.8M244.9 146.6h0.8M262.4 146.7h0.8M263.9 138.2h0.8M267.9 142.8h0.8M266.0 144.2h0.8M263.6 143.6h0.8M258.9 141.0h0.8M260.1 142.2h0.8M271.4 146.8h0.8M257.0 134.1h0.8M242.6 146.0h0.8M256.1 146.6h0.8M248.9 141.9h0.8M252.3 146.5h0.8M268.6 140.0h0.8M262.0 138.7h0.8M253.9 136.9h0.8M258.0 141.9h0.8M265.7 143.9h0.8M260.3 143.0h0.8M270.4 137.7h0.8M252.4 142.7h0.8M260.8 144.5h0.8M259.8 144.0h0.8M253.2 147.5h0.8M261.3 138.8h0.8M263.7 143.8h0.8M266.9 141.9h0.8M245.8 142.8h0.8M260.0 140.5h0.8M263.1 142.6h0.8M267.0 137.7h0.8M261.7 140.4h0.8M259.4 145.8h0.8M254.5 140.4h0.8M268.7 141.4h0.8M258.5 143.8h0.8M269.1 144.4h0.8M259.8 146.7h0.8M261.1 139.7h0.8M253.7 141.7h0.8M250.3 138.0h0.8M261.0 144.0h0.8M257.9 142.7h0.8M267.9 143.1h0.8M249.9 138.8h0.8M250.3 144.8h0.8M266.0 138.4h0.8M253.0 138.1h0.8M251.6 140.6h0.8M245.0 139.4h0.8M252.7 144.4h0.8M262.6 142.9h0.8M264.8 139.8h0.8M246.2 145.9h0.8M260.9 144.7h0.8M252.2 141.5h0.8M253.8 139.7h0.8M262.5 138.7h0.8M257.3 143.3h0.8M260.4 142.2h0.8M262.6 143.4h0.8M262.5 143.6h0.8M260.7 143.4h0.8M264.2 140.0h0.8M255.1 143.5h0.8M252.5 142.2h0.8M252.9 134.8h0.8M258.6 140.6h0.8M253.2 146.2h0.8M259.9 143.6h0.8M257.5 140.8h0.8M268.5 140.5h0.8M252.2 143.7h0.8M266.6 141.0h0.8M263.3 137.0h0.8M273.8 137.7h0.8M262.4 141.3h0.8M255.0 142.5h0.8M256.2 143.0h0.8M260.7 143.5h0.8M264.9 144.8h0.8M268.4 142.7h0.8M256.4 141.0h0.8M254.2 141.7h0.8M259.6 142.1h0.8M263.3 144.9h0.8M259.2 140.6h0.8M262.9 139.7h0.8M272.5 134.7h0.8M262.7 145.3h0.8M254.8 143.9h0.8M256.5 138.1h0.8M257.5 144.3h0.8M261.0 141.4h0.8M263.1 143.2h0.8M248.9 145.9h0.8M254.0 144.6h0.8M256.3 142.2h0.8M252.2 141.0h0.8M245.6 145.8h0.8M250.7 138.6h0.8M265.7 143.5h0.8M250.1 145.6h0.8M269.3 147.2h0.8M259.1 137.2h0.8M259.7 144.2h0.8M271.1 141.6h0.8M271.7 141.7h0.8M251.0 145.5h0.8M265.5 143.2h0.8M262.8 133.4h0.8M254.1 144.9h0.8M256.6 138.7h0.8M252.7 144.3h0.8M269.8 140.4h0.8M276.2 139.9h0.8M249.2 142.4h0.8M253.5 144.3h0.8M257.7 139.1h0.8M252.5 146.7h0.8M265.9 140.4h0.8M260.4 143.8h0.8M247.7 141.1h0.8M248.1 143.3h0.8M258.8 144.8h0.8M245.9 145.4h0.8M264.2 145.8h0.8M255.6 142.9h0.8M265.5 142.7h0.8M260.9 143.2h0.8M262.7 140.9h0.8M261.5 136.3h0.8M254.4 143.6h0.8M254.7 142.6h0.8M259.6 140.9h0.8M264.0 138.3h0.8M257.3 140.3h0.8M267.7 140.6h0.8M256.0 144.2h0.8M251.2 140.8h0.8M253.9 144.4h0.8M254.6 140.5h0.8M268.2 140.7h0.8M264.4 143.0h0.8M261.5 142.8h0.8M258.3 137.6h0.8M260.7 144.0h0.8M250.8 141.7h0.8M262.6 141.8h0.8M265.8 143.5h0.8M266.8 139.2h0.8M258.6 144.3h0.8M258.0 140.5h0.8M252.6 143.0h0.8M258.4 145.4h0.8M257.7 137.8h0.8M246.6 135.3h0.8M260.5 141.5h0.8M250.8 142.8h0.8M257.5 144.3h0.8M273.9 146.7h0.8M270.2 140.9h0.8M249.0 141.2h0.8M260.0 139.0h0.8M261.1 143.9h0.8M269.2 146.2h0.8M272.1 142.2h0.8M259.0 145.5h0.8M255.3 140.6h0.8M261.4 140.8h0.8M262.1 146.9h0.8M246.8 146.7h0.8M260.8 142.8h0.8M256.1 138.9h0.8M269.8 143.2h0.8M262.9 138.3h0.8M260.5 144.2h0.8M264.3 141.0h0.8M257.8 139.2h0.8M259.9 142.1h0.8M246.9 144.1h0.8M264.6 144.3h0.8M265.5 138.4h0.8M263.7 144.6h0.8M266.1 137.0h0.8M251.1 140.4h0.8M260.2 143.2h0.8M257.3 139.9h0.8M250.8 144.2h0.8M252.7 141.4h0.8M257.9 135.9h0.8M251.6 144.5h0.8M251.0 145.1h0.8M261.8 139.7h0.8M272.1 142.1h0.8M261.4 144.2h0.8M258.0 138.9h0.8M249.4 143.0h0.8M253.9 140.3h0.8M262.9 142.4h0.8M259.6 140.9h0.8M257.0 142.6h0.8M246.2 143.7h0.8M251.1 139.9h0.8M261.0 147.7h0.8M251.8 138.8h0.8M263.9 144.2h0.8M251.9 147.5h0.8M270.6 141.9h0.8M241.6 144.2h0.8M255.6 139.4h0.8M248.5 143.8h0.8M256.1 139.2h0.8M262.0 146.5h0.8M267.3 143.7h0.8M261.2 140.3h0.8M257.0 145.2h0.8M260.0 140.5h0.8M250.3 143.3h0.8M257.6 139.7h0.8M263.7 140.5h0.8M260.4 145.5h0.8M262.5 146.2h0.8M257.6 143.2h0.8M252.4 145.5h0.8M248.0 142.2h0.8M242.9 142.3h0.8M252.5 141.8h0.8M255.2 145.8h0.8M259.5 143.6h0.8M253.2 137.8h0.8M250.5 143.6h0.8M260.8 146.9h0.8M261.6 144.4h0.8M262.0 140.4h0.8M261.2 142.6h0.8M254.6 142.6h0.8M261.5 145.6h0.8M261.9 144.6h0.8M264.9 141.6h0.8M256.9 145.7h0.8M251.6 136.2h0.8M265.5 136.1h0.8M264.9 145.1h0.8M257.4 135.9h0.8M244.0 147.7h0.8M252.9 143.5h0.8M265.2 143.0h0.8M253.9 146.8h0.8M265.6 142.8h0.8M259.3 144.1h0.8M258.7 139.3h0.8M253.8 138.2h0.8M260.6 138.1h0.8M259.7 147.1h0.8M262.8 141.2h0.8M246.7 147.9h0.8M266.6 138.6h0.8M270.9 139.5h0.8M262.0 143.1h0.8M256.2 146.0h0.8M266.7 139.4h0.8M267.1 140.8h0.8M254.0 140.0h0.8M260.0 143.8h0.8M252.7 144.0h0.8M257.9 140.0h0.8M264.8 141.9h0.8M272.3 139.8h0.8M262.9 141.9h0.8M249.0 135.2h0.8M254.7 138.1h0.8M263.0 134.4h0.8M251.9 137.7h0.8M261.0 136.0h0.8M255.7 146.2h0.8M263.4 141.3h0.8M249.6 138.0h0.8M252.4 140.6h0.8M250.6 141.4h0.8M267.3 142.5h0.8M261.5 144.5h0.8M259.2 147.9h0.8M268.5 142.4h0.8M251.0 148.0h0.8M252.8 139.5h0.8M253.4 143.8h0.8M256.7 142.9h0.8M257.5 141.8h0.8M256.9 143.4h0.8M260.5 144.6h0.8M251.4 143.2h0.8M265.7 137.6h0.8M254.0 140.3h0.8M255.2 139.4h0.8M260.5 139.0h0.8M257.9 144.9h0.8M262.1 139.7h0.8M268.2 141.5h0.8M258.7 147.9h0.8M248.2 145.5h0.8M260.8 142.4h0.8M259.6 138.9h0.8M259.6 142.2h0.8M257.5 144.2h0.8M248.0 139.0h0.8M256.9 139.9h0.8M259.8 144.5h0.8M257.6 141.4h0.8M269.0 147.5h0.8M270.0 137.8h0.8M245.9 140.6h0.8M271.7 139.6h0.8M250.9 143.5h0.8M255.7 140.0h0.8M277.1 145.8h0.8M265.0 142.3h0.8M251.8 144.0h0.8M259.5 140.5h0.8M262.2 146.4h0.8" stroke="#000" stroke-width="0.75" stroke-opacity="1.00" fill="none"/>
<path d="M216.1 146.5h0.8M215.0 138.0h0.8M254.7 145.1h0.8M248.8 140.1h0.8M226.0 143.0h0.8M215.2 144.9h0.8M269.1 145.9h0.8M246.4 145.8h0.8M227.7 144.5h0.8M234.8 142.3h0.8M222.4 147.3h0.8M238.0 137.1h0.8M239.8 136.0h0.8M216.8 143.2h0.8M266.0 137.4h0.8M223.0 137.4h0.8M243.3 147.6h0.8M222.8 138.1h0.8M257.2 142.6h0.8M231.0 146.7h0.8M225.2 144.5h0.8M269.3 145.7h0.8M264.5 138.9h0.8M270.4 143.4h0.8M239.2 144.8h0.8M227.9 135.8h0.8M266.1 146.5h0.8M223.9 136.9h0.8M266.3 144.0h0.8M259.9 138.9h0.8M247.9 139.2h0.8M223.3 135.2h0.8M266.3 139.9h0.8M268.0 144.9h0.8M253.7 145.5h0.8M215.3 142.9h0.8M226.4 144.5h0.8M250.8 135.6h0.8M273.5 143.9h0.8M225.6 143.2h0.8M216.1 147.4h0.8M234.8 138.4h0.8M239.7 142.4h0.8M235.5 141.7h0.8M243.6 147.0h0.8M233.7 144.5h0.8M228.4 134.3h0.8M219.5 135.8h0.8M272.7 147.1h0.8M254.1 136.4h0.8M254.5 139.3h0.8M221.8 141.9h0.8M233.5 146.2h0.8M253.4 144.5h0.8M231.4 137.8h0.8M245.5 140.2h0.8M268.7 147.3h0.8M252.9 136.4h0.8M230.7 136.4h0.8M245.7 139.1h0.8M270.3 147.4h0.8M221.9 136.0h0.8M221.0 144.3h0.8M256.7 136.7h0.8M253.0 138.0h0.8M242.4 146.1h0.8M254.7 144.0h0.8M224.3 144.7h0.8M230.8 140.3h0.8M259.2 142.7h0.8M268.9 141.8h0.8M251.1 142.7h0.8M252.6 146.5h0.8M269.2 137.8h0.8M216.0 144.5h0.8M226.0 137.5h0.8M260.9 143.0h0.8M257.2 139.6h0.8M214.3 137.2h0.8M251.3 136.9h0.8M225.0 138.6h0.8M236.4 143.3h0.8M235.1 142.8h0.8M253.2 139.6h0.8M272.6 143.2h0.8M241.2 138.1h0.8M243.4 142.9h0.8M271.6 135.8h0.8M249.5 135.1h0.8M227.7 134.2h0.8M266.7 143.0h0.8M230.8 145.7h0.8M216.0 145.5h0.8M233.9 141.7h0.8M236.2 145.9h0.8M261.2 139.4h0.8M232.2 138.4h0.8M251.1 138.0h0.8M235.0 139.4h0.8M243.9 142.2h0.8M222.9 142.8h0.8M226.2 137.8h0.8M240.9 145.8h0.8M266.9 144.0h0.8M228.3 134.7h0.8M221.4 141.6h0.8M220.8 147.1h0.8M262.5 135.1h0.8M234.6 145.7h0.8M237.6 135.3h0.8M222.4 140.6h0.8M243.5 138.7h0.8M235.0 137.2h0.8M220.7 144.1h0.8M252.7 145.6h0.8M241.3 135.5h0.8M236.1 147.1h0.8M224.2 136.1h0.8M242.1 141.5h0.8M218.2 136.6h0.8M233.9 145.0h0.8M234.2 135.7h0.8M217.0 144.3h0.8M247.3 142.6h0.8M260.1 137.0h0.8M217.4 141.1h0.8M260.0 147.6h0.8M231.8 146.7h0.8M273.8 137.9h0.8M257.0 143.7h0.8M216.3 146.9h0.8M249.6 145.0h0.8M220.7 140.1h0.8M243.5 141.9h0.8M216.0 142.8h0.8M259.9 134.9h0.8M258.0 141.3h0.8M241.6 142.8h0.8M224.7 138.2h0.8M218.3 147.4h0.8M242.8 139.1h0.8M249.4 141.9h0.8M217.3 135.6h0.8M245.8 134.0h0.8M223.0 136.6h0.8M255.6 138.6h0.8M227.9 137.1h0.8M272.5 146.2h0.8M265.6 142.4h0.8M247.2 139.5h0.8M262.6 143.4h0.8M216.3 138.0h0.8M238.9 141.9h0.8M224.5 143.5h0.8M233.2 147.5h0.8M239.0 145.4h0.8M227.5 141.7h0.8M251.8 135.3h0.8M270.4 137.5h0.8M220.0 144.5h0.8M249.6 145.5h0.8M224.2 134.3h0.8M268.5 135.1h0.8M222.0 138.7h0.8M266.6 146.8h0.8M242.0 146.1h0.8M244.4 134.7h0.8M227.1 141.2h0.8M224.5 145.4h0.8M238.9 141.2h0.8M249.6 145.0h0.8M232.3 147.2h0.8M273.9 137.5h0.8M258.0 147.4h0.8M232.3 140.5h0.8M234.9 137.4h0.8M243.2 138.3h0.8M270.7 146.2h0.8M245.1 147.6h0.8M231.1 147.4h0.8M254.1 135.3h0.8M226.4 143.8h0.8M259.8 144.7h0.8M274.9 135.4h0.8M216.9 144.8h0.8M223.3 147.2h0.8M269.3 134.7h0.8M222.2 135.3h0.8M268.7 136.5h0.8M265.9 140.2h0.8M256.3 143.5h0.8M266.7 144.2h0.8M261.8 134.5h0.8M224.5 136.2h0.8M258.5 145.2h0.8M257.8 140.0h0.8M234.5 141.6h0.8M270.2 135.0h0.8M242.0 144.2h0.8M230.4 142.8h0.8M214.3 137.5h0.8M240.6 135.2h0.8M223.6 141.0h0.8M233.3 145.9h0.8M230.3 136.3h0.8M228.6 145.3h0.8M253.1 140.6h0.8M268.1 138.6h0.8M225.0 143.4h0.8M263.9 142.1h0.8M267.3 139.9h0.8M242.8 134.1h0.8M226.6 137.7h0.8M252.1 141.3h0.8M258.9 140.7h0.8M265.0 142.9h0.8M219.4 137.2h0.8M273.2 138.3h0.8M259.8 141.1h0.8M237.9 145.8h0.8M230.6 134.8h0.8M230.6 145.4h0.8M227.6 138.2h0.8M237.8 135.9h0.8M215.4 140.4h0.8M239.4 136.0h0.8M226.3 142.9h0.8M251.8 146.1h0.8M244.5 134.1h0.8M218.3 141.0h0.8M270.9 134.9h0.8M219.3 139.6h0.8M247.4 137.0h0.8M239.2 139.8h0.8M268.0 146.7h0.8M236.6 143.3h0.8M233.4 142.3h0.8M262.8 142.1h0.8M221.3 147.6h0.8M222.5 134.5h0.8M231.6 144.7h0.8M271.0 147.0h0.8M230.9 141.3h0.8M269.7 144.2h0.8M251.2 147.2h0.8M228.4 142.9h0.8M240.0 144.5h0.8M256.1 143.7h0.8M224.1 134.5h0.8M242.7 139.4h0.8M224.0 140.8h0.8M243.3 139.3h0.8M250.2 141.7h0.8M224.3 138.2h0.8M238.9 141.9h0.8M230.9 134.6h0.8M257.3 138.1h0.8M255.3 139.2h0.8M223.5 144.6h0.8M247.4 146.6h0.8M236.7 143.0h0.8M231.7 136.2h0.8M240.3 138.9h0.8M216.2 144.4h0.8M241.3 136.2h0.8M232.8 145.6h0.8M247.8 147.6h0.8M255.9 140.1h0.8M271.6 142.6h0.8M240.0 137.0h0.8M239.7 136.8h0.8M264.5 136.2h0.8M222.8 141.2h0.8M223.2 136.0h0.8M250.4 135.0h0.8M225.0 135.8h0.8M262.6 141.5h0.8M260.1 138.7h0.8M235.9 143.1h0.8M251.6 139.3h0.8M245.8 140.5h0.8M274.3 143.4h0.8M219.6 142.8h0.8M257.1 147.3h0.8M252.3 142.1h0.8M254.8 135.2h0.8M232.1 136.0h0.8M231.1 145.7h0.8M274.3 140.3h0.8M255.7 135.8h0.8M234.8 140.1h0.8M268.4 142.7h0.8M238.6 136.1h0.8M234.8 142.8h0.8M214.7 135.5h0.8M270.7 141.1h0.8M249.6 137.1h0.8M219.1 143.8h0.8M260.6 138.2h0.8M268.6 136.0h0.8M265.5 144.4h0.8M273.8 145.9h0.8M223.5 144.2h0.8M227.4 143.0h0.8M260.8 138.9h0.8M251.2 134.3h0.8M272.7 138.1h0.8M256.5 139.4h0.8M235.7 135.0h0.8M254.9 137.0h0.8M236.2 139.6h0.8M243.9 137.5h0.8M239.4 137.2h0.8M230.9 141.3h0.8M224.7 142.6h0.8M259.9 138.7h0.8M241.9 138.1h0.8M251.8 145.0h0.8M246.3 142.8h0.8M241.2 137.9h0.8M222.6 146.4h0.8M216.1 146.4h0.8M243.1 137.8h0.8M227.7 142.0h0.8M270.4 135.3h0.8M226.3 143.6h0.8M252.8 134.3h0.8M217.9 134.4h0.8M230.2 142.5h0.8M214.3 134.5h0.8M266.1 147.2h0.8M221.1 134.1h0.8M269.0 144.4h0.8M267.6 138.7h0.8M249.5 138.1h0.8M237.0 146.7h0.8M242.3 142.8h0.8M216.7 141.6h0.8M221.6 136.1h0.8M216.4 139.1h0.8M272.6 145.5h0.8M215.7 144.1h0.8M266.0 145.4h0.8M219.6 147.7h0.8M239.4 137.0h0.8M271.3 145.7h0.8M252.5 134.2h0.8M264.3 136.5h0.8M231.5 143.9h0.8M215.5 145.9h0.8M244.3 139.7h0.8M247.6 145.8h0.8M247.6 136.1h0.8M233.3 145.0h0.8M263.2 145.1h0.8M242.7 143.4h0.8M226.6 140.3h0.8M240.7 138.6h0.8M242.4 134.5h0.8M222.9 134.1h0.8M217.0 139.2h0.8M215.1 140.1h0.8M253.7 140.4h0.8M220.5 135.1h0.8M260.3 145.1h0.8M254.7 141.7h0.8M260.7 134.6h0.8M247.8 134.1h0.8M252.6 136.8h0.8M230.6 139.2h0.8M253.3 143.3h0.8M214.4 143.9h0.8M259.3 145.2h0.8M223.4 144.6h0.8M229.6 142.6h0.8M252.3 145.1h0.8M269.1 140.0h0.8M220.4 141.1h0.8M257.4 147.3h0.8M242.2 136.6h0.8M269.0 142.8h0.8M226.7 145.2h0.8M226.3 135.4h0.8M215.9 146.2h0.8M220.5 135.6h0.8M257.4 138.9h0.8M264.1 134.2h0.8M244.3 140.7h0.8M237.3 135.7h0.8M230.5 143.8h0.8M249.3 135.4h0.8M274.2 134.7h0.8M258.6 139.3h0.8M250.2 145.4h0.8M223.8 134.4h0.8M258.8 140.2h0.8M272.5 144.6h0.8M264.0 143.2h0.8M260.6 136.0h0.8M241.3 138.5h0.8M239.9 146.0h0.8M265.6 146.7h0.8M248.1 140.4h0.8M240.8 143.8h0.8M249.5 140.0h0.8M225.0 135.5h0.8M225.3 135.7h0.8M220.4 145.8h0.8M229.9 147.2h0.8M242.7 140.1h0.8M247.9 143.0h0.8M242.9 141.4h0.8M227.2 140.6h0.8M219.6 145.3h0.8M243.1 137.2h0.8M241.4 135.0h0.8M259.8 147.1h0.8M265.7 139.5h0.8M221.7 146.9h0.8M241.6 144.4h0.8M222.7 139.8h0.8M219.0 139.1h0.8M234.9 136.9h0.8M229.5 140.3h0.8M236.8 142.8h0.8M233.2 146.4h0.8M218.4 142.4h0.8M234.8 137.3h0.8M242.4 136.6h0.8M239.7 140.5h0.8M238.0 135.8h0.8M229.8 141.5h0.8M232.1 140.8h0.8M229.8 137.1h0.8M226.5 140.1h0.8M215.7 142.8h0.8M234.2 139.4h0.8M224.8 147.2h0.8M225.6 140.9h0.8M219.0 142.4h0.8M222.8 137.6h0.8M222.4 142.7h0.8M216.4 145.9h0.8M236.4 143.2h0.8M242.7 140.5h0.8M240.0 147.6h0.8M237.3 140.2h0.8M236.7 135.6h0.8M227.6 145.1h0.8M225.8 140.3h0.8M221.9 136.9h0.8M232.6 146.8h0.8M216.4 143.9h0.8M236.4 145.3h0.8M234.7 137.2h0.8M227.7 143.5h0.8M231.7 145.0h0.8M229.5 144.1h0.8M238.7 140.2h0.8M223.8 146.3h0.8M241.0 136.2h0.8M217.6 141.6h0.8M234.3 143.7h0.8M230.1 140.1h0.8M242.2 147.1h0.8M222.6 139.0h0.8M237.1 138.2h0.8M239.6 137.9h0.8M241.4 146.8h0.8M241.5 142.7h0.8M218.5 139.9h0.8M230.1 142.2h0.8M235.5 144.3h0.8M219.0 144.4h0.8M220.1 141.0h0.8M231.5 140.8h0.8M223.8 144.4h0.8M242.1 141.4h0.8M227.3 138.8h0.8M234.2 142.5h0.8M222.4 147.2h0.8M235.9 143.5h0.8M242.3 146.2h0.8M239.1 146.7h0.8M237.4 141.5h0.8M220.0 140.4h0.8M237.9 146.1h0.8M217.6 138.0h0.8M215.2 136.8h0.8M232.0 138.3h0.8M225.7 147.1h0.8M227.9 138.4h0.8M231.1 138.2h0.8M227.3 144.7h0.8M218.0 147.7h0.8M219.9 137.4h0.8M217.6 136.9h0.8M227.5 141.5h0.8M224.1 136.2h0.8M232.1 145.8h0.8M231.9 147.6h0.8M236.2 141.6h0.8M225.8 143.3h0.8M240.7 135.9h0.8M214.4 147.0h0.8M238.9 144.8h0.8M218.2 142.9h0.8M223.7 139.1h0.8M223.7 147.4h0.8M215.9 138.0h0.8M231.4 140.9h0.8M220.1 143.3h0.8M227.1 138.2h0.8M224.4 147.6h0.8M222.7 143.5h0.8M222.6 139.1h0.8M225.9 136.1h0.8M229.3 146.9h0.8M222.9 135.9h0.8M226.0 135.8h0.8M231.1 142.8h0.8M221.7 136.6h0.8M218.1 142.9h0.8M237.3 142.0h0.8M219.5 141.5h0.8M228.1 141.6h0.8M218.5 139.2h0.8M224.5 147.2h0.8M226.7 142.6h0.8M229.8 141.4h0.8M223.3 142.7h0.8M214.7 144.1h0.8M229.7 142.5h0.8M235.7 143.0h0.8M232.9 138.4h0.8M218.9 135.8h0.8M236.4 147.4h0.8M233.0 138.4h0.8M223.2 137.5h0.8M217.8 144.6h0.8M228.1 147.1h0.8M233.0 147.5h0.8M216.7 139.5h0.8M214.5 142.0h0.8M239.1 140.6h0.8M234.1 140.0h0.8M226.1 142.6h0.8M231.7 143.2h0.8M220.4 147.0h0.8M239.4 140.3h0.8M215.4 136.5h0.8M216.0 137.2h0.8M235.4 139.6h0.8M236.0 143.1h0.8M229.1 138.3h0.8M224.8 139.1h0.8M217.5 146.5h0.8M229.8 135.9h0.8M230.1 145.9h0.8M218.2 136.2h0.8M224.8 147.4h0.8M220.8 142.4h0.8M227.9 142.6h0.8M239.5 139.7h0.8M225.3 139.9h0.8M235.0 145.3h0.8M219.3 145.4h0.8M227.5 146.9h0.8M235.5 136.8h0.8M224.2 141.8h0.8M214.9 145.7h0.8M235.2 146.1h0.8M235.5 144.5h0.8M217.6 144.7h0.8M236.6 135.7h0.8M226.9 136.3h0.8M224.2 142.4h0.8M214.4 138.7h0.8M222.1 135.9h0.8M235.1 140.5h0.8M227.1 138.2h0.8M242.8 137.3h0.8M217.8 143.0h0.8M230.2 143.0h0.8M234.6 139.5h0.8M222.1 146.9h0.8M240.6 137.3h0.8M231.5 146.3h0.8M216.4 147.6h0.8M223.9 141.9h0.8M229.3 137.4h0.8M220.8 147.0h0.8M221.3 144.7h0.8M237.6 147.7h0.8M236.8 139.4h0.8M222.0 146.6h0.8M230.9 147.4h0.8M215.4 140.3h0.8M224.1 138.6h0.8M239.4 146.9h0.8M222.8 137.0h0.8M225.3 142.1h0.8M223.0 144.9h0.8M226.0 141.9h0.8M217.6 140.6h0.8M223.6 138.3h0.8M218.4 146.7h0.8M237.8 146.9h0.8M240.4 141.1h0.8M221.0 144.1h0.8M229.8 143.7h0.8M227.0 143.3h0.8M229.0 146.1h0.8M242.7 146.5h0.8M233.1 141.9h0.8M238.8 140.7h0.8M232.6 140.8h0.8M218.5 145.5h0.8M240.1 136.7h0.8M228.7 143.8h0.8M241.5 138.1h0.8M228.7 137.8h0.8M238.6 137.8h0.8M231.5 146.7h0.8M216.5 146.2h0.8M222.4 146.0h0.8M220.4 141.6h0.8M222.2 144.4h0.8M237.0 140.4h0.8M239.9 147.0h0.8M223.3 136.9h0.8M230.2 140.2h0.8M219.3 139.6h0.8M237.3 141.7h0.8M217.5 145.5h0.8M239.6 145.9h0.8M224.4 141.4h0.8M224.9 140.8h0.8M219.7 140.4h0.8M229.2 136.6h0.8" stroke="#000" stroke-width="0.75" stroke-opacity="0.70" fill="none"/>
<path d="M239.8 132.9h0.7M248.4 125.8h0.7M259.1 116.7h0.7M247.3 123.7h0.7M243.8 129.7h0.7M248.3 125.4h0.7M243.5 126.8h0.7M247.6 125.9h0.7M243.9 128.0h0.7M257.7 117.2h0.7M261.8 112.4h0.7M247.2 127.1h0.7M243.6 130.0h0.7M251.1 124.2h0.7M250.1 124.4h0.7M255.5 119.8h0.7M246.1 127.8h0.7M248.8 126.4h0.7M249.1 124.6h0.7M248.7 126.0h0.7" stroke="#000" stroke-width="0.70" stroke-opacity="0.25" fill="none"/>
<text x="239.55" y="109.30" text-anchor="end" class="p">&lt;1%</text>
<text x="305.75" y="109.30" text-anchor="end" class="p">&lt;1%</text>
<path d="M214.50 164.65H303.75" stroke="#9a9a9a" stroke-width="0.8" fill="none"/><path d="M303.75 164.65V219.50" stroke="#dcdcdc" stroke-width="0.8" fill="none"/>
<line x1="214.50" y1="219.50" x2="303.75" y2="219.50" stroke="#777" stroke-width="0.9" stroke-dasharray="0.9 1.4"/>
<line x1="214.50" y1="164.15" x2="214.50" y2="220.30" stroke="#8a8a8a" stroke-width="1" stroke-dasharray="1.1 0.8"/>
<line x1="214.50" y1="202.50" x2="303.75" y2="202.50" stroke="#5a5a5a" stroke-width="0.9"/>
<line x1="239.50" y1="164.65" x2="239.50" y2="219.50" stroke="#8a8a8a" stroke-width="0.9"/>
<text class="k" transform="translate(212.10 164.95) rotate(-90)" text-anchor="middle">10<tspan dy="-1" font-size="2.2">4</tspan></text>
<text class="k" transform="translate(212.10 178.66) rotate(-90)" text-anchor="middle">10<tspan dy="-1" font-size="2.2">3</tspan></text>
<text class="k" transform="translate(212.10 192.38) rotate(-90)" text-anchor="middle">10<tspan dy="-1" font-size="2.2">2</tspan></text>
<text class="k" transform="translate(212.10 206.09) rotate(-90)" text-anchor="middle">10<tspan dy="-1" font-size="2.2">1</tspan></text>
<text class="k" transform="translate(212.10 219.80) rotate(-90)" text-anchor="middle">10<tspan dy="-1" font-size="2.2">0</tspan></text>
<text class="k" transform="translate(207.90 194.27) rotate(-90)" text-anchor="middle">FL2-H</text>
<text class="k" x="214.50" y="224.10" text-anchor="middle">10<tspan dy="-1" font-size="2.2">0</tspan></text>
<text class="k" x="236.81" y="224.10" text-anchor="middle">10<tspan dy="-1" font-size="2.2">1</tspan></text>
<text class="k" x="259.12" y="224.10" text-anchor="middle">10<tspan dy="-1" font-size="2.2">2</tspan></text>
<text class="k" x="281.44" y="224.10" text-anchor="middle">10<tspan dy="-1" font-size="2.2">3</tspan></text>
<text class="k" x="303.75" y="224.10" text-anchor="middle">10<tspan dy="-1" font-size="2.2">4</tspan></text>
<text class="k2" x="260.91" y="227.50" text-anchor="middle">FL1-H</text>
<ellipse cx="228.2" cy="208.4" rx="10.5" ry="3.1" transform="rotate(-26.0 228.2 208.4)" fill="#000" fill-opacity="0.97" filter="url(#b12)"/>
<clipPath id="c32"><rect x="214.5" y="164.7" width="89.2" height="55.1"/></clipPath>
<g clip-path="url(#c32)"><ellipse cx="261.5" cy="213.1" rx="9.6" ry="5.2" transform="rotate(0.0 261.5 213.1)" fill="#000" fill-opacity="0.93" filter="url(#b12)"/></g>
<path d="M220.6 213.3h0.8M233.2 206.1h0.8M226.8 209.0h0.8M236.3 198.6h0.8M230.8 205.9h0.8M221.0 208.8h0.8M229.9 205.2h0.8M222.0 203.6h0.8M234.1 201.9h0.8M227.7 207.1h0.8M228.5 211.6h0.8M226.4 205.3h0.8M218.4 207.7h0.8M228.5 208.0h0.8M228.3 213.1h0.8M229.2 209.8h0.8M234.6 203.9h0.8M220.4 212.9h0.8M226.3 206.7h0.8M238.0 204.0h0.8M226.4 208.1h0.8M227.7 214.2h0.8M228.2 205.6h0.8M236.3 205.6h0.8M228.8 209.0h0.8M235.3 204.2h0.8M221.4 212.0h0.8M239.4 209.4h0.8M224.3 206.0h0.8M232.3 206.8h0.8M235.8 207.1h0.8M222.5 208.1h0.8M239.5 199.1h0.8M227.5 203.5h0.8M227.3 214.0h0.8M239.4 204.2h0.8M232.1 204.3h0.8M242.0 199.8h0.8M227.9 207.4h0.8M219.9 213.2h0.8M229.5 204.9h0.8M216.9 215.6h0.8M234.3 207.2h0.8M230.1 211.4h0.8M227.8 210.5h0.8M222.3 212.4h0.8M217.0 217.1h0.8M222.4 212.7h0.8M221.9 210.6h0.8M227.8 206.7h0.8M220.8 210.2h0.8M236.1 204.6h0.8M241.4 199.4h0.8M231.5 206.4h0.8M221.3 209.3h0.8M227.7 208.6h0.8M227.7 208.2h0.8M222.2 211.8h0.8M227.2 212.0h0.8M236.3 204.4h0.8M220.5 206.9h0.8M234.5 207.1h0.8M226.4 209.5h0.8M221.5 212.2h0.8M225.8 209.1h0.8M232.8 203.9h0.8M225.6 205.5h0.8M224.4 211.4h0.8M227.2 211.0h0.8M219.1 207.7h0.8M228.4 206.5h0.8M231.6 200.8h0.8M232.5 201.1h0.8M240.8 204.7h0.8M231.9 205.9h0.8M228.5 203.5h0.8M218.7 213.2h0.8M226.1 212.1h0.8M224.0 212.9h0.8M233.2 211.4h0.8M227.9 209.6h0.8M225.1 211.0h0.8M228.7 209.2h0.8M218.1 215.2h0.8M221.6 212.3h0.8M231.7 206.5h0.8M239.5 202.2h0.8M224.5 212.0h0.8M235.6 203.3h0.8M225.2 207.2h0.8M236.5 206.9h0.8M219.4 211.7h0.8M228.9 206.9h0.8M235.7 205.5h0.8M219.2 211.1h0.8M226.6 206.3h0.8M222.4 213.7h0.8M226.9 212.2h0.8M228.8 205.2h0.8M225.2 209.1h0.8M223.8 211.8h0.8M230.1 210.9h0.8M223.5 212.7h0.8M226.0 211.5h0.8M222.1 210.0h0.8M229.2 208.4h0.8M223.4 213.6h0.8M220.0 209.0h0.8M222.2 213.8h0.8M220.0 212.9h0.8M229.4 205.9h0.8M234.5 207.0h0.8M227.0 210.2h0.8M218.9 211.1h0.8M216.8 213.3h0.8M223.5 208.2h0.8M224.5 209.4h0.8M226.3 206.0h0.8M225.3 205.5h0.8M232.0 208.8h0.8M220.3 207.5h0.8M238.6 199.2h0.8M219.6 209.6h0.8M227.7 214.6h0.8M224.6 205.7h0.8M221.8 210.1h0.8M235.4 207.0h0.8M249.2 195.8h0.8M236.3 207.9h0.8M215.7 214.3h0.8M229.2 211.6h0.8M226.3 210.1h0.8M235.3 204.6h0.8M227.0 205.2h0.8M225.6 207.8h0.8M222.2 210.7h0.8M230.0 206.5h0.8M225.9 211.1h0.8M229.4 207.5h0.8M231.1 209.2h0.8M227.6 208.0h0.8M226.9 208.0h0.8M226.4 211.7h0.8M227.5 209.5h0.8M219.6 214.8h0.8M225.5 208.0h0.8M232.3 206.9h0.8M225.1 211.0h0.8M222.5 211.4h0.8M229.5 211.9h0.8M218.3 207.1h0.8M221.1 212.4h0.8M224.8 210.3h0.8M229.1 210.6h0.8M226.7 207.6h0.8M236.1 205.2h0.8M224.5 208.1h0.8M216.0 209.9h0.8M219.5 209.6h0.8M224.6 213.8h0.8M224.3 206.0h0.8M219.7 213.4h0.8M229.2 203.5h0.8M231.5 208.7h0.8M222.8 212.6h0.8M235.1 205.2h0.8M225.9 207.7h0.8M221.2 211.6h0.8M224.2 211.0h0.8M222.4 210.0h0.8M231.7 200.5h0.8M224.2 212.2h0.8M235.5 204.8h0.8M229.9 207.0h0.8M226.7 207.6h0.8M226.8 198.9h0.8M225.9 208.8h0.8M224.3 208.9h0.8M219.8 213.7h0.8M234.0 206.1h0.8M242.9 198.8h0.8M221.6 212.9h0.8M227.5 207.9h0.8M239.8 203.1h0.8M240.3 201.8h0.8M239.0 204.5h0.8M228.1 210.1h0.8M237.3 205.1h0.8M230.1 211.8h0.8M222.5 214.2h0.8M230.6 208.5h0.8M230.3 205.9h0.8M237.4 203.0h0.8M224.3 210.4h0.8M222.3 211.4h0.8M229.3 205.4h0.8M230.6 203.9h0.8M239.6 204.1h0.8M230.4 207.4h0.8M224.8 210.3h0.8M226.2 204.3h0.8M245.0 195.2h0.8M215.7 215.2h0.8M228.9 210.8h0.8M240.4 205.3h0.8M229.6 209.0h0.8M222.9 213.0h0.8M222.4 206.8h0.8M234.2 207.9h0.8M222.2 212.7h0.8M227.0 202.2h0.8M229.7 211.2h0.8M233.6 209.2h0.8M232.7 204.9h0.8M231.9 202.9h0.8M231.2 210.7h0.8M232.9 206.2h0.8M226.1 205.7h0.8M221.2 209.6h0.8M227.9 210.0h0.8M231.1 205.5h0.8M236.0 209.2h0.8M239.2 200.7h0.8M226.6 211.4h0.8M222.6 214.3h0.8M221.5 212.1h0.8M230.1 209.1h0.8M220.2 216.0h0.8M229.6 207.9h0.8M229.1 206.0h0.8M217.9 213.4h0.8M233.3 209.3h0.8M228.2 207.8h0.8M231.0 202.5h0.8M233.7 202.7h0.8M228.4 211.8h0.8M227.9 208.1h0.8M230.0 204.7h0.8M221.3 212.4h0.8M231.9 207.7h0.8M218.4 214.7h0.8M234.6 203.7h0.8M231.6 206.9h0.8M223.7 210.9h0.8M228.1 208.7h0.8M224.6 210.7h0.8M230.4 207.3h0.8M236.2 204.5h0.8M224.8 206.0h0.8M228.7 205.3h0.8M237.3 207.3h0.8M227.3 208.5h0.8M233.5 204.0h0.8M224.1 212.9h0.8M229.2 214.8h0.8M236.0 211.4h0.8M236.0 204.5h0.8M220.4 213.0h0.8M226.4 206.7h0.8M237.7 206.3h0.8M231.8 209.7h0.8M222.4 209.8h0.8M228.9 203.9h0.8M223.7 208.1h0.8M236.8 204.8h0.8M221.1 207.4h0.8M222.3 214.0h0.8M228.8 207.9h0.8M227.2 207.0h0.8M227.9 208.5h0.8M221.3 209.2h0.8M233.6 207.9h0.8M226.6 208.4h0.8M221.5 213.3h0.8M249.8 202.3h0.8M231.2 206.1h0.8M224.8 210.3h0.8M231.1 200.1h0.8M222.8 213.0h0.8M236.4 205.6h0.8M237.8 205.0h0.8M232.3 204.7h0.8M233.9 203.9h0.8M232.7 198.8h0.8M241.9 201.7h0.8M250.6 195.3h0.8M233.3 206.2h0.8M228.5 208.7h0.8M239.1 199.8h0.8M230.9 209.1h0.8M232.7 207.4h0.8M225.7 208.0h0.8M234.6 201.3h0.8M233.2 204.2h0.8M227.8 203.9h0.8M240.6 202.5h0.8M241.7 200.1h0.8M234.2 210.1h0.8M229.2 210.5h0.8M223.8 208.4h0.8M242.7 199.6h0.8M222.9 209.7h0.8M230.5 204.5h0.8M224.8 212.4h0.8M223.0 209.4h0.8M220.5 205.0h0.8M238.2 202.0h0.8M223.0 203.3h0.8M217.1 213.2h0.8M222.3 212.8h0.8M218.5 211.6h0.8M223.6 205.4h0.8M224.4 208.9h0.8M239.2 205.4h0.8M222.1 210.8h0.8M218.7 207.7h0.8M228.3 204.7h0.8M240.7 201.9h0.8M225.8 209.1h0.8M223.8 211.1h0.8M236.6 201.8h0.8M227.7 207.5h0.8M226.9 212.6h0.8M233.4 208.0h0.8M229.3 202.4h0.8M226.3 207.0h0.8M224.8 207.4h0.8M230.2 211.6h0.8M226.3 209.7h0.8M222.6 205.9h0.8M227.6 206.2h0.8M230.9 210.8h0.8M240.1 204.1h0.8M230.8 206.6h0.8M220.4 207.2h0.8M227.9 203.3h0.8M226.6 216.1h0.8M239.3 201.5h0.8M229.1 204.1h0.8M223.7 209.1h0.8M224.5 216.7h0.8M234.5 209.6h0.8M223.3 212.5h0.8M219.5 210.9h0.8M228.5 210.7h0.8M224.2 214.4h0.8M227.9 208.1h0.8M229.6 206.2h0.8M240.0 202.8h0.8M238.1 204.7h0.8M235.9 202.8h0.8M220.9 205.4h0.8M233.6 210.6h0.8M222.7 212.8h0.8M223.9 208.0h0.8M224.6 210.7h0.8M221.2 214.0h0.8M216.2 217.2h0.8M233.4 204.6h0.8M227.9 207.0h0.8M222.3 210.3h0.8M230.3 208.5h0.8M223.6 203.6h0.8M234.9 210.0h0.8M225.2 208.8h0.8M231.3 206.6h0.8M239.9 200.3h0.8M233.0 206.3h0.8M223.5 209.7h0.8M220.0 212.2h0.8M225.8 212.2h0.8M222.6 209.2h0.8M226.2 210.3h0.8M224.5 207.0h0.8M228.9 209.7h0.8M216.2 215.8h0.8M216.4 215.8h0.8M232.5 203.8h0.8M227.5 208.5h0.8M236.2 205.3h0.8M221.0 215.5h0.8M225.1 209.3h0.8M220.2 213.4h0.8M245.2 199.9h0.8M218.8 208.6h0.8M228.9 203.9h0.8M235.7 206.9h0.8M221.0 210.7h0.8M233.5 205.5h0.8M231.3 205.6h0.8M227.5 211.6h0.8M220.5 212.6h0.8M226.3 206.4h0.8M227.2 210.7h0.8M228.8 206.4h0.8M221.3 213.3h0.8M234.7 203.3h0.8M218.5 207.0h0.8M225.0 211.6h0.8M225.6 208.4h0.8M236.3 210.9h0.8M227.4 209.0h0.8M237.4 199.5h0.8M235.4 203.3h0.8M225.8 213.7h0.8M234.3 204.7h0.8M219.8 210.5h0.8M218.8 212.1h0.8M239.4 202.9h0.8M231.2 205.1h0.8M238.0 200.1h0.8M225.3 205.3h0.8M225.6 212.2h0.8M225.9 217.2h0.8M239.6 204.0h0.8M234.0 209.4h0.8M217.8 215.3h0.8M221.8 212.1h0.8M220.8 207.7h0.8M219.1 212.7h0.8M235.2 205.5h0.8M226.5 208.5h0.8M231.8 205.3h0.8M229.1 208.0h0.8M216.6 213.8h0.8M223.5 209.6h0.8M220.3 210.6h0.8M233.9 205.1h0.8M230.8 207.8h0.8M224.2 211.1h0.8M237.8 204.6h0.8M245.6 202.8h0.8M221.9 212.9h0.8M216.7 217.3h0.8M230.9 210.6h0.8M230.1 205.0h0.8M215.6 214.4h0.8M219.4 212.6h0.8M222.0 211.8h0.8M231.1 204.6h0.8M232.1 212.6h0.8M216.7 208.4h0.8M220.6 210.2h0.8M220.6 213.6h0.8M226.0 204.5h0.8M241.4 200.8h0.8M237.7 203.9h0.8M232.8 203.9h0.8M220.7 213.6h0.8M233.1 200.7h0.8M221.5 208.1h0.8M224.5 215.1h0.8M235.3 205.1h0.8M226.6 209.6h0.8M230.9 201.4h0.8M231.0 205.0h0.8M224.2 211.6h0.8M227.7 205.0h0.8M230.8 204.4h0.8M228.4 210.7h0.8M218.5 209.6h0.8M236.4 204.2h0.8M223.6 209.4h0.8M221.1 207.9h0.8M224.2 210.2h0.8M234.4 205.9h0.8M227.1 202.9h0.8M241.1 204.8h0.8M216.8 211.1h0.8M223.9 207.9h0.8M228.8 208.3h0.8M226.8 210.9h0.8M219.2 215.4h0.8M219.2 208.2h0.8M224.0 210.1h0.8M225.4 212.1h0.8M225.8 207.5h0.8M224.9 207.8h0.8M220.5 211.7h0.8M217.4 216.2h0.8M237.5 206.0h0.8M238.2 204.4h0.8M227.7 208.0h0.8M233.6 202.4h0.8M233.1 203.6h0.8M231.8 201.4h0.8M225.0 213.5h0.8M229.1 209.0h0.8M224.5 209.9h0.8M216.8 213.1h0.8M219.4 213.5h0.8M227.1 203.2h0.8M229.3 211.6h0.8M231.7 208.4h0.8M227.4 206.3h0.8M228.7 207.5h0.8M232.2 212.3h0.8M221.6 213.7h0.8M224.4 214.3h0.8M243.2 201.2h0.8M229.4 205.2h0.8M235.8 203.4h0.8M225.6 212.5h0.8M228.6 208.7h0.8M236.4 202.6h0.8M227.0 201.1h0.8M232.5 208.4h0.8M235.0 207.7h0.8M227.7 208.4h0.8M219.7 212.5h0.8M218.9 212.5h0.8M217.7 209.7h0.8M218.6 213.7h0.8M219.8 212.1h0.8M223.4 211.2h0.8M239.0 202.9h0.8M221.0 208.6h0.8M227.4 205.9h0.8M227.0 209.8h0.8M225.4 205.7h0.8M218.5 210.0h0.8M231.8 207.8h0.8M223.6 208.9h0.8M235.8 205.7h0.8M229.5 207.3h0.8M219.0 213.1h0.8M233.2 204.8h0.8M218.2 209.9h0.8M242.4 203.1h0.8M232.5 207.4h0.8M234.1 203.0h0.8M227.4 213.6h0.8M225.5 210.3h0.8M221.8 211.6h0.8M225.0 211.4h0.8M222.9 208.5h0.8M216.6 211.9h0.8M236.0 202.7h0.8M221.1 211.3h0.8M234.8 207.6h0.8M220.8 213.7h0.8M227.6 206.0h0.8M222.6 213.9h0.8M227.8 216.7h0.8M225.8 207.1h0.8M225.7 213.8h0.8M225.4 205.9h0.8M225.1 208.3h0.8M221.7 211.8h0.8M224.9 203.2h0.8M227.8 207.7h0.8M233.7 206.6h0.8M227.4 211.9h0.8M220.0 213.3h0.8M223.8 211.6h0.8M224.7 203.6h0.8M226.1 209.1h0.8M232.3 205.4h0.8M240.8 209.0h0.8M232.2 210.0h0.8M230.0 205.1h0.8M233.6 209.2h0.8M224.9 206.6h0.8M229.2 209.4h0.8M232.5 203.2h0.8M234.1 209.2h0.8M218.0 214.7h0.8M228.4 211.9h0.8M227.3 210.9h0.8M229.6 207.4h0.8M237.5 201.7h0.8M237.6 202.9h0.8M223.0 211.0h0.8M239.0 204.4h0.8M225.8 211.0h0.8M234.6 205.1h0.8M231.5 208.6h0.8M227.5 206.0h0.8M223.6 211.0h0.8M233.1 201.6h0.8M233.3 206.6h0.8M218.1 212.6h0.8M239.0 207.2h0.8M226.8 207.4h0.8M231.4 205.0h0.8M221.2 206.8h0.8M228.7 210.1h0.8M225.9 205.3h0.8M236.5 200.3h0.8M231.0 204.5h0.8M224.7 203.8h0.8M240.3 202.2h0.8M238.5 204.6h0.8M238.7 208.0h0.8M221.7 213.6h0.8M241.7 201.8h0.8M230.4 205.3h0.8M238.7 202.4h0.8M225.1 216.2h0.8M229.8 213.0h0.8M223.7 212.8h0.8M223.2 207.1h0.8M222.6 211.7h0.8M222.8 213.1h0.8M232.9 202.8h0.8M227.6 210.0h0.8M226.9 210.6h0.8M215.1 214.6h0.8M228.0 206.3h0.8M221.6 215.3h0.8M233.6 204.0h0.8M226.1 210.9h0.8M232.0 209.0h0.8M224.9 207.9h0.8M222.8 212.6h0.8M220.9 215.8h0.8M234.6 207.1h0.8M227.9 207.6h0.8M220.5 212.9h0.8M228.8 207.4h0.8M233.7 203.9h0.8M228.3 208.2h0.8M232.5 205.5h0.8M224.3 208.4h0.8M217.2 209.6h0.8M226.0 210.5h0.8M228.4 206.4h0.8M234.7 208.0h0.8M240.5 202.1h0.8M227.9 208.9h0.8M227.9 207.5h0.8M234.4 208.4h0.8M227.5 204.4h0.8M225.5 209.4h0.8M228.8 209.1h0.8M237.1 201.2h0.8M226.7 207.7h0.8M216.2 213.2h0.8M240.7 209.1h0.8M228.5 212.2h0.8M237.0 206.2h0.8M226.5 215.7h0.8M224.6 212.5h0.8M218.0 213.6h0.8M227.2 204.8h0.8M227.5 205.3h0.8M224.5 209.0h0.8M238.6 202.2h0.8M221.0 213.5h0.8M217.7 210.5h0.8M229.7 210.2h0.8M231.6 204.5h0.8M228.3 208.1h0.8M221.1 208.3h0.8M234.1 205.8h0.8M219.0 212.4h0.8M226.3 211.3h0.8M226.9 208.0h0.8M223.3 207.6h0.8M225.6 208.2h0.8M227.1 206.6h0.8M265.4 209.7h0.8M264.0 212.3h0.8M260.1 215.5h0.8M237.2 216.5h0.8M254.3 215.6h0.8M262.6 212.9h0.8M255.8 213.9h0.8M265.6 207.1h0.8M263.3 209.2h0.8M261.5 212.8h0.8M260.9 216.7h0.8M265.8 211.4h0.8M256.7 217.7h0.8M263.0 215.8h0.8M250.6 211.1h0.8M264.8 212.1h0.8M269.5 208.5h0.8M266.3 216.1h0.8M261.7 219.1h0.8M263.7 211.8h0.8M265.4 212.8h0.8M260.0 215.4h0.8M277.5 215.4h0.8M263.0 209.7h0.8M262.7 214.7h0.8M257.7 212.0h0.8M266.2 217.5h0.8M260.8 215.6h0.8M266.8 208.7h0.8M264.7 213.2h0.8M252.1 216.3h0.8M261.7 213.6h0.8M266.8 209.0h0.8M267.5 206.7h0.8M262.3 210.0h0.8M250.7 210.8h0.8M255.3 210.3h0.8M274.3 205.9h0.8M265.7 214.1h0.8M269.0 213.8h0.8M244.1 209.6h0.8M261.6 215.2h0.8M264.3 213.5h0.8M261.8 210.8h0.8M266.7 213.9h0.8M269.1 210.4h0.8M266.0 213.9h0.8M254.5 207.3h0.8M250.6 211.6h0.8M259.8 207.4h0.8M250.2 214.4h0.8M261.0 217.4h0.8M272.0 219.2h0.8M255.9 211.7h0.8M267.0 207.8h0.8M265.1 215.5h0.8M258.2 214.8h0.8M261.0 209.2h0.8M254.2 215.7h0.8M261.0 213.5h0.8M265.6 216.7h0.8M256.5 210.1h0.8M260.8 209.1h0.8M259.0 211.5h0.8M267.2 211.7h0.8M270.5 214.2h0.8M257.0 212.4h0.8M254.1 213.0h0.8M263.9 215.9h0.8M259.9 210.9h0.8M262.8 210.0h0.8M267.4 216.2h0.8M262.2 209.4h0.8M265.2 209.8h0.8M251.4 211.0h0.8M259.1 211.1h0.8M259.5 217.4h0.8M262.9 206.4h0.8M262.0 214.4h0.8M259.8 213.8h0.8M251.4 209.6h0.8M263.4 213.8h0.8M265.3 214.8h0.8M259.1 216.6h0.8M262.3 213.6h0.8M257.9 209.7h0.8M255.2 218.5h0.8M257.4 213.2h0.8M252.4 215.3h0.8M257.1 213.4h0.8M247.9 213.4h0.8M262.1 213.7h0.8M269.3 207.8h0.8M265.1 216.0h0.8M260.1 216.3h0.8M257.9 215.3h0.8M250.7 213.0h0.8M259.4 205.1h0.8M269.1 209.9h0.8M264.4 212.5h0.8M249.6 210.0h0.8M250.1 214.1h0.8M262.3 215.0h0.8M251.2 211.7h0.8M250.0 207.4h0.8M267.5 206.6h0.8M249.2 209.7h0.8M259.9 215.5h0.8M263.8 217.4h0.8M267.7 212.5h0.8M251.4 214.9h0.8M260.3 216.2h0.8M269.1 215.8h0.8M248.3 209.9h0.8M254.3 206.4h0.8M259.4 211.4h0.8M258.6 211.5h0.8M257.8 207.4h0.8M266.3 214.8h0.8M259.9 215.9h0.8M258.0 212.1h0.8M251.5 206.7h0.8M264.4 215.6h0.8M265.9 206.2h0.8M256.1 211.9h0.8M271.0 215.9h0.8M258.8 211.7h0.8M261.8 216.2h0.8M260.3 214.1h0.8M262.2 216.3h0.8M260.9 218.4h0.8M278.0 215.9h0.8M261.2 212.3h0.8M263.1 213.1h0.8M274.5 210.0h0.8M278.2 212.8h0.8M255.1 209.0h0.8M266.2 212.0h0.8M261.6 207.5h0.8M262.4 219.0h0.8M259.9 214.4h0.8M260.1 213.8h0.8M263.0 214.3h0.8M259.5 208.4h0.8M265.4 212.9h0.8M271.6 210.7h0.8M258.1 213.1h0.8M256.6 215.5h0.8M260.5 211.3h0.8M281.6 209.6h0.8M264.1 213.0h0.8M244.7 213.0h0.8M255.9 213.3h0.8M252.3 212.9h0.8M262.2 216.7h0.8M263.1 213.4h0.8M258.7 214.0h0.8M255.8 210.9h0.8M255.0 210.2h0.8M272.8 213.8h0.8M258.7 212.0h0.8M258.0 206.5h0.8M262.1 214.2h0.8M258.1 212.1h0.8M266.5 214.3h0.8M256.2 213.9h0.8M252.5 212.5h0.8M264.4 209.0h0.8M260.8 212.2h0.8M258.9 211.1h0.8M252.7 212.9h0.8M254.8 214.4h0.8M262.3 213.3h0.8M259.7 209.0h0.8M266.3 207.5h0.8M257.0 214.0h0.8M248.7 206.6h0.8M261.3 214.3h0.8M262.6 213.8h0.8M263.4 209.1h0.8M261.6 210.3h0.8M250.2 210.5h0.8M264.3 210.6h0.8M244.3 212.9h0.8M267.3 207.7h0.8M261.2 213.9h0.8M266.9 210.6h0.8M250.3 210.7h0.8M261.5 214.7h0.8M249.5 213.5h0.8M267.3 206.6h0.8M261.0 210.4h0.8M252.3 209.6h0.8M273.3 216.0h0.8M258.9 211.7h0.8M253.6 212.8h0.8M249.4 214.2h0.8M271.4 217.0h0.8M260.4 212.2h0.8M259.2 213.4h0.8M263.2 215.8h0.8M259.6 212.1h0.8M267.7 217.8h0.8M253.3 215.4h0.8M262.5 214.0h0.8M266.4 218.2h0.8M253.0 213.6h0.8M269.7 212.7h0.8M252.3 214.5h0.8M267.7 214.3h0.8M264.1 211.5h0.8M262.0 212.4h0.8M263.5 215.8h0.8M263.3 207.3h0.8M267.9 213.4h0.8M253.2 211.6h0.8M259.3 214.5h0.8M250.6 212.9h0.8M264.6 217.6h0.8M257.9 209.5h0.8M260.8 210.6h0.8M266.7 214.7h0.8M265.2 218.6h0.8M263.0 205.8h0.8M267.8 211.6h0.8M250.6 212.3h0.8M257.7 212.9h0.8M271.6 218.2h0.8M257.9 212.4h0.8M249.2 215.3h0.8M260.4 208.1h0.8M259.6 213.7h0.8M263.3 211.2h0.8M254.6 218.4h0.8M264.0 214.4h0.8M254.9 210.2h0.8M265.0 212.4h0.8M263.8 210.6h0.8M247.2 210.2h0.8M254.1 212.1h0.8M264.9 213.0h0.8M262.7 208.5h0.8M258.9 207.4h0.8M257.5 214.7h0.8M261.9 213.7h0.8M270.6 212.8h0.8M266.2 215.0h0.8M267.7 211.0h0.8M273.3 211.9h0.8M255.4 217.9h0.8M253.1 209.3h0.8M259.4 218.1h0.8M265.1 214.6h0.8M252.4 215.0h0.8M259.0 212.0h0.8M260.6 216.0h0.8M265.0 213.8h0.8M253.6 209.4h0.8M280.2 211.6h0.8M264.9 211.1h0.8M266.8 214.2h0.8M260.6 212.5h0.8M264.6 212.2h0.8M274.3 208.9h0.8M256.9 214.3h0.8M259.4 211.5h0.8M251.6 210.7h0.8M256.2 206.7h0.8M256.3 213.9h0.8M261.4 211.4h0.8M262.7 208.0h0.8M259.8 214.1h0.8M255.0 210.3h0.8M254.1 215.0h0.8M261.0 210.4h0.8M258.7 217.1h0.8M253.3 213.7h0.8M264.1 207.3h0.8M266.1 213.2h0.8M262.4 202.2h0.8M258.7 209.5h0.8M259.8 214.8h0.8M256.7 210.1h0.8M266.2 213.1h0.8M254.7 215.2h0.8M269.0 214.3h0.8M262.3 216.7h0.8M244.7 209.4h0.8M275.2 211.7h0.8M256.1 213.4h0.8M263.1 214.5h0.8M257.2 208.3h0.8M254.6 207.7h0.8M266.9 206.9h0.8M264.9 211.3h0.8M263.5 213.9h0.8M262.0 211.2h0.8M261.0 212.2h0.8M256.8 215.2h0.8M256.7 206.5h0.8M256.8 210.2h0.8M262.7 206.9h0.8M261.2 215.9h0.8M264.2 212.9h0.8M256.0 216.6h0.8M266.4 204.7h0.8M263.5 207.2h0.8M247.4 209.7h0.8M260.5 212.8h0.8M274.4 213.0h0.8M260.4 214.3h0.8M258.7 214.0h0.8M256.9 208.2h0.8M263.1 209.3h0.8M261.5 209.4h0.8M262.7 216.4h0.8M262.7 215.8h0.8M253.8 214.3h0.8M258.2 211.6h0.8M264.5 213.3h0.8M254.7 213.1h0.8M265.6 214.9h0.8M258.1 209.8h0.8M265.1 210.9h0.8M254.1 205.5h0.8M253.3 216.3h0.8M251.8 208.7h0.8M265.3 213.0h0.8M258.3 207.7h0.8M264.0 213.9h0.8M252.8 213.8h0.8M265.9 212.2h0.8M257.8 210.1h0.8M260.6 214.7h0.8M259.3 213.5h0.8M255.7 212.0h0.8M261.0 212.7h0.8M254.3 215.0h0.8M275.7 212.9h0.8M271.4 215.3h0.8M277.6 211.0h0.8M255.6 214.3h0.8M260.2 212.6h0.8M253.3 214.1h0.8M264.4 212.6h0.8M263.8 211.1h0.8M267.2 212.2h0.8M264.9 212.7h0.8M250.0 213.1h0.8M260.1 207.9h0.8M276.3 214.4h0.8M259.1 211.5h0.8M265.4 215.3h0.8M258.9 214.0h0.8M266.6 210.0h0.8M263.3 209.5h0.8M261.7 214.2h0.8M265.6 211.8h0.8M258.3 212.2h0.8M263.7 211.9h0.8M261.6 215.8h0.8M265.0 213.0h0.8M260.6 210.5h0.8M247.6 210.2h0.8M259.1 210.6h0.8M256.5 214.0h0.8M254.6 206.7h0.8M264.9 210.6h0.8M248.2 210.6h0.8M261.5 214.3h0.8M263.8 209.4h0.8M264.3 211.8h0.8M266.7 211.6h0.8M260.9 212.6h0.8M255.7 208.5h0.8M268.8 216.2h0.8M262.9 209.9h0.8M260.6 215.7h0.8M261.2 213.1h0.8M267.6 215.6h0.8M263.1 212.0h0.8M260.3 215.4h0.8M268.4 216.5h0.8M265.4 216.8h0.8M262.6 208.3h0.8M261.4 213.5h0.8M267.0 217.7h0.8M253.0 217.3h0.8M256.9 211.6h0.8M269.0 210.1h0.8M259.2 211.5h0.8M270.2 213.1h0.8M267.9 215.1h0.8M262.7 212.4h0.8M266.0 209.7h0.8M263.2 214.6h0.8M261.1 212.2h0.8M267.3 212.0h0.8M267.4 214.7h0.8M261.3 214.3h0.8M262.1 217.2h0.8M252.8 216.2h0.8M257.3 209.9h0.8M254.7 216.3h0.8M267.9 211.5h0.8M269.0 219.0h0.8M254.3 208.4h0.8M264.0 212.3h0.8M269.5 207.5h0.8M264.8 216.9h0.8M253.4 213.2h0.8M257.8 212.1h0.8M264.1 209.3h0.8M266.8 209.1h0.8M264.2 208.3h0.8M264.0 208.6h0.8M261.7 212.3h0.8M266.1 211.3h0.8M257.9 217.6h0.8M264.2 208.6h0.8M258.8 210.3h0.8M264.2 210.8h0.8M246.0 215.0h0.8M263.8 212.1h0.8M256.6 209.8h0.8M265.0 214.8h0.8M250.0 214.4h0.8M262.9 206.3h0.8M255.3 216.5h0.8M260.4 213.9h0.8M257.0 212.6h0.8M248.0 213.8h0.8M262.5 214.1h0.8M257.6 211.5h0.8M265.3 211.0h0.8M250.3 209.7h0.8M258.7 218.3h0.8M256.8 215.9h0.8M261.5 214.5h0.8M268.5 218.5h0.8M259.8 210.2h0.8M261.0 213.1h0.8M259.4 215.1h0.8M263.0 212.9h0.8M263.4 215.1h0.8M257.8 208.4h0.8M271.4 205.5h0.8M259.0 212.9h0.8M255.8 210.5h0.8M258.7 217.2h0.8M266.3 214.9h0.8M261.6 207.3h0.8M264.0 214.4h0.8M244.3 210.0h0.8M262.2 202.7h0.8M251.8 215.6h0.8M256.0 210.6h0.8M266.9 211.7h0.8M269.5 218.3h0.8M254.1 214.4h0.8M260.2 213.0h0.8M261.5 208.7h0.8M256.6 212.2h0.8M254.0 216.7h0.8M246.1 214.8h0.8M261.8 211.0h0.8M257.6 209.4h0.8M247.8 213.8h0.8M255.5 216.1h0.8M256.9 207.3h0.8M271.1 209.7h0.8M259.7 213.3h0.8M259.3 212.3h0.8M268.1 211.0h0.8M264.1 213.9h0.8M266.5 209.0h0.8M260.7 204.2h0.8M255.1 217.2h0.8M266.3 210.5h0.8M249.8 209.8h0.8M259.7 215.0h0.8M255.0 214.4h0.8M259.4 209.0h0.8M260.4 216.4h0.8M264.5 211.5h0.8M246.6 213.7h0.8M263.0 213.1h0.8M269.7 216.0h0.8M271.9 216.1h0.8M258.7 212.5h0.8M270.0 212.3h0.8M256.0 218.9h0.8M261.3 209.7h0.8M263.9 207.9h0.8M254.5 212.4h0.8M259.6 209.2h0.8M253.3 211.2h0.8M266.9 215.3h0.8M277.7 216.0h0.8M259.5 210.5h0.8M261.3 210.5h0.8M273.6 208.5h0.8M263.8 213.7h0.8M265.7 218.8h0.8M252.3 213.0h0.8M265.5 208.2h0.8M262.8 214.3h0.8M253.1 211.9h0.8M267.9 216.9h0.8M263.7 213.2h0.8M249.6 212.5h0.8M253.9 210.0h0.8M262.2 207.9h0.8M254.5 210.9h0.8M260.2 217.6h0.8M258.0 213.8h0.8M252.8 214.1h0.8M260.3 207.3h0.8M266.6 211.3h0.8M257.1 213.4h0.8M255.5 212.9h0.8M262.7 205.0h0.8M251.8 215.4h0.8M264.8 207.6h0.8M259.6 212.2h0.8M253.7 213.8h0.8M270.8 217.9h0.8M272.9 218.7h0.8M256.3 218.2h0.8M263.7 211.1h0.8M266.9 211.5h0.8M264.8 214.5h0.8M261.4 214.2h0.8M258.7 210.9h0.8M260.2 212.1h0.8M258.6 208.2h0.8M272.4 210.7h0.8M253.0 206.7h0.8M259.8 213.9h0.8M263.4 211.2h0.8M255.4 219.0h0.8M266.1 213.9h0.8M258.5 213.3h0.8M269.3 213.7h0.8M251.6 215.2h0.8M278.2 212.8h0.8M267.9 207.8h0.8M271.6 210.1h0.8M264.8 211.8h0.8M255.4 215.2h0.8M257.1 216.5h0.8M253.8 216.8h0.8M248.5 214.1h0.8M264.2 214.3h0.8M256.7 209.7h0.8M261.3 218.7h0.8M269.7 209.9h0.8M252.3 210.3h0.8M265.0 213.4h0.8M253.0 213.0h0.8M257.9 211.0h0.8M255.8 213.9h0.8M261.1 215.6h0.8M253.8 215.2h0.8M262.8 207.2h0.8M254.9 212.9h0.8M260.8 208.5h0.8M260.9 211.5h0.8M260.6 216.8h0.8M269.8 213.8h0.8M262.2 205.7h0.8M257.9 210.7h0.8M256.5 218.1h0.8M267.8 213.2h0.8M255.2 210.1h0.8M256.9 215.4h0.8M261.8 213.9h0.8M263.5 213.7h0.8M255.0 211.6h0.8M249.3 211.8h0.8M248.0 213.9h0.8M251.5 208.7h0.8M263.4 213.2h0.8M258.6 209.6h0.8M248.0 210.5h0.8M259.6 207.2h0.8M259.9 218.1h0.8M272.4 207.5h0.8M265.4 207.7h0.8M264.4 212.8h0.8M273.2 208.0h0.8M265.8 212.2h0.8M254.7 210.3h0.8M253.4 210.6h0.8M271.4 215.2h0.8M274.5 218.3h0.8M271.3 212.6h0.8M272.4 210.7h0.8M276.9 213.2h0.8M270.0 212.1h0.8M259.2 210.9h0.8M260.4 209.7h0.8M260.1 211.5h0.8M259.0 210.2h0.8M257.1 212.1h0.8M259.2 210.9h0.8M271.6 216.4h0.8M277.1 213.0h0.8M266.4 212.4h0.8M261.0 212.6h0.8M262.6 211.6h0.8M264.4 209.1h0.8M263.2 214.0h0.8M273.2 211.0h0.8M266.1 215.3h0.8M269.4 216.6h0.8M264.7 210.1h0.8M267.6 214.9h0.8M258.5 213.8h0.8M260.1 202.1h0.8M270.6 209.3h0.8M251.4 213.2h0.8M254.2 211.1h0.8M270.3 211.5h0.8M266.6 213.4h0.8M257.1 210.1h0.8M255.4 216.0h0.8M271.4 213.3h0.8M259.9 212.8h0.8M271.3 208.2h0.8M265.4 216.0h0.8M264.4 216.7h0.8M261.9 211.8h0.8M257.6 214.1h0.8M256.2 210.8h0.8M257.3 211.0h0.8M273.1 214.8h0.8M268.6 211.0h0.8M270.5 212.5h0.8M258.3 214.3h0.8M259.6 209.2h0.8M250.0 215.4h0.8M259.4 207.0h0.8M260.0 210.1h0.8M248.4 216.7h0.8M259.2 216.1h0.8M250.2 212.8h0.8M261.6 212.5h0.8M268.1 213.6h0.8M259.8 211.1h0.8M259.0 213.1h0.8M262.5 216.1h0.8M261.1 214.2h0.8M269.2 209.4h0.8M255.7 209.7h0.8M264.6 206.8h0.8M260.0 216.9h0.8M251.2 216.2h0.8M261.9 215.6h0.8M265.8 209.9h0.8M270.5 218.8h0.8M251.7 206.0h0.8M256.6 216.3h0.8M261.5 215.8h0.8M243.7 209.3h0.8M258.1 213.1h0.8M263.7 208.4h0.8M273.5 211.1h0.8M263.5 209.8h0.8M252.6 214.8h0.8M264.6 217.5h0.8M248.2 207.5h0.8M263.4 214.5h0.8M273.2 211.6h0.8M264.0 213.7h0.8M261.0 207.1h0.8M255.1 205.2h0.8" stroke="#000" stroke-width="0.75" stroke-opacity="1.00" fill="none"/>
<path d="M243.5 217.5h0.8M268.5 207.8h0.8M260.0 211.7h0.8M218.8 209.7h0.8M274.0 216.5h0.8M272.3 210.2h0.8M215.2 213.0h0.8M233.9 209.9h0.8M226.5 207.4h0.8M273.7 212.8h0.8M253.7 211.0h0.8M261.0 212.5h0.8M262.2 211.3h0.8M217.6 213.3h0.8M227.5 213.9h0.8M249.8 211.3h0.8M245.9 215.8h0.8M240.3 217.5h0.8M254.1 204.2h0.8M248.5 205.5h0.8M231.0 217.9h0.8M235.3 214.3h0.8M232.6 216.8h0.8M270.2 213.4h0.8M251.3 215.7h0.8M239.8 217.8h0.8M232.1 217.5h0.8M246.6 209.7h0.8M217.2 218.1h0.8M250.3 204.5h0.8M268.2 218.8h0.8M274.3 209.4h0.8M221.3 214.6h0.8M240.5 205.2h0.8M225.3 217.4h0.8M237.1 214.6h0.8M234.9 207.7h0.8M242.6 214.7h0.8M275.7 209.4h0.8M240.1 216.5h0.8M248.4 214.7h0.8M252.8 217.1h0.8M219.1 204.5h0.8M247.3 218.2h0.8M227.2 211.7h0.8M222.6 212.5h0.8M267.8 208.8h0.8M249.0 217.1h0.8M252.7 213.5h0.8M269.2 210.4h0.8M256.7 213.9h0.8M258.3 204.1h0.8M261.1 219.0h0.8M255.4 217.1h0.8M239.9 205.0h0.8M257.2 214.7h0.8M257.0 215.3h0.8M275.1 207.0h0.8M238.1 206.7h0.8M257.4 214.1h0.8M220.6 209.7h0.8M264.8 213.5h0.8M220.1 204.4h0.8M229.1 215.1h0.8M246.8 212.6h0.8M215.6 208.9h0.8M265.2 211.0h0.8M223.0 217.4h0.8M251.6 217.4h0.8M217.2 215.2h0.8M259.2 217.6h0.8M223.2 218.0h0.8M263.5 213.9h0.8M224.5 215.4h0.8M242.1 212.6h0.8M237.0 214.0h0.8M272.9 206.8h0.8M243.9 213.4h0.8M222.3 204.4h0.8M246.2 207.7h0.8M249.4 206.0h0.8M240.8 212.6h0.8M224.9 214.7h0.8M217.1 209.8h0.8M244.8 207.0h0.8M251.1 216.7h0.8M217.5 211.4h0.8M253.5 215.0h0.8M216.1 208.9h0.8M249.9 204.8h0.8M231.2 206.5h0.8M215.5 216.6h0.8M252.7 207.4h0.8M220.5 218.0h0.8M228.8 217.5h0.8M225.3 214.6h0.8M232.3 205.2h0.8M244.2 212.7h0.8M222.9 216.7h0.8M266.5 208.0h0.8M216.5 213.1h0.8M223.9 205.5h0.8M244.7 209.0h0.8M252.0 215.8h0.8M218.5 204.1h0.8M268.8 216.7h0.8M235.7 206.5h0.8M268.8 217.5h0.8M246.0 207.2h0.8M216.8 218.9h0.8M247.0 209.6h0.8M246.5 212.8h0.8M273.7 211.4h0.8M247.7 217.9h0.8M253.8 214.7h0.8M243.5 217.9h0.8M228.2 206.9h0.8M246.0 206.2h0.8M258.0 218.3h0.8M259.4 214.6h0.8M270.8 210.2h0.8M242.3 210.3h0.8M230.0 211.9h0.8M229.2 218.0h0.8M263.2 207.3h0.8M273.8 206.0h0.8M233.0 206.8h0.8M244.9 211.7h0.8M272.9 205.1h0.8M249.4 206.5h0.8M245.2 218.1h0.8M263.8 206.5h0.8M232.1 212.8h0.8M274.0 206.0h0.8M228.4 208.2h0.8M244.5 218.0h0.8M267.7 207.3h0.8M246.2 205.9h0.8M249.1 215.4h0.8M245.6 215.9h0.8M226.0 216.3h0.8M259.1 210.2h0.8M251.8 214.7h0.8M267.5 214.0h0.8M244.8 209.3h0.8M262.8 206.0h0.8M264.2 205.6h0.8M246.1 207.9h0.8M247.4 217.5h0.8M255.6 216.8h0.8M227.3 207.2h0.8M230.8 206.6h0.8M231.3 213.4h0.8M252.1 213.7h0.8M256.1 204.6h0.8M249.2 217.8h0.8M242.4 206.3h0.8M258.7 217.6h0.8M241.6 215.0h0.8M229.6 211.0h0.8M257.8 214.8h0.8M256.3 214.2h0.8M215.8 213.7h0.8M268.2 209.0h0.8M221.7 208.0h0.8M224.8 208.7h0.8M216.6 206.6h0.8M225.9 211.6h0.8M249.9 213.6h0.8M224.5 204.4h0.8M246.7 210.7h0.8M241.6 217.7h0.8M230.7 204.6h0.8M231.1 215.5h0.8M236.6 215.7h0.8M259.8 218.0h0.8M263.4 218.1h0.8M260.7 215.1h0.8M261.7 211.0h0.8M227.0 209.2h0.8M245.1 216.6h0.8M253.7 218.6h0.8M232.4 205.5h0.8M220.9 211.6h0.8M274.1 217.8h0.8M249.6 205.5h0.8M237.3 217.5h0.8M249.3 216.1h0.8M253.6 209.0h0.8M238.5 216.7h0.8M245.4 212.7h0.8M246.0 205.9h0.8M223.7 212.5h0.8M263.3 204.2h0.8M218.7 213.7h0.8M257.8 208.1h0.8M237.5 205.7h0.8M244.7 211.9h0.8M258.1 217.9h0.8M269.0 218.8h0.8M222.0 213.0h0.8M252.5 209.1h0.8M272.4 215.9h0.8M215.5 209.5h0.8M247.2 209.3h0.8M241.1 216.0h0.8M263.6 213.1h0.8M242.8 204.3h0.8M270.0 213.1h0.8M216.2 213.3h0.8M237.7 212.9h0.8M272.7 210.3h0.8M232.3 218.2h0.8M219.3 206.2h0.8M264.1 215.7h0.8M247.1 216.5h0.8M269.5 212.1h0.8M266.0 212.2h0.8M267.1 210.0h0.8M248.3 206.2h0.8M249.5 216.4h0.8M269.6 210.8h0.8M273.7 207.9h0.8M275.4 218.3h0.8M263.4 214.9h0.8M244.6 206.8h0.8M268.8 206.2h0.8M219.5 204.2h0.8M242.1 212.9h0.8M238.7 204.6h0.8M269.8 210.3h0.8M262.9 205.5h0.8M249.1 216.1h0.8M261.7 210.6h0.8M257.1 206.3h0.8M225.7 206.3h0.8M251.0 218.8h0.8M260.7 213.7h0.8M260.8 214.3h0.8M237.7 218.3h0.8M236.4 205.4h0.8M241.8 208.3h0.8M219.7 206.9h0.8M252.4 210.4h0.8M242.5 216.5h0.8M274.3 215.5h0.8M230.3 208.6h0.8M271.5 214.3h0.8M266.1 212.3h0.8M216.3 217.0h0.8M259.1 206.0h0.8M239.9 211.0h0.8M256.3 205.1h0.8M267.0 218.7h0.8M273.7 211.4h0.8M275.3 216.8h0.8M250.4 215.9h0.8M262.3 212.1h0.8M260.4 209.3h0.8M269.4 214.8h0.8M222.5 210.3h0.8M260.2 218.4h0.8M217.2 210.3h0.8M232.2 216.4h0.8M231.6 209.5h0.8M227.0 204.1h0.8M215.8 214.3h0.8M232.9 214.2h0.8M256.1 216.2h0.8M238.9 218.0h0.8M229.9 207.6h0.8M226.7 211.5h0.8M225.7 216.3h0.8M226.8 213.4h0.8M264.0 216.6h0.8M246.4 211.2h0.8M226.5 206.6h0.8M259.7 208.2h0.8M240.4 207.1h0.8M274.8 204.6h0.8M256.8 216.2h0.8M232.4 215.6h0.8M267.3 210.6h0.8M241.5 212.1h0.8M250.9 218.7h0.8M271.1 216.2h0.8M237.2 206.5h0.8M227.1 204.9h0.8M251.1 211.1h0.8M227.6 214.8h0.8M270.8 208.8h0.8M267.9 208.7h0.8M244.5 208.3h0.8M250.0 217.1h0.8M229.0 212.5h0.8M237.9 211.0h0.8M250.6 210.6h0.8M251.4 210.0h0.8M225.3 210.7h0.8M249.2 217.3h0.8M248.7 212.3h0.8M239.3 216.7h0.8M251.4 213.8h0.8M272.3 208.3h0.8M274.2 204.2h0.8M270.8 214.9h0.8M258.1 212.9h0.8M252.3 205.9h0.8M270.6 217.7h0.8M225.5 216.4h0.8M260.8 216.3h0.8M266.9 218.3h0.8M264.9 210.1h0.8M260.3 216.0h0.8M248.2 218.7h0.8M228.5 205.5h0.8M251.3 216.9h0.8M222.9 212.7h0.8M243.8 217.5h0.8M260.9 212.2h0.8M223.6 207.5h0.8M235.5 209.6h0.8M216.7 217.4h0.8M229.9 213.9h0.8M239.1 211.5h0.8M226.1 217.5h0.8M233.1 210.1h0.8M265.0 211.4h0.8M237.1 218.3h0.8M243.2 211.9h0.8M228.8 207.7h0.8M216.5 205.4h0.8M249.5 204.4h0.8M252.5 216.7h0.8M243.1 213.1h0.8M248.5 214.0h0.8M255.2 217.7h0.8M217.4 206.5h0.8M233.0 213.9h0.8M274.1 210.1h0.8M268.3 206.0h0.8M220.5 206.5h0.8M228.7 209.6h0.8M266.4 213.5h0.8M243.5 212.2h0.8M242.6 214.1h0.8M253.1 209.2h0.8M267.3 207.5h0.8M263.9 207.6h0.8M234.6 206.9h0.8M224.4 215.8h0.8M237.7 212.4h0.8M259.1 211.1h0.8M222.1 207.1h0.8M250.5 204.3h0.8M260.5 211.9h0.8M240.0 210.1h0.8M233.8 206.2h0.8M244.6 205.4h0.8M257.5 208.1h0.8M225.1 216.5h0.8M234.6 211.1h0.8M228.8 218.2h0.8M241.1 204.7h0.8M255.0 204.6h0.8M252.8 212.2h0.8M230.4 204.2h0.8M258.1 215.3h0.8M227.1 215.0h0.8M265.2 211.4h0.8M270.6 212.4h0.8M268.8 217.8h0.8M259.2 216.6h0.8M273.5 207.6h0.8M251.5 219.0h0.8M273.7 206.5h0.8M240.5 214.1h0.8M240.0 207.9h0.8M231.6 210.9h0.8M250.4 215.4h0.8M222.2 215.4h0.8M218.4 217.2h0.8M239.8 204.0h0.8M225.5 217.8h0.8M242.9 204.2h0.8M217.9 218.2h0.8M229.8 212.6h0.8M270.6 217.6h0.8M247.9 205.6h0.8M266.3 215.1h0.8M245.7 208.6h0.8M237.0 206.2h0.8M223.7 215.8h0.8M247.5 207.5h0.8M273.8 207.0h0.8M267.8 207.7h0.8M231.6 204.4h0.8M260.3 204.3h0.8M244.7 214.2h0.8M251.7 213.1h0.8M229.1 214.0h0.8M232.6 210.2h0.8M227.6 211.5h0.8M251.8 207.4h0.8M221.8 207.3h0.8M239.2 204.3h0.8M274.0 206.4h0.8M255.1 204.5h0.8M229.5 208.1h0.8M234.7 210.7h0.8M247.8 210.7h0.8M231.2 208.3h0.8M218.9 204.2h0.8M246.4 217.3h0.8M240.8 212.6h0.8M274.5 206.9h0.8M220.9 218.4h0.8M268.8 217.2h0.8M246.2 215.8h0.8M262.7 214.8h0.8M233.1 218.6h0.8M221.5 211.1h0.8M231.8 208.7h0.8M223.4 216.1h0.8M217.0 215.9h0.8M235.1 209.8h0.8M220.2 218.4h0.8M235.3 217.0h0.8M237.9 216.3h0.8M234.2 211.5h0.8M226.7 218.0h0.8M242.7 208.4h0.8M238.6 213.6h0.8M219.8 210.0h0.8M224.5 215.2h0.8M225.4 215.1h0.8M222.5 214.0h0.8M230.8 211.3h0.8M233.4 215.1h0.8M217.3 213.2h0.8M215.4 215.8h0.8M224.4 213.6h0.8M225.4 216.9h0.8M238.5 216.5h0.8M227.7 218.1h0.8M240.2 214.7h0.8M236.5 213.6h0.8M236.0 218.5h0.8M223.7 214.4h0.8M235.1 205.7h0.8M241.2 217.3h0.8M242.7 205.9h0.8M236.9 217.7h0.8M220.3 218.4h0.8M243.0 209.1h0.8M224.6 211.0h0.8M230.0 207.5h0.8M218.3 218.8h0.8M219.4 209.8h0.8M227.4 216.0h0.8M216.0 210.8h0.8M236.6 219.0h0.8M230.7 215.2h0.8M221.1 211.4h0.8M225.2 215.2h0.8M228.8 214.4h0.8M236.0 218.0h0.8M219.1 206.2h0.8M233.8 207.3h0.8M218.0 207.2h0.8M242.0 217.9h0.8M236.5 212.1h0.8M226.2 212.2h0.8M230.4 207.1h0.8M220.0 212.2h0.8M219.2 212.5h0.8M229.2 212.3h0.8M231.1 217.1h0.8M223.2 216.3h0.8M237.0 211.3h0.8M216.2 208.3h0.8M224.8 211.4h0.8M235.7 211.0h0.8M237.1 210.3h0.8M229.5 216.4h0.8M239.6 206.6h0.8M236.5 212.1h0.8M224.3 210.0h0.8M223.8 216.8h0.8M219.8 209.8h0.8M240.1 213.9h0.8M235.7 218.7h0.8M237.1 215.8h0.8M236.5 213.4h0.8M228.0 214.7h0.8M228.3 216.6h0.8M222.7 208.7h0.8M235.2 208.7h0.8M242.0 209.7h0.8M238.1 209.3h0.8M227.8 209.6h0.8M235.4 211.4h0.8M238.8 214.4h0.8M242.1 210.9h0.8M243.1 206.3h0.8M239.7 208.6h0.8M241.9 212.7h0.8M224.0 218.2h0.8M242.7 206.9h0.8M234.6 209.7h0.8M240.1 207.7h0.8M225.6 212.5h0.8M239.7 211.4h0.8M217.0 209.2h0.8M227.8 211.3h0.8M220.1 209.4h0.8M215.8 208.0h0.8M226.0 210.7h0.8M218.4 214.4h0.8M227.0 209.8h0.8M226.3 212.4h0.8M236.9 215.3h0.8M236.6 209.1h0.8M242.8 217.4h0.8M224.3 212.0h0.8M232.3 215.2h0.8M226.0 215.6h0.8M224.5 211.4h0.8M228.7 211.5h0.8M234.2 217.2h0.8M215.9 214.5h0.8M217.6 217.3h0.8M230.2 205.6h0.8M243.1 210.9h0.8M233.9 210.7h0.8M233.5 209.4h0.8M227.4 212.3h0.8M235.3 212.2h0.8M222.4 215.5h0.8M226.2 210.2h0.8M217.3 217.4h0.8M224.2 215.6h0.8M241.0 205.6h0.8M217.7 210.0h0.8M239.6 206.1h0.8M221.0 215.7h0.8M216.7 207.4h0.8M239.6 207.1h0.8M220.2 213.0h0.8M219.4 206.7h0.8M237.7 212.3h0.8M232.8 207.8h0.8M236.4 212.5h0.8M229.8 216.2h0.8M224.8 212.1h0.8M230.9 213.9h0.8M233.1 213.9h0.8M226.6 217.7h0.8M224.1 210.6h0.8M221.0 212.7h0.8M217.2 207.9h0.8M224.4 206.7h0.8M224.1 217.2h0.8M230.8 206.2h0.8M233.7 215.3h0.8M224.3 217.9h0.8M221.1 206.9h0.8M232.4 209.7h0.8M235.0 206.9h0.8M224.6 217.5h0.8M242.6 215.6h0.8M217.5 216.9h0.8M239.8 210.5h0.8M237.7 214.1h0.8M229.4 217.0h0.8M224.4 210.5h0.8M237.2 207.0h0.8M219.9 211.8h0.8M233.0 210.7h0.8M216.2 217.8h0.8M215.9 217.3h0.8M230.1 213.9h0.8M234.1 208.8h0.8M224.1 211.2h0.8M221.9 210.9h0.8M228.1 208.0h0.8M238.6 210.7h0.8M236.2 210.4h0.8M229.1 217.9h0.8M233.9 212.1h0.8M241.0 207.2h0.8M231.7 213.0h0.8M241.0 209.2h0.8M234.6 213.7h0.8M224.2 214.3h0.8M229.0 209.6h0.8M229.1 218.4h0.8M222.7 212.0h0.8M234.4 214.4h0.8M232.9 207.3h0.8M236.3 209.0h0.8M241.3 206.7h0.8M217.3 213.5h0.8M219.3 214.0h0.8M227.9 209.9h0.8M230.5 208.5h0.8M235.7 209.2h0.8M216.7 215.5h0.8M229.2 209.9h0.8M230.2 213.5h0.8M227.2 207.3h0.8M241.2 210.1h0.8M225.0 215.5h0.8M239.5 209.9h0.8M226.4 218.0h0.8M226.5 208.9h0.8M233.2 210.2h0.8M236.3 212.2h0.8M219.4 212.6h0.8M227.3 206.1h0.8M222.3 213.8h0.8M225.1 213.6h0.8M225.2 206.4h0.8M234.7 212.3h0.8M226.7 216.9h0.8M219.3 210.3h0.8M222.4 209.1h0.8M222.7 208.9h0.8M228.6 206.0h0.8M241.4 210.8h0.8M234.5 215.6h0.8M242.5 208.3h0.8M219.6 215.8h0.8M240.5 212.1h0.8M222.4 215.0h0.8M216.6 207.1h0.8M235.1 210.8h0.8M235.4 209.3h0.8M227.4 212.4h0.8M237.4 208.5h0.8" stroke="#000" stroke-width="0.75" stroke-opacity="0.70" fill="none"/>
<path d="M244.0 197.9h0.7M250.1 192.5h0.7M265.6 180.6h0.7M247.4 194.9h0.7M254.5 190.3h0.7M252.4 193.9h0.7M256.4 187.2h0.7M236.5 205.5h0.7M234.7 206.0h0.7M247.6 194.6h0.7M246.2 197.6h0.7M244.8 198.7h0.7M246.4 196.4h0.7M253.1 192.0h0.7M261.2 182.4h0.7M236.3 205.1h0.7M243.4 199.3h0.7M249.2 191.8h0.7M241.7 203.1h0.7M246.7 195.9h0.7" stroke="#000" stroke-width="0.70" stroke-opacity="0.25" fill="none"/>
<text x="239.85" y="176.80" text-anchor="end" class="p">&lt;1%</text>
<text x="305.75" y="176.80" text-anchor="end" class="p">&lt;1%</text>
<path d="M214.50 237.40H303.00" stroke="#9a9a9a" stroke-width="0.8" fill="none"/><path d="M303.00 237.40V294.30" stroke="#dcdcdc" stroke-width="0.8" fill="none"/>
<line x1="214.50" y1="294.30" x2="303.00" y2="294.30" stroke="#777" stroke-width="0.9" stroke-dasharray="0.9 1.4"/>
<line x1="214.50" y1="236.90" x2="214.50" y2="295.10" stroke="#8a8a8a" stroke-width="1" stroke-dasharray="1.1 0.8"/>
<line x1="214.50" y1="276.50" x2="303.00" y2="276.50" stroke="#5a5a5a" stroke-width="0.9"/>
<line x1="239.50" y1="237.40" x2="239.50" y2="294.30" stroke="#8a8a8a" stroke-width="0.9"/>
<text class="k" transform="translate(212.10 237.70) rotate(-90)" text-anchor="middle">10<tspan dy="-1" font-size="2.2">4</tspan></text>
<text class="k" transform="translate(212.10 251.93) rotate(-90)" text-anchor="middle">10<tspan dy="-1" font-size="2.2">3</tspan></text>
<text class="k" transform="translate(212.10 266.15) rotate(-90)" text-anchor="middle">10<tspan dy="-1" font-size="2.2">2</tspan></text>
<text class="k" transform="translate(212.10 280.38) rotate(-90)" text-anchor="middle">10<tspan dy="-1" font-size="2.2">1</tspan></text>
<text class="k" transform="translate(212.10 294.60) rotate(-90)" text-anchor="middle">10<tspan dy="-1" font-size="2.2">0</tspan></text>
<text class="k" transform="translate(207.90 268.13) rotate(-90)" text-anchor="middle">FL2-H</text>
<text class="k" x="214.50" y="298.90" text-anchor="middle">10<tspan dy="-1" font-size="2.2">0</tspan></text>
<text class="k" x="236.62" y="298.90" text-anchor="middle">10<tspan dy="-1" font-size="2.2">1</tspan></text>
<text class="k" x="258.75" y="298.90" text-anchor="middle">10<tspan dy="-1" font-size="2.2">2</tspan></text>
<text class="k" x="280.88" y="298.90" text-anchor="middle">10<tspan dy="-1" font-size="2.2">3</tspan></text>
<text class="k" x="303.00" y="298.90" text-anchor="middle">10<tspan dy="-1" font-size="2.2">4</tspan></text>
<text class="k2" x="260.52" y="302.30" text-anchor="middle">FL1-H</text>
<ellipse cx="225.8" cy="284.5" rx="9.5" ry="4.4" transform="rotate(-22.0 225.8 284.5)" fill="#000" fill-opacity="0.92" filter="url(#b12)"/>
<ellipse cx="263.0" cy="286.3" rx="7.0" ry="3.0" transform="rotate(0.0 263.0 286.3)" fill="#000" fill-opacity="0.50" filter="url(#b12)"/>
<path d="M220.0 280.3h0.8M230.5 282.6h0.8M229.3 278.4h0.8M227.3 284.5h0.8M228.2 285.5h0.8M219.9 280.9h0.8M214.8 289.5h0.8M224.2 286.6h0.8M232.6 278.1h0.8M218.4 288.6h0.8M230.8 281.6h0.8M215.6 281.3h0.8M224.2 281.8h0.8M235.5 284.3h0.8M222.6 286.6h0.8M236.0 282.3h0.8M218.3 286.5h0.8M235.7 275.4h0.8M235.4 282.4h0.8M235.6 276.5h0.8M223.7 278.3h0.8M236.8 280.5h0.8M224.3 288.4h0.8M233.3 281.2h0.8M222.1 282.2h0.8M226.6 276.4h0.8M231.9 283.4h0.8M223.8 289.5h0.8M215.3 286.0h0.8M228.2 284.4h0.8M225.0 279.5h0.8M225.0 281.2h0.8M231.3 283.7h0.8M221.2 287.0h0.8M221.6 286.1h0.8M214.8 288.8h0.8M223.7 283.8h0.8M224.8 284.4h0.8M216.2 292.1h0.8M227.8 281.7h0.8M221.4 291.0h0.8M230.0 284.5h0.8M221.0 280.6h0.8M227.3 280.7h0.8M230.4 281.7h0.8M214.7 285.1h0.8M227.7 287.0h0.8M240.2 282.0h0.8M235.7 283.9h0.8M223.6 283.9h0.8M227.0 278.4h0.8M226.9 274.6h0.8M231.2 284.1h0.8M219.8 284.0h0.8M223.9 278.1h0.8M234.2 286.6h0.8M222.8 284.7h0.8M225.9 282.8h0.8M236.4 282.7h0.8M227.7 283.8h0.8M219.2 285.3h0.8M226.3 286.1h0.8M227.6 277.8h0.8M216.1 279.2h0.8M233.1 277.2h0.8M233.0 286.8h0.8M232.0 285.2h0.8M217.6 280.2h0.8M220.2 289.5h0.8M232.0 275.3h0.8M226.1 284.4h0.8M224.5 287.0h0.8M224.9 281.1h0.8M227.9 284.4h0.8M231.8 275.5h0.8M227.1 289.4h0.8M231.9 289.4h0.8M219.2 289.8h0.8M235.6 275.8h0.8M227.6 281.7h0.8M224.9 282.1h0.8M222.8 285.0h0.8M224.2 286.5h0.8M229.2 281.7h0.8M216.0 291.5h0.8M241.8 288.2h0.8M227.4 290.3h0.8M237.7 282.7h0.8M217.8 284.3h0.8M215.4 290.6h0.8M215.7 282.0h0.8M225.0 282.4h0.8M231.8 291.5h0.8M229.6 287.4h0.8M240.7 283.8h0.8M221.4 281.9h0.8M215.3 286.4h0.8M221.1 284.0h0.8M219.0 289.3h0.8M225.6 284.4h0.8M224.2 284.0h0.8M220.8 283.5h0.8M222.8 281.6h0.8M228.4 286.0h0.8M217.7 283.0h0.8M231.4 279.6h0.8M219.6 290.3h0.8M229.1 285.5h0.8M228.0 287.4h0.8M226.2 278.5h0.8M232.8 283.9h0.8M218.8 288.5h0.8M225.4 290.3h0.8M220.5 286.1h0.8M231.4 277.4h0.8M223.2 286.5h0.8M222.9 279.8h0.8M222.7 283.2h0.8M219.2 283.2h0.8M234.0 284.9h0.8M225.7 287.0h0.8M220.8 282.2h0.8M232.5 282.0h0.8M221.8 284.6h0.8M224.3 280.6h0.8M215.6 291.7h0.8M220.3 286.6h0.8M235.2 286.5h0.8M228.3 284.2h0.8M224.7 284.0h0.8M218.3 285.6h0.8M224.4 280.5h0.8M224.9 281.6h0.8M226.0 281.6h0.8M224.8 285.2h0.8M222.9 287.7h0.8M232.5 283.6h0.8M222.3 282.4h0.8M226.3 285.5h0.8M229.8 292.8h0.8M226.1 287.0h0.8M221.8 281.7h0.8M232.9 278.8h0.8M223.4 282.3h0.8M233.6 285.3h0.8M229.2 280.5h0.8M231.3 287.2h0.8M220.6 282.5h0.8M230.1 283.0h0.8M235.1 283.4h0.8M230.5 283.1h0.8M238.6 284.5h0.8M221.0 286.5h0.8M216.9 290.3h0.8M229.2 285.8h0.8M232.8 287.5h0.8M223.0 282.6h0.8M225.9 278.8h0.8M221.5 287.1h0.8M224.2 283.8h0.8M227.2 283.2h0.8M225.7 285.1h0.8M235.2 280.8h0.8M229.1 279.7h0.8M223.3 286.1h0.8M219.2 288.7h0.8M234.3 282.4h0.8M220.9 287.3h0.8M224.7 279.0h0.8M217.5 289.5h0.8M223.2 281.4h0.8M234.4 278.4h0.8M233.9 286.7h0.8M224.0 286.9h0.8M228.6 284.9h0.8M228.7 284.7h0.8M234.9 279.8h0.8M223.6 289.9h0.8M219.5 285.9h0.8M226.0 283.3h0.8M228.2 287.2h0.8M219.0 290.2h0.8M222.5 292.1h0.8M228.6 287.0h0.8M221.6 289.8h0.8M220.8 285.4h0.8M231.2 283.5h0.8M225.8 286.5h0.8M228.1 284.4h0.8M223.0 285.8h0.8M232.1 283.8h0.8M223.2 285.1h0.8M230.2 280.6h0.8M235.9 283.5h0.8M217.8 289.9h0.8M225.6 288.0h0.8M223.9 285.8h0.8M222.7 288.7h0.8M225.9 283.6h0.8M226.3 275.5h0.8M224.7 282.4h0.8M228.0 286.0h0.8M225.0 288.4h0.8M225.5 280.7h0.8M227.6 285.8h0.8M225.3 280.5h0.8M229.7 284.2h0.8M234.0 288.5h0.8M235.4 282.5h0.8M228.1 285.4h0.8M223.0 289.7h0.8M219.4 288.7h0.8M224.8 284.6h0.8M225.5 283.2h0.8M243.4 274.7h0.8M222.8 281.8h0.8M224.0 283.9h0.8M220.8 293.4h0.8M222.8 285.8h0.8M219.8 285.8h0.8M228.4 291.2h0.8M233.0 280.9h0.8M231.4 281.4h0.8M226.3 285.1h0.8M235.8 281.5h0.8M227.3 282.2h0.8M227.9 281.5h0.8M217.6 285.3h0.8M220.8 283.2h0.8M221.5 285.8h0.8M220.0 285.5h0.8M220.4 286.0h0.8M218.7 286.2h0.8M229.4 282.9h0.8M217.5 288.1h0.8M220.3 288.9h0.8M225.3 277.7h0.8M239.4 284.3h0.8M234.4 287.1h0.8M217.5 285.2h0.8M228.5 284.8h0.8M225.6 281.0h0.8M234.1 280.5h0.8M216.1 294.1h0.8M229.7 288.0h0.8M219.5 286.9h0.8M235.3 283.0h0.8M227.0 274.0h0.8M227.3 283.5h0.8M221.3 294.0h0.8M232.7 283.3h0.8M230.1 288.8h0.8M225.0 285.8h0.8M224.6 287.9h0.8M225.2 293.0h0.8M231.0 282.5h0.8M232.7 281.7h0.8M221.3 290.3h0.8M226.9 290.1h0.8M226.9 287.2h0.8M222.0 291.6h0.8M229.5 273.6h0.8M219.0 285.7h0.8M228.7 282.5h0.8M226.1 288.9h0.8M219.5 282.0h0.8M218.9 287.6h0.8M234.9 271.8h0.8M218.5 288.3h0.8M228.6 289.6h0.8M214.8 284.9h0.8M220.7 285.9h0.8M230.3 283.9h0.8M226.8 278.0h0.8M225.8 286.2h0.8M232.2 282.6h0.8M232.5 276.4h0.8M218.6 290.9h0.8M235.3 285.0h0.8M222.7 286.3h0.8M223.7 288.5h0.8M225.7 283.3h0.8M227.8 282.9h0.8M223.3 291.8h0.8M219.3 286.9h0.8M223.3 285.0h0.8M220.0 281.3h0.8M224.1 278.1h0.8M219.6 282.9h0.8M233.3 289.4h0.8M237.2 277.8h0.8M222.8 289.6h0.8M217.9 290.1h0.8M218.8 283.7h0.8M221.2 285.5h0.8M233.1 280.5h0.8M234.0 282.3h0.8M233.1 283.8h0.8M222.0 286.9h0.8M222.6 291.4h0.8M218.2 288.1h0.8M224.7 290.0h0.8M228.8 287.8h0.8M220.9 278.8h0.8M219.9 288.4h0.8M229.4 278.1h0.8M237.6 281.7h0.8M224.5 285.5h0.8M225.0 285.8h0.8M233.4 283.8h0.8M225.9 283.0h0.8M219.9 285.9h0.8M222.1 288.8h0.8M232.9 284.0h0.8M232.7 284.9h0.8M224.0 287.0h0.8M226.8 288.7h0.8M223.0 281.1h0.8M229.1 284.3h0.8M234.0 283.0h0.8M226.1 280.7h0.8M227.9 279.4h0.8M227.4 273.3h0.8M219.8 279.6h0.8M218.4 290.8h0.8M217.1 291.5h0.8M231.5 285.0h0.8M223.4 283.7h0.8M232.6 283.8h0.8M232.5 274.5h0.8M217.5 284.7h0.8M224.9 287.2h0.8M219.6 288.4h0.8M217.4 284.0h0.8M234.6 282.7h0.8M220.5 291.5h0.8M225.2 284.3h0.8M237.7 288.0h0.8M228.6 282.7h0.8M222.7 286.2h0.8M229.9 281.3h0.8M229.5 284.8h0.8M240.5 280.2h0.8M217.3 283.4h0.8M224.9 279.2h0.8M230.9 285.3h0.8M230.4 288.6h0.8M224.7 284.8h0.8M230.6 279.5h0.8M225.7 284.4h0.8M227.4 284.2h0.8M236.9 278.0h0.8M242.0 282.7h0.8M229.7 282.0h0.8M228.8 280.8h0.8M224.0 283.3h0.8M215.1 285.7h0.8M234.6 284.4h0.8M233.8 285.3h0.8M228.9 282.5h0.8M222.5 288.0h0.8M232.4 283.1h0.8M239.8 282.1h0.8M230.9 286.4h0.8M218.6 291.6h0.8M224.1 287.5h0.8M221.1 282.1h0.8M230.6 285.0h0.8M228.7 277.4h0.8M223.7 285.7h0.8M236.0 283.1h0.8M226.2 288.6h0.8M228.6 282.4h0.8M221.8 284.3h0.8M215.7 284.9h0.8M237.9 282.4h0.8M223.3 291.6h0.8M216.0 287.5h0.8M225.1 286.7h0.8M227.5 287.7h0.8M221.4 283.7h0.8M222.3 288.1h0.8M224.0 288.2h0.8M228.5 284.0h0.8M231.4 282.0h0.8M226.0 281.3h0.8M227.2 285.3h0.8M230.2 281.9h0.8M218.8 289.2h0.8M227.5 286.3h0.8M234.1 280.6h0.8M223.0 290.9h0.8M231.7 277.6h0.8M225.4 282.5h0.8M231.7 280.6h0.8M218.3 288.1h0.8M217.2 284.2h0.8M233.9 284.4h0.8M222.0 286.4h0.8M220.8 288.1h0.8M223.8 280.8h0.8M229.8 283.9h0.8M235.6 281.9h0.8M225.2 287.5h0.8M220.4 274.2h0.8M238.1 281.1h0.8M224.9 284.6h0.8M225.5 283.8h0.8M231.2 283.5h0.8M220.1 284.8h0.8M231.4 283.9h0.8M223.6 286.7h0.8M220.3 281.4h0.8M222.4 285.6h0.8M222.6 285.7h0.8M230.6 283.5h0.8M221.1 286.7h0.8M235.0 278.5h0.8M227.0 293.3h0.8M224.7 282.0h0.8M231.3 285.0h0.8M228.4 286.7h0.8M234.7 285.0h0.8M220.2 290.0h0.8M223.6 279.2h0.8M232.2 278.0h0.8M226.7 289.7h0.8M225.5 288.2h0.8M215.1 287.4h0.8M235.6 282.0h0.8M231.4 279.1h0.8M217.3 285.7h0.8M232.8 282.2h0.8M236.0 283.4h0.8M233.2 285.9h0.8M222.8 277.8h0.8M227.1 286.7h0.8M223.3 285.7h0.8M224.1 288.7h0.8M216.9 289.9h0.8M231.0 283.8h0.8M221.2 279.6h0.8M230.9 285.3h0.8M220.5 283.4h0.8M224.7 281.9h0.8M224.0 287.4h0.8M230.1 283.7h0.8M225.2 285.1h0.8M234.9 281.2h0.8M222.7 289.4h0.8M241.0 287.3h0.8M229.1 285.8h0.8M232.0 280.4h0.8M216.1 288.3h0.8M231.4 285.0h0.8M225.2 281.8h0.8M233.4 280.1h0.8M221.3 286.6h0.8M228.4 290.4h0.8M215.1 290.6h0.8M228.2 278.2h0.8M231.2 278.9h0.8M233.1 286.1h0.8M222.9 279.9h0.8M228.7 276.1h0.8M226.2 278.9h0.8M219.5 287.4h0.8M226.7 285.6h0.8M223.4 280.4h0.8M229.7 281.4h0.8M230.6 283.7h0.8M230.7 283.9h0.8M233.1 278.7h0.8M215.7 291.0h0.8M236.6 280.3h0.8M239.5 284.4h0.8M230.5 282.2h0.8M233.0 283.4h0.8M235.5 285.7h0.8M224.9 285.4h0.8M225.3 284.6h0.8M229.6 281.5h0.8M234.7 282.8h0.8M219.9 279.8h0.8M221.5 282.6h0.8M224.0 285.8h0.8M235.7 282.9h0.8M227.1 291.3h0.8M224.4 290.2h0.8M226.9 285.8h0.8M220.7 284.0h0.8M218.3 281.0h0.8M231.7 286.6h0.8M226.7 274.4h0.8M223.3 292.2h0.8M225.3 281.1h0.8M231.1 285.6h0.8M216.1 291.2h0.8M214.8 292.7h0.8M228.7 284.9h0.8M216.0 288.0h0.8M227.6 283.9h0.8M226.7 277.3h0.8M223.0 281.1h0.8M220.3 283.5h0.8M232.0 283.2h0.8M235.4 282.8h0.8M215.6 283.0h0.8M229.2 287.0h0.8M233.1 283.2h0.8M229.0 282.2h0.8M221.2 285.8h0.8M223.1 290.9h0.8M226.3 284.9h0.8M218.1 285.3h0.8M228.9 283.9h0.8M230.9 288.8h0.8M223.4 280.9h0.8M226.3 282.2h0.8M234.2 283.4h0.8M224.9 287.7h0.8M239.7 283.0h0.8M229.0 281.8h0.8M219.3 288.0h0.8M218.3 287.5h0.8M229.7 277.9h0.8M230.4 289.5h0.8M214.9 293.5h0.8M227.5 283.5h0.8M237.7 280.9h0.8M226.4 280.8h0.8M219.5 289.5h0.8M230.9 282.5h0.8M232.0 282.4h0.8M219.0 282.9h0.8M227.2 279.3h0.8M238.3 280.9h0.8M226.2 281.1h0.8M220.9 283.9h0.8M220.2 283.5h0.8M219.5 292.7h0.8M232.9 280.4h0.8M229.4 281.3h0.8M226.8 281.0h0.8M231.3 280.5h0.8M219.7 286.0h0.8M220.4 282.4h0.8M231.3 281.0h0.8M229.4 281.9h0.8M228.9 288.5h0.8M223.2 283.5h0.8M227.2 284.1h0.8M220.7 286.8h0.8M217.7 288.9h0.8M231.6 289.9h0.8M232.6 277.2h0.8M224.5 289.7h0.8M231.3 281.1h0.8M223.3 277.8h0.8M221.9 290.7h0.8M231.1 280.9h0.8M225.2 290.3h0.8M221.6 282.5h0.8M224.7 283.1h0.8M223.4 287.0h0.8M217.1 291.0h0.8M216.6 277.5h0.8M217.3 281.4h0.8M228.4 288.1h0.8M231.6 287.4h0.8M234.8 280.3h0.8M228.5 284.5h0.8M217.9 289.5h0.8M224.5 284.4h0.8M234.2 280.9h0.8M222.0 288.4h0.8M225.9 283.0h0.8M222.9 289.5h0.8M226.8 281.5h0.8M222.9 285.7h0.8M228.2 278.7h0.8M225.9 286.7h0.8M228.3 276.6h0.8M219.3 284.2h0.8M230.3 285.6h0.8M226.0 281.5h0.8M226.1 277.1h0.8M224.9 287.9h0.8M232.0 288.1h0.8M229.2 286.2h0.8M224.3 282.9h0.8M230.8 281.0h0.8M222.3 287.5h0.8M237.7 283.6h0.8M215.4 289.4h0.8M226.3 283.6h0.8M231.8 285.2h0.8M224.7 286.1h0.8M231.4 287.7h0.8M222.7 284.8h0.8M232.5 286.9h0.8M231.7 282.7h0.8M218.5 292.1h0.8M260.8 283.7h0.8M258.6 284.3h0.8M256.7 280.0h0.8M264.7 286.7h0.8M253.4 284.6h0.8M266.3 289.4h0.8M265.6 289.4h0.8M256.5 285.9h0.8M253.2 283.1h0.8M272.6 287.2h0.8M259.0 288.1h0.8M257.8 289.6h0.8M257.7 291.4h0.8M268.4 281.5h0.8M266.9 284.6h0.8M267.8 286.0h0.8M257.0 288.5h0.8M268.4 281.7h0.8M258.5 283.8h0.8M260.8 288.4h0.8M261.8 283.3h0.8M253.7 279.2h0.8M263.8 289.5h0.8M263.4 287.9h0.8M257.4 290.3h0.8M265.7 287.1h0.8M265.9 282.7h0.8M261.7 282.4h0.8M272.0 287.1h0.8M260.1 280.9h0.8M257.3 287.8h0.8M253.8 293.8h0.8M267.4 288.0h0.8M260.1 284.6h0.8M259.7 285.4h0.8M270.0 279.5h0.8M255.2 289.1h0.8M260.7 284.9h0.8M258.4 287.5h0.8M253.3 291.9h0.8M255.5 283.3h0.8M261.5 285.2h0.8M262.0 289.0h0.8M261.8 279.2h0.8M257.5 287.3h0.8M252.9 285.5h0.8M255.5 282.5h0.8M268.6 283.6h0.8M251.4 287.5h0.8M251.1 282.0h0.8M264.3 287.0h0.8M263.7 284.6h0.8M257.9 289.1h0.8M263.2 290.6h0.8M251.3 283.2h0.8M264.0 286.1h0.8M261.9 291.5h0.8M256.7 285.7h0.8M257.3 287.2h0.8M264.3 285.0h0.8M267.3 292.9h0.8M262.0 290.0h0.8M276.3 288.0h0.8M255.3 290.9h0.8M261.6 283.8h0.8M260.9 281.4h0.8M260.9 286.5h0.8M263.5 283.7h0.8M257.4 286.9h0.8M268.3 286.8h0.8M260.1 291.7h0.8M263.7 293.6h0.8M261.0 279.0h0.8M261.1 285.4h0.8M269.2 288.4h0.8M252.4 289.9h0.8M262.8 282.8h0.8M245.7 279.9h0.8M263.1 288.3h0.8M256.5 283.1h0.8M264.4 283.4h0.8M262.9 287.1h0.8M270.0 276.3h0.8M265.8 289.7h0.8M267.4 281.4h0.8M270.0 291.5h0.8M258.8 281.0h0.8M270.3 287.1h0.8M266.0 279.9h0.8M274.0 288.9h0.8M255.1 281.4h0.8M261.4 292.5h0.8M260.0 285.2h0.8M258.1 289.4h0.8M276.6 284.1h0.8M259.0 285.9h0.8M262.3 279.5h0.8M253.0 284.2h0.8M243.3 292.1h0.8M264.8 285.0h0.8M272.4 287.2h0.8M260.3 279.9h0.8M252.0 278.6h0.8M255.8 284.4h0.8M268.5 286.5h0.8M260.4 287.6h0.8M273.0 285.7h0.8M256.1 287.7h0.8M270.7 284.6h0.8M249.3 284.1h0.8M259.3 287.4h0.8M249.0 286.7h0.8M269.3 286.2h0.8M268.3 284.1h0.8M266.0 288.5h0.8M262.0 288.5h0.8M260.1 286.0h0.8M255.7 276.8h0.8M261.2 292.4h0.8M260.1 284.8h0.8M268.3 285.5h0.8M256.6 282.7h0.8M248.5 282.9h0.8M267.2 288.9h0.8M263.6 284.6h0.8M271.9 286.9h0.8M265.7 286.1h0.8M268.0 283.7h0.8M253.2 280.5h0.8M268.7 285.4h0.8M265.3 284.4h0.8M275.6 293.6h0.8M266.0 287.1h0.8M262.8 286.5h0.8M253.0 288.2h0.8M266.2 287.0h0.8M273.6 288.3h0.8M261.1 289.2h0.8M257.1 289.2h0.8M266.6 292.0h0.8M258.3 283.0h0.8M268.4 286.0h0.8M263.0 277.1h0.8M270.4 284.9h0.8M268.6 283.3h0.8M264.4 289.2h0.8M269.4 278.4h0.8M257.0 285.9h0.8M266.8 284.9h0.8M262.0 282.5h0.8M264.5 286.0h0.8M273.5 287.3h0.8M264.9 285.0h0.8M265.3 284.7h0.8M267.0 286.2h0.8M261.1 283.9h0.8M269.7 290.3h0.8M272.8 285.1h0.8M258.0 285.3h0.8M259.3 290.5h0.8M266.7 281.4h0.8M271.0 290.2h0.8M261.9 285.0h0.8M266.0 287.4h0.8M253.3 287.7h0.8M254.1 286.3h0.8M255.4 288.4h0.8M275.0 282.5h0.8M280.2 280.9h0.8M257.2 284.9h0.8M262.8 282.2h0.8M266.6 282.1h0.8M267.9 282.7h0.8M261.6 288.1h0.8M263.4 291.4h0.8M250.8 283.1h0.8M261.8 287.2h0.8M254.4 287.7h0.8M257.4 288.9h0.8M261.5 284.0h0.8M251.9 285.5h0.8M255.6 285.6h0.8M262.8 288.5h0.8M266.7 285.2h0.8M265.1 283.7h0.8M268.0 289.8h0.8M257.9 287.3h0.8M267.3 293.5h0.8M261.6 288.7h0.8M263.5 284.1h0.8M260.6 291.7h0.8M260.0 287.2h0.8M260.3 283.6h0.8M264.2 292.8h0.8M266.9 286.3h0.8M258.5 283.8h0.8M267.5 287.4h0.8M255.8 289.2h0.8M263.5 286.1h0.8M266.0 287.5h0.8M267.0 289.9h0.8M263.4 288.3h0.8M261.3 281.1h0.8M263.4 285.9h0.8M251.9 287.3h0.8M264.9 283.9h0.8M259.8 292.5h0.8M248.7 288.0h0.8M258.8 285.5h0.8M260.6 292.9h0.8M264.9 279.5h0.8M258.2 288.2h0.8M261.8 284.5h0.8M251.8 288.8h0.8M252.4 282.5h0.8M260.2 289.5h0.8M265.3 283.5h0.8M256.9 282.9h0.8M262.0 293.0h0.8M256.4 284.4h0.8M273.8 294.1h0.8M258.7 288.4h0.8M260.5 290.7h0.8M273.5 286.7h0.8M269.3 290.6h0.8M261.6 284.8h0.8M266.7 291.2h0.8M261.1 283.7h0.8M269.5 282.6h0.8M254.2 284.3h0.8M254.8 283.2h0.8M260.0 284.3h0.8M257.9 286.0h0.8M253.3 284.0h0.8M260.1 287.4h0.8M262.6 287.1h0.8M267.2 289.1h0.8M274.6 289.7h0.8M259.5 287.8h0.8M247.5 288.5h0.8M263.0 283.9h0.8M252.7 283.3h0.8M256.9 290.0h0.8M256.0 286.2h0.8M254.8 284.3h0.8M263.2 288.4h0.8M268.9 286.4h0.8M267.9 292.5h0.8M262.9 285.1h0.8M269.6 284.5h0.8M270.7 285.2h0.8M268.5 290.7h0.8M255.3 290.7h0.8M264.7 293.2h0.8M253.5 291.3h0.8M268.2 285.7h0.8M253.0 276.1h0.8M265.3 288.7h0.8M266.5 288.7h0.8M268.3 291.2h0.8M272.1 287.4h0.8M256.6 293.4h0.8M248.0 289.3h0.8M261.7 292.0h0.8M268.8 288.1h0.8M258.2 283.0h0.8M265.0 288.4h0.8M267.3 290.3h0.8M270.2 280.3h0.8M251.6 284.7h0.8M264.4 293.5h0.8M268.4 289.4h0.8M259.3 282.6h0.8M277.9 277.7h0.8M270.1 287.1h0.8M262.3 288.2h0.8M271.8 291.0h0.8M262.9 292.4h0.8M265.8 284.3h0.8M258.8 285.5h0.8M262.2 284.9h0.8M253.9 290.5h0.8M253.4 284.2h0.8M262.5 288.8h0.8M256.7 283.2h0.8M258.3 285.1h0.8M268.5 288.4h0.8M275.9 289.8h0.8M265.4 286.7h0.8M265.3 289.4h0.8M258.6 282.3h0.8M271.2 285.2h0.8M248.5 288.7h0.8M251.8 287.2h0.8M258.0 278.4h0.8M271.6 286.0h0.8M263.1 283.0h0.8M264.7 286.7h0.8M262.2 286.8h0.8M264.1 286.4h0.8M256.8 285.0h0.8M267.6 288.4h0.8M258.4 288.6h0.8M265.0 286.6h0.8M251.9 285.3h0.8M272.7 287.2h0.8M273.7 285.8h0.8M265.1 285.3h0.8M257.7 282.5h0.8M270.2 288.1h0.8M268.5 286.4h0.8M265.9 284.5h0.8M269.0 285.0h0.8M266.7 293.1h0.8M270.3 282.8h0.8M263.6 287.0h0.8M256.7 287.0h0.8M261.1 282.8h0.8M253.7 289.7h0.8M253.0 278.5h0.8M267.3 284.9h0.8M267.0 287.4h0.8M262.1 290.2h0.8M270.4 282.7h0.8M259.3 278.6h0.8M267.5 286.5h0.8M252.1 282.1h0.8M270.2 277.2h0.8M254.7 282.1h0.8M269.4 285.3h0.8M265.7 285.0h0.8M281.1 284.7h0.8M265.9 278.9h0.8M267.0 283.8h0.8M253.5 284.7h0.8M255.9 290.3h0.8M259.7 285.6h0.8M260.3 286.3h0.8M258.2 287.8h0.8M263.1 285.7h0.8M264.5 285.5h0.8M249.1 285.7h0.8M270.4 285.5h0.8M274.7 281.5h0.8M269.0 288.7h0.8M255.7 285.4h0.8M262.9 286.7h0.8M267.4 280.1h0.8M257.1 288.7h0.8M260.6 283.0h0.8M254.1 281.2h0.8M275.1 292.2h0.8M251.4 285.0h0.8M266.6 287.4h0.8M258.9 286.5h0.8M264.8 287.7h0.8M262.1 288.4h0.8M261.1 286.8h0.8M270.4 283.5h0.8M257.7 288.2h0.8M260.5 288.1h0.8M263.5 285.6h0.8M259.2 293.0h0.8M249.8 283.5h0.8M259.0 284.7h0.8M274.9 286.5h0.8M265.3 288.2h0.8M267.7 285.3h0.8M263.1 286.0h0.8M274.3 285.2h0.8M254.5 286.5h0.8M270.1 286.9h0.8M268.7 284.1h0.8M268.7 291.9h0.8M258.9 285.8h0.8M267.5 287.0h0.8M263.8 281.2h0.8M264.5 290.1h0.8M268.1 290.1h0.8M257.2 290.0h0.8M261.8 287.8h0.8M257.7 288.7h0.8M265.5 288.0h0.8M272.7 285.3h0.8M271.4 292.2h0.8M258.6 285.3h0.8M266.2 281.9h0.8M269.7 284.9h0.8M257.3 282.1h0.8M269.9 288.2h0.8M265.4 290.5h0.8M266.7 282.1h0.8M252.7 280.5h0.8M266.7 291.6h0.8M271.7 284.5h0.8M256.8 284.3h0.8M261.8 289.8h0.8" stroke="#000" stroke-width="0.75" stroke-opacity="1.00" fill="none"/>
<path d="M226.3 288.9h0.8M258.5 279.0h0.8M272.8 286.2h0.8M227.2 283.9h0.8M227.4 288.5h0.8M262.1 286.1h0.8M257.4 285.4h0.8M243.9 286.4h0.8M260.5 292.0h0.8M241.0 284.8h0.8M272.5 289.4h0.8M246.2 279.6h0.8M260.0 289.1h0.8M222.9 284.6h0.8M225.1 292.4h0.8M248.3 290.3h0.8M263.3 291.7h0.8M242.5 290.8h0.8M262.7 283.1h0.8M243.3 281.7h0.8M232.4 278.9h0.8M262.4 292.0h0.8M271.7 280.8h0.8M235.5 286.4h0.8M258.9 293.6h0.8M217.8 291.5h0.8M275.2 284.9h0.8M220.4 289.3h0.8M254.6 293.3h0.8M235.7 289.4h0.8M274.1 281.5h0.8M259.5 288.6h0.8M231.5 282.1h0.8M243.0 291.7h0.8M227.1 278.6h0.8M230.5 287.7h0.8M234.5 284.0h0.8M274.4 278.1h0.8M238.6 282.4h0.8M258.9 280.4h0.8M265.0 285.5h0.8M219.8 290.2h0.8M276.7 288.8h0.8M226.9 287.3h0.8M242.3 289.0h0.8M276.3 279.1h0.8M243.1 280.3h0.8M248.6 286.3h0.8M255.8 290.1h0.8M226.1 291.3h0.8M246.8 286.2h0.8M274.7 281.4h0.8M249.2 281.6h0.8M234.4 278.1h0.8M217.0 280.5h0.8M229.9 289.4h0.8M239.8 292.5h0.8M220.9 289.5h0.8M233.8 288.3h0.8M262.5 289.8h0.8M252.3 290.5h0.8M275.5 278.9h0.8M244.8 279.0h0.8M267.4 278.6h0.8M222.3 287.2h0.8M240.0 283.9h0.8M215.8 289.3h0.8M220.9 288.5h0.8M219.2 289.2h0.8M263.9 283.3h0.8M230.8 280.3h0.8M274.9 290.2h0.8M226.1 286.6h0.8M261.5 283.7h0.8M277.7 289.8h0.8M243.6 291.6h0.8M241.8 289.1h0.8M257.4 278.5h0.8M230.2 278.0h0.8M220.2 282.8h0.8M224.7 283.7h0.8M247.1 279.3h0.8M244.8 280.8h0.8M252.5 284.4h0.8M272.1 291.6h0.8M248.9 290.2h0.8M235.2 283.9h0.8M269.0 280.7h0.8M238.8 288.9h0.8M238.2 289.7h0.8M275.0 293.4h0.8M246.9 291.3h0.8M256.6 278.2h0.8M252.7 280.2h0.8M237.7 284.1h0.8M231.4 282.2h0.8M277.2 287.7h0.8M244.7 281.8h0.8M247.8 281.8h0.8M271.5 283.0h0.8M275.8 293.5h0.8M262.4 288.0h0.8M260.8 282.2h0.8M224.8 292.5h0.8M231.3 291.1h0.8M262.8 284.8h0.8M266.3 279.3h0.8M219.2 279.9h0.8M279.5 281.7h0.8M223.6 281.6h0.8M273.3 290.2h0.8M261.8 290.2h0.8M279.4 282.7h0.8M232.6 285.8h0.8M250.5 285.6h0.8M236.6 286.1h0.8M225.9 288.2h0.8M264.1 287.3h0.8M263.5 280.6h0.8M239.8 289.0h0.8M274.7 293.4h0.8M226.7 285.8h0.8M218.5 289.5h0.8M278.4 289.5h0.8M262.4 293.2h0.8M258.0 278.5h0.8M236.9 293.0h0.8M279.7 289.2h0.8M262.7 291.6h0.8M245.2 278.4h0.8M230.0 289.6h0.8M262.7 285.4h0.8M268.9 278.6h0.8M252.6 290.5h0.8M230.7 291.7h0.8M276.2 281.0h0.8M253.9 278.4h0.8M250.3 280.0h0.8M223.0 286.7h0.8M240.8 292.1h0.8M240.0 285.6h0.8M227.6 292.5h0.8M238.7 282.7h0.8M270.0 285.3h0.8M236.2 279.5h0.8M272.2 284.4h0.8M224.3 278.7h0.8M273.4 279.0h0.8M263.8 283.1h0.8M270.7 291.5h0.8M270.4 278.7h0.8M242.3 284.1h0.8M260.8 288.8h0.8M254.0 282.9h0.8M228.5 280.2h0.8M216.9 285.1h0.8M216.5 292.4h0.8M248.4 282.3h0.8M229.8 292.7h0.8M241.2 291.2h0.8M256.8 283.2h0.8M269.7 288.7h0.8M228.5 291.4h0.8M242.2 282.8h0.8M268.5 291.0h0.8M242.4 283.5h0.8M260.3 281.8h0.8M247.4 293.7h0.8M261.3 291.3h0.8M247.7 288.7h0.8M276.4 290.7h0.8M271.7 278.8h0.8M270.8 286.8h0.8M255.7 279.1h0.8M250.5 291.8h0.8M276.7 290.8h0.8M233.0 281.8h0.8M236.7 289.9h0.8M229.5 278.5h0.8M280.0 283.4h0.8M270.9 281.9h0.8M240.2 293.1h0.8M247.1 283.2h0.8M253.3 280.8h0.8M225.4 279.3h0.8M237.6 287.7h0.8M270.5 286.7h0.8M274.4 288.3h0.8M274.5 279.0h0.8M268.3 288.5h0.8M232.3 289.8h0.8M241.8 283.4h0.8M231.1 280.0h0.8M223.6 278.8h0.8M264.2 286.1h0.8M273.2 278.9h0.8M279.3 291.4h0.8M228.3 280.0h0.8M260.8 293.0h0.8M274.1 278.8h0.8M249.9 285.3h0.8M253.2 284.9h0.8M258.3 292.9h0.8M241.0 286.0h0.8M222.9 291.2h0.8M265.5 285.8h0.8M277.7 280.6h0.8M225.5 286.5h0.8M255.5 287.0h0.8M279.6 290.2h0.8M280.0 280.7h0.8M231.0 281.8h0.8M259.0 279.2h0.8M279.0 280.3h0.8M268.7 281.2h0.8M256.8 279.2h0.8M253.8 283.3h0.8M267.7 283.8h0.8M253.8 289.5h0.8M243.1 288.1h0.8M275.6 287.7h0.8M232.4 289.7h0.8M223.4 289.5h0.8M263.2 292.9h0.8M266.0 283.5h0.8M258.3 284.5h0.8M254.6 292.8h0.8M222.1 280.0h0.8M230.0 288.4h0.8M220.0 292.7h0.8M265.3 281.4h0.8M271.0 281.3h0.8M227.1 287.8h0.8M269.9 279.3h0.8M265.4 280.5h0.8M215.7 278.6h0.8M222.6 289.9h0.8M217.0 286.4h0.8M236.1 290.0h0.8M274.9 288.4h0.8M257.6 281.6h0.8M279.4 282.6h0.8M224.7 292.6h0.8M216.6 282.0h0.8M231.9 286.5h0.8M240.7 283.8h0.8M258.7 291.9h0.8M256.2 282.2h0.8M253.1 283.5h0.8M269.2 282.3h0.8M273.6 280.6h0.8M262.6 280.8h0.8M258.2 287.9h0.8M226.6 291.1h0.8M225.4 291.6h0.8M216.8 281.4h0.8M248.9 278.9h0.8M269.5 284.6h0.8M257.8 281.7h0.8M244.3 283.8h0.8M254.5 288.2h0.8M250.8 285.5h0.8M237.7 283.5h0.8M237.7 282.2h0.8M226.6 280.8h0.8M272.2 281.3h0.8M232.6 290.4h0.8M216.8 281.5h0.8M246.5 291.3h0.8M267.2 280.4h0.8M265.9 286.8h0.8M238.3 279.2h0.8M272.9 281.0h0.8M270.5 290.3h0.8M275.4 290.0h0.8M224.3 288.0h0.8M268.3 285.0h0.8M245.7 292.9h0.8M247.7 288.5h0.8M275.2 287.4h0.8M250.2 284.5h0.8M223.6 280.7h0.8M254.0 291.3h0.8M219.0 286.5h0.8M279.8 283.7h0.8M262.0 286.6h0.8M228.4 278.8h0.8M274.7 278.5h0.8M248.7 282.5h0.8M240.0 293.4h0.8M272.9 283.1h0.8M216.7 289.3h0.8M228.2 282.2h0.8M219.9 289.0h0.8M271.0 279.6h0.8M231.6 278.4h0.8M228.0 284.4h0.8M269.2 289.8h0.8M239.0 282.4h0.8M242.4 283.9h0.8M219.0 287.9h0.8M271.1 288.8h0.8M277.6 280.4h0.8M233.4 293.7h0.8M262.8 279.5h0.8M243.9 290.8h0.8M234.1 293.1h0.8M243.4 283.1h0.8M278.3 288.3h0.8M244.2 289.5h0.8M240.7 288.7h0.8M267.6 278.8h0.8M240.3 288.7h0.8M216.5 282.9h0.8M263.3 283.7h0.8M249.1 291.5h0.8M237.0 287.1h0.8M253.4 283.3h0.8M226.1 283.6h0.8M223.0 281.5h0.8M244.6 280.5h0.8M251.1 281.7h0.8M215.6 284.0h0.8M228.9 283.9h0.8M228.2 285.9h0.8M216.2 292.4h0.8M256.1 278.7h0.8M267.7 279.7h0.8M224.2 286.2h0.8M265.6 293.2h0.8M238.9 279.3h0.8M225.0 287.9h0.8M253.2 293.0h0.8M275.8 281.5h0.8M252.2 291.1h0.8M254.1 285.0h0.8M275.9 283.6h0.8M231.4 284.7h0.8M254.9 288.6h0.8M225.3 293.2h0.8M217.9 292.3h0.8M238.7 286.4h0.8M253.4 293.2h0.8M226.4 284.2h0.8M279.5 285.8h0.8M272.7 281.0h0.8M229.2 293.3h0.8M236.8 285.8h0.8M221.2 290.3h0.8M267.1 282.4h0.8M256.4 278.6h0.8M258.9 280.2h0.8M277.7 292.6h0.8M220.0 282.2h0.8M236.1 286.7h0.8M264.7 292.8h0.8M263.4 278.3h0.8M270.0 283.6h0.8M254.5 291.1h0.8M231.7 290.1h0.8M218.6 279.8h0.8M246.3 279.2h0.8M274.7 278.0h0.8M238.2 286.0h0.8M237.3 285.6h0.8M249.5 286.8h0.8M249.1 290.8h0.8M233.2 290.4h0.8M252.8 287.1h0.8M259.9 279.5h0.8M216.7 289.2h0.8M259.0 282.2h0.8M262.4 290.9h0.8M270.2 278.7h0.8M225.8 280.0h0.8M276.3 285.8h0.8M244.6 281.5h0.8M230.5 288.3h0.8M253.5 286.7h0.8M271.9 292.8h0.8M252.0 283.8h0.8M230.8 282.8h0.8M235.3 284.9h0.8M222.8 293.6h0.8M230.6 293.1h0.8M217.2 284.8h0.8M228.2 281.1h0.8M243.2 284.0h0.8M275.8 293.2h0.8M219.9 285.5h0.8M236.6 283.7h0.8M229.3 293.1h0.8M243.5 293.8h0.8M218.3 279.9h0.8M231.3 290.0h0.8M246.5 289.7h0.8M260.8 279.9h0.8M274.1 289.8h0.8M248.9 291.0h0.8M237.3 284.1h0.8M248.8 289.7h0.8M232.1 278.8h0.8M219.8 291.1h0.8M245.7 286.5h0.8M245.2 289.2h0.8M277.3 278.4h0.8M234.4 291.9h0.8M257.0 291.0h0.8M236.3 284.3h0.8M269.4 284.1h0.8M243.8 279.4h0.8M223.7 291.5h0.8M254.3 293.3h0.8M236.4 278.3h0.8M219.4 287.4h0.8M219.6 286.8h0.8M217.0 289.6h0.8M256.5 288.0h0.8M259.6 289.4h0.8M261.4 290.1h0.8M241.3 283.3h0.8M264.2 290.1h0.8M236.4 282.3h0.8M263.6 288.7h0.8M231.3 283.3h0.8M255.3 278.4h0.8M255.3 285.1h0.8M278.4 278.5h0.8M272.6 279.6h0.8M273.5 286.3h0.8M235.8 286.6h0.8M261.1 289.7h0.8M264.7 288.8h0.8M232.2 284.4h0.8M227.3 293.2h0.8M248.9 293.5h0.8M261.9 281.1h0.8M216.2 289.2h0.8M273.6 282.9h0.8M258.5 286.0h0.8M253.9 287.6h0.8M224.6 284.5h0.8M240.7 282.8h0.8M278.4 290.3h0.8M217.4 291.0h0.8M224.3 278.7h0.8M259.3 291.3h0.8M217.5 279.1h0.8M235.9 288.5h0.8M247.1 280.6h0.8M221.2 280.8h0.8M244.3 293.7h0.8M218.4 281.0h0.8M256.0 287.8h0.8M235.2 278.4h0.8M220.1 278.7h0.8M260.4 286.6h0.8M224.0 289.5h0.8M252.7 285.5h0.8M265.4 289.2h0.8M230.3 290.9h0.8M217.0 290.9h0.8M256.1 279.5h0.8M273.5 292.0h0.8M279.2 284.5h0.8M227.6 289.6h0.8M227.6 291.1h0.8M264.6 293.2h0.8M274.8 286.9h0.8M225.5 286.1h0.8M255.6 291.2h0.8M255.0 288.8h0.8M237.4 281.7h0.8M228.1 281.0h0.8M217.0 279.7h0.8M227.8 291.5h0.8M276.6 290.3h0.8M278.9 282.5h0.8M223.0 290.5h0.8M219.6 288.9h0.8M240.1 279.6h0.8M221.4 280.3h0.8M244.4 293.7h0.8M251.2 279.7h0.8M270.5 278.6h0.8M240.3 284.0h0.8M230.1 293.3h0.8M232.4 282.6h0.8M272.5 292.1h0.8M248.4 283.5h0.8M219.7 282.8h0.8M278.4 281.3h0.8M247.5 281.0h0.8M229.0 286.5h0.8M221.5 290.6h0.8M273.4 282.6h0.8M234.7 290.4h0.8M216.6 286.2h0.8M275.3 284.4h0.8M273.8 292.3h0.8M231.4 287.1h0.8M219.5 279.0h0.8M232.4 278.2h0.8M261.0 278.9h0.8M272.9 286.0h0.8M277.0 290.2h0.8M226.1 287.8h0.8M277.6 285.7h0.8M279.0 285.2h0.8M261.7 286.6h0.8M266.1 279.7h0.8M266.3 285.8h0.8M225.0 278.3h0.8M263.6 286.2h0.8M217.9 282.2h0.8M263.3 285.6h0.8M218.7 293.6h0.8M232.9 292.9h0.8M254.1 280.2h0.8M271.6 278.5h0.8M217.5 280.7h0.8M217.7 293.7h0.8M229.0 293.5h0.8M231.1 282.1h0.8M234.9 287.6h0.8M233.7 286.9h0.8M231.0 283.9h0.8M231.5 280.5h0.8M219.4 290.2h0.8M227.7 280.4h0.8M239.8 284.4h0.8M230.9 292.5h0.8M227.8 284.4h0.8M235.7 282.9h0.8M221.5 280.1h0.8M225.0 287.7h0.8M225.0 291.6h0.8M224.8 293.8h0.8M229.9 290.3h0.8M233.8 287.0h0.8M229.3 290.0h0.8M223.5 283.9h0.8M240.2 283.9h0.8M215.5 285.9h0.8M215.7 289.1h0.8M225.0 289.3h0.8M230.1 282.5h0.8M235.3 284.5h0.8M215.5 281.3h0.8M222.8 285.1h0.8M227.3 288.2h0.8M231.4 280.8h0.8M239.8 280.6h0.8M228.6 280.0h0.8M215.8 291.6h0.8M216.3 283.9h0.8M225.4 286.0h0.8M231.7 282.5h0.8M225.2 280.9h0.8M220.7 284.9h0.8M216.2 289.2h0.8M238.4 293.0h0.8M232.6 285.9h0.8M227.2 292.9h0.8M241.6 286.8h0.8M221.0 287.6h0.8M239.7 287.0h0.8M225.9 282.0h0.8M229.3 293.3h0.8M223.9 279.8h0.8M220.6 283.7h0.8M233.8 281.3h0.8M221.2 292.8h0.8M237.8 285.7h0.8M237.6 284.9h0.8M224.4 281.3h0.8M218.6 285.4h0.8M242.3 291.2h0.8M234.5 292.1h0.8M218.1 283.8h0.8M218.7 287.7h0.8M229.7 283.6h0.8M229.0 286.9h0.8M242.4 292.1h0.8M232.5 287.5h0.8M220.6 283.2h0.8M238.1 289.6h0.8M216.8 286.2h0.8M235.0 290.1h0.8M233.8 290.1h0.8M223.0 290.0h0.8M240.8 284.2h0.8M219.6 281.7h0.8M239.9 283.3h0.8M234.9 284.4h0.8M238.8 283.6h0.8M222.1 282.7h0.8M237.5 291.7h0.8M216.0 290.2h0.8M236.2 293.3h0.8M221.5 288.0h0.8M223.4 287.9h0.8M216.5 293.5h0.8M226.4 283.9h0.8M241.8 293.7h0.8M216.2 286.2h0.8M218.0 283.7h0.8M218.5 284.6h0.8M235.5 288.5h0.8M236.7 289.8h0.8M228.3 289.3h0.8M239.4 280.6h0.8M223.1 288.1h0.8M230.8 291.7h0.8M231.0 292.3h0.8M218.2 289.7h0.8M237.2 284.3h0.8M241.7 286.9h0.8M224.3 280.4h0.8M217.5 292.7h0.8M233.2 286.8h0.8M229.3 284.7h0.8M239.8 293.3h0.8M236.4 282.7h0.8M225.6 293.7h0.8M237.5 285.8h0.8M242.0 286.6h0.8M231.0 279.7h0.8M223.2 289.3h0.8M228.2 292.4h0.8M216.8 289.9h0.8M229.4 290.3h0.8M227.4 292.0h0.8M238.7 283.7h0.8M230.0 282.6h0.8M233.1 282.4h0.8M229.2 283.9h0.8M238.5 287.5h0.8M223.1 280.7h0.8M229.9 284.2h0.8M239.3 282.0h0.8M239.1 291.3h0.8M223.8 288.3h0.8M233.7 282.4h0.8M232.9 283.5h0.8M220.7 282.1h0.8M226.6 288.2h0.8M227.4 285.2h0.8M229.6 284.0h0.8M236.7 281.7h0.8M223.0 281.6h0.8M229.8 290.2h0.8M242.8 292.5h0.8M234.8 293.0h0.8M235.7 288.3h0.8M241.2 291.1h0.8M220.3 286.1h0.8M227.5 291.3h0.8M237.9 285.3h0.8M240.7 288.8h0.8M215.5 290.5h0.8M236.0 280.4h0.8M226.6 291.1h0.8M223.4 291.1h0.8M222.3 292.5h0.8M229.0 283.3h0.8M229.0 289.7h0.8M231.1 287.6h0.8M221.9 285.9h0.8M221.9 289.8h0.8M224.2 288.0h0.8M234.5 290.1h0.8M217.0 293.7h0.8M224.0 283.5h0.8M235.1 282.1h0.8M237.9 282.0h0.8M224.3 292.8h0.8M224.7 286.6h0.8M239.3 286.7h0.8M228.7 286.4h0.8M221.2 292.7h0.8M225.9 285.0h0.8M228.3 283.0h0.8M229.8 290.0h0.8M238.3 292.6h0.8M228.4 290.1h0.8M229.0 282.4h0.8M222.7 292.0h0.8M242.7 290.2h0.8M240.1 285.9h0.8M225.1 291.3h0.8M234.3 292.6h0.8M232.9 281.5h0.8M242.6 289.0h0.8M234.1 282.1h0.8M239.7 293.5h0.8M226.7 288.8h0.8M241.5 280.6h0.8M219.4 285.4h0.8M216.0 292.7h0.8M222.3 284.3h0.8M218.7 293.3h0.8M233.2 286.7h0.8M218.2 282.4h0.8M233.8 288.8h0.8M217.4 280.3h0.8M216.4 290.2h0.8M241.2 291.0h0.8M226.4 291.6h0.8M238.0 291.1h0.8M240.7 283.9h0.8M232.3 281.3h0.8M237.6 285.9h0.8M229.8 285.1h0.8M236.8 285.3h0.8M229.4 292.1h0.8M220.5 280.3h0.8M215.8 292.7h0.8M236.6 280.0h0.8M231.8 283.8h0.8M230.4 285.2h0.8M221.4 293.3h0.8M234.4 288.3h0.8M228.6 286.6h0.8M236.1 284.9h0.8M231.1 292.2h0.8M226.6 289.9h0.8M217.9 291.4h0.8M229.1 289.9h0.8M226.1 285.8h0.8M229.5 284.7h0.8M241.2 290.2h0.8M238.0 279.8h0.8M241.5 288.5h0.8M236.7 289.7h0.8M236.7 281.8h0.8M234.7 286.4h0.8M227.1 284.4h0.8M216.8 283.3h0.8M234.9 284.3h0.8" stroke="#000" stroke-width="0.75" stroke-opacity="0.70" fill="none"/>
<path d="M242.5 273.0h0.7M254.0 264.2h0.7M256.6 262.5h0.7M247.1 270.5h0.7M255.1 262.9h0.7M236.8 276.6h0.7M252.9 265.9h0.7M234.2 280.4h0.7M249.9 269.8h0.7M252.3 266.6h0.7M247.7 268.1h0.7M255.0 264.8h0.7M247.1 272.1h0.7M254.1 265.8h0.7M251.0 266.4h0.7M249.2 266.1h0.7M238.6 277.8h0.7M256.4 263.1h0.7M246.0 270.9h0.7M256.9 260.7h0.7" stroke="#000" stroke-width="0.70" stroke-opacity="0.25" fill="none"/>
<text x="240.95" y="249.40" text-anchor="end" class="p">&lt;1%</text>
<text x="300.85" y="249.40" text-anchor="end" class="p">&lt;1%</text>
<path d="M214.50 312.80H303.00" stroke="#9a9a9a" stroke-width="0.8" fill="none"/><path d="M303.00 312.80V370.40" stroke="#dcdcdc" stroke-width="0.8" fill="none"/>
<line x1="214.50" y1="370.40" x2="303.00" y2="370.40" stroke="#777" stroke-width="0.9" stroke-dasharray="0.9 1.4"/>
<line x1="214.50" y1="312.30" x2="214.50" y2="371.20" stroke="#8a8a8a" stroke-width="1" stroke-dasharray="1.1 0.8"/>
<line x1="214.50" y1="352.50" x2="303.00" y2="352.50" stroke="#5a5a5a" stroke-width="0.9"/>
<line x1="239.50" y1="312.80" x2="239.50" y2="370.40" stroke="#8a8a8a" stroke-width="0.9"/>
<text class="k" transform="translate(212.10 313.10) rotate(-90)" text-anchor="middle">10<tspan dy="-1" font-size="2.2">4</tspan></text>
<text class="k" transform="translate(212.10 327.50) rotate(-90)" text-anchor="middle">10<tspan dy="-1" font-size="2.2">3</tspan></text>
<text class="k" transform="translate(212.10 341.90) rotate(-90)" text-anchor="middle">10<tspan dy="-1" font-size="2.2">2</tspan></text>
<text class="k" transform="translate(212.10 356.30) rotate(-90)" text-anchor="middle">10<tspan dy="-1" font-size="2.2">1</tspan></text>
<text class="k" transform="translate(212.10 370.70) rotate(-90)" text-anchor="middle">10<tspan dy="-1" font-size="2.2">0</tspan></text>
<text class="k" transform="translate(207.90 343.90) rotate(-90)" text-anchor="middle">FL2-H</text>
<text class="k" x="214.50" y="375.00" text-anchor="middle">10<tspan dy="-1" font-size="2.2">0</tspan></text>
<text class="k" x="236.62" y="375.00" text-anchor="middle">10<tspan dy="-1" font-size="2.2">1</tspan></text>
<text class="k" x="258.75" y="375.00" text-anchor="middle">10<tspan dy="-1" font-size="2.2">2</tspan></text>
<text class="k" x="280.88" y="375.00" text-anchor="middle">10<tspan dy="-1" font-size="2.2">3</tspan></text>
<text class="k" x="303.00" y="375.00" text-anchor="middle">10<tspan dy="-1" font-size="2.2">4</tspan></text>
<text class="k2" x="260.52" y="378.40" text-anchor="middle">FL1-H</text>
<ellipse cx="226.3" cy="360.5" rx="10.5" ry="3.5" transform="rotate(-30.0 226.3 360.5)" fill="#000" fill-opacity="0.95" filter="url(#b12)"/>
<ellipse cx="268.0" cy="362.5" rx="4.2" ry="3.5" transform="rotate(0.0 268.0 362.5)" fill="#000" fill-opacity="0.45" filter="url(#b12)"/>
<path d="M226.5 359.9h0.8M217.7 362.9h0.8M234.4 353.0h0.8M224.6 365.6h0.8M218.5 367.6h0.8M228.7 359.6h0.8M225.2 363.9h0.8M229.5 356.9h0.8M227.1 359.7h0.8M221.6 360.6h0.8M229.4 356.1h0.8M222.5 361.3h0.8M223.4 365.5h0.8M227.6 357.1h0.8M234.0 354.2h0.8M215.2 366.4h0.8M238.3 357.7h0.8M221.5 359.9h0.8M238.7 362.4h0.8M225.2 360.3h0.8M216.3 364.8h0.8M230.3 358.5h0.8M218.0 363.3h0.8M225.5 359.5h0.8M224.6 358.0h0.8M230.9 364.1h0.8M230.2 354.3h0.8M231.4 359.8h0.8M220.4 365.9h0.8M225.9 359.7h0.8M230.0 361.2h0.8M227.4 362.1h0.8M235.0 350.0h0.8M230.9 361.1h0.8M230.2 360.7h0.8M224.1 362.2h0.8M218.2 362.9h0.8M223.3 361.0h0.8M229.0 350.6h0.8M230.8 361.1h0.8M232.9 350.6h0.8M230.1 362.1h0.8M231.1 358.5h0.8M229.0 363.4h0.8M225.8 356.8h0.8M228.6 356.4h0.8M220.2 363.3h0.8M227.6 352.0h0.8M219.5 360.1h0.8M225.9 362.1h0.8M221.0 359.3h0.8M228.3 361.8h0.8M233.0 354.1h0.8M223.7 362.1h0.8M229.0 361.1h0.8M227.2 358.9h0.8M216.8 365.6h0.8M224.6 360.3h0.8M223.5 361.6h0.8M226.0 361.5h0.8M233.0 358.6h0.8M223.2 360.6h0.8M222.7 360.7h0.8M215.9 364.5h0.8M223.4 358.9h0.8M241.4 352.3h0.8M235.0 358.7h0.8M228.3 363.2h0.8M217.2 361.7h0.8M221.0 361.3h0.8M222.5 361.8h0.8M226.8 360.8h0.8M224.7 365.2h0.8M242.8 350.0h0.8M234.7 351.9h0.8M226.1 364.4h0.8M230.7 361.3h0.8M231.9 357.3h0.8M227.6 358.5h0.8M220.4 359.7h0.8M242.0 350.0h0.8M227.7 354.6h0.8M232.6 355.9h0.8M226.2 360.0h0.8M238.3 354.7h0.8M224.1 364.9h0.8M234.2 352.8h0.8M227.5 359.3h0.8M224.2 362.2h0.8M219.3 368.6h0.8M227.4 357.1h0.8M229.9 360.9h0.8M223.2 365.1h0.8M233.5 355.5h0.8M223.4 367.2h0.8M226.7 356.8h0.8M228.0 361.0h0.8M216.3 365.0h0.8M227.8 359.8h0.8M223.0 363.7h0.8M228.8 365.8h0.8M230.7 363.4h0.8M215.0 363.1h0.8M216.1 360.5h0.8M228.6 360.2h0.8M220.9 363.2h0.8M230.1 361.1h0.8M223.7 360.3h0.8M227.1 361.4h0.8M224.1 356.2h0.8M231.0 355.4h0.8M231.5 353.3h0.8M217.9 360.1h0.8M230.9 356.9h0.8M227.9 366.6h0.8M224.7 359.5h0.8M218.3 367.8h0.8M229.8 357.2h0.8M238.7 357.1h0.8M228.6 355.2h0.8M236.5 358.6h0.8M225.2 361.4h0.8M224.8 357.0h0.8M233.2 359.3h0.8M224.0 362.7h0.8M230.2 353.8h0.8M225.3 356.2h0.8M219.9 361.6h0.8M231.6 353.3h0.8M215.5 366.5h0.8M223.8 369.2h0.8M224.1 363.0h0.8M224.4 358.6h0.8M235.0 356.8h0.8M216.5 364.1h0.8M225.3 358.2h0.8M222.3 363.8h0.8M225.1 353.4h0.8M225.9 358.2h0.8M234.0 365.3h0.8M230.6 354.5h0.8M233.5 356.7h0.8M228.8 361.0h0.8M226.7 357.3h0.8M227.8 357.4h0.8M237.3 359.9h0.8M220.5 363.8h0.8M228.2 357.1h0.8M242.0 347.3h0.8M224.7 365.8h0.8M217.1 369.3h0.8M228.7 358.8h0.8M241.1 355.1h0.8M215.8 366.1h0.8M230.1 357.0h0.8M229.5 355.3h0.8M221.2 366.0h0.8M220.8 361.9h0.8M218.8 364.0h0.8M221.9 365.3h0.8M230.7 361.9h0.8M222.9 356.5h0.8M232.9 357.1h0.8M228.5 361.2h0.8M236.2 356.4h0.8M221.4 356.1h0.8M228.9 360.4h0.8M231.7 354.7h0.8M229.6 361.5h0.8M233.9 361.0h0.8M227.0 359.3h0.8M235.7 357.3h0.8M214.9 364.7h0.8M224.1 364.2h0.8M226.3 362.8h0.8M232.3 356.4h0.8M226.0 361.0h0.8M233.8 352.0h0.8M221.3 361.7h0.8M219.1 355.7h0.8M234.2 357.3h0.8M223.8 361.7h0.8M221.7 360.0h0.8M240.7 350.1h0.8M219.2 369.2h0.8M220.7 362.9h0.8M231.0 358.8h0.8M221.2 364.0h0.8M236.0 349.8h0.8M219.3 364.8h0.8M231.3 362.0h0.8M224.4 363.8h0.8M219.5 359.5h0.8M219.1 360.8h0.8M235.5 356.8h0.8M230.0 365.1h0.8M214.7 362.7h0.8M231.5 357.5h0.8M220.6 369.7h0.8M227.5 361.0h0.8M234.4 352.4h0.8M228.6 355.7h0.8M218.5 357.7h0.8M223.2 365.3h0.8M239.1 355.2h0.8M242.0 358.3h0.8M229.1 354.1h0.8M231.3 362.1h0.8M221.5 363.5h0.8M228.1 361.1h0.8M228.4 354.7h0.8M226.4 362.1h0.8M222.1 364.5h0.8M231.5 356.2h0.8M226.1 365.8h0.8M229.0 365.2h0.8M230.3 360.9h0.8M220.4 358.9h0.8M219.6 361.2h0.8M225.4 358.3h0.8M232.5 363.6h0.8M217.6 364.3h0.8M221.6 366.4h0.8M228.9 360.7h0.8M231.8 357.6h0.8M225.8 359.5h0.8M226.2 362.3h0.8M231.1 363.1h0.8M222.3 364.1h0.8M218.4 360.4h0.8M234.3 355.5h0.8M233.4 359.0h0.8M226.1 364.0h0.8M223.1 357.3h0.8M231.8 359.2h0.8M227.0 363.9h0.8M223.7 362.9h0.8M230.0 355.9h0.8M222.7 362.4h0.8M219.7 362.5h0.8M222.3 363.3h0.8M216.2 364.3h0.8M222.6 358.9h0.8M227.9 356.5h0.8M225.8 359.9h0.8M227.7 360.3h0.8M223.7 357.0h0.8M221.2 357.4h0.8M225.3 361.2h0.8M224.6 357.5h0.8M224.0 363.6h0.8M238.5 352.3h0.8M229.8 362.0h0.8M224.4 360.8h0.8M229.2 359.4h0.8M234.9 357.9h0.8M221.9 366.5h0.8M224.1 360.0h0.8M221.5 364.8h0.8M227.3 359.0h0.8M224.2 365.0h0.8M230.7 355.9h0.8M216.8 362.3h0.8M234.5 360.4h0.8M229.7 349.5h0.8M228.0 364.5h0.8M223.4 360.8h0.8M227.6 358.6h0.8M243.0 353.8h0.8M219.3 360.0h0.8M221.7 366.1h0.8M229.3 352.6h0.8M222.6 356.5h0.8M222.9 361.6h0.8M217.8 365.3h0.8M224.0 360.3h0.8M226.7 358.3h0.8M215.1 367.3h0.8M232.3 358.5h0.8M236.0 356.5h0.8M224.8 362.7h0.8M215.2 369.2h0.8M241.6 350.2h0.8M230.3 362.6h0.8M227.9 357.5h0.8M225.9 357.0h0.8M220.7 364.6h0.8M220.6 361.9h0.8M233.3 356.6h0.8M226.5 354.9h0.8M223.5 359.1h0.8M228.5 361.7h0.8M219.2 367.3h0.8M223.0 361.8h0.8M233.0 356.4h0.8M232.7 361.8h0.8M217.3 359.0h0.8M225.1 360.0h0.8M219.6 360.2h0.8M229.8 360.0h0.8M227.6 360.4h0.8M232.7 353.3h0.8M224.5 366.6h0.8M218.3 365.0h0.8M229.4 358.7h0.8M218.9 369.2h0.8M217.0 363.2h0.8M226.5 357.2h0.8M235.6 364.4h0.8M221.7 356.6h0.8M219.4 365.2h0.8M225.0 357.8h0.8M218.2 363.0h0.8M220.5 359.6h0.8M216.0 365.7h0.8M226.9 358.7h0.8M232.3 359.0h0.8M222.5 362.8h0.8M222.0 360.6h0.8M227.4 363.3h0.8M216.9 369.3h0.8M226.4 364.0h0.8M221.2 362.3h0.8M218.9 362.2h0.8M226.6 357.1h0.8M221.0 363.0h0.8M232.5 352.6h0.8M224.3 364.7h0.8M230.4 365.1h0.8M224.8 360.3h0.8M226.9 355.3h0.8M229.0 360.0h0.8M216.4 364.4h0.8M228.9 358.5h0.8M225.0 361.4h0.8M233.0 360.4h0.8M222.3 364.6h0.8M230.9 353.4h0.8M229.6 355.4h0.8M225.1 367.8h0.8M219.3 360.9h0.8M229.8 356.4h0.8M227.4 356.5h0.8M222.2 359.5h0.8M235.2 355.7h0.8M231.5 361.8h0.8M227.4 355.3h0.8M227.4 365.1h0.8M221.0 364.0h0.8M221.5 367.5h0.8M222.9 359.3h0.8M226.5 360.7h0.8M226.5 359.5h0.8M224.2 360.5h0.8M218.5 366.1h0.8M218.6 363.6h0.8M237.8 356.6h0.8M231.5 356.3h0.8M221.1 361.8h0.8M231.6 359.2h0.8M236.8 353.3h0.8M235.0 357.0h0.8M217.3 368.5h0.8M229.9 360.5h0.8M227.7 357.7h0.8M220.8 358.3h0.8M234.3 359.3h0.8M223.7 359.2h0.8M223.5 357.3h0.8M221.4 359.7h0.8M225.3 359.2h0.8M222.6 358.2h0.8M216.4 366.7h0.8M228.2 362.4h0.8M219.6 365.1h0.8M228.4 356.1h0.8M233.9 352.8h0.8M231.0 355.1h0.8M230.9 357.5h0.8M223.3 357.6h0.8M237.2 355.3h0.8M226.1 358.3h0.8M219.1 363.2h0.8M229.4 363.7h0.8M231.3 359.1h0.8M230.1 366.7h0.8M229.6 356.6h0.8M233.3 358.3h0.8M223.0 362.5h0.8M222.8 364.0h0.8M229.8 356.4h0.8M224.6 358.6h0.8M230.9 363.4h0.8M220.8 363.4h0.8M227.7 355.1h0.8M217.1 367.3h0.8M224.2 363.4h0.8M229.7 360.5h0.8M224.6 358.7h0.8M225.1 361.6h0.8M225.7 362.7h0.8M227.0 361.9h0.8M228.6 357.1h0.8M229.0 361.6h0.8M230.5 357.9h0.8M223.4 361.1h0.8M218.7 362.4h0.8M217.9 361.9h0.8M228.2 355.8h0.8M230.3 357.2h0.8M223.6 356.5h0.8M226.6 361.1h0.8M230.7 363.3h0.8M232.0 356.7h0.8M234.7 353.0h0.8M221.4 359.9h0.8M232.8 361.4h0.8M229.0 354.5h0.8M231.3 358.2h0.8M217.7 368.2h0.8M234.7 360.3h0.8M229.0 363.3h0.8M220.6 366.5h0.8M226.0 358.2h0.8M233.1 359.0h0.8M244.0 351.5h0.8M233.5 353.3h0.8M241.2 357.3h0.8M230.7 354.1h0.8M221.2 363.6h0.8M230.5 354.2h0.8M218.4 363.2h0.8M241.6 354.3h0.8M226.0 357.7h0.8M227.5 358.9h0.8M216.2 366.7h0.8M227.8 353.8h0.8M228.0 350.9h0.8M221.4 364.0h0.8M221.0 362.3h0.8M215.1 366.4h0.8M221.6 363.2h0.8M220.0 363.6h0.8M224.7 361.1h0.8M223.8 359.8h0.8M232.4 359.5h0.8M234.0 357.5h0.8M225.4 362.7h0.8M217.5 367.2h0.8M231.2 357.3h0.8M233.8 352.3h0.8M225.7 360.6h0.8M230.4 360.4h0.8M220.1 364.8h0.8M235.5 357.7h0.8M233.1 357.9h0.8M221.3 366.9h0.8M224.3 360.5h0.8M218.7 365.4h0.8M226.9 362.8h0.8M227.4 360.3h0.8M229.9 353.2h0.8M227.6 361.9h0.8M227.2 361.3h0.8M225.5 355.6h0.8M221.4 361.2h0.8M224.4 362.1h0.8M220.7 359.9h0.8M230.2 358.2h0.8M225.4 357.8h0.8M215.3 367.5h0.8M223.9 361.3h0.8M227.1 358.2h0.8M224.5 357.9h0.8M219.7 365.6h0.8M216.9 361.4h0.8M221.5 362.9h0.8M220.5 358.4h0.8M226.7 359.0h0.8M224.7 366.5h0.8M217.0 365.1h0.8M228.9 367.2h0.8M231.4 360.5h0.8M223.2 363.0h0.8M233.7 355.4h0.8M233.2 353.8h0.8M217.7 361.8h0.8M228.9 359.6h0.8M222.6 360.6h0.8M217.4 361.1h0.8M222.8 357.9h0.8M223.2 362.9h0.8M234.8 365.8h0.8M225.6 358.1h0.8M226.3 366.3h0.8M223.7 356.1h0.8M230.1 357.9h0.8M226.8 361.7h0.8M221.7 359.8h0.8M228.0 359.6h0.8M214.9 366.6h0.8M232.0 356.4h0.8M222.3 360.5h0.8M229.1 357.7h0.8M223.2 364.3h0.8M222.6 360.2h0.8M228.6 359.1h0.8M228.8 360.8h0.8M232.8 352.9h0.8M226.9 359.3h0.8M214.9 363.4h0.8M237.5 358.0h0.8M226.5 364.8h0.8M233.7 356.1h0.8M233.3 354.6h0.8M220.6 358.3h0.8M224.9 365.2h0.8M216.5 364.7h0.8M225.7 356.3h0.8M215.1 365.6h0.8M235.1 353.3h0.8M231.0 359.3h0.8M229.7 358.8h0.8M225.5 362.0h0.8M227.5 363.0h0.8M221.9 359.8h0.8M223.1 361.4h0.8M223.0 362.2h0.8M232.4 359.6h0.8M217.4 363.0h0.8M224.9 355.6h0.8M231.5 361.3h0.8M227.1 355.4h0.8M221.4 366.6h0.8M220.8 358.7h0.8M221.5 368.8h0.8M223.1 363.1h0.8M226.9 359.1h0.8M224.0 365.2h0.8M226.1 361.1h0.8M226.1 361.1h0.8M230.5 358.0h0.8M230.3 360.3h0.8M230.1 359.4h0.8M234.0 362.2h0.8M225.3 363.6h0.8M232.2 357.6h0.8M226.2 358.8h0.8M231.9 354.0h0.8M225.1 355.7h0.8M234.1 355.9h0.8M224.7 355.5h0.8M218.0 366.2h0.8M221.1 359.3h0.8M229.7 363.4h0.8M224.5 356.3h0.8M227.0 356.3h0.8M221.9 359.1h0.8M223.5 362.3h0.8M215.3 366.6h0.8M231.6 357.2h0.8M230.3 353.9h0.8M231.5 357.2h0.8M222.8 365.0h0.8M220.8 360.4h0.8M224.9 359.7h0.8M219.6 366.5h0.8M235.9 351.0h0.8M229.3 354.5h0.8M224.5 360.4h0.8M222.0 360.6h0.8M232.3 357.9h0.8M228.1 360.6h0.8M227.6 359.2h0.8M232.8 359.4h0.8M218.2 362.0h0.8M238.1 350.2h0.8M222.5 362.6h0.8M228.4 355.4h0.8M217.5 367.0h0.8M229.2 357.8h0.8M237.6 355.9h0.8M226.1 355.2h0.8M216.4 364.7h0.8M221.5 362.5h0.8M226.1 364.7h0.8M229.1 353.1h0.8M229.9 358.5h0.8M220.8 358.9h0.8M226.2 358.2h0.8M225.3 360.3h0.8M216.3 364.6h0.8M217.0 358.8h0.8M227.5 358.9h0.8M240.4 359.1h0.8M227.4 364.2h0.8M227.0 361.7h0.8M218.6 366.3h0.8M229.9 358.8h0.8M215.0 365.0h0.8M226.2 356.6h0.8M229.0 358.9h0.8M264.7 359.0h0.8M263.5 365.2h0.8M260.3 358.5h0.8M265.4 366.6h0.8M267.7 351.8h0.8M263.0 361.8h0.8M271.4 364.8h0.8M265.8 360.9h0.8M266.9 363.2h0.8M260.0 361.6h0.8M262.4 364.5h0.8M271.8 366.0h0.8M262.8 359.5h0.8M269.3 364.7h0.8M271.5 362.0h0.8M265.5 365.6h0.8M267.3 366.7h0.8M265.7 354.6h0.8M266.4 365.6h0.8M273.5 363.8h0.8M265.3 363.0h0.8M274.1 361.5h0.8M276.3 365.9h0.8M267.5 357.1h0.8M264.6 366.1h0.8M265.2 366.4h0.8M267.1 362.2h0.8M270.1 365.3h0.8M262.8 363.6h0.8M260.2 362.0h0.8M272.9 358.2h0.8M272.1 360.4h0.8M268.8 367.7h0.8M268.1 367.2h0.8M264.8 364.9h0.8M266.8 364.1h0.8M267.5 365.6h0.8M266.6 366.3h0.8M265.5 358.8h0.8M266.2 357.8h0.8M263.6 365.3h0.8M266.2 365.4h0.8M263.6 359.5h0.8M270.7 362.0h0.8M271.2 365.7h0.8M267.5 370.2h0.8M276.3 368.1h0.8M267.6 360.8h0.8M268.1 365.1h0.8M263.4 362.2h0.8M268.4 366.6h0.8M263.6 366.8h0.8M268.9 363.0h0.8M264.5 364.3h0.8M274.4 359.8h0.8M265.9 364.2h0.8M260.5 357.4h0.8M269.2 360.5h0.8M280.6 368.5h0.8M271.3 364.2h0.8M270.7 358.7h0.8M270.6 357.3h0.8M270.7 369.7h0.8M264.4 364.2h0.8M266.3 362.4h0.8M262.3 367.0h0.8M266.4 360.2h0.8M266.8 358.6h0.8M272.4 362.3h0.8M268.5 357.7h0.8M266.8 361.0h0.8M273.2 365.4h0.8M267.7 360.3h0.8M276.6 364.4h0.8M265.5 362.2h0.8M260.0 364.3h0.8M264.0 358.6h0.8M267.0 363.5h0.8M271.9 356.9h0.8M269.4 363.4h0.8M263.5 360.5h0.8M266.3 361.8h0.8M265.5 362.8h0.8M266.7 359.5h0.8M273.8 356.5h0.8M268.0 363.3h0.8M268.4 366.5h0.8M269.0 363.0h0.8M267.2 359.2h0.8M263.2 364.5h0.8M277.6 364.3h0.8M264.1 366.1h0.8M266.1 361.2h0.8M264.2 363.2h0.8M269.0 358.2h0.8M271.9 362.2h0.8M267.2 365.8h0.8M273.6 362.5h0.8M267.6 366.0h0.8M266.1 359.9h0.8M266.5 363.8h0.8M283.4 364.6h0.8M264.1 365.9h0.8M264.4 360.1h0.8M280.0 357.8h0.8M266.6 364.5h0.8M268.6 361.5h0.8M262.1 366.1h0.8M259.1 358.4h0.8M260.8 358.9h0.8M265.9 362.7h0.8M265.0 365.2h0.8M268.2 362.0h0.8M269.5 362.7h0.8M264.4 361.8h0.8M262.6 366.7h0.8M262.1 359.5h0.8M266.4 363.8h0.8M266.7 362.2h0.8M267.4 361.7h0.8M268.9 359.0h0.8M273.3 358.7h0.8M267.2 364.1h0.8M265.0 364.9h0.8M273.3 355.1h0.8M266.6 364.9h0.8M265.5 361.8h0.8M268.1 363.3h0.8M268.3 368.4h0.8M271.2 361.0h0.8M263.9 363.6h0.8M267.0 359.3h0.8M265.3 363.3h0.8M273.3 362.8h0.8M268.5 364.0h0.8M261.0 364.0h0.8M264.2 368.1h0.8M273.1 364.3h0.8M273.3 361.0h0.8M267.7 361.9h0.8M269.6 359.9h0.8M269.0 361.9h0.8M265.1 357.0h0.8M271.6 358.9h0.8M267.1 356.8h0.8M260.1 363.6h0.8M259.9 355.9h0.8M262.8 363.9h0.8M266.2 358.7h0.8M268.2 362.3h0.8M266.9 365.7h0.8M271.3 358.7h0.8M265.2 367.2h0.8M272.3 362.7h0.8M272.7 362.0h0.8M263.6 367.9h0.8M264.3 364.9h0.8M273.1 362.7h0.8M278.5 361.9h0.8M265.6 360.7h0.8M266.9 364.1h0.8M262.0 363.0h0.8M267.6 361.6h0.8M269.6 364.6h0.8M272.4 363.3h0.8M274.2 365.0h0.8M265.8 362.1h0.8M268.5 366.4h0.8M263.3 367.5h0.8M265.8 365.1h0.8M271.6 363.7h0.8M265.6 362.7h0.8M264.5 363.5h0.8M269.3 356.8h0.8M260.2 364.2h0.8M269.6 358.1h0.8M265.4 363.8h0.8M271.8 367.7h0.8M263.4 364.8h0.8M260.9 357.9h0.8M264.1 356.8h0.8M266.6 361.5h0.8M272.0 362.8h0.8M257.6 360.2h0.8M270.6 363.2h0.8M274.8 362.8h0.8M262.5 360.8h0.8M262.5 369.2h0.8M266.0 362.1h0.8M272.2 362.5h0.8M268.4 360.8h0.8M269.1 365.1h0.8M268.8 362.5h0.8M269.3 364.3h0.8M267.4 361.7h0.8M266.8 359.5h0.8M262.9 361.6h0.8M269.8 361.0h0.8M272.8 357.3h0.8M264.5 360.0h0.8M266.5 360.9h0.8M267.7 365.2h0.8M260.2 366.4h0.8M264.4 362.3h0.8M259.7 357.0h0.8M255.4 361.9h0.8M264.0 365.6h0.8M269.9 362.2h0.8M263.0 361.5h0.8M266.9 363.5h0.8M256.8 364.6h0.8M266.4 359.7h0.8M267.7 356.2h0.8M259.5 360.5h0.8M272.1 357.3h0.8M265.4 356.0h0.8M261.7 361.6h0.8M267.6 361.6h0.8M261.9 361.4h0.8M258.3 362.4h0.8M269.5 363.7h0.8M267.5 359.8h0.8M263.4 362.5h0.8M267.1 360.8h0.8M261.9 365.9h0.8M271.5 366.4h0.8M276.2 367.1h0.8M264.7 362.4h0.8M275.6 360.7h0.8M267.1 363.0h0.8M273.2 366.3h0.8M270.0 361.9h0.8M270.7 364.1h0.8M265.9 368.4h0.8M269.1 361.2h0.8M266.1 357.9h0.8M267.0 360.9h0.8M266.4 364.6h0.8M267.6 359.3h0.8M264.8 362.5h0.8M271.8 368.7h0.8M264.5 362.4h0.8M261.1 362.8h0.8M267.8 362.3h0.8M265.7 359.4h0.8M259.5 363.4h0.8M274.3 367.3h0.8M260.3 365.3h0.8M270.4 366.3h0.8M274.6 362.3h0.8M268.0 362.4h0.8M268.3 364.5h0.8M263.3 358.6h0.8M266.7 361.8h0.8M259.9 358.9h0.8M280.7 364.8h0.8M272.6 363.3h0.8M267.9 361.8h0.8M271.8 361.7h0.8M266.5 359.1h0.8M263.3 358.8h0.8M266.6 362.1h0.8M266.2 359.3h0.8M271.1 360.1h0.8M265.9 362.1h0.8M259.9 365.2h0.8M272.1 362.5h0.8M267.8 365.3h0.8M265.6 361.7h0.8M269.0 363.9h0.8M269.9 364.2h0.8M268.0 363.5h0.8M263.1 363.5h0.8M259.6 363.8h0.8M273.3 369.9h0.8M266.9 367.8h0.8M264.3 361.6h0.8M263.8 363.6h0.8M269.0 360.0h0.8" stroke="#000" stroke-width="0.75" stroke-opacity="1.00" fill="none"/>
<path d="M259.6 360.6h0.8M277.0 364.6h0.8M254.9 368.4h0.8M273.6 364.7h0.8M240.6 369.2h0.8M271.5 361.2h0.8M238.7 369.3h0.8M264.6 358.3h0.8M223.9 355.0h0.8M256.9 363.7h0.8M232.2 364.4h0.8M236.3 360.0h0.8M218.7 366.8h0.8M240.0 354.3h0.8M228.1 365.5h0.8M265.7 362.6h0.8M234.5 357.1h0.8M223.6 358.8h0.8M274.8 354.0h0.8M253.6 357.1h0.8M229.7 363.8h0.8M272.2 366.0h0.8M236.8 355.4h0.8M230.4 364.5h0.8M243.1 356.9h0.8M256.6 363.6h0.8M241.1 368.6h0.8M249.0 366.1h0.8M230.9 361.9h0.8M231.2 355.5h0.8M251.9 360.6h0.8M235.1 368.8h0.8M254.2 369.3h0.8M272.4 356.1h0.8M274.7 369.0h0.8M278.1 357.6h0.8M228.7 363.9h0.8M253.0 365.5h0.8M243.2 369.7h0.8M276.9 368.6h0.8M256.0 359.4h0.8M260.4 362.6h0.8M228.7 362.2h0.8M261.2 369.0h0.8M273.1 365.4h0.8M238.9 367.5h0.8M266.5 366.3h0.8M224.2 368.7h0.8M249.3 355.6h0.8M246.9 354.8h0.8M263.1 360.8h0.8M248.1 367.5h0.8M270.1 361.0h0.8M240.0 368.8h0.8M233.6 362.5h0.8M278.1 356.4h0.8M222.5 367.6h0.8M240.3 362.0h0.8M243.7 368.9h0.8M219.3 363.7h0.8M231.8 367.5h0.8M270.8 365.0h0.8M245.7 361.8h0.8M253.0 359.7h0.8M216.2 363.9h0.8M244.1 364.4h0.8M225.7 363.0h0.8M259.4 355.7h0.8M255.8 362.2h0.8M234.4 369.3h0.8M249.6 365.7h0.8M255.5 365.0h0.8M229.5 354.7h0.8M222.3 363.0h0.8M279.9 354.3h0.8M268.0 355.4h0.8M253.8 360.6h0.8M270.3 366.5h0.8M238.2 356.0h0.8M219.7 360.8h0.8M218.0 367.1h0.8M257.9 361.8h0.8M228.6 358.3h0.8M274.7 360.3h0.8M245.4 368.0h0.8M241.3 357.3h0.8M274.2 363.6h0.8M274.4 360.9h0.8M277.1 360.0h0.8M238.8 360.2h0.8M240.6 367.8h0.8M231.8 357.4h0.8M272.6 358.2h0.8M267.9 362.3h0.8M274.6 363.5h0.8M226.1 356.6h0.8M276.3 367.2h0.8M276.3 357.1h0.8M260.5 361.6h0.8M260.3 359.8h0.8M248.6 359.5h0.8M221.4 363.4h0.8M280.1 364.1h0.8M250.9 354.1h0.8M222.7 366.9h0.8M261.6 357.2h0.8M250.9 363.8h0.8M217.5 361.3h0.8M226.2 366.9h0.8M261.5 367.4h0.8M239.5 358.3h0.8M248.2 369.0h0.8M235.5 365.6h0.8M272.0 360.3h0.8M246.1 369.7h0.8M234.8 356.7h0.8M262.3 360.2h0.8M265.2 367.3h0.8M259.9 362.9h0.8M269.2 356.2h0.8M258.7 361.2h0.8M279.4 359.9h0.8M278.3 357.2h0.8M224.4 358.3h0.8M252.9 356.0h0.8M270.2 369.2h0.8M255.6 366.8h0.8M241.6 361.0h0.8M260.6 361.4h0.8M250.5 361.1h0.8M261.0 357.2h0.8M231.6 355.3h0.8M223.6 366.5h0.8M228.0 361.4h0.8M260.1 354.9h0.8M231.5 363.6h0.8M219.0 364.1h0.8M264.2 361.1h0.8M240.8 368.9h0.8M253.5 363.6h0.8M245.2 357.7h0.8M260.9 354.2h0.8M276.9 364.0h0.8M246.5 355.4h0.8M276.5 362.5h0.8M276.4 358.2h0.8M216.9 355.9h0.8M227.8 366.4h0.8M226.5 367.7h0.8M263.5 361.4h0.8M275.9 362.4h0.8M241.8 361.2h0.8M262.9 366.9h0.8M266.9 364.9h0.8M256.5 367.4h0.8M225.7 355.3h0.8M219.0 354.2h0.8M242.0 357.9h0.8M260.7 361.8h0.8M271.1 364.2h0.8M268.8 354.8h0.8M270.2 355.8h0.8M268.9 361.1h0.8M256.5 366.7h0.8M239.9 364.8h0.8M244.3 359.3h0.8M268.6 359.8h0.8M221.2 364.1h0.8M237.2 368.2h0.8M234.1 363.9h0.8M279.8 369.3h0.8M252.4 355.8h0.8M265.7 355.5h0.8M266.9 354.2h0.8M224.6 365.9h0.8M248.8 360.5h0.8M278.1 367.6h0.8M270.3 363.2h0.8M251.3 362.8h0.8M240.5 365.0h0.8M243.6 355.1h0.8M278.4 358.9h0.8M277.1 364.7h0.8M252.2 364.9h0.8M235.0 368.5h0.8M261.1 358.7h0.8M235.2 359.3h0.8M223.2 362.9h0.8M268.6 363.3h0.8M237.4 363.7h0.8M252.7 362.6h0.8M233.3 363.3h0.8M245.0 358.2h0.8M253.5 361.1h0.8M238.1 368.3h0.8M267.3 363.0h0.8M251.2 356.6h0.8M223.9 359.6h0.8M271.6 366.5h0.8M252.6 368.7h0.8M218.7 365.0h0.8M266.2 357.6h0.8M224.9 369.1h0.8M219.9 360.0h0.8M231.7 358.0h0.8M228.8 354.3h0.8M244.6 369.8h0.8M260.2 356.0h0.8M266.1 359.2h0.8M267.6 359.1h0.8M238.3 365.9h0.8M257.1 354.8h0.8M251.7 368.3h0.8M245.7 367.1h0.8M248.3 365.6h0.8M242.6 357.1h0.8M221.9 369.2h0.8M266.6 357.3h0.8M221.9 360.3h0.8M252.6 359.5h0.8M227.7 355.9h0.8M240.7 362.7h0.8M222.7 358.9h0.8M270.2 364.3h0.8M250.8 369.4h0.8M218.0 363.9h0.8M279.9 363.5h0.8M222.7 363.8h0.8M278.6 356.1h0.8M266.2 356.0h0.8M227.0 368.2h0.8M221.2 361.1h0.8M247.8 358.9h0.8M237.6 356.7h0.8M257.5 356.0h0.8M257.0 368.3h0.8M247.5 359.4h0.8M218.1 364.8h0.8M217.9 369.7h0.8M265.4 365.7h0.8M246.5 366.1h0.8M250.2 361.8h0.8M222.6 360.1h0.8M244.1 361.8h0.8M223.4 362.2h0.8M218.8 367.8h0.8M220.8 366.7h0.8M223.0 359.1h0.8M247.4 369.1h0.8M227.3 363.5h0.8M250.4 369.8h0.8M244.0 369.6h0.8M271.5 359.8h0.8M222.5 359.7h0.8M244.3 366.3h0.8M234.4 362.9h0.8M257.6 362.4h0.8M217.3 363.2h0.8M220.8 361.2h0.8M235.9 364.0h0.8M266.6 354.3h0.8M255.3 367.6h0.8M218.0 367.2h0.8M243.1 364.6h0.8M245.1 361.2h0.8M261.1 369.4h0.8M249.9 355.6h0.8M235.8 362.6h0.8M239.9 369.9h0.8M242.6 368.7h0.8M254.4 365.7h0.8M251.1 358.9h0.8M220.1 363.1h0.8M239.4 356.0h0.8M273.2 363.8h0.8M225.8 364.1h0.8M220.5 368.9h0.8M255.1 366.6h0.8M243.9 360.0h0.8M251.8 367.3h0.8M251.3 355.1h0.8M267.1 360.5h0.8M222.7 360.3h0.8M248.0 360.6h0.8M219.6 357.0h0.8M229.9 364.1h0.8M235.7 366.8h0.8M231.7 363.6h0.8M271.0 354.4h0.8M247.7 369.8h0.8M232.3 358.9h0.8M236.0 364.6h0.8M230.8 354.8h0.8M263.8 365.0h0.8M257.4 366.1h0.8M242.4 356.8h0.8M253.1 356.9h0.8M252.0 354.8h0.8M242.0 354.1h0.8M228.9 357.6h0.8M268.9 366.5h0.8M269.5 368.0h0.8M261.9 354.1h0.8M215.5 357.6h0.8M225.7 363.1h0.8M256.8 364.6h0.8M237.3 361.0h0.8M224.7 366.9h0.8M220.8 366.0h0.8M256.9 369.2h0.8M228.9 368.4h0.8M260.8 364.2h0.8M270.4 363.8h0.8M227.9 358.9h0.8M224.1 366.5h0.8M245.2 355.0h0.8M268.0 357.1h0.8M234.9 369.9h0.8M255.0 364.6h0.8M216.9 368.9h0.8M273.2 365.6h0.8M234.3 356.2h0.8M259.2 367.1h0.8M276.5 365.5h0.8M229.5 369.6h0.8M226.8 358.1h0.8M223.4 354.7h0.8M255.7 359.4h0.8M256.6 355.2h0.8M236.3 361.8h0.8M222.4 354.6h0.8M264.8 368.6h0.8M255.1 361.3h0.8M276.4 359.2h0.8M267.8 364.2h0.8M225.8 367.1h0.8M270.8 363.1h0.8M232.9 355.1h0.8M250.3 356.1h0.8M229.5 355.6h0.8M271.6 356.5h0.8M268.3 368.3h0.8M263.1 367.5h0.8M233.4 368.7h0.8M246.4 359.2h0.8M279.3 363.5h0.8M262.1 365.7h0.8M273.2 366.5h0.8M268.7 364.2h0.8M243.9 357.6h0.8M247.8 365.0h0.8M261.9 360.0h0.8M243.1 364.6h0.8M278.1 360.1h0.8M249.9 356.0h0.8M247.2 367.4h0.8M237.4 362.8h0.8M252.1 356.8h0.8M226.4 357.5h0.8M216.1 360.7h0.8M219.8 357.6h0.8M255.7 363.0h0.8M251.5 360.3h0.8M255.1 366.1h0.8M217.4 355.1h0.8M215.7 359.5h0.8M277.5 363.3h0.8M265.3 360.7h0.8M248.9 359.9h0.8M272.0 364.3h0.8M232.9 369.7h0.8M236.2 354.8h0.8M263.5 356.7h0.8M263.9 359.9h0.8M255.2 361.0h0.8M260.7 365.9h0.8M225.9 355.8h0.8M244.3 356.8h0.8M259.7 368.8h0.8M222.2 359.7h0.8M259.4 366.8h0.8M232.2 366.4h0.8M268.3 368.9h0.8M277.0 360.3h0.8M242.1 362.3h0.8M262.8 355.0h0.8M231.2 369.7h0.8M219.2 354.6h0.8M242.2 364.0h0.8M233.6 355.4h0.8M260.5 358.4h0.8M220.1 358.9h0.8M276.7 365.8h0.8M261.7 356.5h0.8M248.6 368.1h0.8M224.5 362.4h0.8M257.4 355.1h0.8M274.2 364.8h0.8M221.5 354.7h0.8M241.0 357.3h0.8M259.3 356.3h0.8M259.2 368.9h0.8M273.3 364.7h0.8M263.2 369.7h0.8M270.4 354.1h0.8M241.3 366.8h0.8M253.7 369.1h0.8M277.8 354.8h0.8M260.4 358.1h0.8M220.0 355.6h0.8M224.4 364.8h0.8M266.4 357.7h0.8M223.9 359.0h0.8M243.3 360.6h0.8M252.4 368.2h0.8M244.1 363.3h0.8M279.9 366.8h0.8M257.3 358.8h0.8M279.9 354.3h0.8M223.2 358.3h0.8M236.2 359.0h0.8M239.8 364.8h0.8M217.9 365.8h0.8M235.4 367.5h0.8M222.9 357.5h0.8M218.8 357.6h0.8M218.1 359.8h0.8M241.9 364.5h0.8M237.1 357.6h0.8M236.0 359.6h0.8M229.4 361.2h0.8M218.7 368.0h0.8M225.8 362.7h0.8M242.2 361.5h0.8M218.3 358.5h0.8M232.1 367.6h0.8M226.8 358.8h0.8M232.3 362.2h0.8M217.8 357.8h0.8M222.3 355.5h0.8M230.3 362.5h0.8M236.9 359.1h0.8M232.8 365.3h0.8M226.7 357.1h0.8M219.9 362.9h0.8M223.9 362.4h0.8M225.0 368.8h0.8M225.2 359.7h0.8M236.9 361.2h0.8M222.9 367.4h0.8M216.8 356.5h0.8M226.6 357.3h0.8M216.2 367.9h0.8M231.0 366.9h0.8M232.3 357.2h0.8M229.9 356.9h0.8M216.9 367.9h0.8M224.4 369.2h0.8M225.4 366.1h0.8M216.5 360.4h0.8M220.0 355.7h0.8M219.1 360.3h0.8M241.8 361.6h0.8M221.1 364.1h0.8M236.4 357.5h0.8M215.9 367.7h0.8M215.9 363.4h0.8M230.7 358.9h0.8M218.0 366.9h0.8M225.9 357.1h0.8M232.4 358.5h0.8M217.7 356.6h0.8M238.9 362.2h0.8M218.7 362.7h0.8M241.6 367.9h0.8M217.8 362.8h0.8M219.9 361.9h0.8M237.2 359.8h0.8M218.4 359.3h0.8M238.8 359.4h0.8M223.8 363.9h0.8M225.9 367.4h0.8M225.3 359.5h0.8M233.0 362.5h0.8M237.7 366.0h0.8M239.4 361.1h0.8M217.2 357.9h0.8M231.3 362.0h0.8M231.5 368.3h0.8M219.1 361.9h0.8M229.7 362.1h0.8M236.4 357.5h0.8M231.3 362.2h0.8M217.7 363.1h0.8M231.1 358.7h0.8M225.2 360.7h0.8M216.3 366.1h0.8M241.7 367.5h0.8M241.2 359.7h0.8M215.4 363.7h0.8M228.6 356.4h0.8M225.8 356.8h0.8M216.2 358.1h0.8M228.2 359.8h0.8M216.5 355.7h0.8M234.9 368.4h0.8M218.3 362.5h0.8M230.3 361.7h0.8M230.0 363.0h0.8M234.0 362.4h0.8M223.7 359.4h0.8M225.4 364.1h0.8M236.5 357.6h0.8M237.6 366.5h0.8M233.6 355.9h0.8M227.8 357.9h0.8M238.0 359.1h0.8M240.0 357.4h0.8M236.1 362.4h0.8M241.6 359.6h0.8M225.0 361.6h0.8M234.5 363.0h0.8M220.6 366.4h0.8M233.0 358.5h0.8M240.2 368.6h0.8M234.8 361.1h0.8M219.3 357.1h0.8M223.3 356.4h0.8M222.3 356.3h0.8M229.1 356.2h0.8M225.2 363.3h0.8M234.5 367.3h0.8M230.5 365.5h0.8M229.2 358.5h0.8M225.5 356.3h0.8M239.9 365.4h0.8M237.9 368.1h0.8M240.8 369.1h0.8M236.8 361.4h0.8M237.6 365.4h0.8M223.6 364.5h0.8M227.5 367.0h0.8M228.5 369.3h0.8M216.3 360.9h0.8M234.9 368.6h0.8M234.0 361.6h0.8M224.5 365.0h0.8M215.5 361.7h0.8M234.3 357.7h0.8M239.0 359.4h0.8M239.8 369.7h0.8M242.8 357.9h0.8M235.6 364.3h0.8M231.7 356.5h0.8M225.9 362.8h0.8M222.6 356.2h0.8M240.3 360.9h0.8M233.0 359.7h0.8M239.6 368.4h0.8M236.5 366.4h0.8M215.2 369.8h0.8M236.5 369.1h0.8M222.2 360.8h0.8M217.7 368.9h0.8M235.2 365.9h0.8M237.6 369.2h0.8M224.9 362.0h0.8M219.2 359.9h0.8M215.5 358.4h0.8M230.6 359.0h0.8M221.1 355.9h0.8M230.3 368.6h0.8M219.2 368.6h0.8M236.4 359.7h0.8M226.4 361.0h0.8M216.2 359.8h0.8M220.6 362.2h0.8M227.8 362.6h0.8M217.8 369.4h0.8M230.7 359.1h0.8M232.2 366.2h0.8M215.5 366.6h0.8M222.4 363.7h0.8M218.4 359.0h0.8M223.1 356.0h0.8M243.1 356.4h0.8M220.5 360.7h0.8M238.4 362.2h0.8M236.8 358.3h0.8M229.9 369.1h0.8M240.6 358.5h0.8M236.5 367.2h0.8M242.0 361.3h0.8M221.6 360.6h0.8M226.6 358.2h0.8M223.4 362.2h0.8M228.6 366.1h0.8M233.4 369.9h0.8M229.2 361.0h0.8M241.1 359.7h0.8M234.0 369.0h0.8M227.9 357.1h0.8M215.2 369.6h0.8M243.1 358.3h0.8M243.1 360.3h0.8M221.3 367.4h0.8M224.4 366.3h0.8M233.5 368.7h0.8M234.8 364.2h0.8M233.2 364.9h0.8M240.9 368.7h0.8M216.1 368.9h0.8M216.3 359.2h0.8M216.4 365.8h0.8M220.8 367.0h0.8M218.9 363.8h0.8M224.2 362.2h0.8M219.4 366.0h0.8M230.9 365.0h0.8M223.2 367.6h0.8M215.2 365.5h0.8M236.0 361.5h0.8M233.2 368.9h0.8M222.2 359.3h0.8M227.0 358.7h0.8M240.5 364.0h0.8M221.1 359.7h0.8M225.5 356.8h0.8M230.3 363.0h0.8M241.1 356.1h0.8M233.8 360.4h0.8M217.2 365.1h0.8M228.8 364.2h0.8M228.7 367.3h0.8M236.0 359.3h0.8M239.9 361.4h0.8M219.5 364.6h0.8M219.9 365.4h0.8M216.3 364.2h0.8M234.1 358.2h0.8" stroke="#000" stroke-width="0.75" stroke-opacity="0.70" fill="none"/>
<path d="M246.9 350.3h0.7M255.9 338.0h0.7M251.9 343.1h0.7M247.0 346.7h0.7M242.8 350.6h0.7M257.3 338.7h0.7M241.1 349.2h0.7M257.0 337.0h0.7M262.2 334.3h0.7M255.5 337.9h0.7M245.6 347.1h0.7M249.9 343.3h0.7M240.5 350.6h0.7M245.8 347.8h0.7M245.5 346.4h0.7M245.6 347.1h0.7M252.8 343.1h0.7M253.9 340.4h0.7M255.3 342.1h0.7M239.2 350.9h0.7" stroke="#000" stroke-width="0.70" stroke-opacity="0.25" fill="none"/>
<text x="235.85" y="325.80" text-anchor="end" class="p">1%</text>
<text x="300.75" y="325.80" text-anchor="end" class="p">&lt;1%</text>
<path d="M319.50 25.60H403.00" stroke="#cacaca" stroke-width="0.8" fill="none"/><path d="M403.00 25.60V75.90" stroke="#dcdcdc" stroke-width="0.8" fill="none"/>
<line x1="319.50" y1="75.90" x2="403.00" y2="75.90" stroke="#777" stroke-width="0.9" stroke-dasharray="0.9 1.4"/>
<line x1="319.50" y1="25.10" x2="319.50" y2="76.70" stroke="#444" stroke-width="1.1"/>
<line x1="319.50" y1="59.50" x2="403.00" y2="59.50" stroke="#5a5a5a" stroke-width="0.9"/>
<text class="k" transform="translate(317.10 25.90) rotate(-90)" text-anchor="middle">10<tspan dy="-1" font-size="2.2">4</tspan></text>
<text class="k" transform="translate(317.10 38.48) rotate(-90)" text-anchor="middle">10<tspan dy="-1" font-size="2.2">3</tspan></text>
<text class="k" transform="translate(317.10 51.05) rotate(-90)" text-anchor="middle">10<tspan dy="-1" font-size="2.2">2</tspan></text>
<text class="k" transform="translate(317.10 63.62) rotate(-90)" text-anchor="middle">10<tspan dy="-1" font-size="2.2">1</tspan></text>
<text class="k" transform="translate(317.10 76.20) rotate(-90)" text-anchor="middle">10<tspan dy="-1" font-size="2.2">0</tspan></text>
<text class="k" transform="translate(312.90 52.76) rotate(-90)" text-anchor="middle">FL2-H</text>
<text class="k" x="319.50" y="80.50" text-anchor="middle">0</text>
<text class="k" x="336.20" y="80.50" text-anchor="middle">200</text>
<text class="k" x="352.90" y="80.50" text-anchor="middle">400</text>
<text class="k" x="369.60" y="80.50" text-anchor="middle">600</text>
<text class="k" x="386.30" y="80.50" text-anchor="middle">800</text>
<text class="k" x="403.00" y="80.50" text-anchor="middle">1000</text>
<text class="k2" x="361.25" y="83.50" text-anchor="middle">FSC-H</text>
<clipPath id="c13"><rect x="319.5" y="25.6" width="83.5" height="50.6"/></clipPath>
<g clip-path="url(#c13)"><rect x="337.7" y="64.7" width="10.2" height="15.5" rx="4" fill="#000" filter="url(#b12)"/></g>
<path d="M345.8 63.9h0.8M341.7 73.8h0.8M341.9 66.6h0.8M341.9 69.8h0.8M341.3 65.2h0.8M337.7 70.6h0.8M345.2 67.4h0.8M343.9 73.0h0.8M345.4 66.5h0.8M340.4 65.4h0.8M337.8 65.6h0.8M339.5 68.5h0.8M343.7 73.3h0.8M348.0 71.3h0.8M343.3 75.2h0.8M345.4 65.0h0.8M338.3 72.4h0.8M345.8 72.5h0.8M345.1 65.9h0.8M344.3 72.4h0.8M339.6 70.6h0.8M342.9 64.3h0.8M339.2 75.3h0.8M346.7 70.0h0.8M338.5 70.8h0.8M342.8 72.7h0.8M346.8 71.4h0.8M346.7 70.7h0.8M341.3 68.2h0.8M340.5 73.9h0.8M338.2 72.5h0.8M346.4 66.5h0.8M340.9 66.0h0.8M342.5 65.5h0.8M343.4 74.3h0.8M339.5 63.9h0.8M347.3 71.2h0.8M341.6 66.8h0.8M338.1 74.2h0.8M346.8 74.2h0.8M338.3 69.7h0.8M344.2 75.1h0.8M346.9 65.0h0.8M338.6 63.3h0.8M341.1 73.0h0.8M337.4 69.7h0.8M341.7 71.1h0.8M345.4 72.7h0.8M338.2 70.1h0.8M346.5 62.9h0.8M346.3 72.6h0.8M347.5 64.3h0.8M338.7 66.1h0.8M342.5 70.2h0.8M340.1 65.3h0.8M339.8 70.4h0.8M346.9 65.1h0.8M346.2 69.2h0.8M344.8 71.5h0.8M342.4 63.7h0.8M340.0 66.8h0.8M346.1 75.3h0.8M343.8 65.3h0.8M339.7 70.9h0.8M348.9 72.2h0.8M345.7 74.1h0.8M342.8 67.7h0.8M338.5 70.3h0.8M340.9 74.8h0.8M345.9 64.8h0.8M347.9 66.6h0.8M342.1 74.5h0.8M345.1 71.7h0.8M339.0 62.7h0.8M347.2 64.3h0.8M346.3 69.9h0.8M341.8 69.9h0.8M340.0 68.9h0.8M346.7 72.5h0.8M343.3 66.0h0.8M338.1 73.3h0.8M339.3 73.2h0.8M344.5 74.9h0.8M349.2 74.1h0.8M342.1 63.5h0.8M342.9 69.4h0.8M344.6 64.8h0.8M344.8 73.9h0.8M343.0 69.6h0.8M340.6 71.2h0.8M345.8 75.2h0.8M338.5 74.9h0.8M342.7 74.8h0.8M345.7 64.3h0.8M338.6 68.2h0.8M340.4 72.4h0.8M340.5 72.3h0.8M343.1 68.1h0.8M342.7 62.8h0.8M348.1 73.6h0.8M345.2 70.8h0.8M340.2 65.0h0.8M344.5 67.8h0.8M345.2 72.0h0.8M340.5 71.6h0.8M344.2 64.9h0.8M340.3 66.7h0.8M339.7 63.8h0.8M344.2 72.9h0.8M340.0 66.6h0.8M343.7 64.9h0.8M343.2 73.1h0.8M338.5 65.2h0.8M338.8 71.3h0.8M340.3 71.8h0.8M344.3 72.2h0.8M341.1 75.3h0.8M339.3 63.5h0.8M339.9 75.4h0.8M340.9 73.4h0.8M346.7 72.2h0.8M339.2 73.1h0.8M347.4 74.3h0.8M342.2 74.4h0.8M338.4 75.1h0.8M341.4 72.1h0.8M343.7 68.3h0.8M345.0 73.3h0.8M344.0 66.2h0.8M340.8 68.5h0.8M341.8 66.1h0.8M338.7 68.2h0.8M339.4 72.8h0.8M345.9 68.8h0.8M342.4 70.5h0.8M339.1 65.4h0.8M339.7 75.3h0.8M338.1 73.0h0.8M346.2 73.2h0.8M336.9 73.6h0.8M341.1 69.3h0.8M343.1 70.0h0.8M341.3 72.3h0.8M343.5 64.7h0.8M346.0 75.6h0.8M338.9 68.3h0.8M344.7 73.3h0.8M343.1 75.0h0.8M338.6 74.2h0.8M343.5 62.5h0.8M346.9 72.5h0.8M346.4 65.8h0.8M340.6 72.4h0.8M342.4 62.3h0.8M344.3 67.5h0.8M345.2 64.3h0.8M340.5 66.4h0.8M339.8 74.0h0.8M348.4 65.2h0.8M345.1 69.9h0.8M340.7 71.8h0.8M337.8 66.9h0.8M341.5 68.9h0.8M343.7 74.9h0.8M340.5 73.4h0.8M341.5 72.4h0.8M338.1 74.8h0.8M349.0 70.7h0.8M345.0 64.5h0.8M339.0 69.1h0.8M342.3 73.6h0.8M339.6 70.5h0.8M344.4 69.4h0.8M341.5 71.1h0.8M346.7 74.5h0.8M340.4 68.4h0.8M342.5 70.4h0.8M342.5 62.9h0.8M346.4 75.1h0.8M340.2 73.6h0.8M345.1 67.8h0.8M343.1 72.2h0.8M344.1 73.0h0.8M345.9 64.9h0.8M343.8 71.5h0.8M344.5 65.6h0.8M344.8 65.4h0.8M341.4 69.9h0.8M341.5 71.6h0.8M347.1 64.1h0.8M338.9 74.4h0.8M340.7 67.3h0.8M345.0 70.2h0.8M343.0 70.3h0.8M342.2 70.8h0.8M346.7 63.2h0.8M341.0 71.8h0.8M340.5 69.4h0.8M342.0 75.3h0.8M347.0 70.0h0.8M343.9 75.3h0.8M346.8 68.8h0.8M348.2 68.7h0.8M339.8 63.4h0.8M346.5 64.3h0.8M342.0 72.0h0.8M346.2 71.1h0.8M341.7 65.6h0.8M339.0 71.6h0.8M342.6 70.1h0.8M337.0 75.4h0.8M339.9 69.9h0.8M339.3 68.6h0.8M340.0 73.1h0.8M339.4 71.2h0.8M345.3 70.1h0.8M342.3 67.8h0.8M340.8 70.5h0.8M348.1 72.0h0.8M339.5 75.2h0.8M343.8 66.4h0.8M341.8 68.7h0.8M340.9 69.3h0.8M337.8 72.1h0.8M340.4 68.1h0.8M348.2 71.0h0.8M340.3 64.0h0.8M346.3 74.3h0.8M341.3 67.8h0.8M337.4 74.1h0.8M338.1 71.2h0.8M347.2 74.0h0.8M348.0 69.3h0.8M345.6 63.0h0.8M340.0 72.7h0.8M342.1 75.3h0.8M341.2 70.6h0.8M344.1 75.4h0.8M346.6 66.1h0.8M345.4 68.8h0.8M341.7 74.0h0.8M345.8 67.7h0.8M342.6 72.8h0.8M345.5 71.2h0.8M340.1 71.8h0.8M340.0 68.4h0.8M341.1 67.5h0.8M344.5 66.3h0.8M345.5 70.6h0.8M346.3 69.7h0.8M340.5 74.8h0.8M339.7 69.9h0.8M338.7 72.0h0.8M343.9 66.0h0.8M343.2 74.5h0.8M338.4 74.7h0.8M341.0 73.1h0.8M339.3 70.4h0.8M343.0 69.3h0.8M340.4 63.2h0.8M339.4 74.5h0.8M339.0 72.7h0.8M338.9 75.0h0.8M338.7 72.8h0.8M343.6 65.6h0.8M345.6 69.9h0.8M339.7 71.7h0.8M342.1 64.9h0.8M336.9 69.1h0.8M346.0 75.4h0.8M344.5 74.2h0.8M348.4 75.0h0.8M341.9 68.2h0.8M345.6 68.9h0.8M344.8 70.3h0.8M345.4 68.2h0.8M339.9 72.7h0.8M339.5 67.3h0.8M336.5 70.4h0.8M339.9 74.5h0.8M340.1 75.4h0.8M339.8 74.9h0.8M338.5 66.8h0.8M340.0 73.4h0.8M344.1 63.2h0.8M345.0 63.2h0.8M342.6 66.6h0.8M341.9 64.9h0.8M347.8 74.6h0.8M346.6 66.5h0.8M342.2 73.5h0.8M343.3 74.6h0.8M340.1 68.9h0.8M347.0 74.9h0.8M342.5 66.0h0.8M339.8 65.9h0.8M336.8 72.4h0.8M348.4 70.8h0.8M340.0 75.2h0.8M341.3 71.1h0.8M347.8 72.8h0.8M347.5 72.0h0.8M341.7 73.6h0.8M342.4 75.6h0.8M340.0 71.1h0.8M338.0 74.6h0.8M337.7 68.2h0.8M345.4 66.6h0.8M340.0 68.0h0.8M346.7 64.2h0.8M342.4 71.9h0.8M343.5 72.1h0.8M338.2 64.3h0.8M340.0 71.6h0.8M347.0 75.2h0.8M345.4 66.1h0.8M340.7 68.7h0.8M339.1 74.5h0.8M345.1 67.6h0.8M343.3 67.5h0.8M339.3 66.6h0.8M340.2 75.0h0.8M345.5 72.6h0.8M346.3 69.9h0.8M341.1 72.2h0.8M340.0 65.2h0.8M339.7 70.1h0.8M342.6 69.3h0.8M347.4 70.1h0.8M340.3 70.1h0.8M340.9 68.7h0.8M346.2 66.5h0.8M346.5 75.3h0.8M338.8 72.9h0.8M337.8 74.2h0.8M339.6 71.2h0.8M347.7 66.8h0.8M339.4 69.3h0.8M340.1 71.0h0.8M339.8 73.1h0.8M339.4 71.1h0.8M338.0 72.8h0.8M343.4 66.4h0.8M339.9 73.3h0.8M337.5 67.4h0.8M347.0 64.2h0.8M347.1 65.9h0.8M345.4 71.4h0.8M341.1 71.4h0.8M337.1 74.2h0.8M338.2 74.3h0.8M342.9 65.3h0.8M342.4 70.7h0.8M337.8 66.9h0.8M346.3 74.6h0.8M337.8 75.2h0.8M341.5 68.4h0.8M340.9 65.3h0.8M340.9 73.2h0.8M339.2 74.2h0.8M342.2 68.9h0.8M337.2 73.0h0.8M348.6 73.6h0.8M338.7 69.9h0.8M343.5 74.5h0.8M343.6 73.9h0.8M341.7 67.1h0.8M342.7 73.3h0.8M338.6 68.3h0.8M342.3 68.9h0.8M342.2 68.4h0.8M346.1 71.0h0.8M343.8 65.5h0.8M347.8 71.0h0.8M345.9 69.8h0.8M340.6 71.5h0.8M347.3 68.2h0.8M345.1 67.0h0.8M340.4 63.1h0.8M342.2 74.4h0.8M341.6 67.4h0.8M343.4 71.8h0.8M343.8 64.0h0.8M346.1 70.1h0.8M343.5 64.3h0.8M339.0 65.9h0.8M338.6 62.6h0.8M338.2 73.9h0.8M340.4 74.3h0.8M339.6 70.8h0.8M346.5 65.2h0.8M342.3 74.7h0.8M341.5 65.4h0.8M345.8 74.3h0.8M342.8 68.2h0.8M346.5 75.6h0.8M339.8 69.4h0.8M341.5 72.2h0.8M345.9 75.2h0.8M336.9 74.2h0.8M344.6 64.0h0.8M343.7 63.1h0.8M341.6 74.2h0.8M348.4 66.6h0.8M343.9 69.4h0.8M344.2 72.7h0.8M346.3 68.6h0.8M345.4 70.3h0.8M345.2 64.3h0.8M343.8 73.6h0.8M344.6 63.3h0.8M348.3 75.0h0.8M346.2 69.2h0.8M346.0 68.2h0.8M342.9 70.0h0.8M341.0 63.2h0.8M342.5 62.4h0.8M344.6 73.0h0.8M344.2 71.9h0.8M343.4 64.7h0.8M346.2 72.5h0.8M338.6 66.2h0.8M341.0 66.1h0.8M343.1 67.3h0.8M339.5 75.5h0.8M342.0 72.9h0.8M342.2 69.9h0.8M337.9 65.3h0.8M344.5 70.8h0.8M345.2 72.7h0.8M345.2 75.3h0.8M345.3 74.8h0.8M345.9 74.1h0.8M348.1 71.4h0.8M339.1 75.0h0.8M340.1 65.1h0.8M346.2 65.7h0.8M346.1 69.4h0.8M346.1 69.6h0.8M345.3 72.9h0.8M341.3 74.6h0.8M344.0 63.0h0.8M341.2 72.5h0.8M340.1 72.1h0.8M341.6 74.0h0.8M336.8 65.3h0.8M338.6 66.1h0.8M340.7 65.7h0.8M342.4 70.0h0.8M339.6 74.7h0.8M340.2 63.1h0.8M341.7 69.4h0.8M345.3 71.2h0.8M342.1 75.7h0.8M338.6 65.6h0.8M341.5 72.6h0.8M344.7 73.7h0.8M346.7 70.7h0.8M344.8 75.5h0.8M345.0 73.5h0.8M342.6 72.3h0.8M342.8 70.8h0.8M338.8 69.5h0.8M337.3 67.9h0.8M344.4 69.0h0.8M344.3 71.2h0.8M338.6 69.9h0.8M345.0 73.9h0.8M338.7 72.6h0.8M339.1 72.3h0.8M344.4 67.5h0.8M341.2 68.5h0.8M343.0 70.5h0.8M347.5 75.0h0.8M340.8 71.3h0.8M342.9 70.3h0.8M342.8 67.6h0.8M343.3 64.7h0.8M342.8 72.3h0.8M343.5 66.9h0.8M338.6 70.2h0.8M339.0 64.4h0.8M344.9 73.3h0.8M347.7 68.7h0.8M344.5 70.6h0.8M344.8 68.9h0.8M345.3 70.7h0.8M341.3 72.4h0.8M348.7 73.7h0.8M342.7 72.9h0.8M343.3 72.7h0.8M340.0 75.3h0.8M345.4 74.4h0.8M346.0 71.0h0.8M343.4 68.9h0.8M342.3 74.4h0.8M339.1 68.7h0.8M343.4 63.3h0.8M337.9 67.5h0.8M344.6 66.9h0.8M344.1 71.5h0.8M341.7 69.1h0.8M341.2 69.9h0.8M345.9 75.6h0.8M346.3 75.4h0.8M343.9 71.0h0.8M339.4 75.1h0.8M342.0 74.4h0.8M343.4 67.1h0.8M345.4 71.1h0.8M339.8 68.2h0.8M340.7 66.6h0.8M347.3 72.8h0.8M341.4 71.9h0.8M339.9 72.5h0.8M342.6 66.6h0.8M344.1 74.2h0.8M341.6 70.6h0.8M340.3 72.0h0.8M347.6 66.0h0.8M339.5 73.3h0.8M344.2 71.7h0.8M339.9 67.3h0.8M338.5 71.2h0.8M346.2 72.5h0.8M346.7 72.4h0.8M338.4 68.9h0.8M349.0 69.3h0.8M344.1 66.5h0.8M341.4 75.4h0.8M337.4 74.0h0.8M343.5 63.2h0.8M346.7 75.2h0.8M346.7 71.9h0.8M346.6 66.8h0.8M341.5 66.8h0.8M342.1 66.3h0.8M340.1 70.1h0.8M347.1 69.0h0.8M345.5 66.6h0.8M340.9 74.1h0.8M347.3 74.0h0.8M341.4 72.3h0.8M339.1 73.4h0.8M345.7 66.5h0.8M346.3 65.2h0.8M341.4 73.2h0.8M344.8 75.2h0.8M339.1 70.4h0.8M343.5 67.3h0.8M345.7 70.3h0.8M347.5 75.4h0.8M340.6 71.6h0.8M345.2 68.3h0.8M338.9 69.4h0.8M343.0 70.5h0.8M338.8 74.7h0.8M340.1 68.1h0.8M340.3 69.2h0.8M337.3 69.1h0.8M340.1 68.0h0.8M345.3 70.7h0.8M343.2 73.8h0.8M346.3 64.8h0.8M340.7 67.4h0.8M342.3 64.1h0.8M340.7 64.2h0.8M339.4 73.6h0.8M344.5 65.8h0.8M342.5 75.7h0.8M347.6 69.6h0.8M347.7 68.5h0.8M339.7 66.2h0.8M343.4 63.6h0.8M339.4 71.7h0.8M341.9 68.2h0.8M336.7 71.4h0.8M337.8 73.1h0.8M340.7 63.9h0.8M339.9 70.8h0.8M337.0 71.9h0.8M343.8 69.5h0.8M338.7 74.7h0.8M346.2 63.9h0.8M344.9 74.6h0.8M342.1 68.7h0.8M341.7 65.5h0.8M338.9 72.8h0.8M338.6 75.0h0.8M343.7 75.0h0.8M344.0 75.2h0.8M337.4 67.0h0.8M337.6 72.3h0.8M347.8 71.5h0.8M339.9 71.9h0.8M343.5 63.5h0.8M341.1 71.4h0.8M336.9 66.0h0.8M340.3 75.0h0.8M341.8 66.0h0.8M338.8 72.0h0.8M342.6 71.4h0.8M348.6 75.0h0.8M345.4 70.1h0.8M339.8 67.7h0.8M338.8 70.1h0.8M349.1 69.5h0.8M344.9 71.3h0.8M342.8 64.5h0.8M340.9 66.8h0.8M341.9 65.9h0.8M341.1 71.8h0.8M339.2 71.1h0.8M343.7 65.2h0.8M348.7 70.3h0.8M345.5 73.8h0.8M338.8 64.1h0.8M349.1 69.4h0.8M347.6 66.0h0.8M338.8 69.9h0.8M343.4 67.7h0.8M342.9 71.8h0.8M341.3 72.5h0.8M338.2 71.3h0.8M339.7 63.4h0.8M340.3 73.2h0.8M345.1 69.3h0.8M339.3 67.7h0.8" stroke="#000" stroke-width="0.75" stroke-opacity="1.00" fill="none"/>
<path d="M337.2 58.0h0.7M338.1 58.0h0.7M337.7 59.0h0.7M337.2 59.5h0.7M337.9 58.2h0.7M338.6 53.4h0.7M339.0 56.2h0.7M337.2 55.8h0.7" stroke="#000" stroke-width="0.70" stroke-opacity="0.40" fill="none"/>
<text x="400.05" y="38.30" text-anchor="end" class="p">&lt;1%</text>
<path d="M320.50 92.90H405.00" stroke="#cacaca" stroke-width="0.8" fill="none"/><path d="M405.00 92.90V145.20" stroke="#dcdcdc" stroke-width="0.8" fill="none"/>
<line x1="320.50" y1="145.20" x2="405.00" y2="145.20" stroke="#777" stroke-width="0.9" stroke-dasharray="0.9 1.4"/>
<line x1="320.50" y1="92.40" x2="320.50" y2="146.00" stroke="#444" stroke-width="1.1"/>
<line x1="320.50" y1="127.50" x2="405.00" y2="127.50" stroke="#5a5a5a" stroke-width="0.9"/>
<text class="k" transform="translate(318.10 93.20) rotate(-90)" text-anchor="middle">10<tspan dy="-1" font-size="2.2">4</tspan></text>
<text class="k" transform="translate(318.10 106.27) rotate(-90)" text-anchor="middle">10<tspan dy="-1" font-size="2.2">3</tspan></text>
<text class="k" transform="translate(318.10 119.35) rotate(-90)" text-anchor="middle">10<tspan dy="-1" font-size="2.2">2</tspan></text>
<text class="k" transform="translate(318.10 132.43) rotate(-90)" text-anchor="middle">10<tspan dy="-1" font-size="2.2">1</tspan></text>
<text class="k" transform="translate(318.10 145.50) rotate(-90)" text-anchor="middle">10<tspan dy="-1" font-size="2.2">0</tspan></text>
<text class="k" transform="translate(313.90 121.14) rotate(-90)" text-anchor="middle">FL2-H</text>
<text class="k" x="320.50" y="149.80" text-anchor="middle">0</text>
<text class="k" x="337.40" y="149.80" text-anchor="middle">200</text>
<text class="k" x="354.30" y="149.80" text-anchor="middle">400</text>
<text class="k" x="371.20" y="149.80" text-anchor="middle">600</text>
<text class="k" x="388.10" y="149.80" text-anchor="middle">800</text>
<text class="k" x="405.00" y="149.80" text-anchor="middle">1000</text>
<text class="k2" x="362.75" y="152.80" text-anchor="middle">FSC-H</text>
<clipPath id="c23"><rect x="320.5" y="92.9" width="84.5" height="52.6"/></clipPath>
<g clip-path="url(#c23)"><rect x="338.9" y="132.7" width="10.2" height="16.8" rx="4" fill="#000" filter="url(#b12)"/></g>
<path d="M341.6 133.4h0.8M343.1 144.1h0.8M344.8 143.3h0.8M347.6 135.2h0.8M341.9 138.3h0.8M341.3 142.3h0.8M343.5 144.8h0.8M339.6 136.1h0.8M342.1 138.4h0.8M345.8 136.4h0.8M338.9 138.9h0.8M349.4 140.5h0.8M343.7 136.9h0.8M343.5 132.8h0.8M342.6 135.4h0.8M348.2 144.9h0.8M346.8 142.6h0.8M341.7 133.7h0.8M339.7 142.5h0.8M344.2 143.2h0.8M347.5 143.7h0.8M344.4 139.5h0.8M338.9 142.9h0.8M348.0 142.6h0.8M339.5 138.3h0.8M340.2 142.0h0.8M345.8 144.3h0.8M347.2 144.6h0.8M349.2 139.1h0.8M341.7 143.1h0.8M345.2 134.1h0.8M337.7 137.7h0.8M347.4 142.4h0.8M339.9 134.4h0.8M344.2 142.0h0.8M346.7 142.3h0.8M343.7 136.2h0.8M342.1 130.4h0.8M339.9 141.4h0.8M346.7 133.1h0.8M340.3 137.1h0.8M340.3 139.7h0.8M347.6 135.7h0.8M346.8 136.0h0.8M342.4 138.9h0.8M348.7 133.9h0.8M345.0 135.1h0.8M346.1 133.0h0.8M346.7 136.4h0.8M344.5 136.8h0.8M344.2 131.1h0.8M337.6 136.1h0.8M341.9 141.3h0.8M348.5 145.0h0.8M339.1 144.9h0.8M346.9 143.2h0.8M344.3 131.9h0.8M348.4 134.3h0.8M340.5 139.9h0.8M340.8 140.2h0.8M344.6 133.3h0.8M347.2 135.8h0.8M338.6 141.9h0.8M340.7 141.1h0.8M348.3 143.7h0.8M346.1 133.0h0.8M349.5 143.6h0.8M340.1 142.1h0.8M340.1 137.8h0.8M342.8 135.8h0.8M344.5 137.4h0.8M348.2 141.6h0.8M342.8 139.5h0.8M344.6 142.7h0.8M350.2 141.9h0.8M343.3 143.0h0.8M339.5 136.5h0.8M343.3 140.2h0.8M338.2 141.0h0.8M341.7 140.8h0.8M349.3 139.6h0.8M345.1 137.2h0.8M346.0 140.5h0.8M345.4 141.4h0.8M339.5 140.4h0.8M341.3 139.8h0.8M341.8 139.8h0.8M347.8 143.3h0.8M344.7 133.4h0.8M342.8 134.7h0.8M350.3 140.0h0.8M347.3 144.0h0.8M340.6 141.4h0.8M344.8 136.1h0.8M344.0 144.3h0.8M340.7 135.2h0.8M348.6 143.2h0.8M340.6 133.7h0.8M350.1 135.3h0.8M338.2 134.9h0.8M347.3 133.9h0.8M346.3 139.2h0.8M346.0 135.9h0.8M347.0 142.4h0.8M346.6 139.8h0.8M338.8 138.5h0.8M339.5 133.7h0.8M346.9 140.7h0.8M347.9 139.3h0.8M343.4 143.2h0.8M337.7 143.8h0.8M346.4 135.2h0.8M348.4 140.8h0.8M348.4 131.7h0.8M339.4 132.1h0.8M342.8 140.5h0.8M345.7 131.2h0.8M343.2 143.7h0.8M338.0 138.7h0.8M349.8 140.0h0.8M339.1 133.8h0.8M347.8 141.1h0.8M341.5 140.5h0.8M348.3 132.9h0.8M344.2 133.1h0.8M343.8 132.5h0.8M341.6 142.0h0.8M339.4 144.1h0.8M344.3 140.3h0.8M348.9 137.3h0.8M346.3 143.3h0.8M339.9 142.2h0.8M346.7 138.9h0.8M344.8 142.8h0.8M338.7 140.9h0.8M342.0 142.0h0.8M348.3 138.9h0.8M338.4 137.3h0.8M338.8 138.7h0.8M348.4 134.6h0.8M341.1 144.2h0.8M344.4 131.4h0.8M340.2 138.5h0.8M341.5 133.8h0.8M343.9 144.9h0.8M339.0 144.8h0.8M344.2 137.4h0.8M338.7 134.9h0.8M345.1 142.1h0.8M343.6 144.7h0.8M345.9 135.1h0.8M340.2 139.0h0.8M339.9 136.4h0.8M346.8 135.0h0.8M343.2 142.3h0.8M347.2 143.7h0.8M341.4 144.1h0.8M339.1 132.9h0.8M346.0 139.2h0.8M349.3 134.5h0.8M343.9 141.5h0.8M339.1 138.2h0.8M340.6 141.6h0.8M345.4 140.3h0.8M345.9 136.7h0.8M345.7 135.3h0.8M349.2 134.1h0.8M343.4 135.9h0.8M347.2 134.7h0.8M347.5 144.3h0.8M346.7 140.0h0.8M340.8 139.1h0.8M342.7 136.7h0.8M339.9 139.7h0.8M344.8 142.1h0.8M338.5 133.7h0.8M345.5 139.7h0.8M344.3 142.6h0.8M346.8 138.7h0.8M342.9 143.0h0.8M343.2 144.2h0.8M347.9 144.9h0.8M346.0 144.9h0.8M340.4 136.1h0.8M346.0 143.5h0.8M345.4 143.1h0.8M341.1 142.2h0.8M343.1 142.4h0.8M346.2 133.7h0.8M344.4 143.3h0.8M339.5 141.9h0.8M339.7 143.3h0.8M343.5 131.5h0.8M347.5 140.4h0.8M342.4 137.1h0.8M342.4 142.2h0.8M343.5 134.2h0.8M338.6 132.2h0.8M339.1 138.7h0.8M347.4 138.7h0.8M338.7 134.9h0.8M342.6 132.3h0.8M347.1 134.1h0.8M347.5 140.1h0.8M338.7 134.9h0.8M344.2 138.8h0.8M344.1 140.5h0.8M342.9 135.1h0.8M340.8 138.9h0.8M345.2 138.1h0.8M348.5 139.7h0.8M348.3 143.4h0.8M346.6 143.4h0.8M340.1 136.3h0.8M342.5 139.9h0.8M348.5 136.0h0.8M346.7 143.2h0.8M345.5 132.3h0.8M340.6 135.3h0.8M340.3 138.2h0.8M345.8 135.9h0.8M342.9 137.6h0.8M347.3 133.7h0.8M340.4 142.1h0.8M346.4 134.9h0.8M342.9 144.0h0.8M339.9 138.3h0.8M340.1 143.9h0.8M348.2 138.7h0.8M344.5 139.0h0.8M347.5 143.2h0.8M348.1 142.1h0.8M347.0 141.0h0.8M340.6 139.1h0.8M347.2 144.0h0.8M345.7 142.7h0.8M339.0 144.3h0.8M347.1 133.3h0.8M343.2 139.3h0.8M348.0 144.2h0.8M346.4 134.2h0.8M340.6 143.9h0.8M347.5 141.3h0.8M344.1 138.1h0.8M341.5 131.8h0.8M341.4 136.5h0.8M345.1 137.5h0.8M344.9 143.0h0.8M341.0 131.9h0.8M340.0 136.5h0.8M343.9 131.8h0.8M341.0 140.5h0.8M348.5 136.9h0.8M344.4 135.5h0.8M345.5 140.3h0.8M346.7 134.4h0.8M338.5 144.3h0.8M342.5 142.2h0.8M341.2 134.1h0.8M340.8 139.5h0.8M341.4 138.5h0.8M340.3 134.9h0.8M345.7 144.3h0.8M344.4 139.7h0.8M342.7 137.1h0.8M344.7 144.2h0.8M338.7 140.4h0.8M340.1 133.9h0.8M343.9 136.2h0.8M347.1 133.9h0.8M344.4 142.0h0.8M349.4 144.6h0.8M341.4 134.1h0.8M346.8 136.7h0.8M346.9 131.6h0.8M343.1 132.6h0.8M338.8 141.7h0.8M346.3 144.1h0.8M338.8 141.5h0.8M338.8 139.1h0.8M340.8 143.0h0.8M341.0 139.4h0.8M345.2 136.0h0.8M343.1 137.7h0.8M342.1 131.9h0.8M341.1 143.1h0.8M339.2 136.2h0.8M345.2 143.1h0.8M342.7 138.5h0.8M347.1 141.3h0.8M347.2 131.7h0.8M346.4 141.4h0.8M343.8 135.1h0.8M348.6 145.0h0.8M346.0 137.8h0.8M340.6 141.2h0.8M342.5 134.3h0.8M339.7 141.6h0.8M349.7 140.0h0.8M346.7 139.4h0.8M338.8 141.2h0.8M340.5 139.7h0.8M345.2 137.1h0.8M338.9 141.7h0.8M342.0 143.6h0.8M346.8 139.9h0.8M348.5 140.5h0.8M344.2 134.5h0.8M341.9 135.6h0.8M346.2 140.1h0.8M342.1 139.5h0.8M340.9 136.1h0.8M340.2 133.2h0.8M345.1 133.9h0.8M349.3 145.0h0.8M339.8 143.9h0.8M341.5 134.0h0.8M348.7 133.3h0.8M345.9 141.7h0.8M345.5 144.0h0.8M347.8 139.6h0.8M347.8 139.1h0.8M342.9 142.1h0.8M342.0 136.5h0.8M342.5 142.6h0.8M340.5 141.3h0.8M349.1 138.1h0.8M341.5 139.3h0.8M339.9 143.4h0.8M347.4 142.5h0.8M345.8 144.5h0.8M338.8 143.4h0.8M349.4 141.6h0.8M344.6 139.8h0.8M346.2 138.9h0.8M339.6 138.3h0.8M338.1 140.0h0.8M338.4 136.7h0.8M339.9 143.5h0.8M341.8 134.4h0.8M343.1 131.0h0.8M342.9 136.8h0.8M340.0 142.2h0.8M338.2 140.4h0.8M340.4 143.1h0.8M341.8 138.0h0.8M343.9 137.8h0.8M342.8 141.2h0.8M341.6 143.0h0.8M338.2 138.5h0.8M342.7 134.5h0.8M349.2 142.2h0.8M347.9 139.3h0.8M348.1 140.7h0.8M342.0 141.6h0.8M347.5 137.9h0.8M342.5 135.1h0.8M347.7 144.2h0.8M339.7 140.9h0.8M342.3 138.0h0.8M337.8 139.5h0.8M345.5 138.5h0.8M339.9 135.7h0.8M344.2 140.7h0.8M340.5 142.8h0.8M340.1 136.8h0.8M347.1 143.6h0.8M342.9 143.2h0.8M339.7 133.7h0.8M343.7 140.4h0.8M343.1 131.0h0.8M338.0 140.9h0.8M347.5 139.0h0.8M342.7 132.9h0.8M342.7 132.8h0.8M345.2 141.5h0.8M345.5 141.5h0.8M340.8 140.9h0.8M341.4 142.3h0.8M341.2 137.9h0.8M344.9 133.8h0.8M342.2 144.0h0.8M338.6 144.0h0.8M340.6 132.0h0.8M339.5 141.2h0.8M341.2 145.0h0.8M346.5 136.2h0.8M345.9 143.2h0.8M344.2 139.0h0.8M343.6 141.5h0.8M343.1 143.6h0.8M349.1 141.4h0.8M347.4 140.5h0.8M345.5 135.1h0.8M339.9 143.0h0.8M340.2 143.6h0.8M340.5 142.8h0.8M340.1 134.4h0.8M339.4 138.1h0.8M341.6 132.2h0.8M346.3 141.2h0.8M342.8 141.6h0.8M346.2 138.7h0.8M342.2 140.3h0.8M347.2 137.4h0.8M347.0 134.2h0.8M346.8 134.1h0.8M339.6 135.7h0.8M341.7 132.1h0.8M349.4 139.4h0.8M344.6 142.7h0.8M347.5 141.9h0.8M340.1 140.2h0.8M349.0 135.8h0.8M347.6 131.6h0.8M341.9 134.8h0.8M342.9 137.6h0.8M338.4 138.8h0.8M341.7 143.5h0.8M345.6 140.4h0.8M348.8 137.6h0.8M346.8 133.3h0.8M342.8 141.0h0.8M341.6 141.6h0.8M349.2 138.8h0.8M349.9 140.2h0.8M348.7 133.5h0.8M347.4 144.5h0.8M344.4 130.5h0.8M339.5 132.0h0.8M338.3 141.2h0.8M346.9 136.8h0.8M339.3 142.7h0.8M339.7 136.7h0.8M341.0 143.3h0.8M340.3 140.2h0.8M348.1 142.8h0.8M341.5 131.3h0.8M343.3 138.8h0.8M342.0 135.3h0.8M343.8 143.5h0.8M345.2 142.9h0.8M343.5 143.1h0.8M340.8 143.0h0.8M344.5 144.0h0.8M342.3 144.4h0.8M347.1 132.9h0.8M349.8 141.6h0.8M342.6 143.5h0.8M342.5 138.4h0.8M343.1 139.2h0.8M343.5 131.8h0.8M340.1 135.1h0.8M341.8 143.8h0.8M342.1 142.3h0.8M341.2 138.6h0.8M347.1 139.6h0.8M341.4 144.4h0.8M340.4 134.9h0.8M340.2 136.4h0.8M350.4 143.2h0.8M344.3 137.2h0.8M348.0 141.3h0.8M346.3 133.4h0.8M345.6 132.6h0.8M343.8 140.5h0.8M343.8 142.6h0.8M340.4 144.9h0.8M345.3 132.0h0.8M344.2 144.7h0.8M340.1 136.2h0.8M342.0 143.1h0.8M339.8 134.2h0.8M347.9 133.6h0.8M346.4 135.9h0.8M344.6 138.5h0.8M338.4 133.8h0.8M343.4 130.4h0.8M348.3 138.7h0.8M346.9 141.7h0.8M343.0 141.6h0.8M343.8 140.5h0.8M341.8 132.9h0.8M345.4 134.2h0.8M339.9 142.1h0.8M350.1 137.5h0.8M339.4 134.8h0.8M338.9 141.7h0.8M338.5 135.6h0.8M338.8 139.2h0.8M346.9 135.9h0.8M338.4 134.2h0.8M347.5 140.7h0.8M343.5 138.3h0.8M339.2 133.0h0.8M348.1 141.6h0.8M346.2 143.6h0.8M347.8 142.5h0.8M346.6 135.1h0.8M348.1 142.2h0.8M345.9 135.0h0.8M343.4 137.2h0.8M343.4 136.8h0.8M346.2 142.2h0.8M344.9 136.2h0.8M345.5 143.8h0.8M348.7 136.0h0.8M345.6 140.7h0.8M338.4 144.0h0.8M343.2 143.7h0.8M346.4 137.1h0.8M347.1 134.3h0.8M344.6 136.3h0.8M343.4 142.8h0.8M345.5 140.2h0.8M341.0 139.4h0.8M344.8 138.6h0.8M341.3 142.3h0.8M347.7 139.3h0.8M349.0 140.5h0.8M341.6 144.4h0.8M339.4 144.6h0.8M347.3 138.0h0.8M340.4 142.1h0.8M341.2 138.6h0.8M341.7 140.3h0.8M341.4 143.0h0.8M347.9 140.4h0.8M338.4 143.1h0.8M348.5 141.4h0.8M343.2 133.6h0.8M344.0 136.6h0.8M339.2 139.3h0.8M341.2 143.8h0.8M344.1 143.9h0.8M344.5 133.1h0.8M341.8 138.9h0.8M339.9 141.7h0.8M342.9 132.9h0.8M342.6 141.4h0.8M342.1 131.0h0.8M340.3 136.4h0.8M349.7 140.2h0.8M339.8 135.3h0.8M341.8 135.7h0.8M345.6 143.0h0.8M344.9 138.7h0.8M341.9 134.8h0.8M341.2 141.7h0.8M343.8 140.7h0.8M345.2 141.2h0.8M341.0 134.7h0.8M347.0 144.2h0.8M346.3 138.9h0.8M349.2 138.7h0.8M346.3 136.5h0.8M347.8 144.0h0.8M342.2 140.9h0.8M347.3 138.3h0.8M343.7 133.9h0.8M343.9 135.5h0.8M342.6 135.4h0.8M346.5 142.5h0.8M344.0 140.0h0.8M350.1 141.7h0.8M346.5 141.6h0.8M347.1 137.1h0.8M343.1 143.6h0.8M339.3 140.7h0.8M343.6 133.5h0.8M341.9 144.0h0.8M343.8 145.0h0.8M342.4 144.5h0.8M348.1 142.8h0.8M341.7 140.6h0.8M348.2 141.9h0.8M346.0 144.5h0.8M340.4 141.7h0.8M341.9 138.0h0.8M349.1 139.0h0.8M342.1 143.2h0.8M346.9 138.0h0.8M347.3 142.9h0.8M348.0 141.4h0.8M343.0 137.0h0.8M342.0 140.9h0.8M344.0 143.6h0.8M346.8 142.5h0.8M339.1 142.3h0.8M339.5 140.9h0.8M350.1 139.9h0.8M338.7 136.7h0.8M348.4 142.2h0.8M344.6 141.0h0.8M343.2 134.8h0.8M344.5 134.2h0.8M346.9 144.7h0.8M347.4 142.0h0.8M339.5 138.5h0.8M342.9 141.4h0.8M347.4 135.2h0.8M342.1 133.8h0.8M349.7 136.1h0.8M341.1 143.3h0.8M339.4 138.6h0.8M342.4 142.2h0.8M341.0 143.9h0.8M338.7 133.6h0.8M343.9 144.4h0.8M341.6 133.9h0.8M339.4 143.0h0.8M339.6 144.4h0.8M347.4 132.4h0.8M339.7 138.4h0.8M343.3 133.9h0.8M342.8 141.2h0.8M345.7 139.8h0.8M341.7 131.2h0.8M349.0 136.2h0.8M341.3 132.1h0.8M341.8 142.9h0.8" stroke="#000" stroke-width="0.75" stroke-opacity="1.00" fill="none"/>
<path d="M339.2 128.6h0.7M340.4 126.7h0.7M339.3 123.1h0.7M340.1 124.2h0.7M340.3 125.1h0.7M337.0 120.6h0.7M341.0 125.4h0.7M337.2 125.5h0.7" stroke="#000" stroke-width="0.70" stroke-opacity="0.40" fill="none"/>
<text x="401.25" y="105.30" text-anchor="end" class="p">&lt;1%</text>
<path d="M322.50 165.00H405.50" stroke="#cacaca" stroke-width="0.8" fill="none"/><path d="M405.50 165.00V220.60" stroke="#dcdcdc" stroke-width="0.8" fill="none"/>
<line x1="322.50" y1="220.60" x2="405.50" y2="220.60" stroke="#777" stroke-width="0.9" stroke-dasharray="0.9 1.4"/>
<line x1="322.50" y1="164.50" x2="322.50" y2="221.40" stroke="#444" stroke-width="1.1"/>
<line x1="322.50" y1="202.50" x2="405.50" y2="202.50" stroke="#5a5a5a" stroke-width="0.9"/>
<text class="k" transform="translate(320.10 165.30) rotate(-90)" text-anchor="middle">10<tspan dy="-1" font-size="2.2">4</tspan></text>
<text class="k" transform="translate(320.10 179.20) rotate(-90)" text-anchor="middle">10<tspan dy="-1" font-size="2.2">3</tspan></text>
<text class="k" transform="translate(320.10 193.10) rotate(-90)" text-anchor="middle">10<tspan dy="-1" font-size="2.2">2</tspan></text>
<text class="k" transform="translate(320.10 207.00) rotate(-90)" text-anchor="middle">10<tspan dy="-1" font-size="2.2">1</tspan></text>
<text class="k" transform="translate(320.10 220.90) rotate(-90)" text-anchor="middle">10<tspan dy="-1" font-size="2.2">0</tspan></text>
<text class="k" transform="translate(315.90 195.02) rotate(-90)" text-anchor="middle">FL2-H</text>
<text class="k" x="322.50" y="225.20" text-anchor="middle">0</text>
<text class="k" x="339.10" y="225.20" text-anchor="middle">200</text>
<text class="k" x="355.70" y="225.20" text-anchor="middle">400</text>
<text class="k" x="372.30" y="225.20" text-anchor="middle">600</text>
<text class="k" x="388.90" y="225.20" text-anchor="middle">800</text>
<text class="k" x="405.50" y="225.20" text-anchor="middle">1000</text>
<text class="k2" x="364.00" y="228.20" text-anchor="middle">FSC-H</text>
<clipPath id="c33"><rect x="322.5" y="165.0" width="83.0" height="55.9"/></clipPath>
<g clip-path="url(#c33)"><rect x="340.6" y="207.7" width="10.2" height="17.2" rx="4" fill="#000" filter="url(#b12)"/></g>
<path d="M343.6 213.0h0.8M349.5 219.5h0.8M344.2 218.2h0.8M347.4 215.2h0.8M342.7 206.4h0.8M344.5 213.5h0.8M345.2 219.2h0.8M341.3 218.8h0.8M343.0 218.7h0.8M348.8 219.6h0.8M351.0 219.4h0.8M346.1 215.3h0.8M342.2 214.0h0.8M340.4 209.2h0.8M346.2 209.8h0.8M348.0 212.9h0.8M343.2 215.7h0.8M340.8 219.4h0.8M341.3 206.7h0.8M350.1 210.7h0.8M349.9 216.1h0.8M346.4 215.9h0.8M343.4 215.9h0.8M347.9 215.0h0.8M348.4 217.8h0.8M340.5 212.6h0.8M344.9 220.1h0.8M347.6 215.7h0.8M347.4 213.0h0.8M346.3 215.2h0.8M349.4 215.2h0.8M348.6 216.7h0.8M350.8 211.3h0.8M340.1 216.8h0.8M347.9 215.1h0.8M347.0 213.1h0.8M340.6 210.2h0.8M347.2 211.7h0.8M344.8 215.8h0.8M346.4 216.5h0.8M343.6 211.4h0.8M341.9 214.9h0.8M342.7 214.7h0.8M342.6 219.4h0.8M349.3 210.8h0.8M346.7 216.5h0.8M343.0 206.9h0.8M345.0 217.0h0.8M343.0 205.9h0.8M348.5 211.5h0.8M341.7 209.9h0.8M340.1 209.9h0.8M343.5 208.7h0.8M344.8 215.4h0.8M345.0 219.9h0.8M345.9 213.1h0.8M341.4 210.7h0.8M343.7 215.8h0.8M351.2 218.5h0.8M343.0 220.2h0.8M347.9 211.6h0.8M347.8 216.4h0.8M340.2 210.5h0.8M341.3 215.9h0.8M342.5 214.5h0.8M347.7 217.8h0.8M345.5 215.1h0.8M345.1 216.5h0.8M345.2 212.1h0.8M348.3 214.1h0.8M341.3 211.9h0.8M340.7 219.0h0.8M347.5 215.7h0.8M343.7 219.4h0.8M349.3 216.2h0.8M342.1 211.1h0.8M340.3 214.8h0.8M346.4 217.9h0.8M345.8 213.7h0.8M347.8 210.8h0.8M347.4 218.8h0.8M339.7 217.6h0.8M347.2 217.8h0.8M351.2 210.2h0.8M346.6 209.5h0.8M346.1 213.7h0.8M341.5 215.5h0.8M348.0 207.4h0.8M345.3 208.3h0.8M349.2 219.6h0.8M343.9 218.5h0.8M345.5 209.6h0.8M343.2 219.9h0.8M346.7 205.9h0.8M342.9 219.3h0.8M339.9 216.9h0.8M343.7 214.7h0.8M343.9 216.6h0.8M340.2 213.9h0.8M346.0 214.5h0.8M344.7 216.9h0.8M346.0 216.6h0.8M341.5 214.1h0.8M341.9 219.5h0.8M346.0 210.5h0.8M349.2 218.7h0.8M346.6 210.4h0.8M340.2 215.4h0.8M340.9 217.0h0.8M346.2 216.1h0.8M343.3 214.5h0.8M344.5 214.4h0.8M351.5 219.2h0.8M345.2 214.3h0.8M342.0 210.4h0.8M341.3 217.5h0.8M341.4 211.1h0.8M342.1 208.8h0.8M344.3 216.9h0.8M344.1 209.7h0.8M346.9 212.0h0.8M343.4 208.8h0.8M343.4 219.5h0.8M343.1 216.1h0.8M348.6 219.0h0.8M346.7 210.1h0.8M341.9 217.8h0.8M343.7 214.2h0.8M349.3 208.7h0.8M342.1 218.7h0.8M342.0 213.2h0.8M347.6 218.9h0.8M346.8 216.7h0.8M346.6 208.7h0.8M344.9 217.0h0.8M351.7 216.8h0.8M346.5 211.5h0.8M350.4 217.5h0.8M349.3 217.5h0.8M340.1 219.3h0.8M344.0 210.0h0.8M348.4 217.9h0.8M341.7 216.9h0.8M345.5 217.8h0.8M340.3 210.3h0.8M347.7 206.9h0.8M341.0 218.7h0.8M339.7 218.9h0.8M349.7 216.9h0.8M344.8 218.0h0.8M345.7 205.8h0.8M349.2 212.5h0.8M342.6 219.8h0.8M349.9 214.1h0.8M346.5 218.2h0.8M341.1 219.8h0.8M345.0 210.7h0.8M347.0 213.6h0.8M340.3 220.0h0.8M347.3 212.9h0.8M339.7 214.7h0.8M342.4 215.1h0.8M346.6 214.3h0.8M343.7 220.2h0.8M345.4 218.7h0.8M346.3 205.9h0.8M347.0 214.1h0.8M347.7 220.1h0.8M345.1 209.6h0.8M341.4 214.4h0.8M343.5 209.7h0.8M348.3 207.9h0.8M349.1 211.9h0.8M348.3 214.3h0.8M345.7 208.6h0.8M342.3 207.1h0.8M340.7 216.1h0.8M341.5 219.6h0.8M349.1 219.9h0.8M344.1 211.5h0.8M348.6 218.4h0.8M348.9 214.9h0.8M341.5 207.8h0.8M343.9 217.7h0.8M340.5 216.6h0.8M343.0 219.7h0.8M346.2 211.1h0.8M347.7 205.9h0.8M347.7 206.9h0.8M343.3 208.7h0.8M348.4 215.9h0.8M340.2 217.5h0.8M344.6 209.2h0.8M350.9 211.4h0.8M343.9 219.9h0.8M347.8 218.0h0.8M339.8 218.0h0.8M346.4 216.2h0.8M344.7 216.2h0.8M343.3 216.2h0.8M341.7 215.3h0.8M350.0 215.6h0.8M342.6 213.2h0.8M351.0 215.4h0.8M347.8 216.0h0.8M341.3 215.6h0.8M348.2 217.9h0.8M346.9 214.1h0.8M341.1 219.2h0.8M350.3 216.9h0.8M344.9 214.7h0.8M340.7 212.3h0.8M349.2 206.4h0.8M345.3 219.1h0.8M348.0 213.5h0.8M346.7 216.5h0.8M345.1 214.5h0.8M347.8 219.9h0.8M341.9 220.3h0.8M342.8 215.0h0.8M342.5 219.0h0.8M347.9 216.1h0.8M340.4 218.5h0.8M341.4 208.8h0.8M340.9 217.6h0.8M348.8 212.8h0.8M340.5 216.5h0.8M346.9 216.2h0.8M342.0 205.7h0.8M350.2 218.9h0.8M348.8 211.3h0.8M345.0 211.1h0.8M343.8 214.7h0.8M347.4 215.7h0.8M347.1 212.2h0.8M343.9 206.5h0.8M349.3 213.1h0.8M347.0 209.6h0.8M342.5 216.0h0.8M342.8 212.4h0.8M344.5 212.2h0.8M345.2 218.0h0.8M343.6 215.0h0.8M350.0 207.9h0.8M343.5 218.4h0.8M344.1 218.5h0.8M345.8 216.7h0.8M350.2 213.3h0.8M341.1 208.5h0.8M352.1 217.2h0.8M347.9 210.4h0.8M345.2 219.3h0.8M347.0 218.9h0.8M341.7 211.3h0.8M347.5 219.1h0.8M350.4 209.3h0.8M351.8 220.1h0.8M348.0 209.8h0.8M344.4 210.1h0.8M341.2 212.4h0.8M349.9 210.6h0.8M340.2 208.3h0.8M345.0 216.6h0.8M342.9 218.5h0.8M344.2 216.0h0.8M343.6 214.1h0.8M347.3 206.1h0.8M350.1 216.8h0.8M342.2 210.3h0.8M344.6 218.6h0.8M347.7 215.7h0.8M346.4 206.6h0.8M341.4 216.5h0.8M345.8 216.5h0.8M343.3 213.6h0.8M342.6 217.3h0.8M348.6 212.3h0.8M340.9 218.2h0.8M346.5 214.5h0.8M343.1 214.1h0.8M345.5 213.2h0.8M350.5 218.7h0.8M347.7 220.2h0.8M350.2 213.2h0.8M344.5 214.9h0.8M344.7 214.1h0.8M346.9 218.6h0.8M346.4 213.6h0.8M342.2 219.2h0.8M345.1 211.8h0.8M341.3 216.3h0.8M348.0 206.5h0.8M350.8 213.3h0.8M343.2 216.2h0.8M343.8 211.7h0.8M352.2 213.7h0.8M346.5 219.2h0.8M347.0 213.2h0.8M344.6 217.4h0.8M346.4 206.8h0.8M349.0 220.0h0.8M343.5 218.7h0.8M347.3 206.5h0.8M346.3 220.3h0.8M346.8 207.9h0.8M343.0 214.4h0.8M343.8 214.0h0.8M344.8 218.2h0.8M346.0 209.0h0.8M342.1 212.7h0.8M346.2 213.5h0.8M342.5 208.8h0.8M349.0 207.5h0.8M348.9 220.2h0.8M344.2 215.5h0.8M348.5 214.2h0.8M346.4 219.4h0.8M342.8 214.8h0.8M349.1 217.1h0.8M346.9 219.0h0.8M348.0 205.9h0.8M347.2 214.8h0.8M349.0 218.6h0.8M348.3 210.4h0.8M344.1 209.2h0.8M343.1 213.8h0.8M348.9 207.1h0.8M345.9 220.2h0.8M341.3 218.5h0.8M346.8 207.3h0.8M342.5 216.9h0.8M348.6 208.5h0.8M346.6 216.2h0.8M349.3 215.9h0.8M350.8 213.8h0.8M350.1 212.1h0.8M348.1 217.1h0.8M343.2 217.0h0.8M341.4 217.3h0.8M344.3 216.0h0.8M346.9 211.2h0.8M343.7 216.7h0.8M349.9 215.7h0.8M348.9 208.4h0.8M345.6 214.6h0.8M346.5 215.5h0.8M343.9 211.2h0.8M339.6 210.7h0.8M342.6 217.9h0.8M350.3 212.7h0.8M340.3 210.0h0.8M348.8 216.3h0.8M347.7 215.3h0.8M350.1 216.4h0.8M340.0 211.1h0.8M340.5 213.3h0.8M351.2 208.0h0.8M346.8 207.7h0.8M341.2 220.3h0.8M342.2 211.3h0.8M350.8 214.7h0.8M344.0 219.0h0.8M349.2 213.9h0.8M348.8 219.6h0.8M346.7 212.7h0.8M339.7 219.1h0.8M344.0 212.8h0.8M347.4 218.9h0.8M341.2 218.7h0.8M341.9 210.0h0.8M342.3 209.0h0.8M345.7 214.7h0.8M345.0 212.4h0.8M349.9 220.2h0.8M344.8 219.7h0.8M346.3 219.9h0.8M345.8 209.3h0.8M348.6 215.5h0.8M349.4 217.6h0.8M340.3 209.9h0.8M348.6 220.1h0.8M341.1 210.5h0.8M349.4 215.5h0.8M348.1 208.7h0.8M348.2 217.1h0.8M345.9 215.8h0.8M345.9 214.7h0.8M346.4 219.7h0.8M343.7 209.6h0.8M350.7 216.5h0.8M341.4 215.2h0.8M350.9 210.1h0.8M342.8 206.5h0.8M350.0 211.2h0.8M341.9 211.6h0.8M351.8 210.6h0.8M344.9 218.0h0.8M348.6 219.9h0.8M345.2 210.2h0.8M343.2 219.0h0.8M350.6 218.9h0.8M349.0 211.4h0.8M345.1 211.4h0.8M350.7 216.8h0.8M345.0 215.9h0.8M340.7 214.4h0.8M349.4 211.9h0.8M349.1 219.1h0.8M344.2 219.7h0.8M348.3 208.3h0.8M341.6 212.5h0.8M344.1 217.2h0.8M348.2 219.9h0.8M341.1 213.4h0.8M339.2 216.4h0.8M340.2 211.9h0.8M343.5 215.9h0.8M350.7 217.8h0.8M344.4 217.3h0.8M340.0 219.7h0.8M343.5 211.4h0.8M350.7 216.2h0.8M341.0 211.5h0.8M344.2 208.5h0.8M344.8 212.5h0.8M341.4 207.3h0.8M350.5 212.1h0.8M345.2 219.8h0.8M346.6 211.4h0.8M346.7 213.0h0.8M345.0 211.0h0.8M341.1 219.2h0.8M347.6 205.5h0.8M341.0 211.8h0.8M348.6 215.7h0.8M341.8 212.9h0.8M351.4 219.4h0.8M342.4 214.8h0.8M349.2 213.8h0.8M346.4 218.6h0.8M339.9 214.8h0.8M347.7 217.7h0.8M346.6 216.0h0.8M350.1 216.3h0.8M350.4 218.8h0.8M349.5 207.4h0.8M344.3 216.1h0.8M351.7 218.8h0.8M341.5 216.4h0.8M343.7 211.0h0.8M349.4 210.5h0.8M347.7 214.8h0.8M344.9 216.9h0.8M342.4 207.3h0.8M345.5 219.6h0.8M347.7 215.7h0.8M344.4 219.2h0.8M350.6 216.6h0.8M340.4 219.6h0.8M343.4 214.9h0.8M350.3 209.0h0.8M343.8 216.2h0.8M349.3 219.7h0.8M349.5 214.2h0.8M348.3 217.8h0.8M344.2 210.8h0.8M342.6 212.6h0.8M342.9 210.1h0.8M343.0 218.3h0.8M346.3 211.2h0.8M345.0 205.8h0.8M343.0 213.5h0.8M341.1 210.5h0.8M346.7 211.0h0.8M350.7 209.7h0.8M342.3 206.1h0.8M342.8 219.5h0.8M349.8 213.3h0.8M347.0 212.3h0.8M341.1 216.7h0.8M349.0 220.1h0.8M345.5 219.8h0.8M341.8 206.4h0.8M348.3 214.9h0.8M346.2 208.6h0.8M350.1 218.6h0.8M350.5 216.1h0.8M346.4 210.5h0.8M347.1 217.1h0.8M342.5 219.2h0.8M345.6 206.6h0.8M349.2 215.9h0.8M342.2 210.9h0.8M343.4 210.9h0.8M350.4 219.3h0.8M344.5 216.2h0.8M349.2 216.7h0.8M346.3 214.6h0.8M342.6 217.2h0.8M346.0 207.7h0.8M342.4 210.9h0.8M347.6 215.1h0.8M349.7 207.8h0.8M342.0 206.6h0.8M346.0 218.2h0.8M348.4 206.6h0.8M347.3 219.9h0.8M341.7 219.1h0.8M340.2 220.2h0.8M342.9 212.6h0.8M344.0 209.4h0.8M341.5 215.7h0.8M346.2 211.1h0.8M351.9 215.7h0.8M341.1 212.7h0.8M348.7 216.6h0.8M351.3 215.6h0.8M347.0 209.3h0.8M345.9 215.1h0.8M345.4 206.2h0.8M349.3 215.1h0.8M345.6 215.5h0.8M343.9 206.5h0.8M344.9 206.1h0.8M350.1 210.9h0.8M344.9 219.2h0.8M346.2 207.2h0.8M342.9 211.9h0.8M344.3 212.6h0.8M341.1 213.1h0.8M342.3 212.2h0.8M344.2 209.5h0.8M339.9 215.2h0.8M347.6 207.1h0.8M348.4 210.0h0.8M341.7 207.6h0.8M344.0 215.4h0.8M343.6 206.1h0.8M348.8 212.2h0.8M347.1 210.7h0.8M350.1 217.1h0.8M350.7 217.7h0.8M343.9 213.3h0.8M340.6 219.4h0.8M349.7 214.7h0.8M346.4 217.9h0.8M349.8 218.9h0.8M341.6 219.6h0.8M342.0 210.4h0.8M346.7 220.2h0.8M339.9 211.9h0.8M341.2 219.9h0.8M341.7 211.3h0.8M340.0 208.1h0.8M346.2 218.7h0.8M340.2 215.5h0.8M349.6 217.3h0.8M352.2 217.9h0.8M351.9 209.5h0.8M351.3 215.1h0.8M346.6 220.4h0.8M340.7 213.2h0.8M352.0 220.0h0.8M348.9 218.8h0.8M344.2 215.1h0.8M348.6 217.5h0.8M341.0 209.8h0.8M340.4 219.1h0.8M347.4 210.9h0.8M342.2 215.4h0.8M349.7 217.8h0.8M350.5 207.6h0.8M346.5 206.1h0.8M341.2 211.4h0.8M345.2 205.3h0.8M349.0 207.9h0.8M344.0 216.3h0.8M343.1 220.4h0.8M341.4 216.3h0.8M341.0 217.8h0.8M343.4 214.8h0.8M344.8 215.9h0.8M351.3 213.8h0.8M345.3 210.1h0.8M347.8 209.0h0.8M348.5 213.1h0.8M347.1 218.3h0.8M342.4 216.9h0.8M346.0 214.0h0.8M340.2 209.9h0.8M349.5 208.0h0.8M349.5 213.9h0.8M342.2 216.6h0.8M340.3 215.1h0.8M343.6 218.2h0.8M342.2 215.4h0.8M344.8 214.3h0.8M348.5 217.0h0.8M341.5 212.4h0.8M344.0 207.9h0.8M345.3 207.3h0.8M348.7 207.6h0.8M341.2 209.2h0.8M348.8 217.3h0.8M346.1 208.3h0.8M345.5 215.7h0.8M346.4 219.6h0.8M342.9 210.1h0.8M346.3 214.6h0.8M344.9 206.7h0.8M343.2 215.6h0.8M343.2 211.0h0.8M350.4 217.2h0.8M341.9 217.3h0.8M348.2 209.9h0.8M340.8 218.2h0.8M344.3 208.4h0.8" stroke="#000" stroke-width="0.75" stroke-opacity="1.00" fill="none"/>
<path d="M340.5 200.1h0.7M342.1 202.5h0.7M340.5 202.0h0.7M339.6 201.8h0.7M340.4 200.4h0.7M341.2 204.0h0.7M341.4 202.7h0.7M341.3 203.6h0.7" stroke="#000" stroke-width="0.70" stroke-opacity="0.40" fill="none"/>
<text x="401.55" y="176.30" text-anchor="end" class="p">&lt;1%</text>
<path d="M321.50 237.00H407.50" stroke="#cacaca" stroke-width="0.8" fill="none"/><path d="M407.50 237.00V293.00" stroke="#dcdcdc" stroke-width="0.8" fill="none"/>
<line x1="321.50" y1="293.00" x2="407.50" y2="293.00" stroke="#777" stroke-width="0.9" stroke-dasharray="0.9 1.4"/>
<line x1="321.50" y1="236.50" x2="321.50" y2="293.80" stroke="#777" stroke-width="1.1"/>
<line x1="321.50" y1="274.50" x2="407.50" y2="274.50" stroke="#5a5a5a" stroke-width="0.9"/>
<text class="k" transform="translate(319.10 237.30) rotate(-90)" text-anchor="middle">10<tspan dy="-1" font-size="2.2">4</tspan></text>
<text class="k" transform="translate(319.10 251.30) rotate(-90)" text-anchor="middle">10<tspan dy="-1" font-size="2.2">3</tspan></text>
<text class="k" transform="translate(319.10 265.30) rotate(-90)" text-anchor="middle">10<tspan dy="-1" font-size="2.2">2</tspan></text>
<text class="k" transform="translate(319.10 279.30) rotate(-90)" text-anchor="middle">10<tspan dy="-1" font-size="2.2">1</tspan></text>
<text class="k" transform="translate(319.10 293.30) rotate(-90)" text-anchor="middle">10<tspan dy="-1" font-size="2.2">0</tspan></text>
<text class="k" transform="translate(314.90 267.24) rotate(-90)" text-anchor="middle">FL2-H</text>
<text class="k" x="321.50" y="297.60" text-anchor="middle">0</text>
<text class="k" x="338.70" y="297.60" text-anchor="middle">200</text>
<text class="k" x="355.90" y="297.60" text-anchor="middle">400</text>
<text class="k" x="373.10" y="297.60" text-anchor="middle">600</text>
<text class="k" x="390.30" y="297.60" text-anchor="middle">800</text>
<text class="k" x="407.50" y="297.60" text-anchor="middle">1000</text>
<text class="k2" x="364.50" y="300.60" text-anchor="middle">FSC-H</text>
<clipPath id="c43"><rect x="321.5" y="237.0" width="86.0" height="56.3"/></clipPath>
<g clip-path="url(#c43)"><rect x="340.2" y="279.7" width="10.2" height="17.6" rx="4" fill="#000" filter="url(#b12)"/></g>
<path d="M343.0 277.6h0.8M346.2 278.0h0.8M344.6 290.9h0.8M340.3 290.8h0.8M340.8 284.3h0.8M342.8 289.1h0.8M340.0 282.8h0.8M340.9 284.1h0.8M344.3 283.1h0.8M345.8 279.2h0.8M341.7 291.6h0.8M344.7 285.6h0.8M340.2 291.8h0.8M346.8 284.3h0.8M343.2 286.5h0.8M348.6 281.1h0.8M342.5 291.1h0.8M347.2 289.6h0.8M347.6 292.4h0.8M340.5 290.3h0.8M350.9 290.0h0.8M349.4 285.7h0.8M347.4 286.0h0.8M339.0 288.9h0.8M344.3 283.1h0.8M349.5 283.3h0.8M348.6 289.4h0.8M346.3 280.4h0.8M343.5 287.3h0.8M340.6 292.4h0.8M349.2 286.2h0.8M343.6 292.1h0.8M341.3 282.7h0.8M348.5 292.2h0.8M343.6 291.0h0.8M344.7 291.1h0.8M347.1 281.9h0.8M339.0 285.7h0.8M342.3 286.0h0.8M340.2 289.4h0.8M347.7 291.0h0.8M341.3 278.4h0.8M344.2 289.9h0.8M347.3 281.6h0.8M349.9 282.2h0.8M341.6 287.7h0.8M344.3 287.9h0.8M342.2 289.5h0.8M341.4 290.0h0.8M347.3 285.5h0.8M342.5 282.9h0.8M343.0 286.6h0.8M348.4 280.2h0.8M347.6 288.4h0.8M343.8 285.4h0.8M350.1 287.5h0.8M351.4 286.9h0.8M345.1 281.0h0.8M345.8 284.8h0.8M344.2 287.6h0.8M346.7 286.2h0.8M344.7 281.5h0.8M344.9 280.5h0.8M344.6 286.4h0.8M347.5 290.8h0.8M347.4 291.8h0.8M345.5 291.9h0.8M339.4 292.5h0.8M340.2 285.6h0.8M346.8 288.6h0.8M343.3 281.3h0.8M345.1 291.1h0.8M341.8 282.5h0.8M349.2 288.4h0.8M346.4 282.8h0.8M341.8 284.6h0.8M340.7 281.2h0.8M350.4 286.7h0.8M346.1 286.6h0.8M345.6 287.9h0.8M348.3 278.6h0.8M346.7 288.3h0.8M350.8 291.0h0.8M341.7 280.7h0.8M339.2 282.2h0.8M342.6 285.8h0.8M340.2 290.7h0.8M341.2 289.2h0.8M349.1 289.6h0.8M343.9 292.4h0.8M347.7 287.1h0.8M348.9 282.4h0.8M341.1 283.9h0.8M343.6 288.7h0.8M344.9 289.8h0.8M351.0 288.7h0.8M344.6 284.4h0.8M344.2 284.9h0.8M350.1 291.4h0.8M346.3 290.6h0.8M340.0 287.5h0.8M342.8 290.8h0.8M344.6 284.9h0.8M345.7 287.9h0.8M346.9 292.1h0.8M347.1 280.9h0.8M341.2 288.9h0.8M348.4 287.8h0.8M341.0 287.2h0.8M339.9 290.2h0.8M346.8 283.3h0.8M348.8 278.7h0.8M344.5 285.7h0.8M350.6 290.5h0.8M345.7 283.3h0.8M339.9 283.3h0.8M342.1 281.6h0.8M349.5 287.9h0.8M349.7 291.5h0.8M351.2 289.3h0.8M341.0 284.9h0.8M339.5 287.9h0.8M345.0 283.4h0.8M343.3 292.8h0.8M350.1 283.0h0.8M343.9 285.5h0.8M339.5 292.6h0.8M347.0 290.6h0.8M347.5 290.5h0.8M341.9 288.9h0.8M343.4 288.4h0.8M344.3 286.6h0.8M346.5 291.9h0.8M341.3 279.3h0.8M349.1 280.9h0.8M342.9 282.0h0.8M350.3 283.3h0.8M345.2 291.9h0.8M346.1 284.7h0.8M348.5 280.9h0.8M342.1 292.5h0.8M343.9 286.9h0.8M347.5 285.8h0.8M346.1 290.5h0.8M348.3 292.1h0.8M340.3 288.9h0.8M344.9 288.1h0.8M343.1 292.4h0.8M343.4 291.2h0.8M340.6 288.4h0.8M345.9 284.6h0.8M341.1 291.4h0.8M344.0 292.2h0.8M344.0 289.2h0.8M347.1 286.8h0.8M346.5 287.5h0.8M350.5 289.6h0.8M349.6 290.5h0.8M345.1 280.9h0.8M343.6 284.2h0.8M343.6 289.9h0.8M345.8 288.9h0.8M343.1 287.3h0.8M340.8 281.0h0.8M341.3 289.0h0.8M339.9 283.1h0.8M345.6 283.4h0.8M347.6 285.5h0.8M342.7 284.1h0.8M341.3 291.1h0.8M343.2 284.6h0.8M341.0 287.4h0.8M344.3 292.3h0.8M343.0 288.0h0.8M343.0 287.7h0.8M348.1 288.9h0.8M341.5 292.8h0.8M345.9 283.4h0.8M343.6 292.2h0.8M344.9 290.7h0.8M342.9 291.4h0.8M349.9 281.1h0.8M349.6 286.9h0.8M344.7 285.4h0.8M346.2 284.2h0.8M347.8 292.7h0.8M345.4 289.0h0.8M346.5 292.6h0.8M343.8 282.6h0.8M344.8 288.1h0.8M345.2 286.6h0.8M349.1 291.0h0.8M339.5 287.3h0.8M343.3 291.3h0.8M343.3 279.7h0.8M345.5 277.4h0.8M345.9 287.2h0.8M343.4 284.4h0.8M345.6 288.8h0.8M348.9 291.3h0.8M342.9 278.8h0.8M346.4 290.3h0.8M344.7 289.3h0.8M346.6 284.4h0.8M343.0 279.2h0.8M342.8 292.0h0.8M347.7 290.3h0.8M344.2 280.1h0.8M348.3 282.0h0.8M343.8 283.6h0.8M347.4 285.9h0.8M340.0 289.7h0.8M348.0 290.5h0.8M340.0 286.6h0.8M348.4 291.1h0.8M350.4 285.9h0.8M346.9 280.6h0.8M345.1 292.7h0.8M344.4 287.5h0.8M340.3 288.5h0.8M343.5 282.2h0.8M345.2 287.9h0.8M340.5 285.6h0.8M339.8 283.9h0.8M342.4 287.0h0.8M343.2 286.9h0.8M340.4 282.7h0.8M348.9 288.4h0.8M345.5 284.1h0.8M341.6 292.7h0.8M346.7 284.4h0.8M347.4 281.5h0.8M344.5 283.9h0.8M346.6 283.4h0.8M339.9 285.9h0.8M350.2 292.1h0.8M344.2 279.1h0.8M348.1 281.6h0.8M346.0 285.4h0.8M343.8 288.1h0.8M344.9 290.4h0.8M350.3 288.0h0.8M348.8 281.8h0.8M349.4 286.8h0.8M347.4 285.9h0.8M340.7 282.6h0.8M341.9 290.0h0.8M346.6 288.6h0.8M346.2 289.4h0.8M347.3 287.1h0.8M343.2 287.1h0.8M350.5 291.2h0.8M345.9 286.1h0.8M345.8 290.3h0.8M348.2 291.4h0.8M350.4 285.0h0.8M346.7 291.8h0.8M340.7 285.0h0.8M350.5 291.9h0.8M345.6 278.6h0.8M348.1 285.0h0.8M343.8 286.0h0.8M348.1 281.1h0.8M340.2 287.3h0.8M344.8 288.5h0.8M344.8 280.2h0.8M347.6 291.8h0.8M347.5 292.2h0.8M349.8 292.6h0.8M349.9 291.8h0.8M351.0 288.5h0.8M344.6 280.3h0.8M342.0 286.1h0.8M340.2 292.2h0.8M343.0 286.5h0.8M342.2 290.2h0.8M351.6 291.2h0.8M343.6 281.3h0.8M350.8 283.2h0.8M344.9 291.7h0.8M341.7 288.4h0.8M343.6 292.4h0.8M350.4 287.4h0.8M350.6 290.7h0.8M343.1 287.9h0.8M348.2 288.2h0.8M342.3 283.0h0.8M348.3 286.2h0.8M345.6 278.2h0.8M350.6 289.4h0.8M347.9 289.4h0.8M344.5 288.2h0.8M347.5 289.5h0.8M342.5 283.8h0.8M344.0 278.5h0.8M340.9 285.9h0.8M346.7 292.5h0.8M345.4 287.8h0.8M341.0 287.9h0.8M340.4 283.7h0.8M341.0 290.8h0.8M350.4 291.2h0.8M344.4 284.4h0.8M341.9 292.2h0.8M345.1 288.0h0.8M340.1 284.4h0.8M343.1 289.4h0.8M347.5 286.1h0.8M350.5 289.9h0.8M344.9 281.2h0.8M348.2 282.1h0.8M342.5 279.2h0.8M342.4 292.7h0.8M345.2 290.6h0.8M347.7 282.9h0.8M346.8 291.7h0.8M347.3 291.8h0.8M345.1 284.2h0.8M341.5 291.4h0.8M346.4 284.9h0.8M341.2 283.2h0.8M339.8 292.8h0.8M346.1 290.5h0.8M346.8 284.2h0.8M346.4 289.5h0.8M343.8 291.3h0.8M345.4 289.8h0.8M342.8 287.0h0.8M340.9 282.0h0.8M340.6 280.7h0.8M341.4 289.5h0.8M341.5 283.3h0.8M342.3 284.5h0.8M344.9 287.1h0.8M341.2 289.0h0.8M346.1 282.1h0.8M340.2 281.4h0.8M341.1 291.1h0.8M342.9 280.2h0.8M341.3 292.6h0.8M345.9 279.7h0.8M350.8 290.9h0.8M339.8 283.8h0.8M345.1 279.4h0.8M344.4 288.5h0.8M341.1 282.0h0.8M351.2 290.0h0.8M343.0 289.4h0.8M344.7 280.6h0.8M344.3 282.7h0.8M348.1 292.6h0.8M342.4 280.8h0.8M348.1 285.0h0.8M340.9 287.6h0.8M343.8 290.8h0.8M346.9 292.7h0.8M346.0 289.9h0.8M347.9 291.1h0.8M347.9 281.6h0.8M348.6 291.6h0.8M344.0 283.9h0.8M342.0 285.8h0.8M341.6 279.9h0.8M341.8 287.7h0.8M343.9 283.5h0.8M342.4 286.8h0.8M348.4 289.8h0.8M342.8 291.5h0.8M346.3 285.5h0.8M340.4 290.3h0.8M344.7 287.7h0.8M350.2 287.6h0.8M341.7 289.6h0.8M341.3 287.7h0.8M347.0 292.4h0.8M350.9 284.9h0.8M343.2 291.5h0.8M347.1 279.5h0.8M347.0 290.6h0.8M350.3 281.9h0.8M344.4 287.9h0.8M340.4 287.8h0.8M339.6 284.0h0.8M345.4 286.0h0.8M347.2 289.2h0.8M351.9 288.3h0.8M341.3 288.3h0.8M341.9 292.1h0.8M340.2 285.9h0.8M346.8 290.0h0.8M346.0 290.2h0.8M347.8 283.6h0.8M342.4 281.7h0.8M339.2 291.9h0.8M339.8 290.2h0.8M345.3 286.3h0.8M344.7 287.3h0.8M342.1 278.2h0.8M342.2 292.7h0.8M343.4 281.9h0.8M347.9 286.1h0.8M347.6 284.1h0.8M342.5 282.0h0.8M345.1 289.4h0.8M340.5 290.7h0.8M342.2 277.7h0.8M340.4 292.4h0.8M342.5 291.6h0.8M339.3 288.4h0.8M344.4 285.8h0.8M344.6 291.2h0.8M342.7 290.4h0.8M340.3 281.7h0.8M344.3 287.5h0.8M345.4 292.1h0.8M344.6 286.6h0.8M346.7 285.4h0.8M349.4 281.2h0.8M351.2 286.5h0.8M343.1 291.3h0.8M348.7 289.3h0.8M344.0 280.4h0.8M341.0 280.2h0.8M340.7 291.2h0.8M342.1 284.5h0.8M345.4 292.7h0.8M347.1 291.6h0.8M346.8 285.7h0.8M342.9 278.7h0.8M347.5 285.5h0.8M349.8 280.9h0.8M346.4 280.1h0.8M341.8 291.1h0.8M340.0 281.8h0.8M342.9 284.9h0.8M339.9 291.0h0.8M342.4 281.7h0.8M343.6 283.2h0.8M344.0 289.8h0.8M341.2 289.9h0.8M346.0 291.5h0.8M342.6 288.0h0.8M342.4 292.6h0.8M350.1 287.6h0.8M342.9 288.8h0.8M348.8 282.6h0.8M347.0 288.7h0.8M345.2 281.8h0.8M343.9 282.9h0.8M343.7 292.5h0.8M341.1 281.2h0.8M345.1 290.5h0.8M345.1 285.5h0.8M342.1 287.6h0.8M340.2 289.9h0.8M342.4 283.6h0.8M342.4 291.7h0.8M344.7 277.6h0.8M344.2 289.0h0.8M343.5 285.4h0.8M347.5 289.7h0.8M341.8 290.2h0.8M345.7 284.9h0.8M344.4 290.6h0.8M340.6 281.3h0.8M340.0 290.9h0.8M348.0 287.9h0.8M342.3 286.9h0.8M348.6 286.1h0.8M344.5 290.8h0.8M341.0 288.8h0.8M345.2 288.5h0.8M347.0 286.0h0.8M341.9 292.2h0.8M349.2 288.4h0.8M343.8 280.2h0.8M340.5 282.1h0.8M348.0 290.5h0.8M344.1 291.2h0.8M347.5 292.5h0.8M348.6 287.2h0.8M339.6 286.9h0.8M343.6 281.8h0.8M345.4 291.6h0.8M346.2 282.7h0.8M342.8 280.0h0.8M346.0 281.5h0.8M342.7 288.8h0.8M340.7 292.1h0.8M345.3 278.8h0.8M348.3 281.4h0.8M350.2 291.2h0.8M347.0 278.9h0.8M349.6 292.7h0.8M351.9 291.5h0.8M348.8 281.6h0.8M343.8 292.3h0.8M346.2 279.9h0.8M349.9 292.4h0.8M342.4 283.0h0.8M341.0 286.5h0.8M342.2 291.9h0.8M340.7 287.5h0.8M348.0 292.8h0.8M343.2 288.6h0.8M348.6 291.0h0.8M343.8 277.9h0.8M341.6 286.3h0.8M341.0 287.9h0.8M346.8 284.4h0.8M345.5 285.8h0.8M344.6 284.1h0.8M341.7 290.3h0.8M343.6 290.2h0.8M343.3 285.9h0.8M343.6 282.5h0.8M342.2 289.3h0.8M347.6 291.3h0.8M346.2 290.3h0.8M341.1 286.3h0.8M340.0 290.0h0.8M340.9 283.5h0.8M342.8 287.2h0.8M340.0 286.0h0.8M339.4 284.5h0.8M346.1 292.4h0.8M343.4 289.6h0.8M345.2 279.8h0.8M342.1 284.4h0.8M350.1 281.4h0.8M343.4 282.6h0.8M342.0 281.3h0.8M347.7 281.2h0.8M351.7 287.0h0.8M350.1 280.3h0.8M349.8 285.1h0.8M344.4 283.1h0.8M345.9 291.5h0.8M341.1 283.3h0.8M341.4 289.8h0.8M342.1 284.7h0.8M349.9 287.3h0.8M348.2 284.9h0.8M350.0 280.4h0.8M340.5 283.3h0.8M345.2 291.8h0.8M343.3 288.7h0.8M348.0 291.2h0.8M340.1 290.3h0.8M346.9 287.6h0.8M346.6 285.9h0.8M342.3 281.6h0.8M342.7 280.9h0.8M339.4 286.0h0.8M343.2 278.0h0.8M347.0 285.2h0.8M346.4 290.4h0.8M343.1 279.3h0.8M341.5 291.6h0.8M349.3 280.6h0.8M343.5 286.8h0.8M345.9 280.0h0.8M340.8 287.3h0.8M341.9 284.6h0.8M340.5 280.9h0.8M346.0 283.4h0.8M348.8 282.4h0.8M347.1 292.6h0.8M341.7 291.6h0.8M341.5 284.0h0.8M346.5 289.3h0.8M342.9 288.4h0.8M346.5 283.6h0.8M342.9 280.3h0.8M344.7 285.0h0.8M348.9 292.1h0.8M340.4 290.3h0.8M343.1 290.8h0.8M348.1 289.9h0.8M349.9 292.7h0.8M345.7 288.8h0.8M340.3 284.0h0.8M343.8 283.4h0.8M344.6 285.4h0.8M348.0 283.7h0.8M343.6 287.2h0.8M346.2 287.5h0.8M344.5 292.0h0.8M348.5 290.1h0.8M341.6 280.3h0.8M347.3 286.1h0.8M343.3 288.1h0.8M347.3 292.5h0.8M341.2 291.9h0.8M346.0 290.5h0.8M342.0 292.3h0.8M349.7 285.6h0.8M342.7 283.4h0.8M349.7 287.4h0.8M344.3 283.2h0.8M350.3 285.2h0.8M342.7 282.7h0.8M343.9 283.8h0.8M341.1 279.7h0.8M345.8 287.7h0.8M343.3 291.9h0.8M344.4 285.9h0.8M341.9 287.3h0.8M344.7 291.3h0.8M346.0 283.7h0.8M351.8 291.6h0.8M341.1 291.7h0.8M348.5 282.6h0.8" stroke="#000" stroke-width="0.75" stroke-opacity="1.00" fill="none"/>
<path d="M341.2 271.5h0.7M342.6 274.0h0.7M341.0 275.6h0.7M341.1 273.2h0.7M341.0 276.6h0.7M340.9 278.5h0.7M340.3 275.7h0.7M341.8 271.8h0.7" stroke="#000" stroke-width="0.70" stroke-opacity="0.40" fill="none"/>
<text x="401.55" y="250.30" text-anchor="end" class="p">&lt;1%</text>
<path d="M321.50 314.00H408.00" stroke="#cacaca" stroke-width="0.8" fill="none"/><path d="M408.00 314.00V370.80" stroke="#dcdcdc" stroke-width="0.8" fill="none"/>
<line x1="321.50" y1="370.80" x2="408.00" y2="370.80" stroke="#777" stroke-width="0.9" stroke-dasharray="0.9 1.4"/>
<line x1="321.50" y1="313.50" x2="321.50" y2="371.60" stroke="#444" stroke-width="1.1"/>
<line x1="321.50" y1="352.50" x2="408.00" y2="352.50" stroke="#5a5a5a" stroke-width="0.9"/>
<text class="k" transform="translate(319.10 314.30) rotate(-90)" text-anchor="middle">10<tspan dy="-1" font-size="2.2">4</tspan></text>
<text class="k" transform="translate(319.10 328.50) rotate(-90)" text-anchor="middle">10<tspan dy="-1" font-size="2.2">3</tspan></text>
<text class="k" transform="translate(319.10 342.70) rotate(-90)" text-anchor="middle">10<tspan dy="-1" font-size="2.2">2</tspan></text>
<text class="k" transform="translate(319.10 356.90) rotate(-90)" text-anchor="middle">10<tspan dy="-1" font-size="2.2">1</tspan></text>
<text class="k" transform="translate(319.10 371.10) rotate(-90)" text-anchor="middle">10<tspan dy="-1" font-size="2.2">0</tspan></text>
<text class="k" transform="translate(314.90 344.67) rotate(-90)" text-anchor="middle">FL2-H</text>
<text class="k" x="321.50" y="375.40" text-anchor="middle">0</text>
<text class="k" x="338.80" y="375.40" text-anchor="middle">200</text>
<text class="k" x="356.10" y="375.40" text-anchor="middle">400</text>
<text class="k" x="373.40" y="375.40" text-anchor="middle">600</text>
<text class="k" x="390.70" y="375.40" text-anchor="middle">800</text>
<text class="k" x="408.00" y="375.40" text-anchor="middle">1000</text>
<text class="k2" x="364.75" y="378.40" text-anchor="middle">FSC-H</text>
<clipPath id="c53"><rect x="321.5" y="314.0" width="86.5" height="57.1"/></clipPath>
<g clip-path="url(#c53)"><rect x="340.3" y="357.7" width="10.2" height="17.4" rx="4" fill="#000" filter="url(#b12)"/></g>
<path d="M350.0 366.5h0.8M341.5 366.0h0.8M346.0 360.2h0.8M341.3 366.2h0.8M343.3 359.8h0.8M344.9 358.0h0.8M349.3 370.1h0.8M342.9 362.1h0.8M343.2 367.7h0.8M345.0 359.1h0.8M342.2 365.4h0.8M345.8 358.6h0.8M346.7 357.3h0.8M343.0 357.3h0.8M340.7 363.2h0.8M346.1 362.2h0.8M343.8 358.4h0.8M341.4 361.5h0.8M347.6 370.0h0.8M344.4 367.0h0.8M347.5 361.1h0.8M348.1 362.0h0.8M351.3 363.5h0.8M341.6 363.9h0.8M340.8 369.3h0.8M345.2 360.9h0.8M341.1 368.1h0.8M339.4 367.4h0.8M345.1 360.3h0.8M344.5 362.1h0.8M348.2 362.4h0.8M345.1 358.0h0.8M341.3 360.4h0.8M346.0 364.8h0.8M346.6 365.6h0.8M342.0 362.3h0.8M341.1 363.3h0.8M345.1 362.3h0.8M342.7 355.8h0.8M344.9 362.3h0.8M347.2 369.9h0.8M344.0 367.0h0.8M340.1 361.0h0.8M346.1 364.4h0.8M346.7 360.2h0.8M342.1 356.2h0.8M341.5 357.8h0.8M341.0 357.4h0.8M344.3 364.0h0.8M340.9 369.6h0.8M345.5 360.0h0.8M342.5 364.0h0.8M347.9 370.1h0.8M342.5 359.5h0.8M342.8 360.8h0.8M341.5 367.5h0.8M343.3 365.0h0.8M341.5 361.1h0.8M345.2 366.1h0.8M347.2 360.6h0.8M348.7 365.5h0.8M345.8 368.6h0.8M345.0 363.9h0.8M348.0 368.7h0.8M347.7 364.8h0.8M343.8 367.4h0.8M349.6 367.8h0.8M345.1 358.3h0.8M342.6 368.8h0.8M345.4 364.8h0.8M346.2 364.0h0.8M343.6 357.9h0.8M346.0 364.1h0.8M342.8 360.7h0.8M341.9 362.7h0.8M339.9 358.1h0.8M341.3 368.3h0.8M341.0 357.3h0.8M348.0 359.5h0.8M342.2 366.3h0.8M339.8 358.9h0.8M347.1 364.2h0.8M344.8 367.7h0.8M344.8 368.6h0.8M343.6 359.7h0.8M349.7 366.1h0.8M341.5 365.7h0.8M345.4 360.8h0.8M350.6 370.1h0.8M340.1 358.2h0.8M340.7 367.7h0.8M350.9 364.8h0.8M343.0 368.7h0.8M349.2 368.3h0.8M339.7 366.4h0.8M344.9 363.1h0.8M340.8 366.6h0.8M344.0 364.3h0.8M341.7 360.3h0.8M346.9 364.0h0.8M341.8 366.4h0.8M343.7 366.2h0.8M347.8 364.8h0.8M339.8 369.0h0.8M341.5 363.6h0.8M344.7 361.4h0.8M342.5 369.8h0.8M341.5 362.3h0.8M348.1 361.2h0.8M344.5 361.6h0.8M349.7 370.3h0.8M343.1 360.6h0.8M343.8 364.4h0.8M343.5 361.7h0.8M340.3 360.5h0.8M342.9 369.2h0.8M341.8 357.7h0.8M349.5 363.6h0.8M344.6 361.9h0.8M351.3 370.4h0.8M347.1 369.2h0.8M348.4 368.7h0.8M348.6 365.4h0.8M348.7 366.2h0.8M343.5 355.2h0.8M347.9 368.4h0.8M345.4 367.1h0.8M340.3 367.6h0.8M350.1 366.8h0.8M345.9 368.3h0.8M340.0 369.3h0.8M341.1 365.0h0.8M346.5 367.1h0.8M349.9 368.4h0.8M345.9 362.6h0.8M341.0 367.6h0.8M347.9 364.6h0.8M348.7 367.7h0.8M340.8 369.1h0.8M343.3 364.7h0.8M347.4 364.7h0.8M347.1 359.0h0.8M345.8 357.4h0.8M347.8 368.8h0.8M342.6 369.2h0.8M341.9 359.9h0.8M347.6 369.7h0.8M349.1 362.9h0.8M346.5 365.8h0.8M342.1 360.1h0.8M341.2 363.3h0.8M348.8 365.7h0.8M343.1 366.6h0.8M346.0 361.5h0.8M350.1 368.2h0.8M347.0 368.0h0.8M340.3 368.7h0.8M340.7 357.5h0.8M347.1 366.9h0.8M345.4 370.5h0.8M348.0 366.4h0.8M342.3 361.9h0.8M342.5 369.2h0.8M347.1 357.1h0.8M350.3 363.9h0.8M344.9 368.6h0.8M341.9 369.9h0.8M347.5 368.3h0.8M347.8 356.3h0.8M349.0 363.2h0.8M342.1 359.1h0.8M346.0 367.5h0.8M346.5 370.3h0.8M347.8 368.5h0.8M348.0 360.6h0.8M345.7 366.0h0.8M351.6 364.4h0.8M343.6 363.5h0.8M349.8 359.5h0.8M342.7 355.4h0.8M343.7 367.0h0.8M341.9 369.3h0.8M340.7 361.8h0.8M343.6 368.9h0.8M344.9 367.4h0.8M346.7 360.3h0.8M340.2 362.2h0.8M343.9 357.9h0.8M347.1 366.0h0.8M339.7 362.5h0.8M343.6 362.1h0.8M341.9 364.0h0.8M347.6 357.8h0.8M340.3 367.7h0.8M341.4 357.1h0.8M347.6 364.3h0.8M342.0 364.3h0.8M351.4 369.0h0.8M346.6 359.3h0.8M340.6 361.9h0.8M350.9 364.2h0.8M341.9 358.2h0.8M345.1 361.8h0.8M344.1 356.5h0.8M346.6 370.5h0.8M341.9 368.7h0.8M348.6 359.9h0.8M346.2 365.3h0.8M346.4 365.6h0.8M346.4 362.9h0.8M345.2 366.1h0.8M347.0 362.9h0.8M346.1 363.6h0.8M346.9 367.4h0.8M344.1 364.2h0.8M345.1 370.4h0.8M347.0 366.4h0.8M344.0 365.5h0.8M343.9 361.0h0.8M347.1 357.9h0.8M347.3 359.8h0.8M344.8 357.2h0.8M344.0 362.5h0.8M349.9 364.3h0.8M340.0 366.0h0.8M351.2 369.6h0.8M350.9 369.8h0.8M343.5 367.8h0.8M343.3 362.2h0.8M343.3 361.9h0.8M348.0 365.6h0.8M349.5 359.5h0.8M347.5 358.4h0.8M342.8 360.8h0.8M347.2 365.9h0.8M342.1 364.1h0.8M346.8 356.7h0.8M345.7 370.3h0.8M344.8 357.6h0.8M349.0 363.4h0.8M348.1 358.9h0.8M341.3 370.5h0.8M343.3 366.0h0.8M345.1 366.6h0.8M340.6 369.7h0.8M343.7 370.3h0.8M344.9 361.0h0.8M341.0 360.4h0.8M343.4 369.4h0.8M350.2 360.9h0.8M344.5 369.2h0.8M351.4 365.3h0.8M341.9 361.9h0.8M340.8 365.3h0.8M342.9 368.8h0.8M346.3 363.7h0.8M348.6 367.2h0.8M339.1 366.6h0.8M347.6 366.4h0.8M340.4 363.3h0.8M341.0 369.0h0.8M339.8 369.1h0.8M341.7 363.3h0.8M344.6 366.1h0.8M340.9 368.0h0.8M345.3 356.1h0.8M347.3 370.4h0.8M342.4 357.3h0.8M350.1 365.4h0.8M343.6 365.5h0.8M347.1 362.0h0.8M345.9 364.2h0.8M346.4 367.2h0.8M347.7 359.7h0.8M340.7 367.6h0.8M348.2 361.3h0.8M343.1 367.1h0.8M349.7 359.2h0.8M346.1 362.1h0.8M342.9 358.3h0.8M343.9 362.1h0.8M341.3 369.2h0.8M347.5 363.4h0.8M349.3 363.1h0.8M346.1 361.2h0.8M349.2 362.2h0.8M349.3 362.8h0.8M343.4 359.8h0.8M342.1 364.6h0.8M344.6 362.7h0.8M341.0 364.8h0.8M350.4 366.0h0.8M350.6 370.1h0.8M347.0 365.5h0.8M348.3 364.9h0.8M341.8 360.5h0.8M345.7 366.9h0.8M347.2 365.0h0.8M349.1 360.6h0.8M341.0 363.7h0.8M342.0 361.8h0.8M346.4 363.4h0.8M346.7 362.1h0.8M348.1 368.7h0.8M343.2 370.4h0.8M344.9 365.0h0.8M345.4 357.2h0.8M344.4 365.6h0.8M342.6 365.6h0.8M351.1 362.8h0.8M342.7 369.3h0.8M340.7 370.3h0.8M349.0 363.5h0.8M343.7 369.4h0.8M346.5 369.3h0.8M344.0 364.9h0.8M346.9 358.1h0.8M348.2 363.0h0.8M346.9 365.7h0.8M340.6 363.4h0.8M350.5 359.2h0.8M346.9 367.3h0.8M344.2 369.4h0.8M343.6 356.5h0.8M344.2 365.9h0.8M344.4 364.8h0.8M344.6 369.3h0.8M351.2 362.1h0.8M345.0 362.4h0.8M345.4 368.3h0.8M348.5 360.7h0.8M341.0 368.1h0.8M345.4 358.2h0.8M343.6 368.7h0.8M347.6 365.2h0.8M351.0 359.2h0.8M343.8 365.0h0.8M346.6 362.8h0.8M344.6 356.0h0.8M344.5 365.4h0.8M349.3 368.0h0.8M343.1 369.5h0.8M340.1 364.0h0.8M347.1 370.2h0.8M344.2 364.5h0.8M346.5 367.5h0.8M341.3 357.7h0.8M345.7 357.2h0.8M347.2 363.0h0.8M347.2 367.6h0.8M343.4 366.4h0.8M343.6 368.6h0.8M346.2 368.4h0.8M339.8 367.3h0.8M347.9 369.8h0.8M346.6 366.1h0.8M342.5 359.9h0.8M342.6 363.4h0.8M341.6 364.4h0.8M346.1 359.5h0.8M346.4 370.1h0.8M346.0 356.5h0.8M349.2 360.0h0.8M344.4 356.9h0.8M341.5 367.9h0.8M346.3 362.5h0.8M347.4 363.9h0.8M341.9 357.6h0.8M350.6 360.2h0.8M340.6 362.6h0.8M345.1 360.8h0.8M345.0 358.0h0.8M347.0 367.4h0.8M347.6 362.1h0.8M345.0 369.1h0.8M346.8 369.8h0.8M349.8 361.1h0.8M347.5 361.8h0.8M344.9 365.7h0.8M342.8 365.2h0.8M348.8 358.5h0.8M339.6 362.8h0.8M349.2 367.6h0.8M344.1 360.9h0.8M340.3 362.4h0.8M350.8 363.3h0.8M340.5 370.0h0.8M341.6 367.7h0.8M345.9 365.6h0.8M347.2 369.6h0.8M350.9 369.4h0.8M342.7 362.9h0.8M346.5 365.6h0.8M344.0 362.9h0.8M342.4 362.5h0.8M342.0 367.7h0.8M347.6 362.9h0.8M346.3 356.9h0.8M345.0 367.6h0.8M348.1 369.6h0.8M341.3 357.5h0.8M341.1 363.0h0.8M341.7 356.6h0.8M345.5 363.9h0.8M346.8 367.7h0.8M342.0 366.3h0.8M343.1 360.2h0.8M343.2 364.7h0.8M343.7 365.8h0.8M340.3 368.6h0.8M344.2 368.3h0.8M341.7 370.5h0.8M344.5 356.5h0.8M351.3 363.3h0.8M340.6 363.8h0.8M344.1 356.0h0.8M343.1 359.4h0.8M348.6 366.7h0.8M343.1 357.1h0.8M344.8 366.9h0.8M348.5 367.0h0.8M348.8 357.0h0.8M345.0 370.1h0.8M345.7 362.0h0.8M350.2 368.4h0.8M343.8 362.6h0.8M342.6 368.1h0.8M352.2 365.7h0.8M342.6 366.5h0.8M340.4 359.1h0.8M347.7 365.7h0.8M344.1 369.1h0.8M344.5 369.7h0.8M344.1 368.5h0.8M345.0 361.6h0.8M342.5 364.6h0.8M346.6 370.0h0.8M342.4 358.5h0.8M345.4 359.9h0.8M348.5 362.2h0.8M343.3 361.1h0.8M348.7 358.0h0.8M341.8 367.7h0.8M346.4 365.5h0.8M343.1 368.6h0.8M341.1 366.7h0.8M342.4 366.8h0.8M348.7 358.3h0.8M343.1 358.5h0.8M343.0 362.6h0.8M343.5 368.0h0.8M345.6 357.3h0.8M349.2 370.6h0.8M341.0 364.9h0.8M348.8 365.3h0.8M344.8 363.4h0.8M350.7 363.8h0.8M344.0 357.5h0.8M347.2 367.9h0.8M341.5 367.9h0.8M344.4 361.7h0.8M347.8 360.1h0.8M347.5 363.1h0.8M340.6 357.1h0.8M343.8 367.4h0.8M341.3 370.6h0.8M350.3 365.3h0.8M345.5 370.4h0.8M349.3 369.6h0.8M340.7 363.8h0.8M345.9 367.0h0.8M343.1 360.5h0.8M339.8 360.8h0.8M350.7 365.8h0.8M350.3 365.9h0.8M342.9 365.3h0.8M347.2 357.1h0.8M350.8 358.9h0.8M350.2 360.0h0.8M349.6 367.8h0.8M341.5 366.2h0.8M343.9 365.3h0.8M347.5 363.4h0.8M339.9 370.3h0.8M342.5 365.4h0.8M344.6 361.0h0.8M345.3 369.4h0.8M342.7 367.6h0.8M351.1 362.4h0.8M351.1 368.6h0.8M350.0 368.9h0.8M347.9 362.3h0.8M344.5 361.5h0.8M346.8 361.1h0.8M341.0 364.6h0.8M347.2 363.6h0.8M343.4 366.3h0.8M340.7 367.9h0.8M348.6 361.0h0.8M339.9 370.1h0.8M341.7 369.7h0.8M344.4 365.8h0.8M343.6 366.1h0.8M346.0 358.1h0.8M346.5 369.2h0.8M343.0 362.1h0.8M347.9 359.8h0.8M339.9 359.8h0.8M342.9 364.5h0.8M341.6 362.9h0.8M340.8 362.9h0.8M349.5 365.5h0.8M347.5 364.0h0.8M347.3 359.9h0.8M347.4 370.5h0.8M349.2 361.8h0.8M341.2 361.8h0.8M346.1 364.2h0.8M344.4 365.0h0.8M347.2 367.9h0.8M349.8 366.6h0.8M351.2 364.2h0.8M344.5 361.6h0.8M340.8 369.9h0.8M348.2 358.2h0.8M341.2 362.4h0.8M348.0 367.7h0.8M348.9 366.5h0.8M347.7 363.3h0.8M347.8 357.2h0.8M348.1 357.2h0.8M349.2 369.1h0.8M349.1 364.4h0.8M344.5 361.3h0.8M348.4 365.0h0.8M345.2 369.4h0.8M341.1 362.2h0.8M340.5 366.1h0.8M346.8 367.3h0.8M342.6 366.5h0.8M343.6 370.4h0.8M344.2 359.8h0.8M341.5 367.8h0.8M342.7 366.4h0.8M351.6 368.0h0.8M341.4 362.7h0.8M340.4 360.0h0.8M346.4 358.3h0.8M340.4 366.2h0.8M346.0 369.1h0.8M343.6 360.2h0.8M344.3 361.9h0.8M340.3 370.1h0.8M345.2 360.1h0.8M340.6 366.7h0.8M350.0 367.4h0.8M349.8 357.8h0.8M350.0 361.2h0.8M344.3 362.4h0.8M348.9 369.3h0.8M340.8 368.2h0.8M350.2 361.0h0.8M350.1 368.9h0.8M343.3 366.1h0.8M341.6 362.4h0.8M346.3 369.1h0.8M349.8 359.3h0.8M349.0 363.8h0.8M349.6 368.9h0.8M349.5 365.4h0.8M341.2 368.1h0.8M343.7 358.9h0.8M346.2 368.2h0.8M350.5 362.2h0.8M344.0 363.7h0.8M344.2 361.8h0.8M341.8 363.8h0.8M343.1 365.1h0.8M342.7 358.5h0.8M347.7 365.3h0.8M340.1 359.1h0.8M347.0 364.4h0.8M340.3 364.3h0.8M342.4 369.2h0.8M342.8 366.8h0.8M342.6 365.5h0.8M341.9 367.3h0.8M340.4 363.3h0.8M345.7 366.5h0.8M342.2 368.6h0.8M342.1 358.8h0.8M342.4 363.1h0.8M347.0 358.1h0.8M350.2 357.7h0.8M343.3 369.6h0.8M343.6 358.5h0.8M342.3 356.1h0.8M347.7 357.3h0.8M348.6 363.3h0.8M344.9 357.8h0.8M348.0 369.0h0.8M347.8 359.4h0.8M348.3 368.8h0.8M347.9 359.7h0.8M346.8 361.7h0.8M348.1 364.8h0.8M342.0 364.2h0.8M341.7 363.9h0.8M342.2 363.1h0.8M344.6 363.3h0.8M345.9 369.4h0.8M346.0 362.2h0.8M345.1 369.7h0.8M345.1 358.8h0.8M340.9 370.0h0.8M341.9 367.6h0.8M342.3 366.2h0.8M343.8 361.0h0.8M346.3 370.4h0.8M343.8 368.9h0.8M345.3 362.6h0.8" stroke="#000" stroke-width="0.75" stroke-opacity="1.00" fill="none"/>
<path d="M341.4 348.3h0.7M339.8 351.3h0.7M339.9 354.3h0.7M340.9 351.4h0.7M340.8 349.2h0.7M341.6 352.4h0.7M341.7 353.9h0.7M340.0 351.9h0.7" stroke="#000" stroke-width="0.70" stroke-opacity="0.40" fill="none"/>
<text x="403.55" y="326.60" text-anchor="end" class="p">&lt;1%</text>
<path d="M427.50 26.10H515.00" stroke="#9a9a9a" stroke-width="0.8" fill="none"/><path d="M515.00 26.10V74.40" stroke="#dcdcdc" stroke-width="0.8" fill="none"/>
<line x1="427.50" y1="74.40" x2="515.00" y2="74.40" stroke="#777" stroke-width="0.9" stroke-dasharray="0.9 1.4"/>
<line x1="427.50" y1="25.60" x2="427.50" y2="75.20" stroke="#999" stroke-width="1.1"/>
<line x1="427.50" y1="59.50" x2="515.00" y2="59.50" stroke="#8c8c8c" stroke-width="0.9"/>
<line x1="452.50" y1="26.10" x2="452.50" y2="74.40" stroke="#a0a0a0" stroke-width="0.9"/>
<text class="k" transform="translate(425.10 26.40) rotate(-90)" text-anchor="middle">10<tspan dy="-1" font-size="2.2">4</tspan></text>
<text class="k" transform="translate(425.10 38.48) rotate(-90)" text-anchor="middle">10<tspan dy="-1" font-size="2.2">3</tspan></text>
<text class="k" transform="translate(425.10 50.55) rotate(-90)" text-anchor="middle">10<tspan dy="-1" font-size="2.2">2</tspan></text>
<text class="k" transform="translate(425.10 62.62) rotate(-90)" text-anchor="middle">10<tspan dy="-1" font-size="2.2">1</tspan></text>
<text class="k" transform="translate(425.10 74.70) rotate(-90)" text-anchor="middle">10<tspan dy="-1" font-size="2.2">0</tspan></text>
<text class="k" transform="translate(420.90 52.18) rotate(-90)" text-anchor="middle">FL2-H</text>
<text class="k" x="427.50" y="79.00" text-anchor="middle">10<tspan dy="-1" font-size="2.2">0</tspan></text>
<text class="k" x="449.38" y="79.00" text-anchor="middle">10<tspan dy="-1" font-size="2.2">1</tspan></text>
<text class="k" x="471.25" y="79.00" text-anchor="middle">10<tspan dy="-1" font-size="2.2">2</tspan></text>
<text class="k" x="493.12" y="79.00" text-anchor="middle">10<tspan dy="-1" font-size="2.2">3</tspan></text>
<text class="k" x="515.00" y="79.00" text-anchor="middle">10<tspan dy="-1" font-size="2.2">4</tspan></text>
<text class="k2" x="473.00" y="82.40" text-anchor="middle">FL1-H</text>
<path d="M462.0 65.8L470.0 61.4L483.8 58.7L481.3 65.8L477.5 71.1L468.5 70.3Z" fill="#000" fill-opacity="0.8" filter="url(#b12)"/>
<path d="M465.5 65.4h0.8M472.6 62.1h0.8M475.6 61.0h0.8M480.8 65.5h0.8M475.6 66.9h0.8M478.4 60.2h0.8M472.5 64.1h0.8M469.4 65.9h0.8M471.9 65.5h0.8M465.1 71.7h0.8M470.9 68.0h0.8M460.1 69.0h0.8M469.8 73.2h0.8M466.9 69.4h0.8M473.3 63.9h0.8M467.6 66.3h0.8M473.3 70.6h0.8M467.8 65.0h0.8M472.0 63.3h0.8M477.0 58.6h0.8M470.7 67.3h0.8M476.5 63.9h0.8M464.2 65.5h0.8M477.4 62.9h0.8M474.8 60.3h0.8M477.2 64.4h0.8M470.3 68.3h0.8M460.4 68.4h0.8M474.3 63.8h0.8M473.4 64.2h0.8M467.0 66.6h0.8M474.2 71.1h0.8M467.4 63.7h0.8M475.2 62.2h0.8M479.2 61.9h0.8M458.0 62.1h0.8M476.7 65.3h0.8M474.3 68.8h0.8M475.6 66.5h0.8M474.2 62.0h0.8M467.5 67.9h0.8M471.3 67.3h0.8M472.6 64.5h0.8M480.6 60.1h0.8M475.3 63.5h0.8M459.4 67.4h0.8M471.1 65.4h0.8M478.8 63.1h0.8M467.5 66.5h0.8M466.6 66.3h0.8M473.7 59.5h0.8M473.8 63.4h0.8M478.0 65.3h0.8M468.2 70.3h0.8M466.9 63.4h0.8M468.8 62.2h0.8M472.1 69.9h0.8M469.3 64.8h0.8M469.3 69.0h0.8M476.7 65.1h0.8M472.5 64.4h0.8M462.0 62.7h0.8M476.5 66.3h0.8M477.4 59.0h0.8M470.5 65.9h0.8M476.5 63.4h0.8M476.4 62.6h0.8M470.1 71.7h0.8M475.5 66.8h0.8M480.1 61.5h0.8M477.0 66.5h0.8M475.9 60.3h0.8M467.0 62.3h0.8M465.5 65.6h0.8M462.6 64.4h0.8M472.1 63.4h0.8M461.4 68.6h0.8M480.3 64.2h0.8M463.1 72.3h0.8M474.8 66.4h0.8M466.3 71.0h0.8M474.2 58.1h0.8M470.7 65.8h0.8M466.7 59.3h0.8M478.7 64.2h0.8M466.2 66.3h0.8M479.9 65.2h0.8M466.0 67.3h0.8M473.1 62.1h0.8M465.9 66.4h0.8M465.5 64.7h0.8M478.8 57.2h0.8M474.7 67.4h0.8M480.6 63.6h0.8M476.0 68.2h0.8M478.7 66.0h0.8M478.8 63.5h0.8M463.9 69.3h0.8M477.6 69.9h0.8M475.8 64.0h0.8M474.1 65.4h0.8M472.3 63.0h0.8M479.4 62.0h0.8M467.6 60.1h0.8M467.9 68.7h0.8M470.7 68.8h0.8M464.1 68.1h0.8M481.1 62.6h0.8M467.5 61.6h0.8M472.8 68.3h0.8M469.3 65.4h0.8M463.1 72.2h0.8M481.5 58.4h0.8M479.5 65.3h0.8M475.5 64.9h0.8M469.1 70.5h0.8M470.4 64.9h0.8M472.8 67.5h0.8M473.1 66.0h0.8M467.0 67.0h0.8M481.0 64.6h0.8M475.0 60.1h0.8M473.9 67.1h0.8M475.0 65.5h0.8M472.8 63.0h0.8M478.7 64.3h0.8M474.5 67.7h0.8M473.1 71.1h0.8M476.4 62.7h0.8M477.4 61.3h0.8M479.6 61.5h0.8M463.8 66.0h0.8M479.5 62.7h0.8M462.4 68.1h0.8M471.6 60.6h0.8M473.9 74.1h0.8M460.8 67.2h0.8M481.7 60.6h0.8M474.2 64.5h0.8M472.0 62.7h0.8M468.9 63.8h0.8M462.1 68.1h0.8M474.8 64.2h0.8M470.1 66.1h0.8M478.4 63.7h0.8M462.4 72.9h0.8M471.6 60.7h0.8M471.5 65.9h0.8M479.5 67.6h0.8M471.4 61.5h0.8M467.9 71.7h0.8M475.9 67.3h0.8M475.1 64.7h0.8M482.1 57.2h0.8M469.8 60.8h0.8M472.9 66.3h0.8M467.3 62.2h0.8M468.1 66.1h0.8M472.2 70.9h0.8M476.1 63.2h0.8M476.1 66.7h0.8M478.4 63.7h0.8M477.9 62.7h0.8M475.1 64.4h0.8M475.7 63.5h0.8M473.4 69.7h0.8M467.8 67.9h0.8M465.1 66.8h0.8M473.2 63.5h0.8M476.8 62.4h0.8M468.6 71.3h0.8M476.5 61.4h0.8M478.6 66.4h0.8M472.0 70.1h0.8M470.7 70.0h0.8M475.5 59.4h0.8M471.4 62.6h0.8M471.2 66.2h0.8M469.5 64.2h0.8M473.6 68.8h0.8M473.5 65.0h0.8M481.0 63.9h0.8M474.4 63.4h0.8M467.1 71.7h0.8M466.6 64.3h0.8M472.9 69.7h0.8M468.7 73.3h0.8M472.0 62.6h0.8M476.2 62.6h0.8M472.3 65.4h0.8M468.0 70.9h0.8M482.1 62.8h0.8M477.4 65.6h0.8M472.4 63.5h0.8M472.3 69.1h0.8M479.6 63.3h0.8M466.8 71.9h0.8M476.0 60.6h0.8M465.8 68.2h0.8M467.0 68.4h0.8M482.6 62.3h0.8M475.5 62.1h0.8M471.5 62.9h0.8M467.0 70.2h0.8M473.3 70.1h0.8M472.4 64.4h0.8M459.7 66.6h0.8M482.3 56.9h0.8M470.7 65.9h0.8M470.4 66.9h0.8M471.5 67.9h0.8M464.5 69.7h0.8M471.6 64.5h0.8M469.8 63.4h0.8M469.1 59.3h0.8M464.0 65.1h0.8M472.6 63.6h0.8M472.5 61.9h0.8M474.4 66.1h0.8M470.5 68.9h0.8M474.3 71.9h0.8M471.1 67.6h0.8M477.7 72.5h0.8M480.6 63.9h0.8M478.2 63.2h0.8M470.7 66.7h0.8M476.6 69.1h0.8M465.2 73.7h0.8M465.7 65.7h0.8M468.6 58.4h0.8M477.3 63.2h0.8M466.9 65.8h0.8M473.7 62.1h0.8M482.0 62.2h0.8M478.6 60.1h0.8M478.4 69.0h0.8M471.2 64.9h0.8M470.2 66.5h0.8M476.3 70.2h0.8M466.7 70.1h0.8M478.0 60.5h0.8M475.6 67.1h0.8M475.9 60.5h0.8M472.9 68.4h0.8M468.9 71.3h0.8M475.9 59.1h0.8M481.0 57.8h0.8M474.2 63.6h0.8M478.6 66.7h0.8M480.7 59.6h0.8M470.3 66.4h0.8M464.3 72.7h0.8M479.1 61.6h0.8M465.5 71.1h0.8M465.3 66.0h0.8M458.2 67.2h0.8M471.6 62.3h0.8M470.0 69.0h0.8M478.2 62.8h0.8M473.9 63.4h0.8M471.3 60.6h0.8M468.3 70.1h0.8M472.9 66.5h0.8M474.6 66.3h0.8M471.1 66.8h0.8M461.1 67.6h0.8M474.3 67.0h0.8M478.4 62.3h0.8M466.7 69.4h0.8M478.5 65.9h0.8M462.6 68.4h0.8M461.6 64.1h0.8M467.5 73.8h0.8M468.7 64.0h0.8M471.1 59.5h0.8M471.0 65.1h0.8M479.4 62.9h0.8M479.0 58.5h0.8M475.7 62.5h0.8M481.7 63.1h0.8M475.6 61.7h0.8M472.3 69.5h0.8M480.0 64.4h0.8M473.6 62.5h0.8M463.9 64.3h0.8M464.8 69.2h0.8M463.8 66.9h0.8M467.5 61.9h0.8M466.3 69.3h0.8M467.9 66.7h0.8M475.2 58.1h0.8M482.4 57.8h0.8M476.2 61.6h0.8M470.0 65.0h0.8M472.7 67.5h0.8M474.0 59.2h0.8M465.0 62.9h0.8M478.0 63.6h0.8M480.2 64.6h0.8M477.7 65.0h0.8M475.9 62.6h0.8M474.1 61.1h0.8M474.0 70.4h0.8M454.8 74.1h0.8M466.6 65.4h0.8M473.4 64.9h0.8M461.5 67.3h0.8M480.0 62.1h0.8M461.3 66.1h0.8M477.8 67.0h0.8M478.9 64.2h0.8M475.2 66.6h0.8M471.2 65.2h0.8M477.3 66.0h0.8M470.5 65.5h0.8M473.8 57.9h0.8M469.4 66.1h0.8M478.3 62.7h0.8M478.0 66.9h0.8M478.5 69.1h0.8M461.3 63.0h0.8M474.0 62.3h0.8M466.7 60.0h0.8M478.2 63.3h0.8M462.6 72.4h0.8M470.5 67.2h0.8M466.7 66.7h0.8M477.2 62.5h0.8M474.2 67.8h0.8M470.6 71.3h0.8M480.7 64.7h0.8M466.2 66.0h0.8M479.5 63.1h0.8M474.9 62.3h0.8M472.5 63.5h0.8M468.1 68.6h0.8M470.4 67.4h0.8M467.9 74.2h0.8M472.5 65.7h0.8M469.9 63.8h0.8M465.7 66.8h0.8M468.7 72.2h0.8M470.1 65.4h0.8M479.3 64.6h0.8M469.1 68.9h0.8M472.0 64.7h0.8M467.7 66.4h0.8M473.3 58.7h0.8M469.8 65.8h0.8M473.7 65.0h0.8M469.6 63.8h0.8M477.0 69.8h0.8M479.4 66.5h0.8M477.5 60.8h0.8M474.4 60.3h0.8M461.6 71.1h0.8M474.1 63.9h0.8M468.3 66.8h0.8M479.4 61.9h0.8M469.0 63.2h0.8M480.4 69.4h0.8M469.2 65.4h0.8M462.0 69.4h0.8M470.7 67.5h0.8M476.0 63.9h0.8M468.7 67.9h0.8M468.8 65.5h0.8M472.2 63.2h0.8M471.6 69.5h0.8M474.8 67.8h0.8M473.2 65.1h0.8M473.3 64.2h0.8M474.0 62.6h0.8M469.3 65.9h0.8M473.3 63.0h0.8M473.3 69.6h0.8M471.2 62.0h0.8M482.2 61.6h0.8M461.4 66.7h0.8M474.4 66.4h0.8M459.0 68.4h0.8M471.8 61.5h0.8M461.4 66.3h0.8M476.3 63.7h0.8M476.4 62.9h0.8M469.7 64.6h0.8M478.3 66.0h0.8M474.2 68.8h0.8M477.3 64.5h0.8M471.8 70.9h0.8M476.5 69.5h0.8M465.4 68.5h0.8M470.8 67.6h0.8M475.2 63.7h0.8M476.4 67.9h0.8M482.5 60.6h0.8M468.5 65.7h0.8M468.0 63.7h0.8M469.4 68.2h0.8M472.0 64.6h0.8M476.3 66.1h0.8M467.2 65.9h0.8M477.8 61.8h0.8M477.7 70.2h0.8M471.2 67.8h0.8M465.9 67.8h0.8M473.2 63.3h0.8M474.4 65.0h0.8M470.8 66.6h0.8M479.6 64.8h0.8M470.0 63.5h0.8M469.7 67.7h0.8M476.2 62.1h0.8M480.2 57.8h0.8M461.4 71.2h0.8M469.7 66.3h0.8M473.2 63.1h0.8M471.0 68.6h0.8M477.6 63.7h0.8M472.2 67.4h0.8M475.7 64.5h0.8M477.7 65.5h0.8M466.9 66.6h0.8M446.5 71.9h0.8M469.8 72.3h0.8M469.6 61.6h0.8M467.1 69.4h0.8M467.5 65.9h0.8M463.7 66.0h0.8M461.9 64.9h0.8M474.9 62.8h0.8M474.5 65.1h0.8M459.6 65.9h0.8M467.4 72.0h0.8M473.8 63.8h0.8M475.4 64.4h0.8M467.1 63.9h0.8M472.9 62.7h0.8M468.5 69.3h0.8M467.4 59.9h0.8M470.6 67.2h0.8M476.1 68.7h0.8M473.3 67.6h0.8M467.1 71.2h0.8M477.2 61.4h0.8M470.4 67.6h0.8M479.2 63.8h0.8M477.9 61.5h0.8M470.6 63.6h0.8M469.9 65.9h0.8M470.0 66.0h0.8M476.9 67.5h0.8M463.8 70.9h0.8M469.1 67.0h0.8M475.4 68.4h0.8M476.2 60.3h0.8M467.6 68.3h0.8M476.5 65.0h0.8M465.6 70.8h0.8M469.6 65.6h0.8M469.6 67.0h0.8M462.8 67.3h0.8M473.1 66.1h0.8M469.0 66.9h0.8M466.2 69.8h0.8M481.1 63.6h0.8M458.7 72.7h0.8M477.1 68.8h0.8M464.2 67.3h0.8M459.4 68.7h0.8M465.7 67.9h0.8M472.1 66.2h0.8M472.3 65.2h0.8M467.8 61.5h0.8M464.6 68.7h0.8M473.1 63.1h0.8M476.2 65.2h0.8M469.8 64.5h0.8M475.5 69.3h0.8M473.0 63.9h0.8M470.4 66.2h0.8M473.3 65.2h0.8M479.4 68.2h0.8M457.1 71.2h0.8M477.7 62.4h0.8M471.7 64.2h0.8M478.7 61.1h0.8M474.5 64.3h0.8M473.6 61.9h0.8M470.2 65.0h0.8M472.6 64.6h0.8M472.0 62.2h0.8M474.4 66.7h0.8M475.8 65.0h0.8M465.1 63.3h0.8M471.0 64.4h0.8M463.8 67.0h0.8M474.2 67.8h0.8M471.9 73.0h0.8M469.0 67.6h0.8M464.4 67.4h0.8M463.0 67.7h0.8M471.0 63.3h0.8M475.2 62.4h0.8M463.2 69.2h0.8M471.7 61.3h0.8M476.6 63.6h0.8M466.5 69.7h0.8M475.5 63.5h0.8M468.1 73.8h0.8M480.9 61.8h0.8M462.7 63.8h0.8M473.7 60.7h0.8M477.7 62.9h0.8M473.9 66.0h0.8M470.0 65.7h0.8M465.5 69.3h0.8M475.3 64.4h0.8M468.1 66.5h0.8M473.8 67.6h0.8M476.0 65.3h0.8M459.4 67.9h0.8M473.2 61.1h0.8M475.0 65.4h0.8M475.1 67.8h0.8M476.7 63.6h0.8M466.7 67.0h0.8M475.2 67.7h0.8M472.6 64.5h0.8M463.9 68.2h0.8M468.5 62.3h0.8M464.7 66.3h0.8M476.7 66.0h0.8M470.9 66.0h0.8M477.7 63.5h0.8M481.1 62.3h0.8M471.9 70.4h0.8M466.2 61.2h0.8M472.6 68.2h0.8M477.4 66.3h0.8M467.5 69.0h0.8M476.2 63.9h0.8M463.8 67.6h0.8M469.5 61.0h0.8M468.4 62.4h0.8M471.6 64.9h0.8M468.3 64.7h0.8M470.5 67.8h0.8M461.2 66.1h0.8M478.4 63.9h0.8M465.1 67.0h0.8M473.5 71.8h0.8M471.5 71.2h0.8M467.2 69.0h0.8M472.5 66.0h0.8M472.7 66.1h0.8M474.5 65.1h0.8M475.7 67.9h0.8M469.9 63.8h0.8M475.3 61.6h0.8M461.2 71.8h0.8M477.0 69.8h0.8M472.5 65.5h0.8M466.9 64.6h0.8M467.8 60.9h0.8M480.0 57.9h0.8M468.4 60.4h0.8M470.5 66.0h0.8M470.9 67.3h0.8M478.8 59.9h0.8M473.3 68.8h0.8M467.2 63.0h0.8M471.7 58.9h0.8M479.8 59.2h0.8M478.3 62.7h0.8M481.4 60.8h0.8M459.0 68.7h0.8M476.1 69.2h0.8M473.2 65.4h0.8M467.7 62.9h0.8M463.2 63.4h0.8M464.6 68.3h0.8M465.5 72.2h0.8M481.8 63.2h0.8M474.1 62.1h0.8M471.9 58.6h0.8M476.8 68.3h0.8M467.3 65.1h0.8M471.2 59.2h0.8M475.0 69.4h0.8M467.0 70.2h0.8M457.5 71.0h0.8M479.9 63.4h0.8M471.9 61.4h0.8M466.2 62.9h0.8M475.1 67.4h0.8M460.5 70.5h0.8M474.3 63.9h0.8M464.5 72.2h0.8M475.7 64.0h0.8M477.6 66.9h0.8M473.7 65.5h0.8M471.6 64.3h0.8M474.7 64.3h0.8M474.1 60.2h0.8M475.5 58.3h0.8M465.7 64.8h0.8M471.2 65.4h0.8M475.1 67.0h0.8M467.7 68.5h0.8M473.1 62.9h0.8M471.1 65.1h0.8M470.1 64.9h0.8M473.1 65.0h0.8M474.4 67.5h0.8M472.2 65.3h0.8M476.7 63.0h0.8M472.4 65.8h0.8M474.6 69.4h0.8M470.7 70.7h0.8M479.8 63.2h0.8M474.6 63.7h0.8M472.8 67.3h0.8M465.2 61.8h0.8M476.5 59.8h0.8M478.6 64.4h0.8M471.9 64.3h0.8M477.1 65.2h0.8M470.7 62.6h0.8M471.3 64.2h0.8M469.8 63.9h0.8M472.4 64.3h0.8M469.7 68.7h0.8M478.9 66.3h0.8M475.4 72.1h0.8M476.7 69.0h0.8M469.5 67.0h0.8M473.1 59.6h0.8M468.3 71.5h0.8M469.7 67.0h0.8M452.2 74.0h0.8M475.1 73.8h0.8M473.0 73.9h0.8M462.0 73.8h0.8M452.2 73.8h0.8M459.0 73.6h0.8M476.8 73.6h0.8M470.5 73.7h0.8M478.8 73.9h0.8M457.4 73.9h0.8M466.6 73.6h0.8M473.4 74.1h0.8M452.2 73.9h0.8M478.8 73.7h0.8M477.8 73.7h0.8M462.9 73.7h0.8M470.9 73.8h0.8M475.7 74.0h0.8M463.9 73.6h0.8M465.7 73.7h0.8M478.5 74.1h0.8M471.1 74.0h0.8M468.7 74.1h0.8M473.2 73.9h0.8M477.1 73.5h0.8M470.7 73.9h0.8M476.8 73.9h0.8M465.1 73.5h0.8M462.3 73.9h0.8M469.5 74.0h0.8M460.0 73.6h0.8M464.2 73.6h0.8M464.3 73.8h0.8M472.7 73.6h0.8M478.5 74.1h0.8M466.8 73.7h0.8M457.8 73.8h0.8M472.2 73.6h0.8M459.2 74.0h0.8M474.5 73.8h0.8M461.1 73.5h0.8M477.5 73.6h0.8M458.2 73.8h0.8M467.0 73.5h0.8M458.0 73.8h0.8" stroke="#000" stroke-width="0.75" stroke-opacity="1.00" fill="none"/>
<path d="M464.7 61.9h0.7M456.6 64.1h0.7M463.0 69.1h0.7M447.6 64.0h0.7M446.3 61.1h0.7M455.5 69.4h0.7M431.4 60.4h0.7M464.5 61.9h0.7M429.4 68.1h0.7M454.5 67.9h0.7M459.3 62.3h0.7M442.3 71.3h0.7M449.7 68.5h0.7M446.7 71.4h0.7M433.4 63.2h0.7M431.6 72.4h0.7M456.3 68.1h0.7M447.2 65.1h0.7M439.0 71.7h0.7M461.0 63.7h0.7M464.1 64.1h0.7M451.1 64.9h0.7M442.7 67.5h0.7M429.4 72.5h0.7M460.7 67.2h0.7M455.9 60.7h0.7M450.8 69.5h0.7M429.5 68.3h0.7M451.4 72.0h0.7M464.6 60.9h0.7M461.4 67.6h0.7M444.2 61.6h0.7M457.6 60.7h0.7M433.1 69.8h0.7M442.7 71.6h0.7M460.8 69.0h0.7M437.9 64.1h0.7M438.4 63.5h0.7M430.3 65.2h0.7M460.9 61.4h0.7M429.7 63.5h0.7M441.8 64.1h0.7M430.3 72.1h0.7M438.5 65.6h0.7M458.0 67.7h0.7M453.9 64.1h0.7M432.7 68.5h0.7M462.8 60.6h0.7M442.8 69.3h0.7M455.0 62.4h0.7M455.1 67.9h0.7M453.0 61.5h0.7M437.6 68.1h0.7M451.6 64.7h0.7M444.7 72.7h0.7M442.3 72.1h0.7M433.3 67.4h0.7M454.4 69.9h0.7M441.2 72.8h0.7M442.6 66.3h0.7M437.8 72.8h0.7M466.6 61.7h0.7M460.3 64.7h0.7M453.5 71.5h0.7M431.4 70.1h0.7M454.1 68.5h0.7M431.6 63.1h0.7M452.9 72.5h0.7M448.0 64.1h0.7M461.3 70.6h0.7M451.4 68.5h0.7M455.9 67.2h0.7M455.5 70.4h0.7M459.1 66.3h0.7M435.6 69.0h0.7M449.1 61.1h0.7M461.5 70.0h0.7M456.6 66.0h0.7M434.2 71.7h0.7M460.1 72.7h0.7M451.6 63.5h0.7M454.1 66.6h0.7M457.8 65.4h0.7M465.2 60.8h0.7M436.9 72.2h0.7M451.3 66.8h0.7M436.4 64.2h0.7M446.8 70.2h0.7M454.4 69.9h0.7M439.6 70.4h0.7M438.8 68.6h0.7M440.6 71.9h0.7M451.5 69.5h0.7M433.6 65.0h0.7M459.4 63.0h0.7M452.1 69.7h0.7M448.5 70.8h0.7M430.3 69.8h0.7M430.0 68.8h0.7M433.1 71.7h0.7M459.3 65.5h0.7M461.3 65.9h0.7M455.8 67.3h0.7M445.4 66.4h0.7M457.2 67.1h0.7M435.4 72.1h0.7M452.4 66.0h0.7M462.4 71.0h0.7M438.8 69.8h0.7M457.1 67.5h0.7M444.1 69.1h0.7M464.5 68.4h0.7M445.9 67.6h0.7M445.4 71.3h0.7M445.1 69.5h0.7M452.8 62.7h0.7M462.1 71.8h0.7M447.3 67.1h0.7M461.6 62.1h0.7M447.6 61.5h0.7M435.6 64.6h0.7M438.2 72.7h0.7M442.3 71.8h0.7M454.0 62.5h0.7M448.4 64.9h0.7M446.4 63.6h0.7M456.8 69.6h0.7M429.5 67.7h0.7M441.9 62.4h0.7M451.4 66.6h0.7M463.4 62.3h0.7M455.9 68.0h0.7M464.5 68.6h0.7M447.7 65.9h0.7M454.8 68.8h0.7M452.4 63.4h0.7M430.8 63.3h0.7M439.1 65.9h0.7M433.0 65.6h0.7M451.4 66.2h0.7M445.5 63.0h0.7M451.9 65.4h0.7M463.9 62.9h0.7M448.1 66.5h0.7M460.7 66.1h0.7M431.9 64.1h0.7M437.5 60.9h0.7M455.4 61.1h0.7M448.0 62.4h0.7M446.6 67.7h0.7M453.7 62.2h0.7M453.3 71.4h0.7M441.9 68.5h0.7M436.8 71.1h0.7M435.2 69.1h0.7M446.9 71.2h0.7M430.7 63.2h0.7M447.1 69.4h0.7M435.4 69.8h0.7M457.3 63.3h0.7M443.3 63.8h0.7M462.7 71.0h0.7M432.2 63.1h0.7M446.3 67.2h0.7M465.2 61.9h0.7M458.5 71.2h0.7M439.4 64.5h0.7M442.2 70.5h0.7M449.0 66.5h0.7M456.0 69.2h0.7M437.2 63.5h0.7M432.2 63.2h0.7M449.2 60.7h0.7M446.6 61.3h0.7M451.2 66.9h0.7M466.4 65.7h0.7M450.3 68.7h0.7M434.1 63.2h0.7M465.1 67.6h0.7M458.3 63.7h0.7M452.1 71.2h0.7M432.7 62.8h0.7M463.7 69.5h0.7M464.0 61.4h0.7M450.0 70.7h0.7M443.9 70.2h0.7M433.7 68.8h0.7M453.3 67.6h0.7M452.5 62.4h0.7M450.9 65.6h0.7" stroke="#000" stroke-width="0.70" stroke-opacity="0.42" fill="none"/>
<text x="450.95" y="37.80" text-anchor="end" class="p">&lt;1%</text>
<text x="504.25" y="37.30" text-anchor="end" class="p">2%</text>
<path d="M427.50 93.50H517.00" stroke="#9a9a9a" stroke-width="0.8" fill="none"/><path d="M517.00 93.50V144.40" stroke="#dcdcdc" stroke-width="0.8" fill="none"/>
<line x1="427.50" y1="144.40" x2="517.00" y2="144.40" stroke="#777" stroke-width="0.9" stroke-dasharray="0.9 1.4"/>
<line x1="427.50" y1="93.00" x2="427.50" y2="145.20" stroke="#8a8a8a" stroke-width="1" stroke-dasharray="1.1 0.8"/>
<line x1="427.50" y1="129.50" x2="517.00" y2="129.50" stroke="#5a5a5a" stroke-width="0.9"/>
<line x1="453.50" y1="93.50" x2="453.50" y2="144.40" stroke="#8a8a8a" stroke-width="0.9"/>
<text class="k" transform="translate(425.10 93.80) rotate(-90)" text-anchor="middle">10<tspan dy="-1" font-size="2.2">4</tspan></text>
<text class="k" transform="translate(425.10 106.52) rotate(-90)" text-anchor="middle">10<tspan dy="-1" font-size="2.2">3</tspan></text>
<text class="k" transform="translate(425.10 119.25) rotate(-90)" text-anchor="middle">10<tspan dy="-1" font-size="2.2">2</tspan></text>
<text class="k" transform="translate(425.10 131.98) rotate(-90)" text-anchor="middle">10<tspan dy="-1" font-size="2.2">1</tspan></text>
<text class="k" transform="translate(425.10 144.70) rotate(-90)" text-anchor="middle">10<tspan dy="-1" font-size="2.2">0</tspan></text>
<text class="k" transform="translate(420.90 120.99) rotate(-90)" text-anchor="middle">FL2-H</text>
<text class="k" x="427.50" y="149.00" text-anchor="middle">10<tspan dy="-1" font-size="2.2">0</tspan></text>
<text class="k" x="449.88" y="149.00" text-anchor="middle">10<tspan dy="-1" font-size="2.2">1</tspan></text>
<text class="k" x="472.25" y="149.00" text-anchor="middle">10<tspan dy="-1" font-size="2.2">2</tspan></text>
<text class="k" x="494.62" y="149.00" text-anchor="middle">10<tspan dy="-1" font-size="2.2">3</tspan></text>
<text class="k" x="517.00" y="149.00" text-anchor="middle">10<tspan dy="-1" font-size="2.2">4</tspan></text>
<text class="k2" x="474.04" y="152.40" text-anchor="middle">FL1-H</text>
<ellipse cx="480.1" cy="132.1" rx="7.2" ry="4.3" transform="rotate(-30.0 480.1 132.1)" fill="#000" fill-opacity="0.95" filter="url(#b12)"/>
<path d="M484.2 131.7h0.8M485.9 130.2h0.8M481.3 129.2h0.8M486.3 132.5h0.8M477.0 132.1h0.8M482.9 130.4h0.8M478.4 131.4h0.8M479.9 128.0h0.8M480.0 131.5h0.8M478.0 130.4h0.8M484.5 130.5h0.8M486.7 133.7h0.8M476.6 131.9h0.8M481.9 131.3h0.8M478.4 143.2h0.8M474.5 139.1h0.8M473.3 132.1h0.8M472.0 130.8h0.8M480.9 133.2h0.8M481.3 138.2h0.8M475.7 129.9h0.8M477.9 129.1h0.8M476.6 132.9h0.8M482.8 131.3h0.8M481.4 135.1h0.8M479.1 135.1h0.8M482.9 130.1h0.8M482.5 131.8h0.8M477.1 126.9h0.8M483.8 124.6h0.8M477.0 134.3h0.8M482.0 131.0h0.8M473.4 133.9h0.8M480.0 135.5h0.8M485.7 130.6h0.8M476.4 133.4h0.8M474.8 132.9h0.8M478.2 136.1h0.8M483.1 128.4h0.8M483.9 132.7h0.8M480.5 134.8h0.8M479.5 137.5h0.8M478.8 132.6h0.8M475.2 132.4h0.8M482.1 136.8h0.8M482.7 135.2h0.8M477.8 134.1h0.8M475.8 135.3h0.8M486.8 126.2h0.8M473.9 134.1h0.8M471.7 134.8h0.8M480.2 131.2h0.8M477.1 130.1h0.8M482.1 133.1h0.8M487.2 124.2h0.8M475.8 135.6h0.8M483.4 131.9h0.8M479.7 133.6h0.8M482.1 129.1h0.8M481.9 126.8h0.8M478.3 136.3h0.8M476.6 129.0h0.8M473.3 133.2h0.8M478.3 131.6h0.8M483.2 133.6h0.8M489.5 133.1h0.8M480.0 133.8h0.8M474.4 135.2h0.8M481.5 134.5h0.8M481.8 131.3h0.8M472.4 141.9h0.8M480.6 128.2h0.8M480.1 130.5h0.8M485.6 133.2h0.8M473.6 132.9h0.8M475.0 135.3h0.8M480.3 136.6h0.8M480.1 134.9h0.8M484.1 130.7h0.8M480.6 132.2h0.8M475.3 133.0h0.8M483.0 134.9h0.8M478.4 131.5h0.8M479.6 129.0h0.8M482.5 126.8h0.8M478.7 131.7h0.8M477.3 132.1h0.8M484.3 128.7h0.8M478.8 126.2h0.8M481.3 125.8h0.8M475.4 134.1h0.8M480.7 131.0h0.8M481.6 135.5h0.8M489.8 127.6h0.8M485.7 126.9h0.8M484.0 133.6h0.8M477.3 128.6h0.8M480.0 133.8h0.8M484.2 131.8h0.8M472.1 135.8h0.8M471.7 135.5h0.8M480.5 134.1h0.8M474.9 135.8h0.8M472.8 135.2h0.8M482.2 132.2h0.8M477.8 127.2h0.8M480.1 132.2h0.8M485.4 136.3h0.8M484.0 131.9h0.8M488.9 130.3h0.8M479.3 130.9h0.8M483.6 131.2h0.8M483.7 129.1h0.8M478.6 129.3h0.8M482.6 129.9h0.8M477.6 131.3h0.8M483.1 131.6h0.8M475.8 134.6h0.8M478.1 130.7h0.8M479.9 132.9h0.8M486.5 130.3h0.8M469.3 133.5h0.8M484.3 132.9h0.8M479.1 131.1h0.8M475.8 135.9h0.8M477.5 135.8h0.8M480.7 131.4h0.8M484.0 135.1h0.8M476.3 130.2h0.8M486.4 133.8h0.8M481.1 129.6h0.8M484.5 130.3h0.8M481.0 135.7h0.8M480.3 137.9h0.8M473.6 136.1h0.8M483.0 129.5h0.8M479.3 131.1h0.8M487.2 128.1h0.8M486.8 131.0h0.8M484.7 127.9h0.8M481.8 134.3h0.8M475.6 132.3h0.8M480.8 125.8h0.8M480.6 130.1h0.8M479.1 135.9h0.8M477.5 131.1h0.8M476.0 134.6h0.8M478.1 132.2h0.8M476.0 137.6h0.8M480.4 132.3h0.8M482.2 137.4h0.8M482.1 130.8h0.8M482.0 140.9h0.8M487.9 135.1h0.8M477.8 133.7h0.8M477.7 135.2h0.8M477.2 129.0h0.8M480.4 126.4h0.8M474.6 131.3h0.8M475.9 135.4h0.8M480.4 134.8h0.8M470.0 137.9h0.8M480.2 132.7h0.8M475.6 128.5h0.8M486.5 130.4h0.8M481.5 129.0h0.8M482.2 129.3h0.8M472.3 139.9h0.8M469.1 135.3h0.8M479.7 137.4h0.8M480.6 128.6h0.8M482.5 131.2h0.8M483.0 128.5h0.8M474.1 133.2h0.8M475.9 136.4h0.8M482.1 131.5h0.8M483.2 132.3h0.8M480.0 131.6h0.8M484.5 129.3h0.8M491.6 130.7h0.8M489.7 126.9h0.8M477.8 132.3h0.8M482.4 135.7h0.8M479.1 131.0h0.8M473.9 135.0h0.8M481.3 129.6h0.8M473.9 138.7h0.8M475.2 133.6h0.8M483.6 131.4h0.8M478.5 126.8h0.8M476.6 135.0h0.8M483.6 128.8h0.8M481.7 130.3h0.8M481.8 132.4h0.8M472.9 139.2h0.8M482.7 132.1h0.8M478.8 125.1h0.8M481.7 128.6h0.8M481.4 132.3h0.8M480.6 130.5h0.8M482.2 127.7h0.8M482.2 131.9h0.8M473.0 132.2h0.8M478.4 129.0h0.8M480.3 136.9h0.8M483.0 131.7h0.8M483.6 133.0h0.8M482.6 129.2h0.8M483.3 128.7h0.8M478.6 131.8h0.8M484.3 132.7h0.8M477.6 131.6h0.8M481.6 130.9h0.8M475.3 134.5h0.8M478.4 129.6h0.8M476.9 127.6h0.8M487.4 136.7h0.8M475.1 131.7h0.8M475.1 126.3h0.8M475.2 131.0h0.8M476.3 134.3h0.8M470.6 134.8h0.8M486.7 132.5h0.8M475.5 131.9h0.8M480.4 131.4h0.8M482.6 133.3h0.8M483.2 127.4h0.8M477.5 136.7h0.8M476.7 130.1h0.8M475.0 131.3h0.8M477.4 133.5h0.8M470.5 132.5h0.8M480.4 131.0h0.8M478.3 132.4h0.8M479.8 129.8h0.8M482.0 130.0h0.8M487.2 127.9h0.8M485.2 133.9h0.8M477.1 130.6h0.8M477.5 135.1h0.8M482.2 133.1h0.8M479.0 135.0h0.8M474.3 126.1h0.8M479.2 129.1h0.8M482.4 128.6h0.8M475.1 135.4h0.8M479.3 129.2h0.8M480.6 134.2h0.8M481.6 126.7h0.8M481.7 130.8h0.8M480.1 135.9h0.8M479.1 136.4h0.8M480.7 131.9h0.8M482.6 130.2h0.8M476.8 133.5h0.8M475.5 131.5h0.8M477.5 136.5h0.8M485.5 132.8h0.8M481.3 130.0h0.8M477.7 136.4h0.8M480.7 134.5h0.8M476.3 133.0h0.8M474.3 134.6h0.8M470.3 134.7h0.8M476.2 132.5h0.8M477.2 128.5h0.8M480.4 132.8h0.8M478.6 131.5h0.8M485.8 129.6h0.8M481.8 127.0h0.8M476.9 138.8h0.8M480.4 128.0h0.8M484.9 134.5h0.8M482.1 127.9h0.8M481.8 133.9h0.8M481.6 133.3h0.8M479.2 130.7h0.8M476.0 133.3h0.8M477.1 130.8h0.8M476.5 130.9h0.8M484.5 133.2h0.8M480.0 129.0h0.8M481.9 134.1h0.8M479.3 133.4h0.8M481.4 132.7h0.8M486.4 129.8h0.8M478.3 130.9h0.8M481.8 135.3h0.8M479.9 134.9h0.8M492.5 131.4h0.8M486.6 133.0h0.8M484.3 125.9h0.8M478.0 130.7h0.8M472.0 131.5h0.8M476.9 129.3h0.8M485.5 130.7h0.8M480.1 132.4h0.8M478.0 125.9h0.8M481.7 130.4h0.8M479.8 135.4h0.8M480.8 132.5h0.8M483.5 128.6h0.8M475.9 131.4h0.8M478.0 131.4h0.8M474.7 134.6h0.8M472.1 131.3h0.8M480.9 125.9h0.8M478.5 131.9h0.8M477.5 127.2h0.8M481.4 128.9h0.8M477.8 133.6h0.8M477.7 135.5h0.8M473.7 133.0h0.8M476.2 132.1h0.8M477.3 134.2h0.8M476.7 133.7h0.8M479.6 133.5h0.8M481.2 134.3h0.8M486.2 128.2h0.8M475.0 133.4h0.8M477.2 133.3h0.8M488.3 132.5h0.8M472.9 137.7h0.8M476.0 135.2h0.8M479.3 130.1h0.8M480.9 125.2h0.8M482.7 132.4h0.8M475.9 132.9h0.8M481.8 131.6h0.8M481.6 131.2h0.8M480.0 129.4h0.8M482.6 134.3h0.8M477.9 135.4h0.8M478.3 134.2h0.8M478.0 128.0h0.8M478.8 132.6h0.8M478.9 132.4h0.8M482.9 131.4h0.8M476.1 135.5h0.8M487.1 129.0h0.8M478.2 125.2h0.8M478.6 135.1h0.8M480.3 135.2h0.8M475.2 133.5h0.8M475.2 132.5h0.8M481.6 132.9h0.8M477.3 124.1h0.8M476.2 132.1h0.8M483.4 130.3h0.8M481.2 133.6h0.8M478.8 131.1h0.8M476.5 134.4h0.8M479.8 130.6h0.8M476.3 132.0h0.8M479.6 136.9h0.8M484.9 130.6h0.8M476.7 133.2h0.8M476.8 130.8h0.8M478.6 134.3h0.8M472.3 130.2h0.8M475.7 132.9h0.8M479.2 130.2h0.8M476.3 136.0h0.8M473.2 133.7h0.8M477.9 136.2h0.8M480.6 134.2h0.8M484.9 129.6h0.8M475.0 137.1h0.8M481.4 135.9h0.8M475.6 132.2h0.8M475.6 135.4h0.8M479.0 130.2h0.8M477.8 132.2h0.8M479.4 132.8h0.8M471.6 133.4h0.8M474.8 138.6h0.8M476.5 130.9h0.8M474.1 127.5h0.8M472.5 132.7h0.8M477.1 132.3h0.8M477.4 135.0h0.8M478.2 134.4h0.8M475.5 124.4h0.8M477.8 134.1h0.8M476.5 135.1h0.8M478.6 131.6h0.8M478.5 129.0h0.8M479.2 132.2h0.8M481.0 133.1h0.8M484.8 133.5h0.8M482.3 133.8h0.8M476.3 131.0h0.8M478.8 134.7h0.8M484.9 131.4h0.8M480.8 133.6h0.8M490.8 127.8h0.8M481.8 130.9h0.8M481.8 137.2h0.8M476.9 128.3h0.8M478.3 124.5h0.8M483.2 133.4h0.8M477.8 131.9h0.8M481.9 135.7h0.8M477.3 129.5h0.8M472.1 135.5h0.8M481.6 136.4h0.8M478.9 133.7h0.8M484.1 133.2h0.8M480.0 128.4h0.8M477.7 134.5h0.8M484.8 133.1h0.8M474.9 134.8h0.8M477.5 136.2h0.8M479.0 130.9h0.8M476.3 134.4h0.8M481.7 138.2h0.8M477.4 125.8h0.8M476.7 131.9h0.8M478.3 126.9h0.8M481.0 131.0h0.8M481.4 133.9h0.8M481.9 129.2h0.8M479.8 132.2h0.8M481.2 137.9h0.8M470.7 132.6h0.8M479.9 128.8h0.8M477.2 133.8h0.8M480.3 129.0h0.8M486.8 135.6h0.8M479.8 130.9h0.8M476.7 133.7h0.8M462.1 141.4h0.8M478.0 136.3h0.8M465.5 142.0h0.8M471.3 141.2h0.8M472.8 141.9h0.8M469.7 140.1h0.8M471.8 136.9h0.8M466.9 137.8h0.8M465.5 141.8h0.8M477.1 134.2h0.8M476.7 133.5h0.8M467.6 137.5h0.8M469.1 133.8h0.8M475.2 135.4h0.8M477.0 136.5h0.8M468.0 134.2h0.8M472.8 135.6h0.8M462.4 139.2h0.8M472.3 139.2h0.8M473.2 135.9h0.8M474.3 134.9h0.8M470.4 138.8h0.8M467.3 140.5h0.8M471.6 136.8h0.8M474.5 135.7h0.8M479.1 137.3h0.8M479.1 137.6h0.8M484.8 134.9h0.8M473.8 141.1h0.8M469.7 137.2h0.8M474.6 137.8h0.8M473.7 138.3h0.8M473.8 135.0h0.8M472.6 142.5h0.8M470.7 134.2h0.8M474.7 139.0h0.8M473.6 136.9h0.8M476.1 137.2h0.8M469.1 134.5h0.8M473.3 132.7h0.8M467.9 138.8h0.8M475.8 138.5h0.8M473.8 135.4h0.8M467.1 138.9h0.8M471.5 138.2h0.8M472.5 141.8h0.8M474.6 138.8h0.8M469.3 138.3h0.8M469.8 139.8h0.8M462.6 142.2h0.8M478.4 137.3h0.8M473.3 135.2h0.8M474.4 133.2h0.8M465.8 143.5h0.8M475.5 138.2h0.8M467.0 141.8h0.8M463.0 139.9h0.8M461.3 141.6h0.8M478.4 135.8h0.8M471.9 137.3h0.8M473.1 134.3h0.8M474.6 135.9h0.8M476.6 135.3h0.8M470.8 134.6h0.8M468.3 139.6h0.8M474.1 137.0h0.8M471.1 137.1h0.8M476.9 135.0h0.8M472.5 134.5h0.8M465.0 142.7h0.8M475.1 139.7h0.8M474.7 137.5h0.8M478.5 134.7h0.8M473.4 140.4h0.8M467.2 136.7h0.8M469.6 139.8h0.8M465.2 136.6h0.8M476.6 136.6h0.8M454.0 143.8h0.8M460.0 144.0h0.8M475.8 137.0h0.8M469.4 141.1h0.8M471.8 135.2h0.8M472.6 135.0h0.8M467.0 136.9h0.8M466.3 140.2h0.8M476.6 135.1h0.8M465.2 138.2h0.8M466.8 144.0h0.8M474.8 135.0h0.8M470.2 139.0h0.8M469.2 136.6h0.8M475.1 135.7h0.8M470.1 143.5h0.8M474.2 137.3h0.8M474.7 143.6h0.8M476.2 137.3h0.8M480.1 132.8h0.8M475.4 138.8h0.8M464.6 141.5h0.8M479.8 136.2h0.8M479.2 134.6h0.8M471.8 135.8h0.8M466.0 139.8h0.8M466.8 138.1h0.8M475.8 143.8h0.8M474.0 134.6h0.8M477.9 133.6h0.8M475.8 139.0h0.8M475.7 134.1h0.8M476.6 136.4h0.8M474.7 137.7h0.8M478.5 136.2h0.8M471.7 136.8h0.8M470.3 134.0h0.8M470.6 138.0h0.8M474.9 134.5h0.8M471.6 137.1h0.8M469.2 141.2h0.8M474.1 138.9h0.8M475.9 134.1h0.8M465.5 141.7h0.8M472.2 138.3h0.8M469.7 138.8h0.8M471.2 137.1h0.8M467.2 137.8h0.8M472.1 139.5h0.8M466.0 142.7h0.8M466.4 138.3h0.8M470.9 137.6h0.8M465.0 141.0h0.8M467.2 134.2h0.8M472.0 136.5h0.8M472.1 138.3h0.8M478.7 137.8h0.8M471.4 140.4h0.8M462.8 140.7h0.8M481.0 133.4h0.8M474.3 137.4h0.8M474.2 131.4h0.8M473.9 138.1h0.8M475.7 141.1h0.8M476.0 135.5h0.8M477.6 138.8h0.8M473.2 137.4h0.8M476.5 136.1h0.8M481.3 136.9h0.8M471.6 130.7h0.8M471.7 136.6h0.8M470.2 133.3h0.8M467.3 137.9h0.8M477.1 136.1h0.8M471.6 140.6h0.8M464.1 137.9h0.8M471.5 135.1h0.8M470.7 140.2h0.8M466.4 139.7h0.8M479.7 134.5h0.8M472.7 134.0h0.8M469.5 138.2h0.8M467.7 141.4h0.8M468.5 141.4h0.8M477.5 133.9h0.8M473.2 136.1h0.8M473.2 137.8h0.8M464.5 141.6h0.8M477.9 135.9h0.8M471.1 140.3h0.8M468.2 139.3h0.8M475.6 140.3h0.8M461.0 141.4h0.8M465.5 141.3h0.8M465.7 143.5h0.8M471.0 137.4h0.8M463.6 140.7h0.8M473.9 133.0h0.8M474.2 136.7h0.8M468.5 142.2h0.8M477.9 136.0h0.8M457.2 141.0h0.8M475.7 138.2h0.8M480.6 138.3h0.8M467.6 139.7h0.8M473.4 139.3h0.8M462.2 142.7h0.8M466.4 140.7h0.8M466.7 139.8h0.8M469.8 138.9h0.8M464.6 141.6h0.8M467.3 141.8h0.8M474.1 133.8h0.8M475.1 137.6h0.8M478.9 131.8h0.8M470.6 138.1h0.8M474.4 132.3h0.8M466.1 140.6h0.8M473.6 136.3h0.8M464.0 141.3h0.8M473.9 133.4h0.8M470.6 135.2h0.8M480.1 131.8h0.8M477.6 141.8h0.8M466.4 138.9h0.8M474.2 142.2h0.8M476.2 137.1h0.8M466.8 144.0h0.8M473.9 137.8h0.8M472.7 136.4h0.8M474.0 138.5h0.8M474.7 134.0h0.8M458.3 141.6h0.8M470.0 142.0h0.8M477.3 133.3h0.8M472.2 136.3h0.8M476.7 137.3h0.8M470.0 137.7h0.8M473.8 138.4h0.8M472.1 135.8h0.8M468.9 140.5h0.8M471.1 139.7h0.8M474.8 136.7h0.8M465.4 140.1h0.8M476.3 135.6h0.8M476.6 133.4h0.8M468.7 139.0h0.8M476.7 136.0h0.8M476.6 140.0h0.8M469.9 140.0h0.8M475.6 131.2h0.8M475.9 134.1h0.8M478.4 130.3h0.8M465.6 143.2h0.8M462.7 139.8h0.8M475.3 137.8h0.8M475.7 135.2h0.8M474.8 136.6h0.8M471.4 141.2h0.8M460.0 140.0h0.8M474.2 136.6h0.8M473.3 141.5h0.8M466.0 140.7h0.8M471.4 139.0h0.8M466.6 139.7h0.8M473.8 138.3h0.8M471.6 138.1h0.8M482.0 132.4h0.8M473.0 140.3h0.8M471.2 138.2h0.8M475.0 138.1h0.8M474.9 135.1h0.8M475.2 138.0h0.8M465.3 137.0h0.8M470.6 141.6h0.8M473.6 134.2h0.8M469.4 136.0h0.8M474.7 139.3h0.8M473.6 136.9h0.8M478.1 139.8h0.8M469.1 137.9h0.8M469.9 135.9h0.8M468.8 141.0h0.8M467.2 140.0h0.8M473.1 135.9h0.8M470.3 139.2h0.8M473.2 136.8h0.8M471.8 136.2h0.8M470.9 136.6h0.8M472.5 134.2h0.8M467.6 140.9h0.8M466.9 138.9h0.8M473.6 139.0h0.8M470.4 140.4h0.8M474.8 138.0h0.8M466.2 137.9h0.8M466.2 143.2h0.8M476.0 139.9h0.8M475.8 136.4h0.8M469.6 138.4h0.8M473.4 138.8h0.8M465.5 142.8h0.8M469.0 140.8h0.8M466.4 137.1h0.8M470.3 135.7h0.8M475.0 139.3h0.8M481.8 138.2h0.8M473.5 143.9h0.8M471.5 131.9h0.8M477.5 137.3h0.8M465.7 142.5h0.8M465.1 137.4h0.8M462.8 141.0h0.8M470.5 137.0h0.8M462.1 137.9h0.8M465.5 137.6h0.8M469.7 137.6h0.8M478.0 139.9h0.8M477.0 139.7h0.8M472.9 136.8h0.8M475.1 135.3h0.8M478.6 132.5h0.8M472.1 134.1h0.8M468.2 143.3h0.8M472.5 138.9h0.8M474.2 137.1h0.8M478.8 137.4h0.8M467.9 134.6h0.8M481.0 137.3h0.8M477.5 140.3h0.8M469.8 139.7h0.8M472.8 136.8h0.8M470.6 136.1h0.8M462.8 137.7h0.8M476.9 134.7h0.8M472.0 139.3h0.8M474.0 137.6h0.8M471.9 133.5h0.8M473.1 134.6h0.8M470.4 133.8h0.8M476.2 136.4h0.8M470.4 138.4h0.8M470.7 138.4h0.8M473.9 140.5h0.8M473.3 138.0h0.8M476.4 139.6h0.8M472.5 140.1h0.8M473.8 132.5h0.8M469.3 138.7h0.8M475.9 130.0h0.8M461.5 143.0h0.8M468.7 136.8h0.8M473.3 135.5h0.8M475.5 139.8h0.8M473.5 132.8h0.8M477.4 138.2h0.8M476.2 138.7h0.8M473.0 130.3h0.8M468.8 141.6h0.8M469.6 140.3h0.8M478.4 137.6h0.8M470.3 140.0h0.8M470.8 136.6h0.8M463.0 139.8h0.8M472.7 137.7h0.8M472.4 138.5h0.8M475.2 137.6h0.8M466.4 143.3h0.8M468.7 142.9h0.8M469.2 134.5h0.8M474.7 134.8h0.8M467.4 140.5h0.8M478.4 138.7h0.8M467.5 140.4h0.8M478.4 136.1h0.8M470.1 141.8h0.8M475.2 137.1h0.8M479.1 137.5h0.8M474.8 137.0h0.8M468.2 138.7h0.8M462.4 138.1h0.8M483.6 143.9h0.8M472.5 143.6h0.8M477.6 143.8h0.8M480.8 144.1h0.8M482.1 143.5h0.8M477.0 143.6h0.8M461.8 143.5h0.8M468.6 143.5h0.8M462.5 143.8h0.8M464.3 143.8h0.8M477.4 143.7h0.8M481.6 144.0h0.8M468.8 144.0h0.8M471.5 143.7h0.8M467.2 143.8h0.8M464.2 143.6h0.8M461.7 143.9h0.8M470.9 143.6h0.8M465.8 143.9h0.8M470.3 144.1h0.8M471.6 143.7h0.8M470.0 143.7h0.8M464.5 143.9h0.8M480.8 143.8h0.8M469.1 143.8h0.8M473.2 143.6h0.8M478.0 143.7h0.8M471.5 143.9h0.8M466.4 144.0h0.8M482.5 143.7h0.8M467.2 144.0h0.8M462.1 144.1h0.8M484.8 143.7h0.8M462.0 143.6h0.8M472.4 144.0h0.8M472.3 143.7h0.8M461.2 143.9h0.8M484.8 143.7h0.8M477.0 143.6h0.8M482.2 143.7h0.8" stroke="#000" stroke-width="0.75" stroke-opacity="1.00" fill="none"/>
<path d="M443.9 140.4h0.7M443.3 135.0h0.7M436.7 135.0h0.7M442.6 140.5h0.7M447.5 135.0h0.7M455.6 133.7h0.7M431.0 133.0h0.7M438.0 138.6h0.7M431.1 141.5h0.7M451.0 133.7h0.7M450.8 137.1h0.7M439.8 138.1h0.7M431.6 138.8h0.7M449.3 131.3h0.7M456.4 140.7h0.7M439.9 134.2h0.7M435.2 132.5h0.7M438.3 138.7h0.7M456.3 142.8h0.7M442.3 136.6h0.7M432.6 138.1h0.7M447.4 132.2h0.7M436.6 137.7h0.7M450.7 134.1h0.7M454.8 134.4h0.7M431.5 131.6h0.7M452.3 138.7h0.7M452.8 131.6h0.7M440.8 134.1h0.7M442.1 139.5h0.7M446.4 135.5h0.7M441.1 137.3h0.7M442.0 131.9h0.7M456.2 139.7h0.7M449.9 136.0h0.7M435.4 135.8h0.7M449.6 132.0h0.7M435.8 133.4h0.7M432.7 131.4h0.7M453.8 142.8h0.7M433.9 142.1h0.7M441.4 141.4h0.7M455.1 135.7h0.7M447.0 137.8h0.7M433.5 137.9h0.7M441.9 139.3h0.7M431.4 140.1h0.7M453.5 132.1h0.7M453.3 132.3h0.7M435.1 139.8h0.7M456.8 140.8h0.7M456.2 138.7h0.7M450.1 139.4h0.7M443.6 133.1h0.7M438.2 136.7h0.7M451.5 138.7h0.7M444.6 136.8h0.7M452.8 131.7h0.7M451.9 136.4h0.7M441.6 136.8h0.7M439.9 140.4h0.7M441.9 138.4h0.7M435.5 142.5h0.7M442.8 138.0h0.7M446.3 135.7h0.7M449.7 141.3h0.7M430.6 133.9h0.7M435.2 141.3h0.7M430.4 137.0h0.7M436.6 132.0h0.7M442.9 133.3h0.7M455.5 140.2h0.7M438.3 142.5h0.7M443.0 138.4h0.7M454.3 136.7h0.7M438.5 137.9h0.7M456.7 138.4h0.7M449.9 142.1h0.7M450.6 136.7h0.7M452.8 133.6h0.7M449.1 132.5h0.7M443.5 131.7h0.7M445.8 133.2h0.7M448.5 138.1h0.7M439.5 133.2h0.7M445.9 137.2h0.7M439.3 135.1h0.7M433.0 132.4h0.7M443.0 136.5h0.7M449.4 142.5h0.7M451.3 135.5h0.7M441.6 135.4h0.7M447.5 135.9h0.7M442.2 140.9h0.7M437.1 134.8h0.7M457.0 136.7h0.7M430.4 135.0h0.7M437.4 135.4h0.7M445.6 140.1h0.7M444.2 136.5h0.7M443.9 138.5h0.7M445.7 133.9h0.7M442.5 142.2h0.7M456.4 135.7h0.7M451.8 142.2h0.7M430.6 142.8h0.7M450.8 133.7h0.7M434.8 132.4h0.7M439.4 133.1h0.7M433.3 140.7h0.7" stroke="#000" stroke-width="0.70" stroke-opacity="0.50" fill="none"/>
<text x="451.75" y="106.70" text-anchor="end" class="p">&lt;1%</text>
<text x="504.95" y="106.00" text-anchor="end" class="p">8%</text>
<path d="M428.50 165.00H515.00" stroke="#9a9a9a" stroke-width="0.8" fill="none"/><path d="M515.00 165.00V215.80" stroke="#dcdcdc" stroke-width="0.8" fill="none"/>
<line x1="428.50" y1="215.80" x2="515.00" y2="215.80" stroke="#777" stroke-width="0.9" stroke-dasharray="0.9 1.4"/>
<line x1="428.50" y1="164.50" x2="428.50" y2="216.60" stroke="#8a8a8a" stroke-width="1" stroke-dasharray="1.1 0.8"/>
<line x1="428.50" y1="200.50" x2="515.00" y2="200.50" stroke="#5a5a5a" stroke-width="0.9"/>
<line x1="453.50" y1="165.00" x2="453.50" y2="215.80" stroke="#8a8a8a" stroke-width="0.9"/>
<text class="k" transform="translate(426.10 165.30) rotate(-90)" text-anchor="middle">10<tspan dy="-1" font-size="2.2">4</tspan></text>
<text class="k" transform="translate(426.10 178.00) rotate(-90)" text-anchor="middle">10<tspan dy="-1" font-size="2.2">3</tspan></text>
<text class="k" transform="translate(426.10 190.70) rotate(-90)" text-anchor="middle">10<tspan dy="-1" font-size="2.2">2</tspan></text>
<text class="k" transform="translate(426.10 203.40) rotate(-90)" text-anchor="middle">10<tspan dy="-1" font-size="2.2">1</tspan></text>
<text class="k" transform="translate(426.10 216.10) rotate(-90)" text-anchor="middle">10<tspan dy="-1" font-size="2.2">0</tspan></text>
<text class="k" transform="translate(421.90 192.43) rotate(-90)" text-anchor="middle">FL2-H</text>
<text class="k" x="428.50" y="220.40" text-anchor="middle">10<tspan dy="-1" font-size="2.2">0</tspan></text>
<text class="k" x="450.12" y="220.40" text-anchor="middle">10<tspan dy="-1" font-size="2.2">1</tspan></text>
<text class="k" x="471.75" y="220.40" text-anchor="middle">10<tspan dy="-1" font-size="2.2">2</tspan></text>
<text class="k" x="493.38" y="220.40" text-anchor="middle">10<tspan dy="-1" font-size="2.2">3</tspan></text>
<text class="k" x="515.00" y="220.40" text-anchor="middle">10<tspan dy="-1" font-size="2.2">4</tspan></text>
<text class="k2" x="473.48" y="223.80" text-anchor="middle">FL1-H</text>
<ellipse cx="481.7" cy="197.6" rx="7.3" ry="1.4" transform="rotate(-23.8 481.7 197.6)" fill="#000" fill-opacity="0.95" filter="url(#b1)"/>
<path d="M450.8 203.6h0.7M449.2 201.1h0.7M461.1 203.9h0.7M451.9 199.0h0.7M464.8 200.9h0.7M431.5 200.0h0.7M434.0 202.8h0.7M458.3 206.6h0.7M434.1 203.5h0.7M436.8 201.5h0.7M449.5 204.8h0.7M466.3 205.3h0.7M443.0 203.3h0.7M442.6 200.6h0.7M463.3 205.4h0.7M467.4 202.9h0.7M435.8 202.7h0.7M473.5 196.6h0.7M457.2 201.3h0.7M435.6 204.3h0.7M461.9 203.6h0.7M469.2 202.5h0.7M450.5 202.4h0.7M466.5 203.0h0.7M439.1 204.2h0.7M440.3 202.9h0.7M442.9 204.0h0.7M439.3 203.4h0.7M440.9 201.4h0.7M451.2 202.2h0.7M474.0 203.8h0.7M448.8 206.5h0.7M453.9 202.5h0.7M473.7 197.5h0.7M448.4 196.7h0.7M446.2 203.2h0.7M442.8 203.9h0.7M467.2 202.5h0.7M451.7 200.9h0.7M455.1 205.9h0.7M456.2 203.8h0.7M431.2 204.3h0.7M468.8 201.8h0.7M444.4 201.1h0.7M460.7 199.9h0.7M462.8 202.8h0.7M473.1 200.2h0.7M445.3 205.6h0.7M437.1 205.3h0.7M469.4 201.3h0.7M472.2 198.2h0.7M433.9 203.1h0.7M457.3 199.6h0.7M466.3 201.9h0.7M441.4 204.6h0.7M453.6 202.3h0.7M457.6 200.7h0.7M466.2 203.9h0.7M455.8 203.6h0.7M438.3 205.7h0.7M452.9 202.3h0.7M433.4 200.7h0.7M434.5 201.7h0.7M469.3 203.3h0.7M450.2 199.6h0.7M435.0 204.5h0.7M433.9 202.2h0.7M471.4 201.3h0.7M455.4 202.7h0.7M448.7 204.5h0.7M436.4 202.2h0.7M462.0 205.3h0.7M467.4 207.4h0.7M445.4 203.1h0.7M443.2 202.8h0.7M441.2 206.1h0.7M453.3 202.3h0.7M439.6 199.7h0.7M459.7 199.8h0.7M455.0 200.2h0.7M458.9 201.7h0.7M460.9 199.5h0.7M434.2 206.9h0.7M448.0 203.8h0.7M447.7 205.9h0.7M453.5 201.7h0.7M455.5 204.4h0.7M441.9 203.4h0.7M431.1 204.3h0.7M441.3 203.1h0.7M434.1 202.5h0.7M472.9 204.0h0.7M452.4 201.0h0.7M460.4 203.8h0.7M451.9 204.6h0.7M451.1 204.5h0.7M467.5 203.1h0.7M464.6 202.4h0.7M438.8 204.8h0.7M458.1 205.2h0.7M471.2 198.0h0.7M439.6 199.0h0.7M462.3 202.9h0.7M454.1 201.6h0.7M457.6 204.9h0.7M458.1 203.9h0.7M473.9 201.0h0.7M458.1 207.0h0.7M431.7 202.6h0.7M451.3 200.0h0.7M468.9 203.3h0.7M453.0 201.2h0.7M452.6 204.7h0.7M434.1 198.3h0.7M439.7 206.5h0.7M463.4 204.7h0.7M459.0 198.2h0.7M467.4 202.3h0.7M436.2 201.2h0.7M448.2 201.2h0.7M472.8 196.8h0.7M445.6 198.2h0.7M446.1 204.9h0.7M450.4 203.4h0.7M451.6 200.2h0.7M443.4 201.1h0.7M457.4 203.6h0.7M441.6 201.2h0.7M453.0 202.6h0.7M437.8 200.7h0.7M453.8 201.5h0.7M467.7 198.7h0.7M441.4 205.6h0.7M465.5 201.6h0.7M438.0 197.5h0.7M432.5 199.2h0.7M441.9 200.1h0.7M454.0 206.7h0.7M445.0 205.5h0.7M436.9 202.6h0.7M466.6 198.4h0.7M461.5 200.5h0.7M444.6 197.4h0.7M433.7 204.5h0.7M469.5 201.8h0.7M456.8 204.9h0.7M457.7 202.5h0.7M449.5 201.9h0.7M462.7 199.5h0.7M441.3 203.8h0.7M465.0 205.3h0.7M444.4 201.5h0.7M463.0 203.0h0.7M452.0 199.6h0.7M464.5 207.5h0.7M464.7 203.5h0.7M437.3 200.7h0.7M440.0 204.5h0.7M456.1 200.0h0.7M470.0 198.0h0.7M460.0 201.8h0.7M433.1 205.5h0.7M431.2 203.8h0.7M463.6 199.3h0.7M470.9 197.7h0.7M467.3 203.1h0.7M469.9 202.8h0.7M440.5 202.8h0.7M456.3 199.5h0.7M471.5 199.6h0.7M433.8 205.1h0.7M455.6 200.6h0.7M469.6 206.1h0.7M464.2 202.7h0.7M446.0 195.8h0.7M469.7 198.5h0.7M452.4 206.5h0.7M464.4 202.4h0.7M454.2 205.0h0.7M469.6 200.6h0.7M432.7 203.8h0.7M460.4 198.3h0.7M437.8 200.4h0.7M445.4 204.3h0.7M460.8 202.8h0.7M456.7 201.3h0.7M472.0 201.6h0.7M448.1 202.3h0.7M431.1 202.5h0.7M434.3 199.6h0.7M468.7 199.3h0.7M432.2 203.3h0.7M441.5 202.1h0.7M465.1 197.4h0.7M436.1 204.6h0.7M444.7 201.4h0.7M468.4 201.1h0.7M458.5 205.2h0.7M446.9 201.8h0.7M471.6 203.6h0.7M458.3 202.0h0.7M434.9 200.8h0.7M468.3 205.6h0.7M461.5 205.3h0.7M453.3 202.5h0.7M459.5 205.9h0.7M449.6 203.8h0.7M432.9 201.0h0.7M465.5 204.8h0.7M451.2 202.5h0.7M442.5 204.8h0.7M471.2 201.5h0.7M469.6 202.6h0.7M461.7 201.1h0.7M445.1 202.1h0.7M461.4 202.9h0.7M448.1 202.3h0.7M445.3 198.9h0.7M449.1 203.3h0.7M459.3 198.5h0.7M441.0 204.6h0.7M437.7 200.2h0.7M460.0 199.9h0.7M441.3 202.8h0.7M438.6 201.7h0.7M463.4 203.4h0.7M473.1 196.1h0.7M455.7 203.2h0.7M441.7 204.2h0.7M433.5 199.8h0.7M435.9 200.3h0.7M439.5 199.1h0.7M473.4 204.9h0.7M436.7 203.4h0.7M445.3 202.4h0.7M462.8 205.9h0.7M434.2 199.0h0.7M460.3 202.4h0.7M465.7 204.2h0.7M433.6 201.1h0.7M438.7 203.3h0.7M436.0 205.7h0.7M470.4 198.6h0.7M461.6 203.1h0.7M468.2 204.4h0.7M450.6 203.8h0.7M445.8 198.7h0.7M463.7 205.8h0.7M472.2 202.4h0.7M441.5 201.9h0.7M467.1 203.0h0.7M470.4 201.3h0.7M465.6 200.8h0.7M466.8 202.5h0.7M457.6 200.0h0.7M442.4 203.6h0.7M456.1 200.3h0.7M432.6 205.8h0.7M440.4 202.3h0.7M449.0 202.5h0.7M442.9 199.3h0.7M449.4 198.1h0.7M448.5 204.5h0.7M468.1 205.2h0.7M449.3 203.3h0.7M464.3 202.2h0.7M460.2 203.2h0.7M455.8 206.9h0.7M449.0 197.4h0.7M456.6 200.6h0.7M461.6 206.6h0.7M434.5 197.1h0.7M434.5 201.8h0.7M466.8 199.4h0.7M468.9 203.8h0.7M450.0 202.8h0.7M469.2 202.8h0.7M444.3 204.2h0.7M464.2 202.3h0.7M437.1 206.3h0.7M440.6 199.8h0.7M458.1 206.9h0.7M466.0 202.8h0.7M438.2 203.4h0.7M432.6 202.1h0.7M467.5 204.1h0.7M447.8 201.4h0.7M441.0 207.4h0.7M467.0 203.3h0.7M438.7 202.2h0.7M466.6 204.1h0.7M439.6 203.0h0.7M437.0 201.7h0.7M458.3 199.3h0.7M456.2 205.5h0.7M439.1 203.9h0.7M471.3 201.4h0.7M470.0 207.3h0.7M452.9 203.0h0.7M453.2 204.6h0.7M437.4 201.4h0.7M434.4 201.5h0.7M469.8 202.6h0.7M454.9 201.4h0.7M463.4 200.2h0.7M463.2 201.5h0.7M445.2 198.7h0.7M463.1 207.0h0.7M433.2 203.9h0.7M435.7 204.6h0.7M465.4 198.6h0.7M452.5 200.9h0.7M468.4 198.5h0.7M434.4 204.6h0.7M434.4 203.5h0.7M438.7 198.1h0.7M473.1 205.6h0.7M462.8 202.6h0.7M435.6 203.9h0.7M455.8 204.7h0.7M436.4 201.5h0.7M464.5 200.6h0.7M440.4 200.1h0.7M450.6 201.2h0.7M446.1 201.8h0.7M432.4 206.5h0.7M442.3 202.5h0.7M433.4 204.9h0.7M467.5 203.9h0.7M432.0 203.7h0.7M451.6 203.9h0.7M448.4 204.5h0.7M448.6 203.8h0.7M441.7 196.6h0.7M440.1 199.7h0.7M452.6 203.0h0.7M455.8 202.4h0.7M444.0 203.0h0.7M469.3 200.3h0.7M459.2 199.3h0.7M448.7 203.4h0.7M458.2 203.2h0.7M459.1 205.0h0.7M432.0 203.6h0.7M473.6 198.0h0.7M469.5 202.1h0.7M459.9 205.0h0.7M468.7 202.1h0.7M434.0 203.0h0.7M452.2 202.7h0.7M440.7 202.8h0.7M432.6 201.3h0.7M450.7 202.4h0.7M469.8 199.1h0.7M472.4 199.9h0.7M456.0 204.6h0.7M451.4 200.5h0.7M471.7 201.9h0.7M458.1 197.3h0.7M435.1 198.5h0.7M450.3 205.3h0.7M463.4 202.4h0.7M432.8 201.3h0.7M464.7 199.8h0.7M466.8 199.6h0.7M464.4 203.8h0.7M463.5 200.1h0.7M433.7 204.0h0.7M440.6 203.6h0.7M467.7 201.8h0.7M436.2 203.9h0.7M468.3 200.7h0.7M470.6 201.3h0.7M434.1 201.7h0.7M473.4 201.5h0.7M467.9 201.9h0.7M470.9 200.0h0.7M465.3 205.1h0.7M442.3 202.4h0.7M469.3 202.1h0.7M461.7 200.4h0.7M434.6 202.9h0.7M469.3 199.9h0.7M453.6 202.5h0.7M441.6 202.9h0.7M462.8 202.2h0.7M437.6 207.9h0.7M462.7 200.5h0.7M446.6 201.9h0.7M461.8 199.5h0.7M434.9 205.8h0.7M431.7 198.8h0.7M458.9 207.4h0.7M441.6 202.3h0.7M458.4 199.7h0.7M439.9 203.8h0.7M437.0 201.0h0.7M443.1 199.9h0.7M439.0 203.2h0.7M461.3 205.1h0.7M450.5 199.5h0.7M470.6 200.6h0.7M430.9 199.6h0.7M457.5 203.7h0.7M453.7 200.4h0.7M473.2 196.4h0.7M463.7 202.8h0.7M441.1 198.4h0.7M435.6 204.9h0.7M458.6 200.9h0.7M449.3 201.3h0.7M446.8 201.7h0.7M431.1 203.6h0.7M438.0 199.1h0.7M439.0 202.3h0.7M430.7 202.8h0.7M450.3 199.3h0.7M466.6 202.1h0.7M433.7 202.3h0.7M440.9 202.5h0.7" stroke="#000" stroke-width="0.70" stroke-opacity="0.52" fill="none"/>
<path d="M473.3 201.4h0.8M478.9 198.8h0.8M472.8 202.5h0.8M479.6 197.2h0.8M481.8 198.1h0.8M479.1 198.4h0.8M474.7 199.9h0.8M482.7 197.0h0.8M473.3 201.4h0.8M478.5 201.3h0.8M482.9 196.5h0.8M476.3 200.4h0.8M476.5 199.6h0.8M479.4 197.7h0.8M484.4 196.5h0.8M476.7 200.3h0.8M478.8 197.5h0.8M486.8 195.5h0.8M477.8 198.7h0.8M476.4 200.7h0.8M480.4 198.8h0.8M485.6 195.9h0.8M480.6 197.6h0.8M474.4 199.1h0.8M480.1 196.5h0.8M487.8 194.0h0.8M484.9 195.9h0.8M471.8 202.0h0.8M481.7 197.3h0.8M482.8 196.9h0.8M486.2 193.8h0.8M478.6 198.6h0.8M478.7 198.7h0.8M474.1 201.0h0.8M472.6 201.6h0.8M478.8 198.9h0.8M481.9 197.9h0.8M475.8 200.2h0.8M480.0 198.2h0.8M475.3 200.2h0.8M475.7 199.2h0.8M475.9 199.2h0.8M475.3 197.7h0.8M477.9 199.3h0.8M471.5 199.9h0.8M480.6 198.4h0.8M479.0 198.9h0.8M482.6 197.5h0.8M469.0 202.8h0.8M470.3 201.7h0.8M483.7 196.7h0.8M488.8 193.6h0.8M473.4 200.5h0.8M488.5 194.1h0.8M484.6 197.0h0.8M470.8 202.4h0.8M475.4 200.0h0.8M476.3 200.1h0.8M479.2 197.8h0.8M488.1 194.9h0.8M479.5 199.4h0.8M473.8 198.8h0.8M473.2 199.0h0.8M488.5 195.0h0.8M471.8 202.4h0.8M481.1 197.4h0.8M477.5 199.1h0.8M484.9 194.0h0.8M472.9 201.5h0.8M484.0 197.1h0.8M488.1 193.9h0.8M469.6 200.4h0.8M478.8 197.6h0.8M478.9 198.6h0.8M475.1 201.6h0.8M477.1 198.8h0.8M480.0 197.3h0.8M472.2 201.6h0.8M474.9 199.9h0.8M482.5 196.6h0.8M483.1 196.8h0.8M481.1 197.0h0.8M487.2 196.3h0.8M469.7 201.9h0.8M474.9 201.9h0.8M485.5 195.8h0.8M487.2 195.2h0.8M484.2 197.0h0.8M477.3 199.3h0.8M481.0 198.1h0.8M474.0 201.1h0.8M477.6 199.8h0.8M478.6 199.7h0.8M480.4 197.4h0.8M472.4 200.5h0.8M477.4 197.4h0.8M480.2 198.0h0.8M479.1 199.5h0.8M483.4 197.1h0.8M479.5 199.5h0.8M480.0 196.2h0.8M476.3 201.0h0.8M470.0 201.6h0.8M478.1 200.3h0.8M469.2 202.6h0.8M482.0 196.6h0.8M479.8 198.5h0.8M483.0 196.3h0.8M481.8 197.3h0.8M481.8 197.0h0.8M482.1 196.7h0.8M486.5 194.6h0.8M488.4 194.3h0.8M470.8 200.4h0.8M481.1 198.4h0.8M477.3 200.0h0.8M469.0 201.5h0.8M474.4 200.3h0.8M480.4 197.0h0.8M481.8 197.5h0.8M467.7 202.9h0.8M481.7 197.8h0.8M469.9 202.7h0.8M472.8 201.0h0.8M481.8 197.6h0.8M467.1 201.0h0.8M480.0 198.5h0.8M487.6 193.3h0.8M474.0 199.3h0.8M471.5 199.5h0.8M478.1 199.3h0.8M475.9 200.0h0.8M475.9 200.1h0.8M487.1 194.5h0.8M476.0 198.1h0.8M485.1 196.0h0.8M482.5 197.4h0.8M481.5 198.0h0.8M480.0 196.7h0.8M482.7 197.0h0.8M479.6 198.0h0.8M478.8 200.2h0.8M486.9 195.3h0.8M482.2 197.4h0.8M481.0 198.8h0.8M486.9 194.6h0.8M471.4 199.4h0.8M480.0 197.9h0.8M487.3 195.2h0.8M484.6 196.5h0.8M472.3 202.5h0.8M471.4 201.1h0.8M476.8 199.4h0.8M483.2 196.6h0.8M482.4 198.0h0.8M479.0 198.4h0.8M481.7 196.9h0.8M474.1 200.9h0.8M487.8 194.2h0.8M467.9 202.9h0.8M475.6 198.4h0.8M470.9 203.3h0.8M478.6 198.3h0.8M468.2 201.3h0.8M483.6 196.2h0.8M487.6 194.7h0.8M480.3 196.5h0.8M474.4 200.5h0.8M477.6 198.7h0.8M478.4 198.0h0.8M469.9 201.2h0.8M483.2 196.8h0.8M485.7 194.8h0.8M469.3 202.1h0.8M487.3 194.5h0.8M483.7 195.6h0.8M484.1 194.9h0.8M471.0 202.2h0.8M488.3 194.1h0.8M482.9 197.8h0.8M472.9 201.7h0.8M470.6 202.0h0.8M467.9 201.7h0.8M480.7 197.3h0.8M482.0 196.9h0.8M481.0 196.6h0.8M482.5 197.1h0.8M485.2 195.6h0.8M483.0 195.1h0.8M475.3 198.8h0.8M483.1 196.9h0.8M471.0 200.7h0.8M480.0 196.9h0.8M480.7 197.2h0.8M475.0 200.0h0.8M478.9 197.8h0.8M476.2 201.6h0.8M485.5 195.5h0.8M475.8 200.8h0.8M478.5 196.6h0.8M476.0 198.2h0.8M481.1 197.0h0.8M479.2 198.8h0.8M479.2 197.3h0.8M485.7 195.6h0.8M476.6 199.9h0.8M477.8 199.3h0.8M473.2 199.9h0.8M474.4 198.4h0.8M483.9 197.7h0.8M483.6 196.1h0.8M484.1 197.2h0.8M478.9 198.4h0.8M479.6 197.8h0.8M477.2 200.7h0.8M482.5 198.6h0.8M486.8 195.5h0.8M485.6 195.2h0.8M472.0 199.4h0.8M475.3 199.7h0.8M486.7 194.8h0.8M483.4 195.5h0.8M474.6 200.0h0.8M482.3 196.0h0.8M481.5 197.0h0.8M470.4 201.4h0.8M485.5 195.8h0.8M481.0 196.8h0.8M475.3 198.9h0.8M482.5 197.7h0.8M480.1 197.8h0.8M475.7 199.8h0.8M473.2 199.7h0.8M488.1 193.3h0.8M475.8 199.5h0.8M478.4 200.1h0.8M470.2 200.8h0.8M475.9 198.9h0.8M468.8 202.1h0.8M479.1 198.4h0.8M468.0 203.6h0.8M479.5 198.3h0.8M471.6 199.9h0.8M470.6 202.1h0.8M486.1 195.3h0.8M471.3 200.9h0.8M479.9 199.5h0.8M485.5 195.8h0.8M484.6 195.5h0.8M486.2 194.4h0.8M475.9 199.7h0.8M478.7 198.0h0.8M486.2 195.2h0.8M468.8 202.3h0.8M475.4 200.3h0.8M471.6 199.2h0.8M486.7 195.0h0.8M477.5 198.5h0.8M477.6 198.9h0.8M476.6 198.5h0.8M473.6 199.0h0.8M472.6 198.9h0.8M477.6 200.1h0.8M476.6 197.9h0.8M488.2 194.2h0.8M472.7 202.9h0.8M483.5 195.6h0.8M483.2 196.4h0.8M482.5 196.6h0.8M467.6 202.2h0.8M478.7 199.5h0.8M475.2 198.2h0.8M484.0 195.5h0.8M484.8 196.1h0.8M477.1 200.6h0.8M476.1 200.2h0.8M475.0 199.6h0.8M478.9 197.9h0.8M486.1 194.7h0.8M479.7 197.6h0.8M474.0 200.2h0.8M476.9 199.0h0.8M479.2 199.1h0.8M479.0 198.0h0.8M476.2 200.1h0.8M481.6 196.9h0.8M486.8 194.4h0.8M470.8 200.1h0.8M482.3 197.6h0.8M484.5 194.7h0.8M485.5 196.4h0.8M467.0 199.8h0.8M477.9 199.7h0.8M484.5 196.9h0.8M473.9 200.5h0.8M484.9 195.7h0.8M482.4 196.1h0.8M485.0 197.0h0.8M472.0 198.4h0.8M477.2 198.7h0.8M481.3 198.0h0.8M482.7 196.2h0.8M484.9 195.2h0.8M475.5 199.3h0.8M471.1 201.6h0.8M480.5 198.6h0.8M482.1 196.5h0.8M475.1 198.8h0.8M479.3 198.3h0.8M488.4 194.1h0.8M486.5 195.0h0.8M479.4 197.2h0.8M486.5 195.2h0.8M487.9 193.9h0.8M489.1 194.4h0.8M485.4 195.4h0.8M471.4 202.4h0.8M473.1 200.4h0.8M483.9 196.9h0.8M477.3 199.7h0.8M485.1 195.4h0.8M477.3 197.7h0.8M473.2 202.5h0.8M483.3 197.9h0.8M481.5 197.4h0.8M473.6 202.6h0.8M470.7 200.2h0.8M480.8 197.0h0.8M468.6 201.5h0.8M472.7 201.5h0.8M474.9 199.6h0.8M488.2 193.8h0.8M480.8 198.2h0.8M488.3 195.5h0.8M482.0 197.9h0.8M482.3 196.9h0.8M483.4 197.5h0.8M473.6 201.2h0.8M485.0 195.5h0.8M469.4 200.8h0.8M480.6 198.9h0.8M476.8 200.0h0.8M468.2 202.3h0.8M484.8 195.5h0.8M472.1 203.6h0.8M477.6 199.3h0.8M483.0 195.4h0.8M480.5 197.9h0.8M467.7 201.1h0.8M482.4 195.2h0.8M477.8 200.5h0.8M466.7 201.1h0.8M487.9 194.8h0.8M484.3 196.3h0.8M486.3 196.0h0.8M481.1 196.7h0.8M475.2 199.4h0.8M482.4 196.3h0.8M481.1 197.7h0.8M473.5 200.7h0.8M477.9 197.9h0.8M485.5 195.5h0.8M478.0 197.8h0.8M479.6 197.4h0.8M474.2 199.8h0.8M480.6 197.1h0.8M473.9 202.1h0.8M485.2 196.3h0.8M478.3 200.3h0.8M477.8 200.8h0.8M482.4 197.1h0.8M487.9 193.4h0.8M473.2 199.8h0.8M475.8 198.8h0.8M474.2 200.0h0.8M487.0 195.4h0.8M475.3 200.6h0.8M473.1 201.3h0.8M467.9 203.0h0.8M477.9 198.2h0.8" stroke="#000" stroke-width="0.75" stroke-opacity="1.00" fill="none"/>
<text x="448.75" y="176.80" text-anchor="end" class="p">5%</text>
<text x="514.15" y="176.80" text-anchor="end" class="p">61%</text>
<path d="M426.50 237.70H515.00" stroke="#9a9a9a" stroke-width="0.8" fill="none"/><path d="M515.00 237.70V292.20" stroke="#dcdcdc" stroke-width="0.8" fill="none"/>
<line x1="426.50" y1="292.20" x2="515.00" y2="292.20" stroke="#777" stroke-width="0.9" stroke-dasharray="0.9 1.4"/>
<line x1="426.50" y1="237.20" x2="426.50" y2="293.00" stroke="#8a8a8a" stroke-width="1" stroke-dasharray="1.1 0.8"/>
<line x1="426.50" y1="276.50" x2="515.00" y2="276.50" stroke="#5a5a5a" stroke-width="0.9"/>
<line x1="451.50" y1="237.70" x2="451.50" y2="292.20" stroke="#8a8a8a" stroke-width="0.9"/>
<text class="k" transform="translate(424.10 238.00) rotate(-90)" text-anchor="middle">10<tspan dy="-1" font-size="2.2">4</tspan></text>
<text class="k" transform="translate(424.10 251.62) rotate(-90)" text-anchor="middle">10<tspan dy="-1" font-size="2.2">3</tspan></text>
<text class="k" transform="translate(424.10 265.25) rotate(-90)" text-anchor="middle">10<tspan dy="-1" font-size="2.2">2</tspan></text>
<text class="k" transform="translate(424.10 278.88) rotate(-90)" text-anchor="middle">10<tspan dy="-1" font-size="2.2">1</tspan></text>
<text class="k" transform="translate(424.10 292.50) rotate(-90)" text-anchor="middle">10<tspan dy="-1" font-size="2.2">0</tspan></text>
<text class="k" transform="translate(419.90 267.13) rotate(-90)" text-anchor="middle">FL2-H</text>
<text class="k" x="426.50" y="296.80" text-anchor="middle">10<tspan dy="-1" font-size="2.2">0</tspan></text>
<text class="k" x="448.62" y="296.80" text-anchor="middle">10<tspan dy="-1" font-size="2.2">1</tspan></text>
<text class="k" x="470.75" y="296.80" text-anchor="middle">10<tspan dy="-1" font-size="2.2">2</tspan></text>
<text class="k" x="492.88" y="296.80" text-anchor="middle">10<tspan dy="-1" font-size="2.2">3</tspan></text>
<text class="k" x="515.00" y="296.80" text-anchor="middle">10<tspan dy="-1" font-size="2.2">4</tspan></text>
<text class="k2" x="472.52" y="300.20" text-anchor="middle">FL1-H</text>
<ellipse cx="481.5" cy="271.7" rx="7.5" ry="2.0" transform="rotate(-27.5 481.5 271.7)" fill="#000" fill-opacity="0.95" filter="url(#b1)"/>
<path d="M436.5 277.3h0.7M455.3 268.6h0.7M453.9 275.8h0.7M470.0 279.5h0.7M464.1 279.5h0.7M446.0 276.1h0.7M464.4 278.0h0.7M470.9 274.6h0.7M464.5 279.2h0.7M433.0 282.1h0.7M473.0 277.8h0.7M429.2 276.8h0.7M448.1 276.7h0.7M437.1 276.4h0.7M461.3 282.3h0.7M444.0 278.6h0.7M465.1 276.9h0.7M472.4 279.7h0.7M444.1 280.8h0.7M464.2 278.8h0.7M443.5 275.8h0.7M448.4 279.1h0.7M453.7 279.6h0.7M441.1 278.2h0.7M444.4 276.6h0.7M438.3 276.4h0.7M472.9 271.5h0.7M473.8 272.2h0.7M450.4 277.9h0.7M437.5 279.6h0.7M432.9 272.3h0.7M432.1 278.6h0.7M431.1 275.9h0.7M452.8 273.8h0.7M451.1 274.1h0.7M454.4 275.0h0.7M438.0 276.8h0.7M453.3 279.7h0.7M468.6 280.7h0.7M454.3 282.4h0.7M456.8 279.5h0.7M446.1 277.7h0.7M469.4 279.0h0.7M468.7 276.3h0.7M459.1 285.1h0.7M433.9 279.1h0.7M429.1 273.4h0.7M465.8 276.9h0.7M471.5 275.2h0.7M443.9 274.0h0.7M439.2 282.8h0.7M460.9 277.6h0.7M436.0 277.2h0.7M441.1 275.5h0.7M439.3 269.4h0.7M460.4 275.8h0.7M468.0 276.6h0.7M447.5 276.1h0.7M469.3 280.5h0.7M450.1 273.1h0.7M472.3 279.8h0.7M465.2 280.8h0.7M454.1 271.6h0.7M437.3 278.3h0.7M473.2 274.8h0.7M436.9 275.2h0.7M465.0 276.7h0.7M467.8 276.5h0.7M438.5 274.8h0.7M430.6 276.2h0.7M459.4 272.4h0.7M462.6 277.2h0.7M454.2 280.4h0.7M466.4 280.4h0.7M452.6 276.8h0.7M447.6 277.2h0.7M434.4 275.8h0.7M438.2 276.9h0.7M467.0 277.2h0.7M455.3 275.4h0.7M440.2 277.1h0.7M449.5 279.8h0.7M439.3 275.5h0.7M428.7 276.9h0.7M451.0 279.2h0.7M446.1 276.7h0.7M434.0 277.5h0.7M460.2 278.3h0.7M461.6 276.3h0.7M429.1 282.5h0.7M451.8 282.2h0.7M443.8 280.6h0.7M446.6 278.6h0.7M468.5 276.4h0.7M429.7 271.8h0.7M446.1 280.5h0.7M459.0 276.0h0.7M444.1 277.4h0.7M454.4 276.1h0.7M441.1 278.8h0.7M474.1 271.6h0.7M437.3 276.7h0.7M447.8 280.7h0.7M439.7 275.6h0.7M472.4 282.1h0.7M473.1 270.9h0.7M438.4 274.2h0.7M471.1 272.4h0.7M466.9 278.6h0.7M464.3 276.6h0.7M451.3 282.6h0.7M460.8 279.8h0.7M453.1 274.6h0.7M440.6 284.2h0.7M464.0 276.6h0.7M437.6 274.6h0.7M471.4 275.3h0.7M438.9 280.9h0.7M438.8 274.4h0.7M458.5 278.3h0.7M455.7 279.4h0.7M429.9 278.3h0.7M448.8 276.8h0.7M461.4 281.1h0.7M443.5 279.1h0.7M437.8 278.5h0.7M437.8 276.6h0.7M444.5 275.7h0.7M445.2 276.5h0.7M433.9 278.9h0.7M468.8 277.0h0.7M431.1 279.0h0.7M453.6 277.3h0.7M473.1 273.1h0.7M440.3 279.4h0.7M457.1 280.1h0.7M470.1 269.3h0.7M441.3 281.8h0.7M469.8 277.7h0.7M469.0 270.1h0.7M459.3 274.2h0.7M432.5 274.3h0.7M434.4 275.9h0.7M453.8 277.5h0.7M439.2 281.1h0.7M459.7 277.0h0.7M439.7 280.0h0.7M466.9 278.2h0.7M451.5 280.8h0.7M432.8 273.7h0.7M436.4 276.7h0.7M471.2 268.8h0.7M446.4 279.1h0.7M429.8 278.6h0.7M444.0 273.3h0.7M447.7 280.4h0.7M456.7 276.9h0.7M447.3 274.2h0.7M455.2 281.8h0.7M440.5 278.1h0.7M450.5 278.4h0.7M436.7 273.8h0.7M459.1 281.6h0.7M467.2 275.4h0.7M443.9 279.6h0.7M454.4 279.7h0.7M455.4 280.6h0.7M459.3 274.4h0.7M444.4 279.3h0.7M443.5 280.1h0.7M435.6 276.1h0.7M437.0 279.7h0.7M462.9 280.5h0.7M461.8 279.9h0.7M445.7 273.1h0.7M454.4 275.5h0.7M437.3 274.0h0.7M448.3 283.4h0.7M433.1 281.4h0.7M446.7 277.5h0.7M432.9 273.6h0.7M455.1 275.6h0.7M458.9 281.6h0.7M442.5 275.3h0.7M441.9 276.7h0.7M473.9 278.9h0.7M447.9 275.6h0.7M436.7 283.1h0.7M453.1 277.9h0.7M466.8 277.7h0.7M466.6 272.4h0.7M470.1 282.8h0.7M433.9 277.0h0.7M454.0 280.9h0.7M435.0 282.6h0.7M429.3 278.2h0.7M469.1 277.9h0.7M429.2 281.5h0.7M461.5 275.2h0.7M450.4 275.6h0.7M441.8 274.1h0.7M450.7 276.7h0.7M471.4 273.0h0.7M443.3 281.7h0.7M440.0 278.4h0.7M471.3 281.1h0.7M454.4 279.1h0.7M436.8 274.5h0.7M442.0 275.5h0.7M471.2 272.8h0.7M434.3 278.1h0.7M473.2 275.3h0.7M437.4 275.7h0.7M455.8 281.6h0.7M453.1 276.5h0.7M451.4 277.0h0.7M466.3 274.9h0.7M436.7 275.9h0.7M444.9 275.0h0.7M447.6 276.9h0.7M429.9 278.9h0.7M453.5 276.9h0.7M432.0 279.2h0.7M432.5 274.7h0.7M429.0 275.6h0.7M448.7 274.7h0.7M465.1 274.8h0.7M451.4 279.4h0.7M428.8 277.2h0.7M436.3 275.7h0.7M457.1 278.6h0.7M456.3 280.4h0.7M438.5 276.3h0.7M442.4 279.0h0.7M444.3 274.9h0.7M446.9 278.6h0.7M430.2 274.9h0.7M429.5 272.4h0.7M437.2 274.0h0.7M473.5 282.8h0.7M449.2 274.4h0.7M433.2 273.0h0.7M451.9 275.9h0.7M461.1 277.0h0.7M465.6 273.8h0.7M433.1 271.7h0.7M453.9 278.0h0.7M452.9 278.1h0.7M452.8 277.0h0.7M466.2 276.6h0.7M443.7 278.3h0.7M467.6 280.6h0.7M462.5 279.4h0.7M451.4 272.1h0.7M471.9 271.9h0.7M458.2 276.5h0.7M430.2 273.9h0.7M434.7 280.6h0.7M459.3 275.4h0.7M437.3 284.1h0.7M465.0 280.3h0.7M453.8 286.0h0.7M435.5 281.5h0.7M471.1 278.9h0.7M443.0 276.6h0.7M459.9 281.4h0.7M455.0 274.3h0.7M447.9 279.7h0.7M440.6 278.9h0.7M454.1 281.1h0.7M443.2 277.0h0.7M468.6 280.2h0.7M447.2 274.7h0.7M448.9 279.4h0.7M463.2 277.5h0.7M461.0 276.5h0.7M444.0 274.4h0.7M448.6 279.4h0.7M440.5 280.5h0.7M431.8 280.7h0.7M453.5 270.8h0.7M432.9 278.4h0.7M434.0 278.4h0.7M470.3 275.4h0.7M431.3 275.4h0.7M461.1 281.4h0.7M431.9 279.3h0.7M468.4 276.6h0.7M453.6 271.9h0.7M464.2 281.9h0.7M429.1 277.6h0.7M473.8 274.4h0.7M457.2 280.2h0.7M447.9 284.1h0.7M437.7 279.9h0.7M437.0 278.5h0.7M440.8 274.6h0.7M429.6 271.6h0.7M465.3 279.3h0.7M434.0 281.6h0.7M430.4 278.1h0.7M446.9 279.1h0.7M444.8 277.4h0.7M437.2 277.1h0.7M469.4 278.4h0.7M447.3 279.2h0.7M462.3 280.9h0.7M446.2 276.6h0.7M429.5 278.2h0.7M429.0 275.3h0.7M439.6 276.7h0.7M463.6 276.2h0.7M441.4 281.1h0.7M435.4 279.5h0.7M460.5 275.4h0.7M439.2 279.5h0.7M441.3 275.5h0.7M459.2 277.4h0.7M460.7 280.2h0.7M464.0 281.8h0.7M438.3 275.7h0.7M457.3 274.1h0.7M458.2 275.5h0.7M459.8 283.3h0.7M454.0 274.1h0.7M438.4 281.9h0.7M441.4 278.5h0.7M473.9 277.4h0.7M469.8 276.7h0.7M466.5 276.9h0.7M433.8 274.6h0.7M435.3 278.1h0.7M440.8 274.6h0.7M465.4 276.2h0.7M431.7 274.4h0.7M471.5 278.3h0.7M456.2 272.5h0.7M429.2 281.2h0.7M435.8 278.8h0.7M463.5 279.1h0.7" stroke="#000" stroke-width="0.70" stroke-opacity="0.42" fill="none"/>
<path d="M476.3 273.1h0.8M471.8 278.0h0.8M476.8 273.6h0.8M476.3 274.5h0.8M478.7 274.3h0.8M475.5 274.1h0.8M487.4 267.4h0.8M480.6 269.8h0.8M473.7 274.5h0.8M481.8 271.7h0.8M481.7 270.6h0.8M474.2 273.9h0.8M480.0 274.4h0.8M472.5 275.7h0.8M471.2 273.7h0.8M481.1 271.5h0.8M479.9 273.1h0.8M472.9 277.2h0.8M482.0 269.7h0.8M481.4 270.4h0.8M481.3 273.9h0.8M486.3 269.3h0.8M481.0 271.4h0.8M484.9 269.8h0.8M477.5 272.6h0.8M479.6 270.6h0.8M480.6 272.7h0.8M470.1 276.8h0.8M476.2 275.4h0.8M470.0 279.6h0.8M479.8 272.4h0.8M486.5 268.6h0.8M472.7 274.8h0.8M479.6 274.6h0.8M483.5 270.1h0.8M481.2 269.5h0.8M485.4 269.6h0.8M477.8 274.1h0.8M472.6 277.5h0.8M475.9 276.1h0.8M476.7 275.8h0.8M484.9 270.5h0.8M478.7 272.3h0.8M470.7 273.5h0.8M473.0 276.2h0.8M477.8 273.1h0.8M483.0 272.9h0.8M486.1 268.4h0.8M478.7 273.4h0.8M477.2 273.4h0.8M484.7 270.2h0.8M481.3 272.9h0.8M481.5 271.9h0.8M485.7 271.2h0.8M485.7 267.6h0.8M482.8 271.5h0.8M479.5 273.7h0.8M481.0 270.1h0.8M472.7 274.3h0.8M476.2 274.0h0.8M485.0 270.6h0.8M480.3 272.7h0.8M473.8 276.4h0.8M480.9 272.0h0.8M477.0 273.5h0.8M484.7 269.4h0.8M478.7 272.4h0.8M473.3 276.2h0.8M470.7 278.4h0.8M467.3 279.9h0.8M484.3 269.7h0.8M477.4 274.6h0.8M478.3 272.8h0.8M474.2 276.1h0.8M469.3 276.3h0.8M487.6 269.9h0.8M483.1 271.0h0.8M484.9 269.0h0.8M480.4 273.6h0.8M479.6 274.3h0.8M474.4 277.3h0.8M472.5 275.4h0.8M488.5 267.1h0.8M472.1 275.1h0.8M475.8 274.5h0.8M488.3 266.4h0.8M483.4 271.5h0.8M484.8 270.3h0.8M488.3 266.6h0.8M478.0 273.8h0.8M467.2 275.2h0.8M486.6 269.9h0.8M474.2 274.2h0.8M475.2 274.0h0.8M480.5 272.3h0.8M484.6 270.1h0.8M479.4 274.5h0.8M469.9 275.2h0.8M483.1 269.7h0.8M482.2 269.7h0.8M481.8 270.9h0.8M471.5 275.0h0.8M473.8 277.8h0.8M478.1 272.8h0.8M479.5 270.2h0.8M484.0 269.6h0.8M470.7 275.0h0.8M474.2 273.5h0.8M476.7 272.2h0.8M485.4 269.9h0.8M471.7 276.6h0.8M469.5 277.4h0.8M471.6 276.0h0.8M480.0 271.6h0.8M474.5 274.0h0.8M475.3 275.6h0.8M478.9 274.1h0.8M475.2 274.6h0.8M476.8 274.9h0.8M485.4 270.1h0.8M481.9 272.2h0.8M476.1 275.0h0.8M477.2 272.3h0.8M469.9 277.0h0.8M482.2 271.2h0.8M485.1 269.6h0.8M482.9 270.1h0.8M477.4 274.9h0.8M474.0 275.5h0.8M469.5 274.5h0.8M485.9 269.2h0.8M475.2 274.3h0.8M478.7 274.6h0.8M481.2 269.7h0.8M478.5 272.6h0.8M485.1 269.0h0.8M474.1 273.3h0.8M475.5 275.1h0.8M478.8 272.3h0.8M476.8 272.9h0.8M468.1 278.6h0.8M481.9 271.4h0.8M472.9 274.4h0.8M481.7 271.7h0.8M477.5 273.7h0.8M474.0 274.7h0.8M481.1 272.8h0.8M488.0 268.1h0.8M470.8 275.8h0.8M483.6 268.4h0.8M482.5 271.4h0.8M478.6 272.5h0.8M467.3 273.4h0.8M477.5 274.5h0.8M479.7 273.0h0.8M484.5 267.4h0.8M475.0 274.6h0.8M473.2 277.5h0.8M485.2 269.0h0.8M481.5 273.7h0.8M487.0 268.2h0.8M476.4 273.4h0.8M483.3 271.1h0.8M478.8 270.9h0.8M478.8 273.6h0.8M478.8 273.4h0.8M486.7 268.8h0.8M485.1 269.2h0.8M486.3 267.1h0.8M482.2 271.0h0.8M480.8 272.2h0.8M475.0 276.9h0.8M483.9 270.3h0.8M484.3 270.2h0.8M480.7 272.5h0.8M485.4 270.4h0.8M468.3 279.1h0.8M488.7 267.7h0.8M482.0 270.6h0.8M480.7 270.4h0.8M481.4 271.3h0.8M486.1 268.3h0.8M484.2 270.4h0.8M480.0 272.8h0.8M484.0 269.6h0.8M471.1 275.1h0.8M483.5 269.6h0.8M484.6 270.6h0.8M477.0 274.4h0.8M480.4 270.9h0.8M476.6 273.9h0.8M472.2 275.6h0.8M479.8 273.0h0.8M481.2 271.8h0.8M482.7 271.7h0.8M475.7 274.5h0.8M480.1 272.3h0.8M474.6 273.8h0.8M479.0 271.3h0.8M477.6 273.7h0.8M476.6 274.7h0.8M471.2 275.5h0.8M485.8 268.9h0.8M469.7 276.1h0.8M479.0 273.0h0.8M487.3 269.4h0.8M468.7 276.0h0.8M482.6 269.5h0.8M480.4 273.7h0.8M477.2 275.5h0.8M478.9 273.4h0.8M478.8 273.5h0.8M481.3 270.0h0.8M484.7 270.3h0.8M471.5 276.5h0.8M472.7 277.8h0.8M485.6 269.4h0.8M474.8 275.7h0.8M480.4 270.5h0.8M482.2 271.5h0.8M482.3 274.3h0.8M471.1 277.4h0.8M478.9 273.6h0.8M481.9 269.3h0.8M474.0 274.1h0.8M470.7 273.9h0.8M479.6 272.5h0.8M473.7 277.2h0.8M478.3 271.0h0.8M484.0 268.8h0.8M486.8 267.7h0.8M473.9 274.7h0.8M472.6 275.4h0.8M488.4 267.9h0.8M484.8 270.0h0.8M483.9 271.3h0.8M473.3 277.3h0.8M472.4 277.9h0.8M474.1 274.5h0.8M472.8 276.4h0.8M479.6 271.9h0.8M485.9 268.2h0.8M476.2 273.2h0.8M482.5 269.9h0.8M480.6 271.2h0.8M470.5 275.8h0.8M488.5 268.2h0.8M476.8 272.2h0.8M483.1 269.7h0.8M470.6 278.4h0.8M486.1 268.3h0.8M480.2 270.8h0.8M477.6 272.9h0.8M487.3 267.8h0.8M487.2 269.2h0.8M484.5 270.9h0.8M472.9 275.6h0.8M475.0 274.1h0.8M486.5 269.3h0.8M481.4 269.7h0.8M481.5 269.1h0.8M483.3 270.3h0.8M469.4 276.1h0.8M478.9 271.4h0.8M483.7 268.6h0.8M486.0 269.7h0.8M480.3 270.4h0.8M488.0 268.1h0.8M485.9 268.9h0.8M469.8 280.1h0.8M480.1 272.1h0.8M486.9 268.9h0.8M478.7 273.8h0.8M483.4 269.9h0.8M480.9 271.8h0.8M472.1 275.0h0.8M479.5 273.1h0.8M485.1 269.6h0.8M485.6 270.8h0.8M484.4 268.5h0.8M481.7 270.4h0.8M477.4 274.2h0.8M475.7 274.2h0.8M481.1 273.1h0.8M484.4 270.3h0.8M471.9 275.6h0.8M479.7 272.1h0.8M485.7 269.2h0.8M479.5 271.6h0.8M480.6 271.9h0.8M483.4 270.7h0.8M468.1 279.8h0.8M468.8 275.0h0.8M480.6 272.0h0.8M474.8 274.1h0.8M480.9 271.0h0.8M486.1 266.2h0.8M485.3 269.0h0.8M477.7 272.1h0.8M486.6 267.1h0.8M479.8 272.2h0.8M476.5 273.9h0.8M487.9 268.2h0.8M480.6 271.8h0.8M484.7 269.7h0.8M481.0 272.7h0.8M481.3 269.8h0.8M482.7 268.4h0.8M476.9 273.7h0.8M486.7 269.7h0.8M474.4 276.0h0.8M486.8 268.3h0.8M480.0 271.9h0.8M483.8 267.8h0.8M479.6 273.7h0.8M482.6 271.3h0.8M475.6 273.0h0.8M483.5 269.4h0.8M481.9 272.2h0.8M478.7 273.3h0.8M484.5 268.7h0.8M487.2 269.0h0.8M473.9 274.2h0.8M484.9 269.3h0.8M475.0 274.6h0.8M483.3 270.4h0.8M477.6 274.1h0.8M485.4 268.7h0.8M471.3 275.5h0.8M475.1 274.6h0.8M479.9 272.0h0.8M486.0 268.6h0.8M480.6 272.9h0.8M480.4 272.6h0.8M487.6 269.3h0.8M481.4 271.5h0.8M477.9 275.3h0.8M475.4 276.1h0.8M486.2 268.8h0.8M485.8 268.2h0.8M483.2 270.5h0.8M476.5 272.0h0.8M477.3 273.8h0.8M485.3 270.6h0.8M485.5 270.2h0.8M485.7 267.6h0.8M473.3 274.1h0.8M476.3 274.5h0.8M478.0 272.6h0.8M475.0 274.9h0.8M478.1 274.1h0.8M484.9 269.7h0.8M472.7 276.3h0.8M484.9 268.8h0.8M480.8 271.7h0.8M478.4 271.9h0.8M479.1 273.7h0.8M471.5 274.5h0.8M481.7 271.5h0.8M479.4 273.9h0.8M470.1 277.0h0.8M486.6 267.2h0.8M477.3 273.0h0.8M474.6 273.5h0.8M486.1 267.9h0.8M480.4 271.8h0.8M477.8 273.7h0.8M486.4 268.5h0.8M474.4 273.7h0.8M476.1 275.4h0.8M476.8 271.9h0.8M475.5 276.2h0.8M487.5 269.0h0.8M479.7 273.9h0.8M483.0 272.7h0.8M485.0 268.1h0.8M479.2 272.6h0.8M479.6 271.4h0.8M482.5 270.9h0.8M475.3 274.4h0.8M478.4 274.1h0.8M483.2 272.6h0.8M471.4 276.1h0.8M484.4 269.3h0.8M478.4 272.1h0.8M480.2 272.2h0.8M484.2 270.5h0.8M485.6 269.6h0.8M486.9 268.8h0.8M470.0 277.7h0.8M481.4 271.2h0.8M474.2 274.1h0.8M480.0 274.5h0.8M477.9 272.6h0.8M477.3 271.3h0.8M487.5 268.5h0.8M484.7 270.5h0.8M471.3 275.6h0.8M487.2 268.7h0.8M487.8 267.7h0.8M470.1 275.6h0.8M488.3 266.8h0.8M476.1 271.4h0.8M474.5 272.6h0.8M485.9 269.0h0.8M484.9 270.0h0.8M479.3 272.6h0.8M476.9 272.7h0.8M484.5 269.1h0.8M478.7 270.3h0.8M488.3 266.4h0.8M477.2 272.8h0.8M476.6 273.7h0.8M486.0 266.7h0.8M486.8 268.1h0.8M476.8 275.3h0.8M482.2 271.3h0.8M470.5 276.7h0.8M475.7 274.2h0.8M471.3 274.3h0.8M484.3 269.6h0.8M486.8 267.6h0.8M477.5 274.3h0.8M485.3 268.1h0.8M482.0 270.8h0.8M482.1 272.8h0.8M473.1 274.6h0.8M482.1 272.8h0.8M478.1 273.2h0.8M487.2 267.0h0.8M477.8 272.4h0.8M475.4 274.7h0.8M482.8 272.6h0.8M484.3 271.1h0.8M471.3 276.7h0.8M485.0 269.3h0.8M481.5 270.2h0.8M475.0 277.7h0.8M485.8 268.9h0.8M473.4 273.3h0.8M486.4 268.0h0.8M469.1 277.6h0.8M480.7 272.5h0.8M475.2 274.7h0.8M485.9 269.9h0.8M486.0 269.0h0.8M478.1 274.1h0.8M477.7 272.8h0.8M476.9 273.2h0.8M478.2 271.8h0.8M482.5 268.3h0.8M471.1 276.6h0.8M468.5 276.5h0.8M471.7 275.3h0.8M474.6 274.7h0.8M478.9 272.2h0.8M484.2 268.3h0.8M475.4 274.2h0.8M483.0 271.1h0.8M483.1 271.2h0.8" stroke="#000" stroke-width="0.75" stroke-opacity="1.00" fill="none"/>
<text x="448.15" y="251.30" text-anchor="end" class="p">5%</text>
<text x="511.95" y="251.00" text-anchor="end" class="p">73%</text>
<path d="M427.50 314.50H515.00" stroke="#9a9a9a" stroke-width="0.8" fill="none"/><path d="M515.00 314.50V369.50" stroke="#dcdcdc" stroke-width="0.8" fill="none"/>
<line x1="427.50" y1="369.50" x2="515.00" y2="369.50" stroke="#777" stroke-width="0.9" stroke-dasharray="0.9 1.4"/>
<line x1="427.50" y1="314.00" x2="427.50" y2="370.30" stroke="#8a8a8a" stroke-width="1" stroke-dasharray="1.1 0.8"/>
<line x1="427.50" y1="352.50" x2="515.00" y2="352.50" stroke="#5a5a5a" stroke-width="0.9"/>
<line x1="452.50" y1="314.50" x2="452.50" y2="369.50" stroke="#8a8a8a" stroke-width="0.9"/>
<text class="k" transform="translate(425.10 314.80) rotate(-90)" text-anchor="middle">10<tspan dy="-1" font-size="2.2">4</tspan></text>
<text class="k" transform="translate(425.10 328.55) rotate(-90)" text-anchor="middle">10<tspan dy="-1" font-size="2.2">3</tspan></text>
<text class="k" transform="translate(425.10 342.30) rotate(-90)" text-anchor="middle">10<tspan dy="-1" font-size="2.2">2</tspan></text>
<text class="k" transform="translate(425.10 356.05) rotate(-90)" text-anchor="middle">10<tspan dy="-1" font-size="2.2">1</tspan></text>
<text class="k" transform="translate(425.10 369.80) rotate(-90)" text-anchor="middle">10<tspan dy="-1" font-size="2.2">0</tspan></text>
<text class="k" transform="translate(420.90 344.20) rotate(-90)" text-anchor="middle">FL2-H</text>
<text class="k" x="427.50" y="374.10" text-anchor="middle">10<tspan dy="-1" font-size="2.2">0</tspan></text>
<text class="k" x="449.38" y="374.10" text-anchor="middle">10<tspan dy="-1" font-size="2.2">1</tspan></text>
<text class="k" x="471.25" y="374.10" text-anchor="middle">10<tspan dy="-1" font-size="2.2">2</tspan></text>
<text class="k" x="493.12" y="374.10" text-anchor="middle">10<tspan dy="-1" font-size="2.2">3</tspan></text>
<text class="k" x="515.00" y="374.10" text-anchor="middle">10<tspan dy="-1" font-size="2.2">4</tspan></text>
<text class="k2" x="473.00" y="377.50" text-anchor="middle">FL1-H</text>
<ellipse cx="479.6" cy="349.8" rx="7.8" ry="1.9" transform="rotate(-23.8 479.6 349.8)" fill="#000" fill-opacity="0.95" filter="url(#b1)"/>
<path d="M465.8 348.9h0.7M469.5 355.5h0.7M458.0 349.8h0.7M467.1 354.1h0.7M469.7 350.9h0.7M466.9 357.4h0.7M469.3 356.4h0.7M440.5 352.5h0.7M431.1 353.9h0.7M469.9 353.8h0.7M442.3 351.6h0.7M446.2 353.4h0.7M440.0 353.6h0.7M467.0 352.1h0.7M458.8 357.9h0.7M437.4 353.6h0.7M441.1 355.9h0.7M435.7 357.1h0.7M450.2 351.9h0.7M444.3 350.7h0.7M448.4 355.8h0.7M441.3 350.6h0.7M459.6 357.5h0.7M456.0 354.0h0.7M454.5 351.8h0.7M463.7 356.0h0.7M438.6 355.3h0.7M448.3 357.5h0.7M456.4 352.8h0.7M466.4 357.3h0.7M454.3 352.0h0.7M450.8 353.0h0.7M462.3 356.8h0.7M470.7 356.3h0.7M457.7 353.5h0.7M460.0 356.4h0.7M442.7 355.8h0.7M440.0 351.5h0.7M461.9 356.2h0.7M442.6 351.2h0.7M444.1 355.0h0.7M449.0 353.9h0.7M463.7 348.8h0.7M436.9 357.9h0.7M448.9 353.3h0.7M462.0 349.4h0.7M457.3 353.0h0.7M432.3 358.1h0.7M467.1 357.4h0.7M437.9 352.5h0.7M431.4 357.3h0.7M452.4 350.8h0.7M461.0 356.3h0.7M433.9 355.7h0.7M461.5 356.9h0.7M441.9 359.8h0.7M455.7 352.6h0.7M436.4 349.8h0.7M469.8 353.1h0.7M459.7 354.4h0.7M469.3 355.2h0.7M447.7 356.7h0.7M459.2 356.8h0.7M447.3 354.2h0.7M454.5 358.4h0.7M444.3 359.4h0.7M444.1 352.7h0.7M438.5 353.7h0.7M441.4 355.4h0.7M448.8 358.9h0.7M444.4 353.3h0.7M457.8 353.0h0.7M431.9 353.5h0.7M463.9 354.0h0.7M430.0 355.9h0.7M436.5 357.0h0.7M465.2 359.1h0.7M441.1 353.2h0.7M431.0 356.7h0.7M467.1 356.3h0.7M456.1 346.3h0.7M467.4 355.5h0.7M441.0 356.9h0.7M470.2 354.4h0.7M431.3 348.5h0.7M457.2 353.3h0.7M463.3 351.6h0.7M466.3 352.7h0.7M436.8 356.4h0.7M446.4 358.5h0.7M449.7 355.5h0.7M470.3 350.0h0.7M439.1 356.1h0.7M430.3 355.7h0.7M437.9 354.2h0.7M458.9 355.5h0.7M455.9 349.3h0.7M457.6 348.3h0.7M458.1 358.2h0.7M444.6 354.5h0.7M430.0 359.4h0.7M442.2 356.8h0.7M468.0 360.1h0.7M453.3 356.9h0.7M467.6 356.4h0.7M469.4 356.4h0.7M462.5 351.9h0.7M431.7 357.3h0.7M460.5 355.3h0.7M444.3 355.4h0.7M457.3 353.9h0.7M445.3 352.2h0.7M469.7 352.6h0.7M449.8 358.5h0.7M450.4 356.4h0.7M435.8 356.5h0.7M450.4 353.0h0.7M456.5 356.6h0.7M435.6 356.3h0.7M461.5 358.5h0.7M435.5 357.7h0.7M457.8 352.2h0.7M462.3 349.3h0.7M444.9 349.2h0.7M444.1 352.7h0.7M453.8 357.8h0.7M440.9 355.9h0.7M469.1 347.5h0.7M440.9 357.1h0.7M453.0 352.8h0.7M453.6 352.8h0.7M436.4 360.2h0.7M464.8 352.5h0.7M447.4 356.6h0.7M453.0 352.7h0.7M469.0 350.1h0.7M465.2 355.2h0.7M443.4 355.6h0.7M441.8 351.0h0.7M444.5 353.6h0.7M443.3 351.0h0.7M442.5 359.1h0.7M432.3 354.6h0.7M451.2 350.7h0.7M445.5 350.1h0.7M454.0 354.9h0.7M451.1 358.5h0.7M456.9 359.0h0.7M455.8 357.3h0.7M438.4 353.2h0.7M430.6 357.7h0.7M464.2 355.7h0.7M429.7 355.5h0.7M450.4 356.2h0.7M448.9 355.5h0.7M440.3 355.7h0.7M466.3 352.4h0.7M436.2 355.9h0.7M459.9 356.8h0.7M467.6 351.7h0.7M463.8 356.9h0.7M461.3 358.5h0.7M441.0 355.8h0.7M462.6 355.2h0.7M460.0 351.4h0.7M464.2 355.5h0.7M447.5 352.9h0.7M430.4 362.2h0.7M450.1 355.4h0.7M457.5 355.9h0.7M462.8 352.1h0.7M458.2 354.0h0.7M453.9 355.7h0.7M456.0 351.5h0.7M468.8 358.6h0.7M446.0 352.0h0.7M462.8 357.3h0.7M444.4 354.6h0.7M444.3 353.4h0.7M445.7 356.9h0.7M452.4 357.3h0.7M446.3 353.0h0.7M441.9 358.3h0.7M437.7 353.5h0.7M456.3 351.8h0.7M456.9 353.6h0.7M467.2 354.8h0.7M440.8 353.7h0.7M449.4 360.4h0.7M448.0 351.7h0.7M430.3 354.4h0.7M455.4 356.1h0.7M435.2 349.8h0.7M466.9 351.5h0.7M439.5 356.6h0.7M432.3 356.5h0.7M442.2 354.4h0.7M464.9 357.0h0.7M469.7 354.0h0.7M450.7 355.0h0.7M430.9 354.2h0.7M465.1 351.2h0.7M452.2 355.3h0.7M451.6 352.8h0.7M444.0 353.9h0.7M434.0 357.4h0.7M445.9 354.8h0.7M449.4 357.7h0.7M440.3 354.2h0.7M449.1 357.2h0.7M458.2 358.1h0.7M434.1 359.8h0.7M456.2 354.3h0.7M468.6 359.4h0.7M461.9 352.7h0.7M451.9 353.1h0.7M434.6 358.3h0.7M462.2 355.3h0.7M433.1 361.1h0.7M446.5 355.7h0.7M437.3 354.0h0.7M448.0 354.1h0.7M431.3 354.6h0.7M444.2 357.8h0.7M468.8 353.6h0.7M445.8 353.9h0.7M469.8 363.3h0.7M461.8 355.0h0.7M468.3 355.9h0.7M454.8 360.3h0.7M444.6 350.0h0.7M440.0 354.3h0.7M437.5 355.6h0.7M461.7 354.1h0.7M456.2 354.9h0.7M432.1 355.0h0.7M451.1 357.0h0.7M449.9 356.3h0.7M432.9 356.7h0.7M464.7 350.2h0.7M448.2 355.8h0.7M463.0 355.3h0.7M437.5 353.4h0.7M464.3 353.1h0.7M434.1 359.0h0.7M446.9 357.9h0.7M469.1 358.7h0.7M447.8 358.2h0.7M435.6 352.5h0.7M446.6 349.8h0.7M437.6 354.0h0.7M470.7 352.3h0.7M434.6 345.7h0.7M435.1 354.3h0.7M436.1 349.5h0.7M461.2 352.8h0.7M450.8 354.2h0.7M432.7 352.8h0.7M469.3 356.6h0.7M442.9 358.2h0.7M438.4 358.0h0.7M462.0 356.1h0.7M435.2 357.8h0.7M469.2 353.8h0.7M459.8 356.7h0.7M434.9 356.0h0.7M451.8 354.8h0.7M465.1 354.7h0.7M456.4 350.8h0.7M430.4 356.4h0.7M450.4 355.5h0.7M445.7 352.4h0.7M441.7 355.6h0.7M459.7 355.1h0.7M434.2 353.7h0.7M432.9 354.0h0.7M431.8 358.0h0.7M452.2 354.3h0.7M440.1 353.4h0.7M458.5 355.2h0.7M465.6 352.2h0.7M452.8 352.9h0.7M461.7 352.8h0.7M440.5 355.6h0.7M452.4 356.7h0.7M469.3 353.5h0.7M467.9 358.1h0.7M450.0 356.8h0.7M431.1 355.1h0.7M467.4 357.3h0.7M438.7 353.3h0.7M455.9 356.7h0.7M454.8 362.0h0.7M438.8 355.5h0.7M435.4 349.1h0.7M434.2 352.2h0.7M459.9 355.3h0.7M451.5 359.2h0.7M445.4 356.2h0.7M448.4 352.7h0.7M452.0 361.7h0.7M448.9 353.3h0.7M459.8 356.1h0.7M468.1 348.6h0.7M446.0 351.1h0.7M454.1 352.0h0.7M470.0 354.6h0.7M446.1 352.3h0.7M452.3 353.2h0.7M459.1 353.1h0.7M439.3 356.9h0.7M465.1 359.4h0.7M434.0 349.3h0.7M440.2 354.6h0.7M436.5 357.5h0.7M458.0 356.2h0.7M464.0 357.3h0.7M433.9 354.4h0.7M435.5 356.6h0.7M435.9 357.4h0.7M434.9 351.3h0.7M466.3 349.5h0.7M444.1 358.1h0.7M446.7 351.7h0.7M451.1 359.3h0.7M431.3 354.9h0.7M459.0 351.2h0.7M430.4 353.3h0.7M467.0 354.5h0.7M445.4 354.5h0.7M436.6 357.2h0.7M460.4 353.1h0.7M461.4 352.9h0.7M433.6 354.6h0.7M469.2 354.7h0.7M432.1 356.5h0.7M430.6 353.4h0.7M433.8 356.8h0.7M443.4 357.3h0.7M446.1 357.9h0.7M433.9 359.4h0.7M444.5 353.9h0.7M441.4 352.1h0.7M433.8 355.0h0.7M434.2 354.4h0.7M430.2 353.9h0.7M440.8 356.9h0.7M435.2 354.6h0.7M463.7 354.0h0.7M468.7 355.1h0.7M453.7 354.8h0.7M470.5 356.9h0.7M433.2 353.6h0.7M469.2 353.1h0.7M446.4 353.9h0.7M448.4 355.0h0.7M461.7 356.2h0.7M454.2 353.3h0.7M441.9 351.8h0.7M455.2 360.9h0.7M468.3 356.2h0.7M467.9 349.5h0.7M440.4 353.9h0.7M465.3 354.1h0.7M468.3 354.4h0.7M452.1 356.1h0.7M453.8 355.0h0.7M431.4 360.8h0.7M438.6 363.0h0.7M436.3 357.8h0.7M469.3 353.2h0.7M440.7 354.6h0.7M447.8 355.0h0.7M431.7 351.5h0.7M464.7 356.3h0.7M429.9 354.4h0.7M461.4 357.2h0.7M468.1 353.3h0.7M429.8 353.1h0.7M439.8 356.6h0.7M455.2 352.7h0.7M449.5 350.7h0.7M436.9 353.8h0.7M467.9 352.1h0.7M445.0 354.2h0.7M440.0 351.0h0.7M452.9 359.3h0.7M458.7 358.7h0.7M469.1 351.0h0.7M442.5 354.7h0.7M455.8 351.1h0.7M455.2 354.1h0.7M438.9 354.3h0.7M447.2 354.6h0.7M460.2 355.5h0.7M444.2 353.3h0.7M430.7 354.7h0.7M447.8 356.3h0.7M456.3 355.7h0.7M460.7 352.1h0.7M470.8 352.4h0.7M434.4 354.6h0.7M444.1 354.9h0.7M458.5 356.5h0.7M440.6 358.1h0.7M453.6 356.5h0.7M434.2 360.9h0.7M453.5 356.5h0.7M445.8 353.8h0.7M440.5 359.2h0.7M450.6 358.6h0.7M457.2 358.3h0.7M470.4 349.5h0.7M433.4 359.0h0.7M461.5 353.7h0.7M448.3 351.5h0.7M468.7 346.7h0.7M465.2 353.3h0.7M467.8 353.0h0.7M439.2 356.4h0.7M464.6 357.1h0.7M452.5 353.1h0.7M456.9 353.0h0.7M430.8 353.7h0.7M452.4 353.7h0.7M460.5 353.7h0.7M433.8 356.4h0.7M447.9 351.8h0.7M436.9 356.7h0.7M448.7 354.2h0.7M449.6 353.9h0.7M461.4 360.5h0.7M441.8 357.8h0.7M450.2 354.2h0.7M457.0 357.1h0.7M454.8 354.6h0.7M459.6 357.4h0.7M439.9 351.2h0.7M430.7 352.5h0.7M439.4 355.9h0.7M456.5 355.1h0.7M439.9 352.5h0.7M462.9 352.6h0.7M454.6 352.8h0.7M459.3 353.3h0.7M433.8 356.8h0.7M467.6 358.5h0.7M429.7 356.8h0.7M455.9 355.1h0.7M430.2 357.4h0.7M462.9 352.0h0.7M455.1 350.6h0.7M465.5 352.0h0.7M452.2 357.6h0.7M440.0 355.0h0.7M453.0 356.9h0.7M429.7 349.8h0.7M459.5 354.9h0.7M464.9 353.9h0.7M457.5 355.5h0.7M459.0 355.0h0.7M439.1 352.0h0.7M431.4 355.2h0.7M462.3 353.2h0.7M457.1 356.4h0.7M446.9 352.8h0.7M429.9 356.2h0.7M451.3 357.1h0.7M455.0 359.3h0.7M465.5 353.9h0.7M453.2 354.6h0.7M448.7 359.4h0.7M445.7 358.2h0.7M444.4 354.7h0.7M447.2 355.9h0.7M456.7 358.0h0.7M452.1 352.0h0.7M454.1 355.7h0.7M458.6 357.7h0.7M460.2 357.8h0.7M453.1 357.4h0.7M465.7 355.0h0.7M429.8 351.5h0.7M431.3 354.1h0.7M454.0 358.8h0.7M447.4 357.7h0.7M467.8 352.9h0.7M470.0 354.2h0.7M442.4 355.2h0.7M470.7 352.1h0.7M452.8 351.8h0.7M432.0 354.1h0.7M457.7 360.1h0.7M431.2 353.8h0.7M452.9 356.5h0.7M467.5 356.6h0.7M437.8 353.0h0.7M447.0 352.2h0.7M457.3 354.9h0.7M463.4 350.4h0.7M464.7 355.9h0.7M438.3 355.1h0.7M436.0 358.0h0.7M455.0 355.5h0.7M462.4 360.1h0.7M431.7 348.7h0.7M449.4 352.4h0.7M455.4 352.4h0.7M455.1 351.0h0.7M445.7 361.1h0.7M449.2 355.9h0.7M464.7 357.0h0.7M444.4 357.8h0.7M468.3 352.4h0.7M459.4 358.1h0.7M450.2 354.3h0.7M445.1 356.0h0.7M465.9 354.6h0.7M441.3 359.7h0.7M438.9 355.6h0.7M431.8 358.3h0.7M456.4 362.3h0.7M438.1 357.5h0.7M437.5 354.2h0.7M463.3 355.5h0.7M450.5 354.1h0.7M444.8 356.7h0.7M452.3 357.2h0.7M468.7 353.0h0.7M446.3 358.3h0.7M433.7 355.4h0.7M434.6 352.8h0.7M442.9 356.0h0.7M449.9 353.2h0.7M438.6 358.5h0.7M443.5 361.5h0.7M457.0 354.9h0.7M454.7 350.1h0.7M468.1 353.5h0.7M456.7 355.8h0.7M432.7 358.0h0.7M466.7 355.0h0.7M461.0 360.7h0.7M453.0 354.4h0.7M444.8 362.2h0.7M456.1 354.4h0.7M432.7 353.8h0.7M470.4 359.1h0.7M465.7 353.3h0.7M431.2 354.2h0.7M448.7 355.4h0.7M435.2 359.7h0.7M459.8 352.5h0.7M432.7 361.0h0.7M452.5 350.2h0.7M459.3 350.3h0.7M430.7 351.8h0.7M445.9 360.0h0.7M444.4 351.6h0.7M436.2 357.9h0.7M432.5 353.6h0.7M441.5 354.8h0.7M445.4 351.4h0.7M435.3 358.5h0.7M451.9 357.4h0.7M466.4 352.8h0.7M463.0 350.5h0.7M454.9 355.7h0.7M460.9 351.6h0.7M455.0 355.5h0.7M460.2 361.5h0.7M451.4 358.6h0.7M440.3 356.6h0.7M467.7 357.1h0.7M455.2 355.5h0.7M432.0 354.1h0.7M440.8 351.9h0.7M463.0 353.7h0.7M432.3 355.8h0.7M445.7 353.6h0.7M459.7 351.1h0.7M468.4 355.6h0.7M431.2 354.0h0.7M465.5 354.7h0.7M442.2 353.1h0.7M459.1 354.2h0.7M460.9 351.1h0.7M430.8 358.1h0.7M451.3 353.8h0.7M444.7 356.4h0.7M469.1 357.0h0.7M441.0 354.4h0.7M434.4 356.0h0.7M454.4 355.6h0.7M443.1 355.5h0.7M463.4 352.4h0.7M439.4 352.6h0.7M457.2 352.0h0.7M445.9 352.7h0.7M452.3 348.8h0.7M430.3 358.7h0.7M464.5 358.0h0.7M433.4 349.0h0.7M435.3 359.4h0.7M431.7 354.4h0.7M438.9 355.6h0.7M468.7 352.9h0.7M456.0 355.8h0.7M452.1 353.6h0.7M441.2 352.7h0.7M453.1 358.0h0.7M448.8 354.3h0.7M468.2 352.0h0.7M464.9 352.1h0.7M460.5 354.3h0.7M463.8 353.3h0.7M466.6 357.9h0.7M439.5 351.5h0.7M462.2 354.1h0.7M463.5 357.3h0.7M459.9 356.2h0.7M434.7 355.1h0.7M446.8 353.1h0.7M466.3 353.9h0.7M442.4 356.0h0.7M453.1 355.0h0.7M433.9 359.7h0.7M446.4 350.2h0.7M440.5 356.8h0.7M470.5 351.1h0.7M439.1 359.2h0.7M468.5 356.0h0.7M432.7 361.8h0.7M435.2 357.9h0.7M454.1 357.3h0.7M470.0 354.0h0.7M464.9 356.6h0.7M444.4 349.4h0.7M459.4 357.2h0.7M461.8 357.7h0.7M437.8 351.2h0.7M456.3 354.4h0.7M438.4 352.5h0.7M432.2 353.2h0.7M443.7 350.9h0.7M447.3 355.5h0.7M460.0 358.3h0.7M468.1 357.8h0.7M431.5 355.0h0.7M438.0 355.0h0.7M453.1 354.1h0.7M436.4 354.8h0.7M447.7 353.6h0.7M452.0 355.4h0.7M464.6 352.1h0.7M465.0 354.6h0.7M469.0 357.4h0.7M467.9 356.4h0.7M440.0 355.7h0.7M469.2 352.0h0.7M449.7 361.4h0.7M465.0 353.3h0.7M452.2 356.1h0.7M438.3 354.1h0.7M464.3 354.4h0.7M431.8 354.0h0.7M463.5 352.7h0.7M444.1 354.2h0.7M467.6 351.3h0.7M431.9 350.1h0.7M445.2 359.1h0.7M470.4 350.7h0.7M430.6 348.1h0.7M455.1 354.1h0.7M466.8 358.3h0.7M446.2 351.4h0.7M440.7 356.9h0.7M467.8 350.5h0.7M451.2 354.6h0.7M437.2 353.3h0.7" stroke="#000" stroke-width="0.70" stroke-opacity="0.68" fill="none"/>
<path d="M479.0 348.5h0.8M481.7 348.2h0.8M482.5 347.6h0.8M484.6 345.4h0.8M480.2 346.0h0.8M472.4 353.1h0.8M480.5 350.9h0.8M479.0 347.9h0.8M480.7 349.1h0.8M481.3 348.1h0.8M487.5 345.5h0.8M468.3 352.0h0.8M480.7 349.2h0.8M481.3 350.4h0.8M482.8 347.7h0.8M483.2 348.3h0.8M464.2 354.5h0.8M478.7 349.7h0.8M486.7 347.8h0.8M478.7 349.7h0.8M476.2 351.8h0.8M476.7 352.3h0.8M481.7 347.3h0.8M483.0 350.7h0.8M473.2 351.7h0.8M484.8 346.8h0.8M479.5 350.3h0.8M481.7 348.5h0.8M481.2 347.1h0.8M486.6 344.3h0.8M476.9 349.8h0.8M467.4 357.5h0.8M480.4 350.0h0.8M473.2 352.2h0.8M481.9 346.3h0.8M485.2 346.2h0.8M474.6 355.5h0.8M480.7 349.9h0.8M479.8 348.6h0.8M484.6 348.3h0.8M483.1 349.3h0.8M475.9 350.7h0.8M471.3 351.5h0.8M480.9 350.3h0.8M480.5 347.5h0.8M476.6 351.1h0.8M478.4 351.9h0.8M484.5 348.7h0.8M474.4 350.9h0.8M487.9 346.3h0.8M474.9 350.8h0.8M472.5 351.8h0.8M472.7 353.5h0.8M482.4 348.4h0.8M482.7 348.2h0.8M486.9 345.9h0.8M476.2 352.1h0.8M481.5 346.7h0.8M474.5 353.2h0.8M486.7 346.0h0.8M487.3 345.7h0.8M483.6 348.4h0.8M467.4 354.8h0.8M474.1 353.0h0.8M475.2 353.6h0.8M477.9 350.6h0.8M484.3 348.8h0.8M465.4 357.8h0.8M485.1 347.8h0.8M470.9 356.8h0.8M483.1 346.6h0.8M475.9 352.8h0.8M479.3 348.4h0.8M476.7 351.9h0.8M474.4 352.7h0.8M481.2 346.8h0.8M472.3 349.8h0.8M483.7 348.1h0.8M467.4 355.4h0.8M470.7 352.5h0.8M472.1 350.5h0.8M472.5 352.4h0.8M473.5 355.2h0.8M471.5 350.6h0.8M467.0 353.8h0.8M477.3 349.0h0.8M465.6 358.5h0.8M485.0 348.4h0.8M468.1 352.8h0.8M479.1 349.2h0.8M477.8 348.9h0.8M483.0 350.0h0.8M487.8 345.3h0.8M480.9 348.5h0.8M474.0 350.1h0.8M477.8 349.8h0.8M470.1 356.4h0.8M480.5 347.2h0.8M485.2 348.2h0.8M478.1 351.9h0.8M483.0 347.9h0.8M468.3 354.5h0.8M474.7 353.3h0.8M475.9 354.1h0.8M473.2 353.6h0.8M469.0 353.4h0.8M477.8 348.5h0.8M475.5 349.0h0.8M478.2 349.8h0.8M471.9 350.8h0.8M484.1 347.8h0.8M482.9 346.4h0.8M479.0 350.1h0.8M477.9 350.5h0.8M471.0 353.4h0.8M473.7 352.5h0.8M479.4 352.0h0.8M481.2 350.1h0.8M484.4 347.0h0.8M480.2 348.9h0.8M473.4 350.6h0.8M477.5 349.5h0.8M480.0 350.5h0.8M474.8 352.7h0.8M477.5 350.1h0.8M483.2 346.4h0.8M475.2 353.3h0.8M469.4 350.5h0.8M468.1 353.4h0.8M482.7 347.8h0.8M482.0 347.7h0.8M476.2 352.4h0.8M474.0 351.3h0.8M478.3 349.2h0.8M477.3 347.6h0.8M479.8 350.7h0.8M467.6 349.7h0.8M470.4 355.4h0.8M467.0 350.7h0.8M467.6 354.5h0.8M473.7 355.5h0.8M481.9 346.2h0.8M471.5 354.7h0.8M465.9 355.7h0.8M475.5 352.0h0.8M486.1 346.7h0.8M474.6 354.0h0.8M480.6 349.9h0.8M484.1 348.0h0.8M475.8 352.4h0.8M482.5 350.8h0.8M466.4 354.4h0.8M468.6 353.9h0.8M477.4 351.0h0.8M485.5 346.7h0.8M476.5 350.2h0.8M477.5 350.5h0.8M471.9 353.6h0.8M476.6 353.4h0.8M472.5 350.5h0.8M473.3 351.1h0.8M484.1 348.5h0.8M480.1 348.4h0.8M467.6 355.2h0.8M466.3 357.7h0.8M467.8 355.8h0.8M467.6 356.5h0.8M477.5 349.3h0.8M480.3 349.9h0.8M482.0 346.1h0.8M480.0 350.3h0.8M465.0 354.6h0.8M483.8 349.0h0.8M483.7 345.5h0.8M477.7 350.4h0.8M483.9 348.3h0.8M473.4 349.8h0.8M479.7 349.8h0.8M471.1 354.2h0.8M479.0 350.7h0.8M468.0 356.6h0.8M478.9 350.9h0.8M482.3 347.1h0.8M479.1 351.5h0.8M484.6 346.6h0.8M474.3 353.0h0.8M480.4 349.5h0.8M483.7 347.6h0.8M477.1 347.9h0.8M472.4 350.5h0.8M480.2 349.2h0.8M473.4 352.9h0.8M480.9 349.1h0.8M477.2 351.5h0.8M469.5 351.6h0.8M474.9 350.2h0.8M469.6 353.7h0.8M472.3 353.3h0.8M472.1 355.6h0.8M480.7 347.6h0.8M476.0 351.0h0.8M470.4 350.5h0.8M483.8 346.8h0.8M483.1 347.5h0.8M482.6 346.8h0.8M476.7 351.2h0.8M470.4 353.2h0.8M482.4 348.5h0.8M478.0 347.5h0.8M470.6 356.9h0.8M474.0 350.1h0.8M479.7 349.6h0.8M470.2 354.6h0.8M464.1 353.5h0.8M482.0 349.3h0.8M480.0 346.6h0.8M473.1 350.8h0.8M468.8 355.1h0.8M475.7 351.7h0.8M469.3 357.1h0.8M478.4 350.6h0.8M470.7 352.7h0.8M479.0 348.1h0.8M482.2 349.3h0.8M486.3 346.9h0.8M481.8 348.2h0.8M476.9 351.1h0.8M484.7 345.1h0.8M478.4 352.5h0.8M468.8 354.8h0.8M477.5 354.8h0.8M479.7 348.4h0.8M472.6 351.9h0.8M466.1 354.9h0.8M484.0 345.4h0.8M475.0 354.1h0.8M468.8 351.5h0.8M473.3 353.6h0.8M469.9 354.1h0.8M474.2 353.5h0.8M486.1 345.8h0.8M478.3 351.8h0.8M471.0 354.4h0.8M477.3 350.1h0.8M484.8 347.9h0.8M485.1 345.9h0.8M474.6 348.7h0.8M469.4 354.6h0.8M486.3 345.7h0.8M481.2 349.2h0.8M484.8 347.0h0.8M475.5 351.5h0.8M464.1 360.6h0.8M473.8 351.9h0.8M480.3 351.4h0.8M480.4 350.4h0.8M476.6 349.7h0.8M477.6 348.9h0.8M476.5 348.7h0.8M468.4 356.7h0.8M480.6 347.8h0.8M468.0 353.1h0.8M486.0 344.7h0.8M485.7 346.2h0.8M466.9 354.7h0.8M481.3 347.5h0.8M478.8 349.3h0.8M478.8 353.6h0.8M476.1 350.3h0.8M467.6 355.7h0.8M478.4 354.1h0.8M466.7 352.6h0.8M479.9 347.6h0.8M475.4 351.9h0.8M474.3 353.3h0.8M465.0 355.3h0.8M478.9 349.3h0.8M482.4 350.2h0.8M474.7 349.6h0.8M471.3 354.1h0.8M478.3 349.4h0.8M464.1 357.8h0.8M474.9 352.1h0.8M479.1 349.4h0.8M481.6 349.0h0.8M482.2 347.7h0.8M477.0 351.7h0.8M469.7 357.3h0.8M479.4 352.0h0.8M469.4 354.0h0.8M477.0 353.6h0.8M477.6 349.7h0.8M477.8 351.6h0.8M487.4 345.3h0.8M467.8 351.9h0.8M482.0 348.1h0.8M474.1 354.3h0.8M476.3 353.6h0.8M473.1 350.2h0.8M488.0 346.4h0.8M466.9 352.4h0.8M470.1 354.8h0.8M478.9 352.3h0.8M487.1 345.4h0.8M477.0 349.5h0.8M480.1 348.7h0.8M475.8 352.4h0.8M483.5 346.1h0.8M481.9 346.0h0.8M481.7 346.1h0.8M484.8 349.3h0.8M481.7 348.0h0.8M473.3 349.4h0.8M478.6 351.0h0.8M469.9 355.2h0.8M476.5 349.5h0.8M485.7 347.3h0.8M482.6 349.8h0.8M475.2 349.9h0.8M479.7 349.0h0.8M481.0 348.8h0.8M472.0 352.3h0.8M482.0 348.7h0.8M484.2 347.0h0.8M466.0 355.8h0.8M481.4 350.4h0.8M482.3 349.4h0.8M471.9 353.2h0.8M479.9 351.5h0.8M472.3 352.8h0.8M484.5 346.2h0.8M484.4 347.1h0.8M473.6 352.2h0.8M484.2 347.7h0.8M478.4 349.7h0.8M475.0 351.0h0.8M477.4 354.0h0.8M478.0 350.9h0.8M484.6 350.6h0.8M477.1 350.8h0.8M478.0 350.3h0.8M482.3 349.4h0.8M479.1 352.1h0.8M483.6 348.2h0.8M469.7 354.5h0.8M485.3 348.1h0.8M476.3 349.2h0.8M474.5 352.5h0.8M471.5 351.2h0.8M479.0 350.0h0.8M479.9 349.2h0.8M476.6 350.5h0.8M481.6 349.9h0.8M483.4 347.5h0.8M479.7 351.1h0.8M484.0 347.4h0.8M480.6 350.7h0.8M478.5 352.8h0.8M478.4 349.3h0.8M475.4 351.5h0.8M474.5 352.1h0.8M480.1 350.7h0.8M473.4 350.7h0.8M470.3 353.0h0.8M473.7 352.0h0.8M477.8 348.3h0.8M475.6 350.7h0.8M480.5 348.8h0.8M475.1 353.4h0.8M470.8 354.5h0.8M483.1 347.2h0.8M480.1 349.6h0.8M481.9 347.4h0.8M474.1 352.2h0.8M476.5 352.2h0.8M487.6 347.4h0.8M476.7 352.8h0.8M482.4 349.6h0.8M474.3 349.6h0.8M487.5 346.9h0.8M474.9 351.7h0.8M474.0 348.6h0.8M465.1 356.8h0.8M478.3 348.9h0.8M472.7 349.8h0.8M469.2 353.0h0.8M484.1 346.2h0.8M473.3 352.8h0.8M482.5 347.7h0.8M486.7 345.0h0.8M465.9 356.0h0.8M472.4 351.4h0.8M482.8 347.6h0.8M482.2 348.5h0.8M486.2 347.1h0.8M467.7 353.2h0.8M476.5 348.3h0.8M479.5 350.7h0.8M484.8 348.3h0.8M483.8 349.0h0.8M472.2 350.2h0.8M469.8 353.8h0.8M467.3 352.2h0.8M468.7 355.9h0.8M485.3 345.6h0.8M484.1 346.5h0.8M479.7 349.6h0.8M477.9 347.7h0.8M481.4 346.8h0.8M479.6 350.6h0.8M482.0 348.5h0.8M467.2 355.1h0.8M476.2 352.4h0.8M487.5 345.1h0.8M481.6 345.9h0.8M477.2 349.9h0.8M467.4 355.4h0.8M471.4 350.2h0.8M474.2 353.1h0.8M473.7 350.0h0.8M484.8 348.2h0.8M483.5 347.6h0.8M478.2 349.5h0.8M484.2 346.8h0.8M474.5 350.0h0.8M476.5 354.0h0.8M474.5 352.4h0.8M482.9 347.9h0.8M474.1 353.1h0.8M471.0 349.7h0.8M478.5 351.7h0.8M481.1 352.1h0.8M474.3 351.8h0.8M481.1 349.2h0.8M474.7 348.7h0.8M473.9 352.0h0.8M470.4 354.1h0.8M469.0 352.9h0.8M483.1 348.1h0.8M482.3 348.1h0.8M478.6 350.0h0.8M484.1 348.8h0.8M484.6 347.1h0.8M482.1 348.4h0.8M485.5 347.9h0.8M479.6 349.0h0.8M476.2 353.4h0.8M480.6 348.1h0.8M467.1 353.6h0.8M473.1 349.1h0.8M478.2 349.3h0.8M469.4 353.4h0.8M480.0 349.7h0.8M474.3 350.4h0.8M480.9 347.9h0.8M473.2 353.4h0.8M468.0 355.8h0.8M476.4 350.0h0.8M484.8 346.0h0.8M473.6 352.8h0.8" stroke="#000" stroke-width="0.75" stroke-opacity="1.00" fill="none"/>
<text x="449.45" y="325.80" text-anchor="end" class="p">6%</text>
<text x="514.15" y="326.00" text-anchor="end" class="p">46%</text>
</svg></body></html>
